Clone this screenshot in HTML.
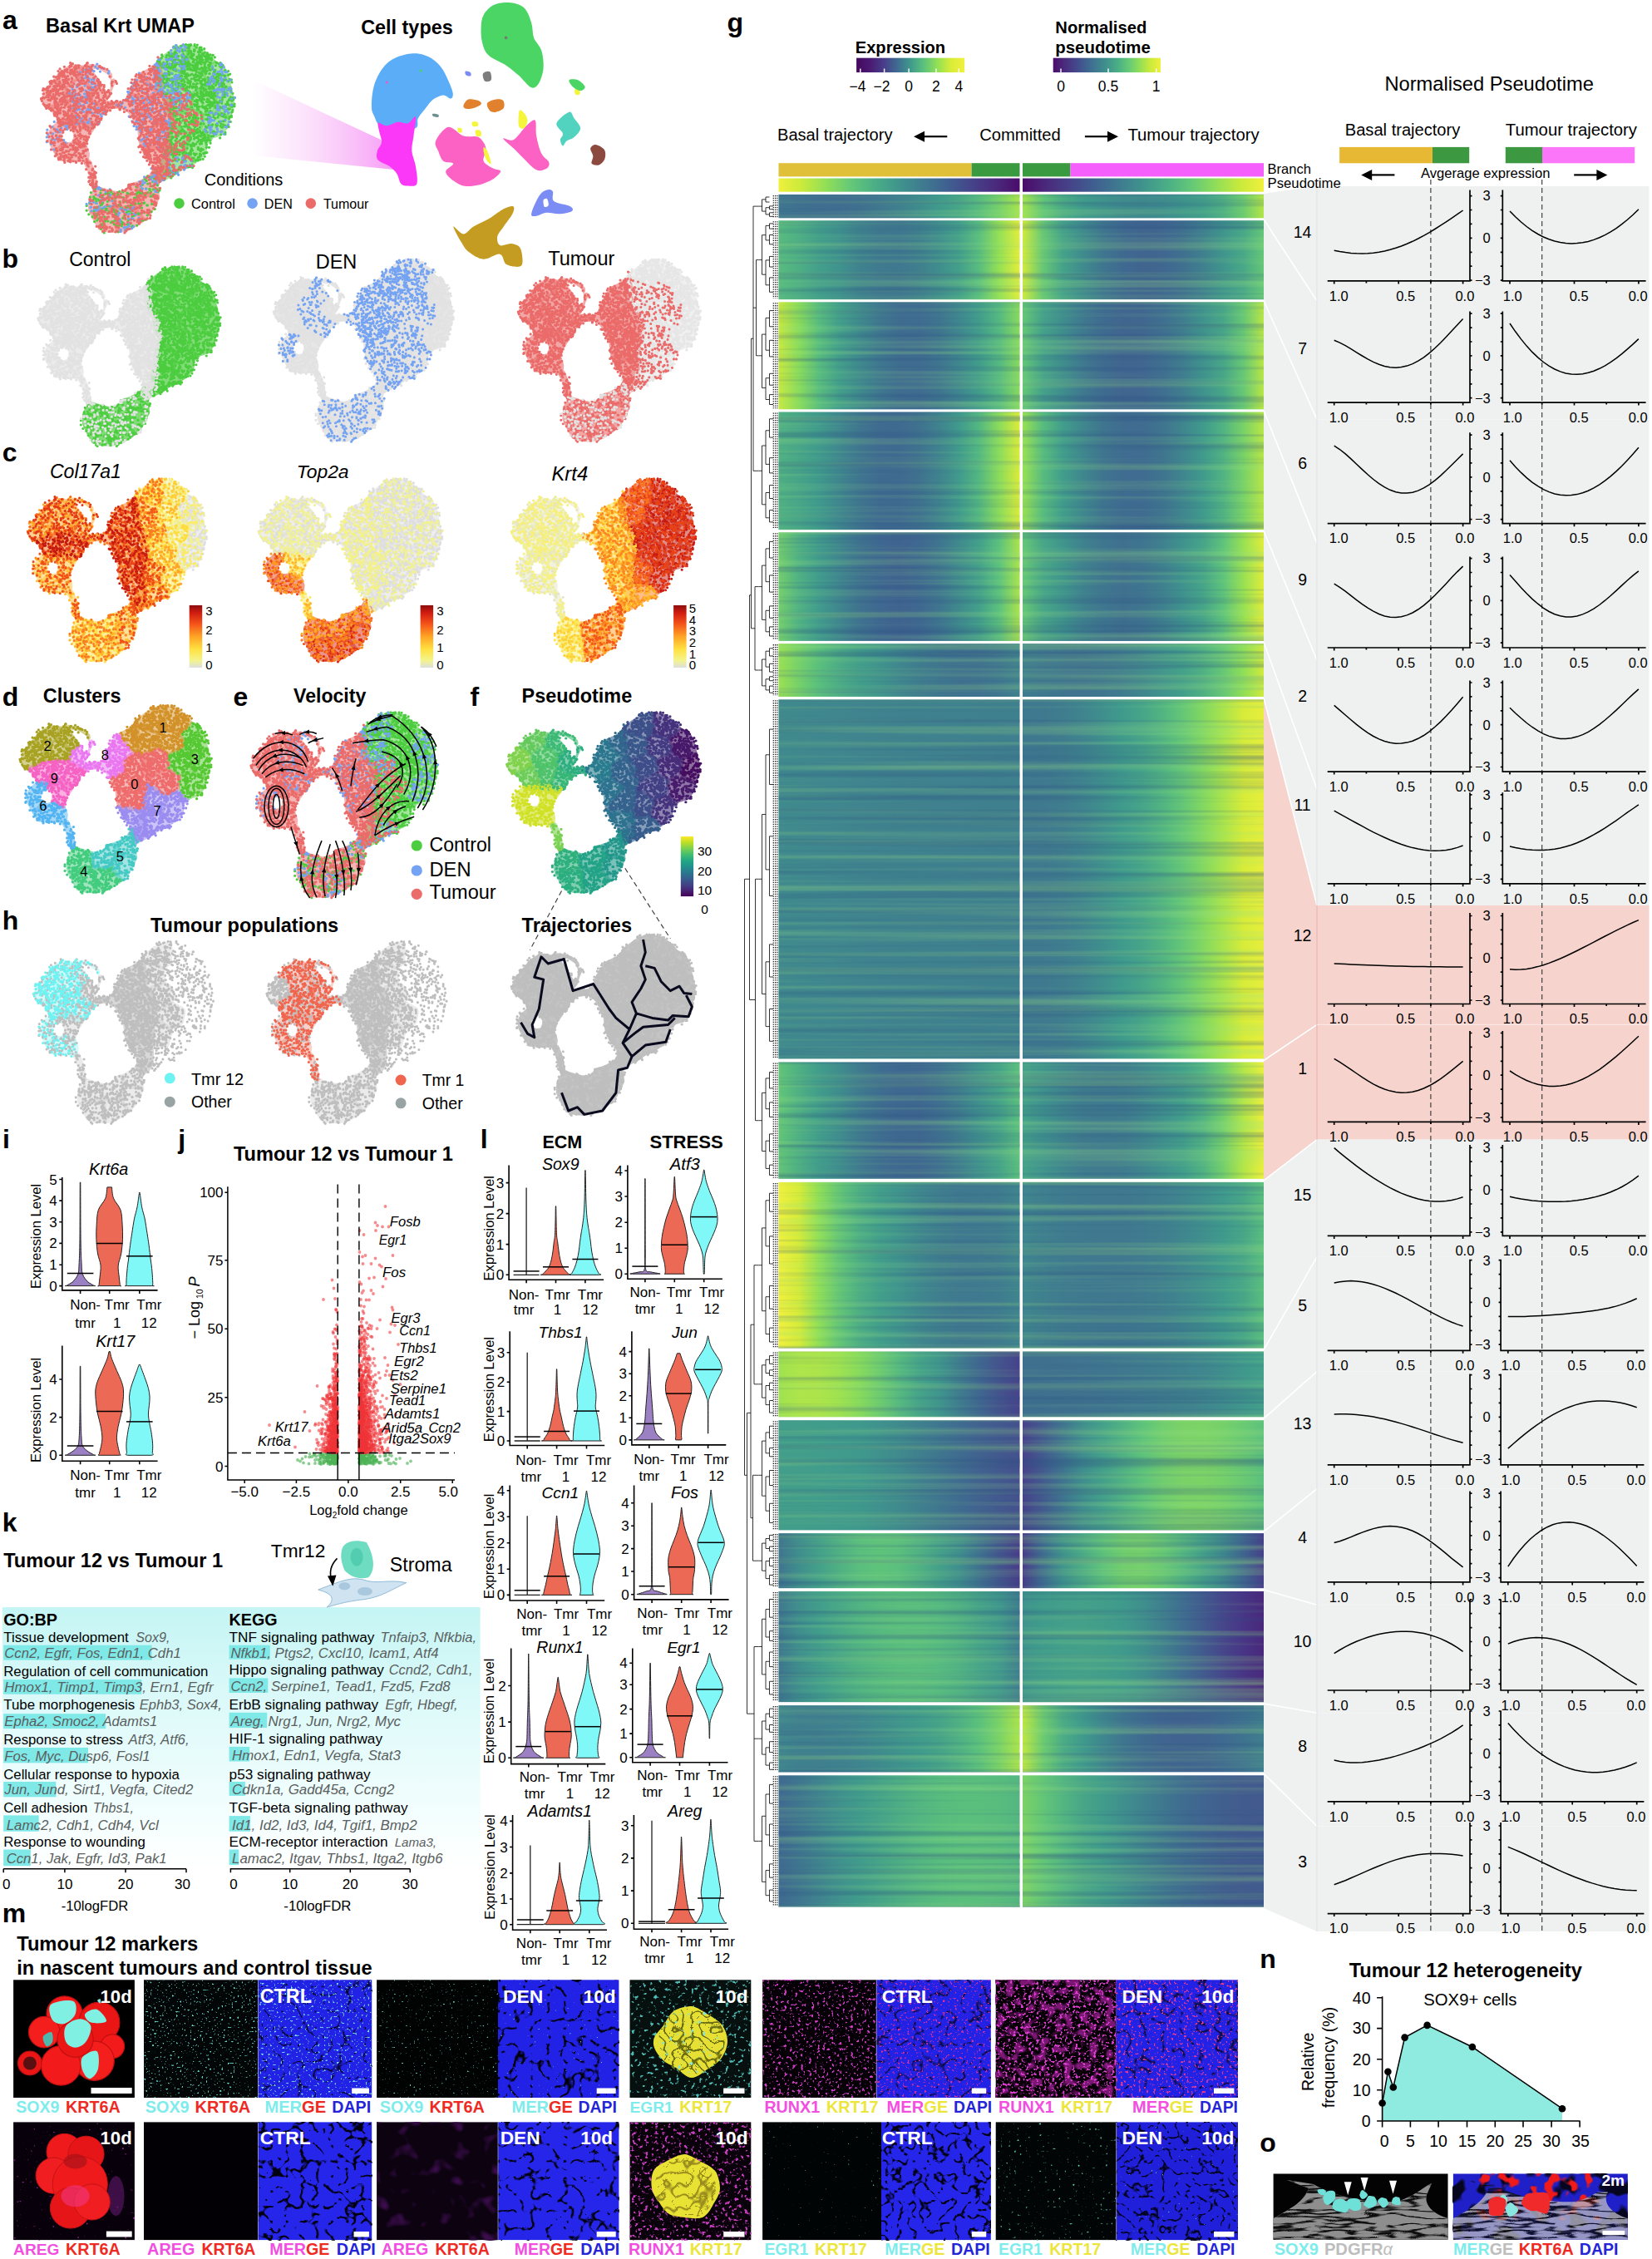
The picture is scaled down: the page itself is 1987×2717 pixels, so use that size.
<!DOCTYPE html>
<html><head><meta charset="utf-8"><title>Figure</title>
<style>
html,body{margin:0;padding:0;background:#fff}
svg{display:block;font-family:"Liberation Sans",sans-serif}

</style></head><body>
<svg width="1987" height="2717" viewBox="0 0 1987 2717">
<defs>
<linearGradient id="h00"><stop offset="0.000" stop-color="#3f768f"/><stop offset="0.083" stop-color="#3f718f"/><stop offset="0.167" stop-color="#3f6e90"/><stop offset="0.250" stop-color="#3f6d90"/><stop offset="0.333" stop-color="#3f708f"/><stop offset="0.417" stop-color="#3f778f"/><stop offset="0.500" stop-color="#3f808e"/><stop offset="0.583" stop-color="#3f8c8d"/><stop offset="0.667" stop-color="#3f9a8c"/><stop offset="0.750" stop-color="#48a687"/><stop offset="0.833" stop-color="#57bb7f"/><stop offset="0.917" stop-color="#77d168"/><stop offset="1.000" stop-color="#a8e44c"/></linearGradient><linearGradient id="h01"><stop offset="0.000" stop-color="#a3e34e"/><stop offset="0.083" stop-color="#62c677"/><stop offset="0.167" stop-color="#4bab85"/><stop offset="0.250" stop-color="#409c8b"/><stop offset="0.333" stop-color="#3f938d"/><stop offset="0.417" stop-color="#3f8c8d"/><stop offset="0.500" stop-color="#3f8a8d"/><stop offset="0.583" stop-color="#3f8e8d"/><stop offset="0.667" stop-color="#3f978c"/><stop offset="0.750" stop-color="#43a08a"/><stop offset="0.833" stop-color="#50b183"/><stop offset="0.917" stop-color="#6ecc6f"/><stop offset="1.000" stop-color="#b2e548"/></linearGradient><linearGradient id="h10"><stop offset="0.000" stop-color="#57bb7f"/><stop offset="0.083" stop-color="#4eaf84"/><stop offset="0.167" stop-color="#439f8a"/><stop offset="0.250" stop-color="#3f938d"/><stop offset="0.333" stop-color="#3f838e"/><stop offset="0.417" stop-color="#3f7a8f"/><stop offset="0.500" stop-color="#3f788f"/><stop offset="0.583" stop-color="#3f7f8e"/><stop offset="0.667" stop-color="#3f8e8d"/><stop offset="0.750" stop-color="#43a08a"/><stop offset="0.833" stop-color="#59be7e"/><stop offset="0.917" stop-color="#96e153"/><stop offset="1.000" stop-color="#e3ee3b"/></linearGradient><linearGradient id="h11"><stop offset="0.000" stop-color="#d0eb3c"/><stop offset="0.083" stop-color="#67c874"/><stop offset="0.167" stop-color="#45a289"/><stop offset="0.250" stop-color="#3f8b8d"/><stop offset="0.333" stop-color="#3f768f"/><stop offset="0.417" stop-color="#3f6990"/><stop offset="0.500" stop-color="#40658f"/><stop offset="0.583" stop-color="#406790"/><stop offset="0.667" stop-color="#3f708f"/><stop offset="0.750" stop-color="#3f808e"/><stop offset="0.833" stop-color="#3f958c"/><stop offset="0.917" stop-color="#49a887"/><stop offset="1.000" stop-color="#64c776"/></linearGradient><linearGradient id="h20"><stop offset="0.000" stop-color="#c8e93f"/><stop offset="0.083" stop-color="#8adc5b"/><stop offset="0.167" stop-color="#58bd7e"/><stop offset="0.250" stop-color="#43a08a"/><stop offset="0.333" stop-color="#3f8b8d"/><stop offset="0.417" stop-color="#3f788f"/><stop offset="0.500" stop-color="#3f6d90"/><stop offset="0.583" stop-color="#3f6c90"/><stop offset="0.667" stop-color="#3f758f"/><stop offset="0.750" stop-color="#3f878e"/><stop offset="0.833" stop-color="#419d8b"/><stop offset="0.917" stop-color="#55b980"/><stop offset="1.000" stop-color="#88da5d"/></linearGradient><linearGradient id="h21"><stop offset="0.000" stop-color="#64c676"/><stop offset="0.083" stop-color="#45a289"/><stop offset="0.167" stop-color="#3f8d8d"/><stop offset="0.250" stop-color="#3f798f"/><stop offset="0.333" stop-color="#3f6b90"/><stop offset="0.417" stop-color="#40668f"/><stop offset="0.500" stop-color="#406790"/><stop offset="0.583" stop-color="#3f6f90"/><stop offset="0.667" stop-color="#3f7e8e"/><stop offset="0.750" stop-color="#3f938d"/><stop offset="0.833" stop-color="#48a687"/><stop offset="0.917" stop-color="#67c874"/><stop offset="1.000" stop-color="#b8e646"/></linearGradient><linearGradient id="h30"><stop offset="0.000" stop-color="#4fb083"/><stop offset="0.083" stop-color="#48a687"/><stop offset="0.167" stop-color="#3f9a8c"/><stop offset="0.250" stop-color="#3f878e"/><stop offset="0.333" stop-color="#3f768f"/><stop offset="0.417" stop-color="#3f6b90"/><stop offset="0.500" stop-color="#3f6a90"/><stop offset="0.583" stop-color="#3f728f"/><stop offset="0.667" stop-color="#3f838e"/><stop offset="0.750" stop-color="#409b8c"/><stop offset="0.833" stop-color="#54b880"/><stop offset="0.917" stop-color="#8cdc5a"/><stop offset="1.000" stop-color="#dcec39"/></linearGradient><linearGradient id="h31"><stop offset="0.000" stop-color="#98e152"/><stop offset="0.083" stop-color="#58bc7e"/><stop offset="0.167" stop-color="#419d8b"/><stop offset="0.250" stop-color="#3f878e"/><stop offset="0.333" stop-color="#3f758f"/><stop offset="0.417" stop-color="#3f6c90"/><stop offset="0.500" stop-color="#3f6c90"/><stop offset="0.583" stop-color="#3f758f"/><stop offset="0.667" stop-color="#3f868e"/><stop offset="0.750" stop-color="#409b8c"/><stop offset="0.833" stop-color="#51b382"/><stop offset="0.917" stop-color="#79d267"/><stop offset="1.000" stop-color="#b8e646"/></linearGradient><linearGradient id="h40"><stop offset="0.000" stop-color="#72ce6c"/><stop offset="0.083" stop-color="#50b183"/><stop offset="0.167" stop-color="#409b8c"/><stop offset="0.250" stop-color="#3f868e"/><stop offset="0.333" stop-color="#3f738f"/><stop offset="0.417" stop-color="#3f6890"/><stop offset="0.500" stop-color="#40648f"/><stop offset="0.583" stop-color="#3f6890"/><stop offset="0.667" stop-color="#3f758f"/><stop offset="0.750" stop-color="#3f8a8d"/><stop offset="0.833" stop-color="#43a08a"/><stop offset="0.917" stop-color="#5cc27c"/><stop offset="1.000" stop-color="#aae44b"/></linearGradient><linearGradient id="h41"><stop offset="0.000" stop-color="#65c775"/><stop offset="0.083" stop-color="#49a787"/><stop offset="0.167" stop-color="#3f958c"/><stop offset="0.250" stop-color="#3f828e"/><stop offset="0.333" stop-color="#3f768f"/><stop offset="0.417" stop-color="#3f718f"/><stop offset="0.500" stop-color="#3f758f"/><stop offset="0.583" stop-color="#3f818e"/><stop offset="0.667" stop-color="#3f938d"/><stop offset="0.750" stop-color="#47a588"/><stop offset="0.833" stop-color="#5ec37b"/><stop offset="0.917" stop-color="#99e152"/><stop offset="1.000" stop-color="#e0ed3a"/></linearGradient><linearGradient id="h50"><stop offset="0.000" stop-color="#9be152"/><stop offset="0.083" stop-color="#76d169"/><stop offset="0.167" stop-color="#59bf7d"/><stop offset="0.250" stop-color="#4cac85"/><stop offset="0.333" stop-color="#429e8a"/><stop offset="0.417" stop-color="#3f948d"/><stop offset="0.500" stop-color="#3f878e"/><stop offset="0.583" stop-color="#3f7d8e"/><stop offset="0.667" stop-color="#3f768f"/><stop offset="0.750" stop-color="#3f728f"/><stop offset="0.833" stop-color="#3f728f"/><stop offset="0.917" stop-color="#3f778f"/><stop offset="1.000" stop-color="#3f818e"/></linearGradient><linearGradient id="h51"><stop offset="0.000" stop-color="#3f7e8e"/><stop offset="0.083" stop-color="#3f788f"/><stop offset="0.167" stop-color="#3f748f"/><stop offset="0.250" stop-color="#3f738f"/><stop offset="0.333" stop-color="#3f768f"/><stop offset="0.417" stop-color="#3f7c8f"/><stop offset="0.500" stop-color="#3f868e"/><stop offset="0.583" stop-color="#3f938d"/><stop offset="0.667" stop-color="#429f8a"/><stop offset="0.750" stop-color="#4fb083"/><stop offset="0.833" stop-color="#66c775"/><stop offset="0.917" stop-color="#90df56"/><stop offset="1.000" stop-color="#cfea3c"/></linearGradient><linearGradient id="h60"><stop offset="0.000" stop-color="#3f8a8d"/><stop offset="0.083" stop-color="#3f888d"/><stop offset="0.167" stop-color="#3f878e"/><stop offset="0.250" stop-color="#3f868e"/><stop offset="0.333" stop-color="#3f848e"/><stop offset="0.417" stop-color="#3f838e"/><stop offset="0.500" stop-color="#3f828e"/><stop offset="0.583" stop-color="#3f828e"/><stop offset="0.667" stop-color="#3f818e"/><stop offset="0.750" stop-color="#3f818e"/><stop offset="0.833" stop-color="#3f808e"/><stop offset="0.917" stop-color="#3f808e"/><stop offset="1.000" stop-color="#3f808e"/></linearGradient><linearGradient id="h61"><stop offset="0.000" stop-color="#3f798f"/><stop offset="0.083" stop-color="#3f798f"/><stop offset="0.167" stop-color="#3f7d8e"/><stop offset="0.250" stop-color="#3f848e"/><stop offset="0.333" stop-color="#3f8f8d"/><stop offset="0.417" stop-color="#3f9b8c"/><stop offset="0.500" stop-color="#47a588"/><stop offset="0.583" stop-color="#52b581"/><stop offset="0.667" stop-color="#65c776"/><stop offset="0.750" stop-color="#83d860"/><stop offset="0.833" stop-color="#aae44b"/><stop offset="0.917" stop-color="#d7ec39"/><stop offset="1.000" stop-color="#e7ee3c"/></linearGradient><linearGradient id="h70"><stop offset="0.000" stop-color="#62c577"/><stop offset="0.083" stop-color="#4fb083"/><stop offset="0.167" stop-color="#419d8b"/><stop offset="0.250" stop-color="#3f8d8d"/><stop offset="0.333" stop-color="#3f7b8f"/><stop offset="0.417" stop-color="#3f6e90"/><stop offset="0.500" stop-color="#3f6890"/><stop offset="0.583" stop-color="#3f6890"/><stop offset="0.667" stop-color="#3f7090"/><stop offset="0.750" stop-color="#3f7e8e"/><stop offset="0.833" stop-color="#3f918d"/><stop offset="0.917" stop-color="#45a388"/><stop offset="1.000" stop-color="#59be7e"/></linearGradient><linearGradient id="h71"><stop offset="0.000" stop-color="#44a189"/><stop offset="0.083" stop-color="#3f948d"/><stop offset="0.167" stop-color="#3f868e"/><stop offset="0.250" stop-color="#3f7d8e"/><stop offset="0.333" stop-color="#3f7a8f"/><stop offset="0.417" stop-color="#3f7c8e"/><stop offset="0.500" stop-color="#3f858e"/><stop offset="0.583" stop-color="#3f928d"/><stop offset="0.667" stop-color="#429f8a"/><stop offset="0.750" stop-color="#51b382"/><stop offset="0.833" stop-color="#73cf6b"/><stop offset="0.917" stop-color="#b4e647"/><stop offset="1.000" stop-color="#eaef3c"/></linearGradient><linearGradient id="h80"><stop offset="0.000" stop-color="#f0f03e"/><stop offset="0.083" stop-color="#d6ec39"/><stop offset="0.167" stop-color="#90df57"/><stop offset="0.250" stop-color="#64c676"/><stop offset="0.333" stop-color="#4eaf84"/><stop offset="0.417" stop-color="#429f8a"/><stop offset="0.500" stop-color="#3f948d"/><stop offset="0.583" stop-color="#3f878e"/><stop offset="0.667" stop-color="#3f7e8e"/><stop offset="0.750" stop-color="#3f798f"/><stop offset="0.833" stop-color="#3f798f"/><stop offset="0.917" stop-color="#3f7c8e"/><stop offset="1.000" stop-color="#3f858e"/></linearGradient><linearGradient id="h81"><stop offset="0.000" stop-color="#3f868e"/><stop offset="0.083" stop-color="#3f808e"/><stop offset="0.167" stop-color="#3f7b8f"/><stop offset="0.250" stop-color="#3f798f"/><stop offset="0.333" stop-color="#3f788f"/><stop offset="0.417" stop-color="#3f788f"/><stop offset="0.500" stop-color="#3f7b8f"/><stop offset="0.583" stop-color="#3f7f8e"/><stop offset="0.667" stop-color="#3f868e"/><stop offset="0.750" stop-color="#3f8f8d"/><stop offset="0.833" stop-color="#3f9a8c"/><stop offset="0.917" stop-color="#48a687"/><stop offset="1.000" stop-color="#59be7e"/></linearGradient><linearGradient id="h90"><stop offset="0.000" stop-color="#a0e24f"/><stop offset="0.083" stop-color="#ade54a"/><stop offset="0.167" stop-color="#ade44a"/><stop offset="0.250" stop-color="#9fe250"/><stop offset="0.333" stop-color="#88db5c"/><stop offset="0.417" stop-color="#6ecc6f"/><stop offset="0.500" stop-color="#56b980"/><stop offset="0.583" stop-color="#46a488"/><stop offset="0.667" stop-color="#3f958c"/><stop offset="0.750" stop-color="#3f7d8e"/><stop offset="0.833" stop-color="#406790"/><stop offset="0.917" stop-color="#44538d"/><stop offset="1.000" stop-color="#47438b"/></linearGradient><linearGradient id="h91"><stop offset="0.000" stop-color="#3f718f"/><stop offset="0.083" stop-color="#3f718f"/><stop offset="0.167" stop-color="#3f728f"/><stop offset="0.250" stop-color="#3f738f"/><stop offset="0.333" stop-color="#3f758f"/><stop offset="0.417" stop-color="#3f788f"/><stop offset="0.500" stop-color="#3f7b8f"/><stop offset="0.583" stop-color="#3f7e8e"/><stop offset="0.667" stop-color="#3f828e"/><stop offset="0.750" stop-color="#3f878e"/><stop offset="0.833" stop-color="#3f8e8d"/><stop offset="0.917" stop-color="#3f988c"/><stop offset="1.000" stop-color="#43a08a"/></linearGradient><linearGradient id="h100"><stop offset="0.000" stop-color="#429e8a"/><stop offset="0.083" stop-color="#429e8a"/><stop offset="0.167" stop-color="#419d8b"/><stop offset="0.250" stop-color="#409b8c"/><stop offset="0.333" stop-color="#3f998c"/><stop offset="0.417" stop-color="#3f928d"/><stop offset="0.500" stop-color="#3f8a8d"/><stop offset="0.583" stop-color="#3f808e"/><stop offset="0.667" stop-color="#3f768f"/><stop offset="0.750" stop-color="#3f6c90"/><stop offset="0.833" stop-color="#41628f"/><stop offset="0.917" stop-color="#42598e"/><stop offset="1.000" stop-color="#44518d"/></linearGradient><linearGradient id="h101"><stop offset="0.000" stop-color="#47428b"/><stop offset="0.083" stop-color="#425a8e"/><stop offset="0.167" stop-color="#3f748f"/><stop offset="0.250" stop-color="#3f8e8d"/><stop offset="0.333" stop-color="#43a08a"/><stop offset="0.417" stop-color="#50b183"/><stop offset="0.500" stop-color="#5dc37b"/><stop offset="0.583" stop-color="#70cd6e"/><stop offset="0.667" stop-color="#7ad267"/><stop offset="0.750" stop-color="#7bd366"/><stop offset="0.833" stop-color="#74d06a"/><stop offset="0.917" stop-color="#68c973"/><stop offset="1.000" stop-color="#5bc07d"/></linearGradient><linearGradient id="h110"><stop offset="0.000" stop-color="#3f758f"/><stop offset="0.083" stop-color="#3f8e8d"/><stop offset="0.167" stop-color="#43a08a"/><stop offset="0.250" stop-color="#4fb083"/><stop offset="0.333" stop-color="#59be7e"/><stop offset="0.417" stop-color="#5dc37b"/><stop offset="0.500" stop-color="#5abf7d"/><stop offset="0.583" stop-color="#50b183"/><stop offset="0.667" stop-color="#44a089"/><stop offset="0.750" stop-color="#3f8e8d"/><stop offset="0.833" stop-color="#3f728f"/><stop offset="0.917" stop-color="#43558d"/><stop offset="1.000" stop-color="#483c89"/></linearGradient><linearGradient id="h111"><stop offset="0.000" stop-color="#483c89"/><stop offset="0.083" stop-color="#3f6c90"/><stop offset="0.167" stop-color="#3f948c"/><stop offset="0.250" stop-color="#4cac85"/><stop offset="0.333" stop-color="#5dc37b"/><stop offset="0.417" stop-color="#70cd6d"/><stop offset="0.500" stop-color="#73cf6b"/><stop offset="0.583" stop-color="#66c875"/><stop offset="0.667" stop-color="#54b781"/><stop offset="0.750" stop-color="#44a189"/><stop offset="0.833" stop-color="#3f898d"/><stop offset="0.917" stop-color="#40668f"/><stop offset="1.000" stop-color="#483f8a"/></linearGradient><linearGradient id="h120"><stop offset="0.000" stop-color="#3f788f"/><stop offset="0.083" stop-color="#3f8f8d"/><stop offset="0.167" stop-color="#419d8b"/><stop offset="0.250" stop-color="#49a887"/><stop offset="0.333" stop-color="#50b282"/><stop offset="0.417" stop-color="#56b97f"/><stop offset="0.500" stop-color="#59bd7e"/><stop offset="0.583" stop-color="#59bd7e"/><stop offset="0.667" stop-color="#55b980"/><stop offset="0.750" stop-color="#4fb083"/><stop offset="0.833" stop-color="#46a388"/><stop offset="0.917" stop-color="#3f978c"/><stop offset="1.000" stop-color="#3f7d8e"/></linearGradient><linearGradient id="h121"><stop offset="0.000" stop-color="#3f948d"/><stop offset="0.083" stop-color="#409c8b"/><stop offset="0.167" stop-color="#439f8a"/><stop offset="0.250" stop-color="#44a089"/><stop offset="0.333" stop-color="#429e8a"/><stop offset="0.417" stop-color="#3f9a8c"/><stop offset="0.500" stop-color="#3f8f8d"/><stop offset="0.583" stop-color="#3f7f8e"/><stop offset="0.667" stop-color="#3f6d90"/><stop offset="0.750" stop-color="#425a8e"/><stop offset="0.833" stop-color="#46468b"/><stop offset="0.917" stop-color="#483585"/><stop offset="1.000" stop-color="#49287c"/></linearGradient><linearGradient id="h130"><stop offset="0.000" stop-color="#3f868e"/><stop offset="0.083" stop-color="#3f808e"/><stop offset="0.167" stop-color="#3f7f8e"/><stop offset="0.250" stop-color="#3f818e"/><stop offset="0.333" stop-color="#3f858e"/><stop offset="0.417" stop-color="#3f8c8d"/><stop offset="0.500" stop-color="#3f948c"/><stop offset="0.583" stop-color="#409b8b"/><stop offset="0.667" stop-color="#46a388"/><stop offset="0.750" stop-color="#4fb083"/><stop offset="0.833" stop-color="#5bc17c"/><stop offset="0.917" stop-color="#7bd366"/><stop offset="1.000" stop-color="#ace44a"/></linearGradient><linearGradient id="h131"><stop offset="0.000" stop-color="#bee743"/><stop offset="0.083" stop-color="#6dcc6f"/><stop offset="0.167" stop-color="#4cac85"/><stop offset="0.250" stop-color="#3f9a8c"/><stop offset="0.333" stop-color="#3f868e"/><stop offset="0.417" stop-color="#3f768f"/><stop offset="0.500" stop-color="#3f6b90"/><stop offset="0.583" stop-color="#40658f"/><stop offset="0.667" stop-color="#40638f"/><stop offset="0.750" stop-color="#40658f"/><stop offset="0.833" stop-color="#3f6a90"/><stop offset="0.917" stop-color="#3f738f"/><stop offset="1.000" stop-color="#3f7f8e"/></linearGradient><linearGradient id="h140"><stop offset="0.000" stop-color="#3f6a90"/><stop offset="0.083" stop-color="#3f758f"/><stop offset="0.167" stop-color="#3f838e"/><stop offset="0.250" stop-color="#3f918d"/><stop offset="0.333" stop-color="#409b8b"/><stop offset="0.417" stop-color="#46a488"/><stop offset="0.500" stop-color="#4dad84"/><stop offset="0.583" stop-color="#53b681"/><stop offset="0.667" stop-color="#57bc7e"/><stop offset="0.750" stop-color="#5abf7d"/><stop offset="0.833" stop-color="#5abf7d"/><stop offset="0.917" stop-color="#58bc7e"/><stop offset="1.000" stop-color="#54b780"/></linearGradient><linearGradient id="h141"><stop offset="0.000" stop-color="#7bd365"/><stop offset="0.083" stop-color="#63c677"/><stop offset="0.167" stop-color="#53b681"/><stop offset="0.250" stop-color="#48a687"/><stop offset="0.333" stop-color="#409c8b"/><stop offset="0.417" stop-color="#3f908d"/><stop offset="0.500" stop-color="#3f838e"/><stop offset="0.583" stop-color="#3f778f"/><stop offset="0.667" stop-color="#3f6c90"/><stop offset="0.750" stop-color="#40658f"/><stop offset="0.833" stop-color="#415f8e"/><stop offset="0.917" stop-color="#425b8e"/><stop offset="1.000" stop-color="#425a8e"/></linearGradient><filter id="stk" x="0" y="0" width="100%" height="100%" color-interpolation-filters="sRGB"><feTurbulence type="fractalNoise" baseFrequency="0.001 0.11" numOctaves="3" seed="5"/><feColorMatrix type="matrix" values="0 0 0 0 0.16 0 0 0 0 0.3 0 0 0 0 0.5 1.0 0 0 0 -0.48"/></filter><filter id="stl" x="0" y="0" width="100%" height="100%" color-interpolation-filters="sRGB"><feTurbulence type="fractalNoise" baseFrequency="0.001 0.11" numOctaves="3" seed="9"/><feColorMatrix type="matrix" values="0 0 0 0 0.6 0 0 0 0 0.88 0 0 0 0 0.5 0.95 0 0 0 -0.45"/></filter><linearGradient id="vr"><stop offset="0.00" stop-color="#eff03c"/><stop offset="0.10" stop-color="#c8ea3c"/><stop offset="0.20" stop-color="#8fde58"/><stop offset="0.30" stop-color="#64c878"/><stop offset="0.40" stop-color="#4aae86"/><stop offset="0.50" stop-color="#3f948c"/><stop offset="0.60" stop-color="#3f7a90"/><stop offset="0.70" stop-color="#3f6090"/><stop offset="0.80" stop-color="#45448a"/><stop offset="0.90" stop-color="#4a2a7c"/><stop offset="1.00" stop-color="#4a0c6b"/></linearGradient><linearGradient id="vf"><stop offset="0.00" stop-color="#4a0c6b"/><stop offset="0.10" stop-color="#4a2a7c"/><stop offset="0.20" stop-color="#45448a"/><stop offset="0.30" stop-color="#3f6090"/><stop offset="0.40" stop-color="#3f7a90"/><stop offset="0.50" stop-color="#3f948c"/><stop offset="0.60" stop-color="#4aae86"/><stop offset="0.70" stop-color="#64c878"/><stop offset="0.80" stop-color="#8fde58"/><stop offset="0.90" stop-color="#c8ea3c"/><stop offset="1.00" stop-color="#eff03c"/></linearGradient><linearGradient id="ve"><stop offset="0.000" stop-color="#46085f"/><stop offset="0.125" stop-color="#4a1a72"/><stop offset="0.250" stop-color="#483d8a"/><stop offset="0.375" stop-color="#3f6a90"/><stop offset="0.500" stop-color="#3f9a8c"/><stop offset="0.625" stop-color="#5cc27c"/><stop offset="0.750" stop-color="#92e055"/><stop offset="0.875" stop-color="#d9ec38"/><stop offset="1.000" stop-color="#f0f03e"/></linearGradient>
<path id="c0" d="M430.6 97.9L430.0 97.9L429.4 98.0L428.8 98.1L428.3 98.3L401.0 109.5L400.5 109.8L400.0 110.1L399.5 110.4L399.1 110.8L398.7 111.2L398.3 111.7L398.0 112.2L397.8 112.7L397.5 113.2L397.4 113.8L392.7 133.2L392.6 133.8L391.3 144.2L391.2 144.7L391.2 145.3L391.3 145.9L391.9 150.1L392.0 150.8L392.2 151.4L392.5 152.0L392.8 152.6L393.2 153.1L395.9 156.4L396.4 156.9L407.6 168.0L408.1 168.4L408.6 168.8L409.2 169.1L409.7 169.3L427.8 176.2L428.4 176.4L429.1 176.5L429.7 176.5L430.4 176.5L430.7 176.5L431.9 172.0L431.9 171.9L439.9 150.0L439.9 149.9L439.9 149.8L439.9 149.7L440.9 127.8L440.9 127.7L440.9 127.6L440.9 127.5L434.0 98.2L433.7 98.2L433.1 98.1L431.1 97.9Z"/><path id="p0_0" d="M433 104h0M412 138h0M398 149h0M397 145h0M434 167h0M434 170h0M416 119h0M425 135h0M417 112h0M435 159h0M406 136h0M437 154h0M421 145h0M441 145h0M424 115h0M436 132h0M434 169h0M413 130h0M437 115h0M406 149h0M435 141h0M433 109h0M419 117h0M436 158h0M402 136h0M426 151h0M421 115h0M430 128h0M419 123h0M408 132h0M419 157h0M427 141h0M406 147h0M430 151h0M412 133h0M438 125h0"/><path id="p0_1" d="M436 127h0M439 144h0M412 164h0M432 124h0M427 161h0M399 135h0M420 116h0M430 143h0M418 164h0M412 148h0M425 141h0M410 148h0M434 132h0M435 146h0M430 170h0M404 151h0M412 162h0M410 147h0M434 130h0M403 140h0M428 152h0M428 131h0M421 141h0M439 129h0M441 140h0M425 137h0M426 107h0M406 146h0M416 151h0M414 125h0M435 130h0"/><path id="p0_2" d="M420 145h0M428 160h0M402 147h0M426 107h0M404 147h0M402 142h0M408 125h0M414 113h0M416 150h0M433 105h0M425 120h0M421 147h0M420 158h0M401 152h0M403 123h0M433 112h0M403 115h0M433 142h0M442 125h0M422 154h0M410 134h0M428 160h0M407 153h0M424 156h0M431 104h0M434 128h0M435 142h0M415 145h0M404 154h0M423 114h0M414 119h0"/><path id="c1" d="M266.6 48.3L267.1 48.6L277.1 54.1L277.4 54.3L292.0 61.2L292.8 61.5L316.9 69.1L317.4 69.3L318.0 69.4L318.6 69.4L319.2 69.4L319.8 69.3L320.4 69.2L321.0 69.0L321.6 68.7L322.1 68.4L322.6 68.1L326.5 64.9L326.6 64.8L336.4 56.7L336.8 56.4L337.2 55.9L337.5 55.5L337.8 55.0L338.1 54.5L338.3 54.0L338.7 52.7L338.9 52.1L339.0 51.6L339.1 51.0L340.7 17.3L340.7 16.8L340.4 8.6L340.4 7.9L340.2 7.2L340.0 6.6L339.8 6.0L336.8 0.1L335.5 -0.2L335.4 -0.2L335.3 -0.3L335.2 -0.2L335.1 -0.2L316.0 2.9L315.9 2.9L315.8 2.9L315.7 3.0L293.4 14.0L293.3 14.0L293.2 14.1L267.7 32.9L267.7 32.9L267.7 32.9L267.6 32.9L267.6 32.9L267.6 33.0L267.6 33.0L267.6 33.0L267.5 33.0L267.5 33.1L267.5 33.1L267.5 33.1L267.5 33.1L267.5 33.1L267.5 33.1L267.4 33.2L267.4 33.2L267.4 33.2L267.4 33.2L267.4 33.3L267.4 33.3L262.8 45.3L262.8 45.3L262.7 45.4L262.7 45.5L262.6 45.5L262.6 45.6Z"/><path id="p1_0" d="M320 45h0M328 15h0M291 34h0M298 49h0M323 13h0M328 51h0M304 20h0M280 49h0M270 38h0M302 6h0M316 42h0M333 51h0M306 17h0M309 23h0M328 42h0M305 45h0M302 30h0M303 8h0M298 32h0M321 58h0M299 46h0M324 23h0M295 55h0M293 23h0M270 43h0M307 36h0M301 56h0M305 24h0M282 47h0M309 28h0M305 53h0M335 17h0M323 47h0M302 37h0M320 56h0M308 3h0M322 14h0M277 47h0M265 40h0M328 45h0M304 52h0M325 49h0M320 41h0M324 42h0M325 57h0M331 30h0M274 33h0M320 27h0M327 42h0M293 28h0M287 41h0M303 51h0M290 26h0M311 8h0M306 29h0M320 4h0M316 49h0M318 5h0M297 55h0M310 44h0M322 29h0M297 24h0M322 31h0M329 35h0M322 38h0M311 46h0M275 25h0"/><path id="p1_1" d="M327 36h0M276 29h0M323 60h0M307 49h0M334 9h0M327 30h0M307 20h0M322 16h0M316 38h0M296 37h0M313 28h0M288 47h0M299 38h0M279 43h0M324 46h0M322 51h0M323 42h0M328 49h0M312 36h0M295 56h0M306 10h0M333 33h0M332 52h0M323 41h0M301 42h0M330 1h0M334 9h0M298 29h0M287 26h0M297 37h0M323 17h0M325 26h0M286 27h0M299 23h0M319 63h0M285 31h0M291 53h0M297 49h0M300 23h0M291 20h0M286 48h0M305 26h0M268 36h0M294 48h0M328 33h0M332 45h0M279 47h0"/><path id="p1_2" d="M313 43h0M291 37h0M285 36h0M309 8h0M324 1h0M309 25h0M306 31h0M331 36h0M319 8h0M294 49h0M326 14h0M333 35h0M301 8h0M304 43h0M296 22h0M268 36h0M287 36h0M325 51h0M326 57h0M305 59h0M330 8h0M327 51h0M305 41h0M296 23h0M316 51h0M297 34h0M283 46h0M306 29h0M315 18h0M324 42h0M325 29h0M311 15h0M323 58h0M316 10h0M280 46h0M316 16h0M322 36h0M319 52h0M294 34h0M296 15h0M270 36h0M293 46h0M311 33h0M298 36h0M321 25h0M310 15h0M327 6h0M314 62h0M307 3h0"/><path id="c2" d="M366.8 97.1L366.3 97.2L365.7 97.3L365.1 97.4L364.6 97.6L364.0 97.9L363.5 98.2L341.9 113.1L341.4 113.5L340.9 114.0L340.5 114.5L340.1 115.0L339.8 115.6L337.6 120.3L337.4 120.8L337.2 121.3L337.1 121.9L337.1 122.4L337.0 123.0L337.5 146.9L337.5 147.5L337.6 148.1L337.8 148.7L338.0 149.3L338.3 149.8L338.6 150.3L339.0 150.8L339.4 151.2L339.9 151.6L340.4 152.0L361.3 165.0L361.8 165.3L362.4 165.6L362.9 165.8L363.5 165.9L364.1 166.0L364.7 166.0L384.2 165.4L384.8 165.3L385.4 165.2L386.0 165.1L386.5 164.9L387.0 164.6L387.5 164.3L388.0 163.9L388.5 163.5L390.5 161.4L390.8 161.0L391.1 160.6L391.4 160.1L391.6 159.7L400.5 140.0L400.7 139.5L400.8 139.0L400.9 138.5L403.7 121.6L403.8 121.0L403.8 120.4L403.8 119.8L403.6 119.2L402.2 112.9L402.0 112.3L401.8 111.7L401.5 111.2L399.2 107.3L398.8 106.8L398.4 106.3L398.0 105.8L397.5 105.4L397.0 105.1L386.3 99.0L385.8 98.7L385.3 98.5L384.7 98.3L384.2 98.2L383.6 98.1L367.4 97.1Z"/><path id="p2_0" d="M356 113h0M386 157h0M369 115h0M385 134h0M372 104h0M367 103h0M364 111h0M369 116h0M393 117h0M376 113h0M357 131h0M377 116h0M366 134h0M352 142h0M387 124h0M350 141h0M343 123h0M355 143h0M364 110h0M391 136h0M367 124h0M364 131h0M392 125h0M374 118h0M392 118h0M370 148h0M395 137h0M370 148h0M354 117h0M390 142h0M377 120h0M365 112h0M367 129h0M356 146h0M345 128h0M350 133h0M349 141h0M364 132h0M380 135h0M394 110h0M389 117h0M350 117h0M369 120h0M361 123h0M383 143h0M378 155h0M380 128h0"/><path id="p2_1" d="M368 145h0M356 149h0M351 144h0M368 124h0M383 121h0M391 143h0M375 157h0M367 114h0M387 125h0M377 150h0M376 107h0M377 134h0M364 128h0M371 109h0M376 145h0M372 121h0M365 160h0M359 123h0M387 111h0M376 145h0M371 148h0M355 135h0M378 111h0M376 106h0M379 128h0M354 130h0M363 115h0M398 121h0M356 145h0M383 104h0M370 146h0M392 125h0M372 147h0M385 121h0M368 128h0M356 140h0M391 141h0M376 117h0M388 142h0M368 145h0M396 114h0M356 115h0M361 146h0M369 138h0M378 153h0M395 131h0M369 137h0M384 139h0M384 159h0M355 119h0M382 130h0M356 136h0"/><path id="p2_2" d="M367 146h0M388 145h0M359 153h0M387 136h0M357 120h0M365 119h0M368 136h0M382 143h0M376 152h0M380 142h0M372 129h0M382 115h0M385 149h0M357 153h0M390 115h0M392 121h0M373 150h0M363 158h0M344 147h0M366 131h0M364 115h0M383 112h0M382 118h0M367 133h0M387 121h0M362 130h0M393 127h0M357 153h0M355 134h0M355 120h0M379 151h0M383 115h0M376 151h0M367 113h0M390 140h0M393 137h0M388 125h0M362 128h0M367 145h0M387 115h0M384 115h0M348 123h0M351 118h0M380 118h0M345 118h0M394 117h0M353 133h0"/><path id="c3" d="M385.0 153.5L384.4 153.6L383.9 153.7L383.3 153.8L382.8 154.0L382.2 154.2L372.6 159.3L372.1 159.6L371.7 159.9L371.2 160.3L370.9 160.7L370.5 161.2L370.2 161.6L369.9 162.1L363.3 176.3L363.1 176.8L363.0 177.3L362.8 177.9L362.8 178.5L362.8 179.0L362.8 179.6L362.9 180.1L367.2 200.5L367.4 201.1L367.6 201.7L367.9 202.3L370.7 207.4L370.9 207.7L376.4 216.2L376.8 216.7L377.1 217.1L377.5 217.5L378.0 217.9L378.4 218.2L378.9 218.4L379.5 218.6L386.2 221.1L387.0 221.4L390.6 222.1L393.1 219.7L393.1 219.6L393.2 219.6L393.3 219.5L393.3 219.5L393.4 219.5L412.2 213.3L412.3 213.3L412.3 213.2L412.4 213.2L412.5 213.1L412.5 213.1L412.6 213.0L425.3 197.4L425.4 197.3L425.5 197.2L425.5 197.1L425.5 197.0L431.9 172.0L431.9 171.9L433.0 168.8L432.6 168.5L432.1 168.1L415.9 159.4L415.4 159.2L414.8 158.9L401.4 155.0L400.8 154.8L400.2 154.7L385.6 153.6Z"/><path id="p3_0" d="M389 192h0M403 171h0M391 206h0M415 180h0M410 204h0M394 209h0M410 211h0M392 204h0M406 181h0M410 186h0M416 169h0M385 169h0M377 195h0M420 210h0M399 210h0M397 161h0M381 175h0M380 177h0M386 178h0M398 207h0M394 204h0M428 193h0M399 188h0M381 165h0M382 189h0M412 194h0M432 181h0M408 219h0M400 193h0M420 206h0M420 190h0M413 168h0"/><path id="p3_1" d="M393 214h0M376 165h0M376 202h0M404 164h0M388 215h0M393 165h0M414 194h0M371 186h0M412 167h0M402 189h0M416 189h0M415 188h0M426 190h0M377 205h0M376 175h0M419 179h0M399 206h0M409 191h0M421 171h0M418 179h0M375 192h0M380 173h0M381 166h0M397 173h0M379 205h0M393 170h0M429 174h0M387 179h0M401 190h0M405 166h0M379 194h0M382 213h0M388 190h0M391 188h0"/><path id="p3_2" d="M402 185h0M394 208h0M399 162h0M402 199h0M410 205h0M413 204h0M390 160h0M399 209h0M386 207h0M373 199h0M387 194h0M413 165h0M427 188h0M382 183h0M385 197h0M420 177h0M397 164h0M369 179h0M382 194h0M386 193h0M420 193h0M387 180h0M400 161h0M388 193h0M388 199h0M401 196h0M423 194h0M429 181h0M384 184h0M395 210h0M403 204h0M394 178h0M417 210h0M386 202h0M385 197h0M382 171h0M385 160h0M386 176h0M387 172h0M382 180h0M376 204h0M410 180h0M389 177h0"/><path id="c4" d="M330.3 0.8L330.2 1.4L330.1 2.0L329.1 24.2L329.1 24.4L328.8 40.5L328.8 40.6L328.8 50.8L328.8 51.4L328.9 52.0L329.0 52.6L329.2 53.2L329.5 53.8L329.8 54.3L330.2 54.8L330.6 55.2L331.1 55.6L331.6 56.0L332.1 56.3L332.7 56.6L349.5 63.0L349.8 63.2L367.2 68.7L367.8 68.9L368.5 69.0L369.1 69.0L373.4 69.0L374.0 68.9L374.6 68.8L375.1 68.7L375.7 68.5L376.3 68.2L376.8 67.9L377.3 67.5L386.4 59.8L386.9 59.3L387.4 58.8L387.7 58.2L398.7 39.4L398.3 39.2L398.2 39.2L398.1 39.1L398.1 39.1L398.0 39.0L397.9 39.0L383.9 22.0L383.8 22.0L383.7 21.9L383.7 21.9L361.3 6.2L361.2 6.1L361.2 6.1L361.1 6.1L361.0 6.0L335.5 -0.2L335.4 -0.2L335.3 -0.3L335.2 -0.2L335.1 -0.2L330.4 0.5Z"/><path id="p4_0" d="M354 8h0M374 44h0M362 58h0M350 4h0M389 32h0M361 16h0M345 49h0M367 37h0M378 31h0M376 28h0M361 37h0M369 58h0M349 51h0M358 18h0M380 35h0M368 24h0M391 26h0M376 55h0M372 11h0M343 33h0M352 47h0M343 24h0M361 32h0M337 10h0M340 30h0M364 14h0M363 27h0M350 1h0M347 42h0M336 2h0M392 26h0M363 19h0M369 61h0M369 59h0M366 30h0M347 26h0M356 53h0M353 56h0M370 43h0M377 32h0M373 48h0M347 35h0M335 51h0M339 50h0M349 37h0M354 36h0M381 31h0M376 35h0M357 46h0M337 7h0"/><path id="p4_1" d="M340 18h0M342 19h0M353 54h0M379 21h0M383 35h0M341 3h0M357 49h0M365 8h0M387 36h0M350 15h0M345 24h0M356 45h0M356 2h0M362 43h0M336 47h0M357 57h0M335 41h0M341 16h0M364 33h0M372 28h0M373 20h0M371 22h0M386 25h0M387 44h0M386 33h0M386 45h0M376 41h0M344 29h0M375 30h0M389 37h0M364 43h0M381 49h0M372 55h0M354 51h0M382 26h0M379 40h0M349 17h0M348 54h0M374 59h0"/><path id="p4_2" d="M358 44h0M348 54h0M341 1h0M346 35h0M362 8h0M352 57h0M378 25h0M349 13h0M369 63h0M338 2h0M346 42h0M361 12h0M368 62h0M396 31h0M383 31h0M366 33h0M368 22h0M365 47h0M336 43h0M366 14h0M363 12h0M364 46h0M360 25h0M383 50h0M335 24h0M338 16h0M359 19h0M369 37h0M355 30h0M358 30h0M382 55h0M357 32h0M349 53h0M366 55h0M338 21h0M385 49h0M365 41h0M355 45h0M384 43h0M348 24h0M340 47h0M348 42h0M373 52h0M362 40h0M376 37h0M354 45h0M356 41h0M352 57h0M373 63h0M384 52h0"/><path id="c5" d="M338.6 50.7L338.0 50.7L337.5 50.8L336.9 51.0L325.3 54.7L324.8 54.9L324.3 55.2L323.8 55.5L323.3 55.8L322.9 56.2L316.5 62.5L316.1 63.0L315.7 63.5L315.4 64.0L315.1 64.6L314.9 65.1L314.8 65.8L314.7 66.4L312.4 93.8L312.4 94.4L312.4 94.9L312.5 95.5L312.7 96.1L312.9 96.6L313.1 97.1L313.4 97.6L319.2 106.7L319.6 107.2L320.0 107.7L320.5 108.1L321.0 108.5L331.4 115.4L332.0 115.7L332.6 116.0L336.4 117.5L337.0 117.7L337.6 117.8L338.2 117.9L338.8 117.9L339.5 117.8L340.1 117.7L340.7 117.6L365.0 109.0L365.2 108.9L368.6 107.6L369.2 107.3L369.7 107.0L370.2 106.7L371.5 105.6L371.8 105.3L378.8 99.1L379.2 98.7L379.5 98.3L379.9 97.8L380.2 97.3L380.4 96.8L380.6 96.2L380.7 95.7L380.8 95.1L380.8 94.5L380.8 91.9L380.8 91.7L380.4 81.8L380.3 81.2L380.2 80.5L380.0 79.9L379.8 79.4L379.5 78.8L370.5 64.2L370.1 63.6L369.7 63.1L369.2 62.7L368.7 62.3L354.5 52.6L353.9 52.2L353.3 51.9L352.7 51.7L352.1 51.6L351.4 51.5L339.2 50.7Z"/><path id="p5_0" d="M369 82h0M323 83h0M363 103h0M364 78h0M358 74h0M339 86h0M324 94h0M348 73h0M353 63h0M329 105h0M374 82h0M331 78h0M336 89h0M334 83h0M335 74h0M366 97h0M360 67h0M339 57h0M365 92h0M352 86h0M355 84h0M335 91h0M341 58h0M363 91h0M321 67h0M328 76h0M340 72h0M368 101h0M373 86h0M354 65h0M365 69h0M349 79h0M326 69h0M339 112h0M340 94h0M372 95h0M355 102h0M366 102h0M330 71h0M366 69h0M341 88h0M352 71h0"/><path id="p5_1" d="M327 68h0M324 100h0M354 72h0M321 74h0M324 103h0M340 60h0M344 99h0M325 83h0M347 93h0M330 79h0M338 101h0M331 102h0M360 85h0M353 94h0M327 64h0M340 58h0M345 102h0M330 75h0M322 66h0M375 92h0M366 86h0M328 95h0M357 75h0M351 58h0M345 61h0M375 95h0M330 78h0M353 107h0M351 84h0M322 83h0M364 89h0M347 61h0M354 99h0M326 65h0M348 99h0M360 83h0"/><path id="p5_2" d="M339 99h0M335 110h0M361 76h0M353 62h0M332 103h0M343 81h0M327 61h0M357 83h0M364 70h0M319 94h0M366 86h0M351 101h0M361 78h0M363 70h0M327 88h0M353 72h0M325 66h0M356 74h0M320 86h0M356 92h0M367 73h0M365 67h0M334 89h0M344 70h0M349 81h0M347 61h0M350 60h0M326 97h0M335 72h0M333 69h0M333 99h0M368 94h0M353 77h0M334 59h0"/><path id="c6" d="M261.1 93.1L261.2 93.5L261.3 94.0L265.0 108.4L265.2 108.9L265.4 109.5L265.7 110.0L266.0 110.5L266.3 110.9L273.9 119.6L274.4 120.1L274.8 120.5L275.3 120.8L275.9 121.1L276.4 121.4L277.0 121.6L277.6 121.7L278.3 121.7L278.9 121.7L279.5 121.7L280.1 121.6L280.7 121.4L306.5 111.9L306.9 111.7L307.4 111.5L313.8 107.8L314.3 107.5L314.8 107.1L321.8 100.8L322.2 100.3L322.6 99.8L323.0 99.3L323.2 98.7L323.5 98.1L323.6 97.5L323.7 96.9L323.8 96.3L324.0 79.8L323.9 79.0L323.5 74.8L323.4 74.1L323.2 73.5L323.0 72.9L322.7 72.3L322.3 71.8L312.4 58.5L312.0 58.0L311.6 57.6L311.2 57.3L310.7 56.9L310.2 56.7L309.7 56.4L292.1 49.4L291.9 49.4L265.0 39.6L262.8 45.3L262.8 45.3L262.7 45.4L262.7 45.5L262.6 45.5L262.6 45.6L262.5 45.7L262.5 45.7L256.9 49.2Z"/><path id="p6_0" d="M282 97h0M292 72h0M302 60h0M306 92h0M318 96h0M287 79h0M277 74h0M300 85h0M298 80h0M294 99h0M312 76h0M298 80h0M313 81h0M279 78h0M284 92h0M278 52h0M311 102h0M282 68h0M311 82h0M307 62h0M286 85h0M294 85h0M299 69h0M299 90h0M299 81h0M281 76h0M283 69h0M316 80h0M273 50h0M281 81h0M280 70h0M299 108h0M296 100h0M270 83h0M290 55h0M288 96h0M281 102h0M285 97h0"/><path id="p6_1" d="M279 116h0M271 84h0M290 64h0M286 59h0M267 92h0M287 89h0M294 67h0M284 70h0M279 113h0M298 82h0M279 55h0M285 55h0M304 106h0M313 96h0M317 75h0M312 74h0M276 54h0M272 98h0M267 49h0M297 98h0M281 91h0M271 88h0M299 95h0M266 56h0M271 107h0M299 103h0M293 83h0M288 83h0M276 85h0M291 99h0M280 81h0M311 78h0M296 68h0M285 75h0M313 91h0M289 70h0M308 87h0M304 80h0M307 72h0M301 87h0M299 98h0M277 87h0M269 77h0M306 95h0M306 75h0M292 81h0"/><path id="p6_2" d="M284 77h0M312 81h0M269 62h0M312 75h0M277 108h0M306 76h0M317 95h0M298 101h0M307 89h0M295 95h0M306 103h0M309 73h0M308 95h0M267 62h0M279 102h0M286 69h0M288 107h0M294 96h0M289 91h0M296 96h0M304 75h0M270 74h0M268 51h0M272 95h0M306 82h0M278 51h0M281 112h0M318 80h0M314 72h0M297 68h0M294 98h0M296 83h0M271 63h0M286 59h0M300 83h0M304 81h0M284 59h0M306 80h0M297 95h0M282 57h0M289 92h0M275 79h0M281 69h0M284 95h0M263 45h0M268 59h0M299 107h0"/><path id="c7" d="M322.1 98.0L321.5 97.9L320.9 97.8L320.3 97.8L319.7 97.9L310.1 99.2L309.6 99.2L309.1 99.4L308.6 99.5L289.9 107.1L289.5 107.3L289.1 107.6L279.3 113.4L278.8 113.8L278.3 114.2L277.9 114.7L277.5 115.2L277.1 115.7L275.7 118.2L275.5 118.7L275.3 119.3L275.1 119.8L275.0 120.4L275.0 121.0L275.0 121.5L275.0 122.1L277.5 138.6L277.6 139.1L277.7 139.6L288.3 173.1L288.5 173.6L288.8 174.2L289.1 174.7L289.5 175.2L289.9 175.7L290.3 176.1L290.8 176.4L291.4 176.7L291.9 177.0L292.5 177.2L293.1 177.3L293.7 177.4L294.4 177.4L295.0 177.3L295.6 177.2L296.2 177.0L296.7 176.8L311.6 169.9L312.1 169.7L333.6 157.7L334.1 157.3L334.7 156.9L335.2 156.4L346.1 144.0L346.5 143.5L346.8 143.0L347.1 142.5L347.3 141.9L347.5 141.3L347.6 140.8L347.7 140.2L347.7 139.6L347.4 134.3L347.4 134.1L346.5 124.1L346.4 123.4L346.2 122.7L344.4 117.3L344.3 116.9L342.7 113.1L342.5 112.6L342.2 112.1L341.8 111.6L339.4 108.6L338.9 108.0L338.3 107.5L332.3 102.9L331.9 102.6L331.4 102.4L325.7 99.4L325.0 99.0L322.7 98.2Z"/><path id="p7_0" d="M311 133h0M307 110h0M333 128h0M325 147h0M319 115h0M301 129h0M317 134h0M293 152h0M294 159h0M303 148h0M306 135h0M311 128h0M317 137h0M333 144h0M299 153h0M297 116h0M301 165h0M332 141h0M302 145h0M307 139h0M283 119h0M300 127h0M307 149h0M321 156h0M329 108h0M296 129h0M304 158h0M297 146h0M316 131h0M331 116h0M303 160h0M313 149h0M295 134h0M325 120h0M287 116h0M318 120h0M303 149h0M314 128h0M329 132h0"/><path id="p7_1" d="M303 156h0M308 134h0M289 143h0M309 164h0M295 119h0M336 132h0M326 133h0M316 154h0M340 135h0M310 163h0M306 135h0M323 140h0M315 142h0M320 148h0M306 157h0M296 143h0M327 150h0M310 161h0M285 137h0M315 130h0M325 123h0M322 144h0M325 119h0M296 147h0M311 115h0M323 105h0M302 125h0M298 137h0M306 116h0M313 121h0M308 146h0M292 155h0M319 153h0M329 143h0M328 119h0M308 118h0M332 115h0M322 126h0M292 122h0M298 163h0M322 119h0M294 171h0M299 145h0M341 135h0M327 128h0M327 144h0M342 140h0M293 126h0M331 139h0M339 119h0"/><path id="p7_2" d="M333 127h0M314 147h0M331 152h0M314 118h0M306 128h0M322 134h0M301 133h0M287 125h0M312 112h0M296 116h0M303 133h0M284 138h0M309 163h0M334 126h0M298 124h0M309 135h0M332 134h0M305 124h0M317 124h0M320 150h0M303 111h0M319 134h0M329 149h0M319 140h0M333 123h0M309 113h0M292 113h0M314 127h0M316 111h0M303 141h0M304 116h0M303 138h0M319 133h0M298 115h0M335 112h0M321 123h0M311 105h0M340 125h0M301 127h0M281 121h0M310 156h0M332 121h0M337 115h0M321 104h0M300 140h0M309 126h0"/><path id="c8" d="M363.4 196.8L362.9 196.6L362.3 196.6L361.7 196.5L361.1 196.6L360.5 196.7L359.9 196.8L350.5 199.8L350.0 200.0L349.5 200.2L349.1 200.5L334.2 209.7L333.7 210.1L333.3 210.4L332.9 210.9L332.5 211.3L332.2 211.8L331.9 212.3L331.7 212.8L331.5 213.4L331.4 213.9L326.7 241.5L326.7 241.8L325.2 254.6L325.2 255.3L325.2 255.9L325.3 256.5L325.4 257.1L325.6 257.7L325.9 258.2L326.2 258.7L326.5 259.2L327.0 259.7L327.4 260.1L341.0 271.2L341.3 271.4L348.0 276.3L348.4 276.6L349.0 276.9L349.5 277.1L350.1 277.3L350.6 277.4L351.2 277.5L352.9 277.6L353.2 277.6L364.5 269.7L364.6 269.6L364.6 269.6L364.7 269.5L364.7 269.4L377.5 250.6L377.6 250.5L377.6 250.5L377.6 250.4L377.6 250.3L380.7 232.0L380.8 231.9L380.8 231.8L380.8 231.7L380.9 231.7L380.9 231.6L381.0 231.5L391.5 221.2L391.4 220.9L391.0 220.4L373.1 201.1L372.7 200.7L372.2 200.3L371.8 200.0L371.3 199.7L370.7 199.5L364.0 196.9Z"/><path id="p8_0" d="M348 215h0M349 211h0M352 271h0M384 224h0M371 211h0M358 206h0M354 207h0M341 256h0M341 251h0M351 259h0M383 241h0M338 254h0M358 241h0M363 269h0M345 248h0M341 219h0M364 207h0M335 234h0M357 228h0M357 268h0M373 262h0M361 247h0M360 223h0M362 256h0M357 219h0M356 217h0M368 206h0M377 241h0M345 237h0M376 226h0M358 271h0M363 214h0M369 219h0M373 218h0M386 231h0M337 215h0M354 256h0M341 248h0M380 223h0"/><path id="p8_1" d="M348 235h0M366 227h0M358 244h0M386 225h0M349 221h0M343 244h0M375 218h0M341 235h0M377 226h0M373 254h0M373 221h0M376 226h0M376 230h0M331 255h0M369 246h0M333 243h0M364 250h0M352 206h0M362 224h0M348 234h0M358 264h0M338 257h0M364 260h0M350 257h0M366 223h0M377 235h0M341 238h0M380 224h0M341 222h0M364 231h0M364 258h0M362 247h0M347 233h0M369 268h0M349 237h0M381 219h0M374 253h0M365 244h0M341 218h0M379 224h0M353 233h0"/><path id="p8_2" d="M368 207h0M353 271h0M359 213h0M345 266h0M362 233h0M348 266h0M364 246h0M362 203h0M358 245h0M341 251h0M338 226h0M364 215h0M369 205h0M373 213h0M370 221h0M362 259h0M366 210h0M336 256h0M350 257h0M366 232h0M362 261h0M348 212h0M352 218h0M370 255h0M374 224h0M343 244h0M378 253h0M364 227h0M369 212h0M371 225h0M372 211h0M357 219h0M373 255h0M341 257h0M348 255h0M378 225h0M361 263h0M346 231h0"/><path id="c9" d="M289.1 247.7L288.6 247.8L288.1 247.9L287.6 248.0L278.4 251.2L277.8 251.5L277.3 251.7L276.8 252.1L276.3 252.4L275.9 252.9L275.5 253.3L275.1 253.8L274.8 254.3L274.6 254.9L274.4 255.5L274.3 256.0L266.3 303.9L266.2 304.6L266.2 305.2L266.3 305.8L266.4 306.4L266.6 307.0L266.8 307.6L269.9 313.9L270.1 314.4L273.7 320.3L273.8 320.4L284.4 316.9L284.6 316.8L303.7 307.4L303.8 307.4L303.9 307.3L319.7 294.9L319.7 294.9L319.8 294.8L319.9 294.8L342.0 285.5L342.1 285.4L342.2 285.4L353.0 277.7L351.5 271.5L351.3 270.9L351.1 270.3L350.8 269.8L350.4 269.3L350.1 268.8L337.4 255.0L337.0 254.6L336.6 254.2L336.1 253.8L335.6 253.6L325.4 248.7L324.7 248.4L324.1 248.2L323.4 248.1L322.8 248.1L289.7 247.7Z"/><path id="p9_0" d="M315 258h0M332 284h0M301 264h0M284 296h0M287 299h0M323 271h0M299 308h0M282 302h0M301 295h0M297 258h0M335 287h0M290 256h0M345 288h0M290 254h0M291 290h0M314 269h0M295 300h0M323 268h0M313 292h0M322 274h0M317 285h0M280 257h0M322 265h0M328 270h0M281 301h0M324 260h0M294 281h0M309 296h0M326 261h0M305 271h0M345 273h0M328 260h0M297 299h0M291 307h0M281 316h0M302 282h0M331 264h0M304 303h0M340 286h0M285 256h0M306 259h0M300 271h0M302 259h0M324 274h0M323 254h0M300 287h0M294 296h0M344 281h0M306 297h0M306 301h0M275 311h0M341 270h0M296 312h0M307 270h0"/><path id="p9_1" d="M326 288h0M340 284h0M286 287h0M303 292h0M336 264h0M338 267h0M289 255h0M285 279h0M289 292h0M285 305h0M306 294h0M300 286h0M320 286h0M280 303h0M279 314h0M286 270h0M328 267h0M301 304h0M348 284h0M294 270h0M318 293h0M299 284h0M315 288h0M291 255h0M323 288h0M333 284h0M293 300h0M299 273h0M321 274h0M341 268h0M333 262h0M305 295h0M303 288h0M291 281h0M287 261h0M290 269h0M282 313h0M281 304h0M309 257h0M287 278h0M320 276h0M286 306h0M288 281h0M310 294h0M290 303h0M301 295h0M305 268h0M303 255h0M342 270h0M301 282h0M272 305h0M295 309h0M309 256h0M328 260h0"/><path id="p9_2" d="M288 295h0M313 305h0M294 305h0M326 267h0M288 288h0M329 282h0M311 265h0M326 284h0M333 259h0M330 288h0M289 274h0M291 280h0M287 259h0M310 273h0M342 272h0M293 273h0M293 290h0M280 260h0M287 285h0M289 275h0M339 282h0M293 306h0M318 286h0M287 299h0M302 301h0M293 256h0M304 284h0M325 275h0M295 270h0M298 296h0M343 272h0M279 317h0M280 307h0M309 301h0M277 314h0M330 273h0M322 267h0M318 284h0M310 273h0M327 291h0M311 301h0M285 265h0M290 288h0M326 293h0M321 277h0M311 300h0M325 264h0M328 287h0M343 284h0M307 265h0"/><path id="c10" d="M296.3 180.7L295.7 180.5L295.2 180.3L294.6 180.2L294.0 180.2L293.3 180.2L292.7 180.2L292.1 180.3L291.5 180.5L291.0 180.8L290.5 181.1L289.9 181.4L289.5 181.8L289.1 182.2L288.7 182.7L288.3 183.2L288.1 183.8L287.8 184.4L287.7 184.9L278.0 227.6L277.9 228.3L277.9 228.9L277.9 229.6L280.1 249.7L280.2 250.3L280.3 250.8L280.5 251.4L280.8 251.9L281.1 252.4L281.4 252.9L281.8 253.3L282.2 253.7L282.7 254.1L283.2 254.4L283.7 254.7L284.3 254.9L298.2 259.5L298.8 259.6L299.4 259.7L300.0 259.8L300.6 259.8L308.7 259.1L308.8 259.1L326.5 257.6L327.1 257.5L327.7 257.3L328.3 257.1L328.9 256.9L329.4 256.6L329.9 256.2L330.3 255.8L330.7 255.3L331.1 254.8L331.4 254.3L331.7 253.8L331.9 253.2L341.6 220.4L341.7 219.9L341.8 219.3L342.4 214.0L342.4 213.4L342.4 212.8L342.3 212.2L342.2 211.6L342.0 211.0L341.8 210.5L341.5 209.9L341.1 209.4L340.7 209.0L340.3 208.6L339.8 208.2L323.2 196.8L322.9 196.6L296.9 181.0Z"/><path id="p10_0" d="M331 216h0M311 251h0M319 234h0M308 212h0M293 241h0M307 207h0M297 196h0M299 201h0M324 228h0M303 252h0M296 224h0M299 216h0M317 237h0M298 198h0M309 220h0M297 230h0M315 251h0M325 219h0M317 224h0M325 234h0M317 206h0M296 227h0M294 206h0M309 228h0M317 251h0M288 239h0M301 198h0M302 243h0M297 202h0M288 246h0M317 209h0M320 202h0M301 241h0M296 249h0M331 232h0M314 207h0M317 204h0M321 237h0M297 189h0M296 243h0M301 217h0M308 244h0M292 209h0M306 225h0M317 236h0M316 232h0"/><path id="p10_1" d="M298 202h0M309 237h0M306 206h0M301 194h0M307 216h0M296 244h0M306 235h0M303 248h0M325 245h0M305 238h0M327 209h0M309 209h0M320 232h0M284 229h0M305 196h0M323 248h0M287 217h0M316 248h0M317 236h0M335 220h0M308 231h0M307 197h0M303 204h0M293 233h0M328 231h0M306 241h0M305 238h0M312 247h0M290 239h0M326 227h0M296 239h0M334 218h0M325 239h0M312 204h0M304 246h0M322 248h0M334 223h0M326 245h0M295 251h0M313 227h0M319 209h0M304 241h0"/><path id="p10_2" d="M301 203h0M298 220h0M298 240h0M301 247h0M320 220h0M290 225h0M304 241h0M302 234h0M336 219h0M301 241h0M297 243h0M308 253h0M336 213h0M291 216h0M312 214h0M326 251h0M297 195h0M286 249h0M321 240h0M293 239h0M297 246h0M309 244h0M324 243h0M305 193h0M327 214h0M313 204h0M308 250h0M301 203h0M296 228h0M300 218h0M308 232h0M310 250h0M302 193h0M323 216h0M292 225h0M309 230h0M288 224h0M296 188h0M318 234h0M307 212h0M287 247h0M327 214h0M290 214h0M324 237h0M296 234h0M294 186h0M300 254h0M298 208h0M311 208h0"/><path id="c11" d="M337.6 145.9L336.9 145.8L336.3 145.8L335.7 145.9L331.5 146.6L330.9 146.8L330.2 147.0L329.6 147.3L303.2 162.0L302.7 162.4L302.2 162.8L301.7 163.2L301.3 163.7L301.0 164.2L295.9 172.6L295.7 173.1L295.4 173.6L295.3 174.1L295.1 174.6L292.8 186.4L292.7 187.0L292.7 187.7L292.7 188.3L292.8 188.9L293.0 189.5L293.2 190.1L293.5 190.6L293.8 191.2L294.2 191.6L294.6 192.1L295.1 192.5L295.6 192.9L327.0 212.5L327.5 212.8L328.1 213.0L328.8 213.2L329.4 213.3L330.0 213.4L339.4 213.7L340.1 213.7L340.8 213.6L346.2 212.6L346.7 212.5L354.3 210.4L354.8 210.2L355.3 210.0L355.8 209.7L356.3 209.4L356.7 209.1L357.1 208.7L366.7 198.5L367.0 198.0L367.4 197.6L367.7 197.1L367.9 196.6L368.1 196.1L368.2 195.5L372.4 175.5L372.5 174.9L372.5 174.2L372.5 169.0L372.5 168.4L372.4 167.9L372.2 167.4L371.3 164.1L371.1 163.5L370.9 163.0L370.6 162.5L370.2 162.0L369.8 161.5L369.4 161.1L368.9 160.7L368.4 160.4L346.1 148.1L345.6 147.9L345.1 147.7L344.6 147.5L338.2 146.0Z"/><path id="p11_0" d="M366 169h0M328 183h0M355 200h0M353 171h0M342 198h0M354 165h0M323 178h0M303 189h0M316 180h0M348 190h0M309 178h0M353 204h0M340 185h0M339 206h0M352 174h0M340 208h0M350 183h0M329 192h0M352 165h0M340 162h0M306 167h0M331 189h0M364 185h0M342 183h0M338 173h0M351 165h0M322 167h0M347 180h0M336 161h0M342 179h0M335 197h0M338 170h0M344 206h0M338 165h0M339 184h0M328 179h0M303 189h0M340 163h0M362 194h0M348 173h0M341 162h0M302 185h0M345 185h0M316 189h0"/><path id="p11_1" d="M346 155h0M304 189h0M354 181h0M333 163h0M299 188h0M340 159h0M334 167h0M344 201h0M366 174h0M335 162h0M303 187h0M348 203h0M342 166h0M351 161h0M332 179h0M356 166h0M323 171h0M355 162h0M352 178h0M328 178h0M315 188h0M315 184h0M358 182h0M333 153h0M308 183h0M344 187h0M330 169h0M337 152h0M337 188h0M350 188h0M340 207h0M301 176h0M349 160h0M333 161h0M355 190h0M357 188h0M322 168h0M336 200h0M349 159h0M317 165h0M353 162h0M354 161h0M304 181h0M365 166h0"/><path id="p11_2" d="M329 176h0M325 177h0M356 179h0M308 180h0M340 166h0M308 184h0M318 183h0M329 162h0M342 164h0M363 187h0M301 188h0M348 169h0M328 185h0M300 184h0M358 173h0M310 175h0M346 172h0M345 177h0M326 192h0M341 200h0M339 165h0M308 176h0M355 190h0M351 193h0M353 179h0M357 198h0M343 154h0M318 172h0M336 182h0M330 207h0M352 173h0M314 175h0M348 165h0M338 172h0M338 194h0M345 207h0M326 204h0M331 176h0M353 185h0M354 190h0M333 192h0M322 199h0M349 199h0M330 187h0M365 173h0M305 180h0M320 193h0"/><path id="c12" d="M396.3 37.6L395.8 37.9L395.3 38.2L394.8 38.5L394.4 38.9L374.1 59.0L373.8 59.2L370.2 63.2L369.8 63.6L369.5 64.1L369.2 64.7L369.0 65.2L368.8 65.8L368.7 66.4L368.6 67.1L368.6 67.7L368.7 68.3L372.9 95.0L373.0 95.6L373.2 96.3L373.5 96.9L373.8 97.4L374.2 97.9L380.6 105.8L381.0 106.2L381.4 106.5L381.8 106.9L391.4 113.8L391.9 114.1L392.4 114.4L392.9 114.6L393.5 114.8L394.0 114.9L394.6 115.0L395.2 115.0L411.0 114.6L411.6 114.6L412.1 114.5L417.7 113.4L418.6 113.1L432.5 108.3L433.1 108.0L433.6 107.7L434.1 107.4L434.6 107.0L435.1 106.5L435.5 106.0L435.7 105.6L433.5 96.2L433.5 96.1L427.1 67.9L427.1 67.8L427.1 67.8L427.0 67.7L415.9 47.3L415.8 47.2L415.8 47.1L415.7 47.1L415.7 47.0L415.6 47.0L415.5 46.9L415.4 46.9L398.3 39.2L398.2 39.2L398.1 39.1L398.1 39.1L398.0 39.0L397.9 39.0L396.7 37.5Z"/><path id="p12_0" d="M411 55h0M412 89h0M389 82h0M404 104h0M414 49h0M401 91h0M398 96h0M379 90h0M393 100h0M397 61h0M375 67h0M383 99h0M411 53h0M418 84h0M381 78h0M406 47h0M421 83h0M420 101h0M398 50h0M420 74h0M409 48h0M414 88h0M381 78h0M416 93h0M380 94h0M427 87h0M376 69h0M412 89h0M382 81h0M406 79h0M415 108h0M388 87h0M397 108h0M378 63h0M430 82h0M401 44h0M413 99h0M399 78h0M407 72h0M394 68h0M383 82h0M407 98h0M384 69h0M400 76h0M408 70h0M397 61h0M402 76h0M400 82h0M394 66h0M381 87h0M399 43h0M409 71h0M420 62h0M404 92h0M384 90h0M394 87h0"/><path id="p12_1" d="M422 99h0M414 49h0M397 70h0M406 105h0M408 52h0M404 85h0M385 92h0M405 72h0M390 97h0M431 70h0M386 61h0M412 72h0M416 92h0M395 63h0M412 52h0M414 82h0M435 89h0M394 92h0M411 52h0M384 60h0M411 96h0M418 102h0M389 77h0M404 90h0M413 101h0M394 104h0M389 103h0M385 102h0M419 62h0M415 72h0M434 83h0M392 75h0M391 57h0M402 69h0M427 72h0M394 85h0M427 63h0M411 107h0M409 44h0M387 101h0M395 80h0M384 69h0M410 92h0M396 64h0M419 76h0M400 88h0M393 69h0M417 95h0"/><path id="p12_2" d="M389 76h0M413 65h0M412 81h0M432 84h0M411 59h0M403 65h0M407 105h0M413 105h0M385 94h0M393 60h0M404 107h0M430 102h0M393 69h0M393 89h0M420 79h0M385 80h0M379 94h0M424 65h0M395 86h0M407 92h0M385 93h0M429 103h0M411 108h0M410 78h0M413 86h0M407 64h0M409 49h0M391 79h0M414 70h0M384 87h0M388 80h0M395 108h0M398 108h0M412 83h0M412 48h0M391 53h0M395 109h0M408 48h0M392 87h0M401 105h0M410 84h0M420 65h0M417 107h0M388 81h0M395 84h0M417 54h0M396 71h0M406 96h0M425 86h0M417 104h0M411 46h0"/><path id="c13" d="M227.3 65.4L227.4 66.0L228.4 77.2L228.5 77.8L228.6 78.3L228.8 78.8L229.0 79.3L229.3 79.8L229.6 80.3L242.8 98.2L243.3 98.7L249.4 105.1L249.8 105.5L250.2 105.8L250.6 106.1L265.0 115.1L265.5 115.4L266.1 115.6L266.7 115.8L267.2 115.9L267.8 116.0L268.4 116.0L269.0 115.9L269.6 115.8L270.2 115.7L270.8 115.5L271.3 115.2L271.8 114.9L272.3 114.5L272.7 114.1L274.1 112.6L274.5 112.2L274.8 111.7L276.0 109.9L276.3 109.4L276.5 108.9L277.3 107.1L277.5 106.5L277.7 105.8L277.8 105.2L279.4 86.5L279.4 85.8L279.3 85.1L271.7 30.0L267.7 32.9L267.7 32.9L267.7 32.9L267.6 32.9L267.6 32.9L267.6 33.0L267.6 33.0L267.6 33.0L267.5 33.0L267.5 33.1L267.5 33.1L267.5 33.1L267.5 33.1L267.5 33.1L267.5 33.1L267.4 33.2L267.4 33.2L267.4 33.2L267.4 33.2L267.4 33.3L267.4 33.3L262.8 45.3L262.8 45.3L262.7 45.4L262.7 45.5L262.6 45.5L262.6 45.6L262.5 45.7L262.5 45.7L245.5 56.3L245.4 56.4L227.3 65.2Z"/><path id="p13_0" d="M251 63h0M265 66h0M242 80h0M251 58h0M254 58h0M246 79h0M239 82h0M248 63h0M266 31h0M248 82h0M265 80h0M267 96h0M249 94h0M264 62h0M251 62h0M256 99h0M233 65h0M236 70h0M261 73h0M268 68h0M259 87h0M264 82h0M255 52h0M263 62h0M265 78h0M263 68h0M246 59h0M250 72h0"/><path id="p13_1" d="M249 65h0M244 69h0M269 87h0M248 80h0M252 61h0M259 62h0M235 77h0M247 51h0M259 54h0M263 76h0M260 78h0M242 79h0M246 68h0M272 82h0M263 82h0M257 68h0M257 83h0M264 76h0M258 63h0M257 88h0M254 83h0M254 101h0M261 67h0M262 81h0M263 106h0"/><path id="p13_2" d="M256 80h0M261 53h0M257 58h0M261 90h0M270 91h0M269 90h0M269 65h0M263 61h0M251 62h0M261 98h0M259 52h0M259 48h0M241 83h0M264 67h0M259 75h0M257 55h0M265 80h0M270 108h0M263 82h0M258 72h0M264 72h0M260 104h0M252 96h0M240 78h0M262 94h0M271 107h0M273 86h0M251 64h0M272 105h0M248 94h0M268 110h0M258 61h0M265 48h0"/><path id="c14" d="M195.3 117.7L195.9 118.1L196.5 118.5L201.4 120.6L201.7 120.7L212.6 125.0L213.3 125.2L225.8 128.3L226.7 128.4L240.9 129.8L241.6 129.9L242.2 129.8L242.8 129.7L243.4 129.6L243.9 129.4L244.5 129.1L245.0 128.8L258.9 119.4L259.3 119.0L259.8 118.6L260.2 118.2L260.5 117.7L260.8 117.2L261.1 116.7L261.3 116.1L261.4 115.6L261.5 115.0L261.6 114.4L261.6 113.8L261.5 113.3L261.4 112.7L261.2 112.1L255.9 97.8L255.6 97.2L255.3 96.7L254.9 96.1L235.7 71.8L235.7 71.8L232.5 67.9L232.2 67.5L231.8 67.1L231.4 66.7L228.6 64.6L223.1 67.3L223.0 67.4L223.0 67.4L222.9 67.5L222.8 67.5L222.8 67.6L207.5 89.5L207.4 89.6L207.4 89.7L197.8 111.7L197.8 111.7L195.3 117.7Z"/><path id="p14_0" d="M222 96h0M216 100h0M222 116h0M211 97h0M213 90h0M222 109h0M208 109h0M226 75h0M215 119h0M249 99h0M224 108h0M205 101h0M217 88h0M235 105h0M218 104h0M248 103h0M244 110h0M235 93h0M214 94h0M205 90h0M227 122h0M237 116h0M210 107h0M242 116h0M207 113h0M230 121h0M214 106h0M233 114h0M244 109h0M213 83h0M223 72h0"/><path id="p14_1" d="M215 75h0M205 105h0M226 87h0M227 79h0M216 97h0M204 115h0M228 100h0M219 110h0M214 106h0M217 71h0M242 110h0M230 83h0M230 97h0M231 105h0M238 105h0M241 112h0M240 103h0M228 72h0M251 106h0M230 98h0M207 83h0M226 102h0M223 78h0M217 90h0M236 93h0M198 104h0M242 122h0M241 96h0M230 113h0M220 94h0M232 88h0M231 76h0M242 104h0M224 103h0M234 84h0M229 97h0"/><path id="p14_2" d="M208 103h0M240 114h0M246 104h0M214 87h0M206 100h0M203 104h0M218 84h0M215 95h0M242 120h0M223 68h0M243 120h0M249 99h0M255 114h0M242 95h0M239 93h0M197 111h0M206 106h0M229 110h0M221 97h0M235 113h0M227 74h0M200 112h0M242 124h0M209 92h0M250 100h0M230 88h0M199 113h0"/><path id="c15" d="M274.7 176.1L274.1 176.1L273.5 176.2L272.9 176.3L272.3 176.5L263.3 180.0L262.9 180.2L262.4 180.4L262.0 180.7L259.5 182.4L259.0 182.8L258.6 183.2L258.2 183.7L222.4 229.6L222.6 231.4L222.7 231.5L222.7 231.5L222.7 231.6L227.2 243.3L275.4 249.7L275.9 249.8L276.5 249.8L289.1 249.2L289.7 249.1L290.3 249.0L290.9 248.9L291.4 248.6L292.0 248.4L292.5 248.0L292.9 247.7L293.3 247.2L293.7 246.8L294.1 246.3L294.4 245.8L294.6 245.2L294.8 244.7L294.9 244.1L295.0 243.5L298.7 191.0L298.7 190.4L298.7 189.9L298.6 189.3L297.4 183.3L297.2 182.8L297.0 182.2L296.8 181.7L296.5 181.2L296.1 180.7L295.7 180.3L295.3 179.9L294.8 179.5L294.4 179.2L293.8 178.9L293.3 178.7L292.7 178.6L292.1 178.5L275.3 176.2Z"/><path id="p15_0" d="M276 215h0M280 197h0M242 238h0M266 186h0M285 197h0M265 229h0M270 215h0M272 235h0M286 230h0M271 221h0M258 224h0M273 199h0M257 231h0M255 224h0M273 194h0M225 237h0M254 229h0M255 213h0M291 196h0M286 230h0M262 203h0M265 213h0M235 226h0M279 222h0M263 187h0M280 229h0M273 190h0M241 221h0M270 228h0M248 227h0M260 228h0M264 213h0M239 233h0M267 202h0M270 200h0M284 228h0M289 212h0M261 229h0M289 243h0M249 232h0M272 191h0M272 241h0M247 213h0M289 207h0M265 227h0M243 221h0M248 236h0"/><path id="p15_1" d="M266 199h0M289 226h0M277 241h0M276 187h0M245 223h0M251 223h0M276 242h0M273 199h0M290 209h0M238 226h0M269 209h0M261 219h0M279 235h0M276 231h0M263 241h0M283 229h0M279 201h0M271 237h0M282 213h0M257 218h0M288 199h0M283 234h0M252 211h0M278 191h0M257 199h0M265 206h0M283 208h0M286 187h0M264 212h0M237 228h0M285 236h0M284 222h0M288 216h0M272 187h0M288 242h0M276 231h0M285 238h0M267 232h0M257 235h0M249 206h0M264 192h0M255 205h0M271 206h0M267 235h0M277 195h0M284 193h0M256 202h0M286 194h0M260 233h0M272 233h0M274 237h0M244 232h0M261 205h0M279 187h0M248 214h0M257 221h0M258 219h0M281 187h0M281 223h0M284 184h0"/><path id="p15_2" d="M276 203h0M263 232h0M276 192h0M274 218h0M276 244h0M241 231h0M281 203h0M266 223h0M269 228h0M234 232h0M241 217h0M270 237h0M237 237h0M269 212h0M274 189h0M267 218h0M274 182h0M293 191h0M258 223h0M255 227h0M267 223h0M288 212h0M281 230h0M278 223h0M291 197h0M268 202h0M279 233h0M249 234h0M266 208h0M272 214h0M264 215h0M268 242h0M291 185h0M239 224h0M277 206h0M269 223h0M280 215h0M247 212h0M285 217h0"/><path id="c16" d="M238.9 155.3L238.3 155.1L237.7 155.0L237.1 155.0L236.4 155.0L235.8 155.1L228.2 156.6L227.8 156.7L222.4 158.1L221.8 158.3L221.2 158.5L211.0 163.7L210.6 163.9L210.5 164.0L210.1 164.3L209.6 164.6L209.2 165.0L208.9 165.4L208.6 165.9L205.9 170.1L205.7 170.3L205.2 171.3L209.9 178.3L209.9 178.4L210.0 178.5L219.4 203.2L219.4 203.2L219.5 203.3L219.5 203.4L222.3 228.7L226.0 229.9L226.6 230.1L227.3 230.2L227.9 230.2L228.5 230.2L229.1 230.1L229.7 230.0L230.3 229.8L230.9 229.5L231.4 229.2L235.9 226.2L236.5 225.7L237.0 225.2L250.7 210.3L250.8 210.2L267.3 191.4L267.6 190.9L268.0 190.4L268.2 189.9L268.5 189.3L268.6 188.8L268.7 188.2L269.4 183.3L269.4 182.6L269.5 180.3L269.5 179.7L269.4 179.1L269.3 178.5L269.1 177.9L268.8 177.4L268.5 176.8L268.2 176.3L267.8 175.9L267.6 175.7L267.0 175.2L247.2 159.1L246.7 158.7L246.3 158.5L245.7 158.2L239.4 155.5Z"/><path id="p16_0" d="M231 168h0M243 206h0M230 205h0M237 175h0M239 181h0M233 185h0M245 193h0M234 166h0M233 212h0M235 168h0M239 210h0M233 168h0M214 169h0M258 177h0M247 180h0M208 181h0M232 194h0M228 209h0M251 193h0M213 185h0M224 164h0M208 182h0M241 209h0M241 196h0M237 177h0M237 163h0M220 174h0M222 177h0M229 181h0M255 192h0M225 194h0M233 186h0M228 207h0M220 174h0M263 187h0M252 184h0M241 171h0"/><path id="p16_1" d="M231 166h0M258 179h0M221 175h0M235 217h0M240 202h0M237 161h0M223 196h0M261 187h0M229 195h0M226 214h0M240 170h0M225 189h0M242 193h0M224 171h0M246 206h0M238 195h0M228 189h0M238 186h0M230 200h0M221 220h0M229 200h0M234 182h0M213 187h0M227 179h0M215 170h0M224 177h0M263 180h0M243 203h0M255 187h0M225 176h0M259 180h0M243 197h0M220 185h0M223 223h0M222 198h0M263 182h0M238 181h0M211 173h0M244 202h0M224 187h0M223 218h0M218 176h0M256 181h0M226 168h0M237 201h0"/><path id="p16_2" d="M249 201h0M224 191h0M226 200h0M230 188h0M246 170h0M211 191h0M232 221h0M245 206h0M250 175h0M217 199h0M243 199h0M226 204h0M240 202h0M239 170h0M222 193h0M253 185h0M263 180h0M252 193h0M260 184h0M216 181h0M207 180h0M234 186h0M250 175h0M239 202h0M228 224h0M229 163h0M221 186h0M223 184h0M232 176h0M235 196h0M235 173h0M251 196h0M243 164h0M236 178h0M231 188h0M218 178h0M217 193h0M214 169h0M230 167h0"/><path id="c17" d="M202.4 112.4L201.8 112.4L201.1 112.4L200.5 112.5L199.9 112.6L199.3 112.8L198.8 113.0L196.8 114.0L189.5 131.3L189.5 131.3L189.4 131.4L189.4 131.5L189.3 131.5L189.3 131.6L189.2 131.6L189.1 131.7L189.1 131.7L189.0 131.8L188.9 131.8L175.7 134.7L175.6 134.7L175.5 134.7L175.4 134.7L165.0 133.5L165.0 134.1L165.9 143.1L166.0 143.7L166.1 144.3L166.3 144.9L166.6 145.4L166.9 146.0L170.0 150.4L175.6 150.0L175.7 150.0L184.6 150.5L184.7 150.6L184.8 150.6L184.9 150.6L184.9 150.6L185.0 150.7L185.1 150.7L197.2 159.6L197.3 159.7L197.3 159.8L197.4 159.9L207.6 174.9L222.1 170.6L222.8 170.4L223.5 170.1L239.5 160.7L240.1 160.4L240.6 160.0L241.0 159.5L241.4 159.0L241.8 158.5L242.1 157.9L242.3 157.3L242.5 156.7L242.6 156.1L243.5 147.4L243.6 146.5L243.1 127.7L243.1 127.1L243.0 126.5L242.8 126.0L242.6 125.4L242.3 124.9L242.0 124.4L241.7 123.9L241.3 123.5L240.9 123.1L240.4 122.8L239.9 122.4L239.4 122.2L238.8 122.0L232.5 119.9L232.1 119.8L203.0 112.6Z"/><path id="p17_0" d="M219 145h0M224 162h0M234 144h0M187 131h0M214 122h0M216 132h0M201 125h0M236 155h0M230 132h0M208 133h0M216 160h0M183 137h0M221 139h0M232 146h0M223 153h0M179 152h0M234 131h0M226 133h0M216 146h0M230 153h0M189 158h0M219 153h0M199 134h0M195 155h0M197 123h0M194 132h0M220 165h0M202 144h0M192 130h0M205 134h0M237 144h0"/><path id="p17_1" d="M237 128h0M202 119h0M235 142h0M200 140h0M192 131h0M208 161h0M188 151h0M228 139h0M235 146h0M205 138h0M216 151h0M219 125h0M220 147h0M208 167h0M173 133h0M226 136h0M180 135h0M219 144h0M227 148h0M221 162h0M203 170h0M197 130h0M209 154h0M205 158h0M216 153h0M236 154h0M229 135h0M218 157h0M220 130h0M229 148h0M183 146h0M210 163h0M216 138h0M225 142h0M225 152h0M202 156h0M207 142h0M180 135h0M210 162h0M217 158h0M203 120h0"/><path id="p17_2" d="M237 146h0M172 142h0M199 125h0M226 133h0M204 122h0M200 169h0M212 130h0M209 167h0M215 146h0M208 131h0M216 124h0M171 133h0M184 139h0M205 142h0M214 152h0M231 135h0M180 144h0M231 126h0M208 153h0M223 155h0M194 129h0M211 157h0M233 151h0M202 170h0M213 134h0M200 121h0M220 126h0M209 139h0M237 147h0M201 119h0M191 148h0M185 137h0M182 139h0M208 126h0M223 131h0M233 137h0M219 125h0"/><path id="c18" d="M277.3 106.0L276.8 105.7L276.3 105.4L275.7 105.2L275.1 105.0L274.5 104.9L273.8 104.8L273.2 104.8L272.6 104.9L272.0 105.0L264.4 107.2L263.9 107.4L263.4 107.6L254.4 112.0L253.7 112.3L241.3 120.4L240.8 120.8L240.4 121.2L239.9 121.6L239.6 122.1L236.8 126.0L236.5 126.5L236.3 127.0L236.0 127.6L235.9 128.1L235.8 128.7L233.9 142.3L233.9 143.0L233.5 156.2L233.5 156.8L233.6 157.4L233.8 158.0L234.0 158.6L234.2 159.2L234.5 159.7L234.9 160.2L235.3 160.7L244.3 169.6L244.6 169.9L246.7 171.7L247.0 172.0L252.9 176.4L253.6 176.8L272.7 187.3L273.2 187.6L273.8 187.8L274.4 188.0L275.0 188.0L275.7 188.1L289.4 188.0L289.6 188.0L292.3 187.9L292.9 187.8L293.5 187.7L294.1 187.5L294.6 187.3L295.2 187.0L295.7 186.7L296.2 186.3L296.6 185.8L297.0 185.4L297.3 184.9L302.2 176.7L302.5 176.1L302.7 175.5L302.9 174.9L303.0 174.3L303.0 173.7L303.4 162.4L303.4 161.9L303.4 161.4L300.5 137.4L300.4 136.8L300.2 136.2L300.0 135.6L299.7 135.0L289.7 117.7L289.4 117.2L289.0 116.7L288.6 116.2L277.8 106.4Z"/><path id="p18_0" d="M248 141h0M254 127h0M240 143h0M257 171h0M297 162h0M260 120h0M295 171h0M256 137h0M244 155h0M263 142h0M272 174h0M248 161h0M274 168h0M267 165h0M260 169h0M259 134h0M259 123h0M282 139h0M246 161h0M281 174h0M284 150h0M261 139h0M253 154h0M256 121h0M292 164h0M273 169h0M281 167h0M274 177h0M280 130h0M275 119h0M266 115h0M284 141h0M262 150h0M269 162h0M274 111h0M272 169h0M267 124h0M282 161h0M286 148h0M242 144h0M279 175h0M272 154h0M276 175h0M291 143h0M257 161h0M270 136h0M254 150h0M257 134h0M263 168h0M277 151h0M264 157h0M257 119h0M240 156h0M284 164h0M251 123h0M280 149h0M271 179h0M264 117h0M287 138h0M264 143h0M283 168h0M280 153h0M286 150h0"/><path id="p18_1" d="M273 123h0M252 125h0M279 179h0M275 167h0M288 151h0M265 117h0M268 133h0M268 131h0M283 133h0M289 153h0M295 173h0M276 182h0M266 157h0M245 126h0M291 168h0M264 139h0M276 145h0M241 154h0M270 175h0M294 138h0M297 174h0M266 165h0M263 174h0M273 137h0M276 115h0M260 130h0M259 160h0M245 125h0M266 176h0M254 140h0M270 175h0M264 149h0M276 182h0M249 165h0M244 152h0M259 131h0M262 149h0M241 141h0M279 129h0M267 130h0M250 165h0M270 118h0M257 117h0M255 151h0M284 121h0M268 175h0M273 172h0M269 156h0M257 132h0M251 141h0M244 150h0M272 144h0M257 126h0M267 174h0M275 171h0M247 130h0M251 167h0M252 134h0M252 155h0"/><path id="p18_2" d="M274 120h0M288 150h0M272 168h0M273 118h0M250 138h0M250 154h0M257 130h0M292 182h0M273 149h0M243 150h0M267 174h0M251 137h0M273 169h0M248 150h0M242 130h0M292 175h0M266 175h0M256 159h0M261 151h0M254 158h0M249 132h0M279 171h0M285 179h0M278 122h0M254 144h0M289 182h0M263 126h0M271 157h0M271 163h0M278 124h0M275 142h0M275 142h0M262 138h0M285 141h0M265 137h0M266 113h0M246 137h0M281 158h0M261 158h0M282 179h0M274 166h0M269 138h0"/><path id="c19" d="M227.1 232.7L226.5 232.7L225.9 232.7L225.3 232.9L223.4 233.4L232.3 256.7L232.3 256.8L232.4 256.9L232.4 257.0L248.2 275.6L248.3 275.7L248.3 275.7L248.3 275.8L254.3 290.4L254.3 290.5L254.3 290.6L254.4 290.7L254.4 290.8L254.4 290.8L254.3 290.9L254.3 291.0L254.3 291.1L254.3 291.2L254.2 291.2L247.5 302.2L256.7 318.4L257.1 318.9L257.4 319.3L257.9 319.8L258.3 320.2L266.2 326.3L266.7 326.6L267.2 326.9L267.8 327.2L268.3 327.4L268.9 327.5L269.2 327.5L270.4 321.9L270.5 321.8L270.5 321.8L270.5 321.7L270.6 321.6L270.6 321.5L270.7 321.5L270.7 321.4L270.8 321.4L270.9 321.3L271.0 321.3L271.0 321.3L280.3 318.2L289.9 305.8L290.3 305.3L290.6 304.8L292.7 300.5L293.0 299.9L293.1 299.2L293.3 298.6L293.7 295.7L293.7 295.1L295.0 267.9L295.0 267.3L295.0 266.8L293.9 258.9L293.8 258.2L290.9 246.3L290.7 245.8L290.5 245.2L290.3 244.7L289.9 244.2L289.6 243.7L289.2 243.3L288.7 242.9L288.2 242.6L287.7 242.3L287.2 242.0L286.6 241.9L280.1 240.0L279.3 239.8L266.7 238.0L266.6 238.0L244.9 235.0L244.8 235.0L227.7 232.7Z"/><path id="p19_0" d="M276 312h0M275 307h0M230 246h0M254 285h0M278 265h0M250 274h0M279 285h0M287 298h0M237 265h0M267 264h0M244 254h0M282 256h0M284 267h0M265 270h0M246 250h0M248 275h0M235 251h0M266 284h0M278 287h0M285 302h0M278 290h0M289 268h0M271 292h0M260 253h0M266 245h0M227 239h0M239 253h0M280 248h0M280 265h0M240 259h0M271 272h0M263 259h0M273 280h0M252 247h0M238 246h0M261 292h0M266 275h0M270 247h0M269 276h0M248 276h0M270 249h0M254 300h0M258 267h0M246 250h0M255 291h0M271 288h0M273 295h0M246 245h0M240 249h0M245 249h0"/><path id="p19_1" d="M269 267h0M256 276h0M283 302h0M278 246h0M287 284h0M275 297h0M265 292h0M245 245h0M263 265h0M240 250h0M280 263h0M241 257h0M285 248h0M251 275h0M240 262h0M255 284h0M258 269h0M252 249h0M275 286h0M266 311h0M264 305h0M258 291h0M276 260h0M272 290h0M271 270h0M239 256h0M240 257h0M247 252h0M236 257h0M257 299h0M258 259h0M236 255h0M261 311h0M262 301h0M236 254h0M269 316h0M283 255h0M258 276h0M271 251h0M245 258h0M266 272h0M241 252h0M261 288h0M267 289h0M264 298h0M267 300h0M262 278h0"/><path id="p19_2" d="M263 294h0M245 245h0M288 274h0M274 258h0M286 293h0M270 303h0M276 293h0M232 241h0M275 251h0M226 252h0M265 266h0M277 263h0M243 263h0M242 258h0M246 268h0M270 321h0M246 281h0M256 248h0M235 250h0M249 262h0M266 244h0M271 298h0M254 289h0M288 260h0M288 295h0M241 272h0M244 241h0M283 263h0M233 245h0M244 266h0M271 261h0M239 265h0M222 240h0M276 292h0M274 289h0M262 315h0M248 259h0M268 298h0M284 251h0M282 254h0M270 261h0M263 268h0M250 268h0M233 263h0M264 274h0M280 265h0M261 277h0M268 248h0"/><path id="c20" d="M119.2 327.0L118.6 327.0L118.0 327.2L117.4 327.3L116.8 327.6L116.3 327.9L115.8 328.3L115.3 328.7L114.9 329.1L114.5 329.6L114.2 330.1L114.0 330.5L117.1 340.6L117.1 340.7L117.1 340.8L117.1 340.9L117.1 341.0L117.1 341.1L117.1 341.1L117.1 341.2L117.0 341.3L117.0 341.4L107.8 356.4L107.8 356.5L107.7 356.5L107.7 356.6L107.7 356.7L107.7 356.8L106.1 385.0L106.1 385.1L106.1 385.2L106.1 385.3L106.1 385.4L106.2 385.5L110.2 394.4L113.5 394.8L113.6 394.8L119.5 395.3L120.0 395.3L120.5 395.3L121.1 395.2L149.4 390.1L150.0 390.0L150.6 389.8L164.9 384.3L165.5 384.0L166.1 383.7L166.6 383.3L171.3 379.3L171.8 378.9L172.2 378.5L172.5 378.0L172.8 377.5L173.1 377.0L173.3 376.4L173.4 375.9L173.5 375.3L173.6 374.7L173.5 374.1L173.5 373.5L168.7 347.4L168.6 346.9L168.4 346.3L168.2 345.8L167.9 345.3L165.7 341.7L147.2 337.2L147.1 337.1L129.0 331.2L128.9 331.2L128.9 331.2L128.8 331.1L128.7 331.1L128.7 331.0L128.6 330.9L128.6 330.9L128.5 330.8L128.5 330.7L128.5 330.6L128.4 330.5L128.0 327.3L119.9 327.0Z"/><path id="p20_0" d="M163 379h0M140 359h0M127 380h0M112 365h0M152 351h0M155 364h0M146 362h0M157 341h0M151 343h0M144 340h0M150 375h0M117 365h0M152 357h0M134 356h0M124 351h0M145 362h0M160 359h0M120 342h0M135 352h0M142 364h0M154 362h0M111 362h0M141 352h0M110 362h0M136 366h0M114 373h0M136 365h0M123 343h0M158 341h0M120 381h0M164 372h0M149 359h0M151 359h0M141 340h0M134 370h0M162 360h0"/><path id="p20_1" d="M166 375h0M129 362h0M110 371h0M163 349h0M148 384h0M139 383h0M151 348h0M156 378h0M127 385h0M141 362h0M139 360h0M120 361h0M138 384h0M159 344h0M122 360h0M151 367h0M138 374h0M155 357h0M113 346h0M103 388h0M162 365h0M111 357h0M138 356h0M136 340h0M120 389h0M132 365h0M146 349h0M123 338h0M125 371h0M125 367h0M123 381h0M154 349h0M155 349h0M143 381h0M135 347h0M150 377h0M134 353h0M119 356h0M118 363h0M153 352h0M140 370h0M140 353h0M143 340h0M119 335h0M124 361h0M135 376h0M152 344h0M103 377h0"/><path id="p20_2" d="M144 363h0M140 382h0M112 381h0M103 373h0M133 352h0M111 366h0M125 388h0M136 363h0M132 381h0M167 375h0M159 378h0M121 385h0M117 366h0M130 353h0M119 369h0M135 368h0M114 389h0M126 371h0M151 376h0M147 345h0M131 334h0M161 366h0M157 352h0M130 387h0M143 360h0M130 338h0M137 366h0M131 379h0M145 379h0M129 387h0M137 364h0M123 343h0M135 337h0M110 369h0M113 380h0M120 333h0M125 335h0M156 339h0"/><path id="c21" d="M236.9 347.4L226.6 347.6L226.0 347.6L225.4 347.7L224.8 347.9L224.3 348.1L223.7 348.4L223.2 348.7L222.8 349.0L222.3 349.4L221.9 349.9L217.4 355.4L217.1 355.8L216.8 356.3L216.6 356.8L216.4 357.3L208.1 381.7L207.9 382.2L207.8 382.8L207.8 383.4L207.8 384.0L207.8 384.6L208.0 385.1L208.1 385.7L208.4 386.3L208.6 386.8L209.0 387.3L218.1 399.9L218.6 400.4L219.0 400.9L233.1 413.2L233.5 413.6L233.8 413.8L249.7 398.3L249.7 398.2L249.8 398.1L249.8 398.1L262.6 376.1L262.6 376.0L270.6 357.2L270.6 357.1L270.7 357.0L270.7 356.9L270.7 356.9L270.7 356.8L270.7 356.7L270.6 356.1L270.5 356.1L270.1 355.6L263.2 349.4L262.8 349.0L262.2 348.7L261.7 348.4L261.1 348.2L260.5 348.0L259.9 347.9L259.3 347.9L237.1 347.4Z"/><path id="p21_0" d="M259 355h0M257 368h0M219 381h0M228 394h0M242 387h0M222 359h0M221 366h0M229 370h0M246 387h0M226 364h0M227 354h0M258 367h0M260 373h0M225 378h0M244 394h0M237 409h0M224 382h0M256 355h0M251 364h0M262 372h0M261 376h0M266 360h0M247 391h0M224 377h0M214 384h0M257 374h0"/><path id="p21_1" d="M223 396h0M241 376h0M237 354h0M259 385h0M223 372h0M235 370h0M229 382h0M239 409h0M235 393h0M251 391h0M242 376h0M223 396h0M250 355h0M233 371h0M258 372h0M225 373h0M222 372h0M252 373h0M242 399h0"/><path id="p21_2" d="M262 370h0M259 354h0M245 395h0M233 390h0M227 363h0M252 367h0M242 393h0M229 394h0M249 400h0M248 406h0M228 376h0M233 356h0M229 388h0M242 407h0M238 357h0M256 383h0M237 357h0M264 360h0M260 360h0M218 382h0M233 363h0M236 392h0M261 376h0M232 358h0"/><path id="c22" d="M215.7 377.1L215.2 376.6L214.8 376.2L214.3 375.9L213.8 375.6L213.2 375.3L212.6 375.2L212.0 375.0L211.4 375.0L210.8 374.9L203.0 375.2L202.5 375.2L183.2 377.3L182.6 377.4L182.1 377.5L178.2 378.7L177.6 379.0L177.1 379.2L168.3 384.0L167.8 384.4L167.3 384.8L166.8 385.2L166.4 385.7L166.0 386.2L165.7 386.7L165.5 387.3L165.3 387.9L165.2 388.5L165.1 389.1L165.1 389.8L166.9 424.9L167.0 425.6L169.3 438.6L169.4 439.2L169.6 439.8L169.6 439.9L178.8 439.9L178.9 439.9L179.0 439.9L179.1 439.9L204.6 433.0L204.7 433.0L204.7 432.9L204.8 432.9L230.3 417.2L230.4 417.2L230.5 417.1L237.7 410.0L237.6 409.4L237.4 408.8L237.2 408.3L235.9 405.6L235.7 405.1L235.4 404.7L216.0 377.5Z"/><path id="p22_0" d="M207 388h0M197 432h0M223 418h0M175 418h0M204 417h0M192 408h0M176 418h0M201 431h0M173 410h0M197 415h0M220 410h0M224 408h0M187 390h0M189 404h0M230 408h0M177 408h0M184 387h0M212 411h0M190 440h0M193 436h0M189 419h0M219 414h0M171 389h0M223 419h0M226 414h0M174 414h0M192 398h0M190 396h0M204 409h0M203 383h0M215 393h0M179 421h0M176 428h0M190 421h0M173 403h0M207 398h0M213 384h0M198 402h0M203 381h0M208 389h0"/><path id="p22_1" d="M173 425h0M199 409h0M207 408h0M197 390h0M207 402h0M183 424h0M182 413h0M195 392h0M202 390h0M203 381h0M232 411h0M186 406h0M194 429h0M206 426h0M186 390h0M208 388h0M175 424h0M190 399h0M180 419h0M198 412h0M175 417h0M212 400h0M202 419h0M188 403h0M184 420h0M175 438h0M185 416h0M208 424h0M221 395h0M197 421h0M218 423h0M196 420h0M174 390h0M227 412h0M192 395h0M181 421h0M193 435h0M184 383h0M206 395h0M223 417h0M228 411h0M192 386h0M191 405h0"/><path id="p22_2" d="M222 406h0M210 426h0M225 412h0M183 384h0M180 385h0M176 412h0M181 433h0M187 391h0M216 398h0M180 409h0M206 407h0M188 428h0M193 397h0M200 396h0M200 424h0M176 394h0M209 407h0M212 384h0M205 387h0M175 400h0M178 394h0M199 417h0M191 427h0M204 386h0M212 395h0M191 434h0M211 381h0M181 437h0M199 397h0M188 387h0M201 384h0M199 407h0M206 430h0M196 427h0M179 416h0M208 383h0M210 425h0M194 387h0"/><path id="c23" d="M214.2 321.4L214.0 321.3L204.1 324.6L204.0 324.6L203.9 324.7L203.9 324.7L203.8 324.8L203.7 324.8L203.7 324.9L191.3 340.1L191.3 340.1L191.2 340.2L191.1 340.2L191.0 340.3L191.0 340.3L190.9 340.4L190.8 340.4L172.6 343.4L172.5 343.4L172.5 343.4L172.4 343.4L172.3 343.3L167.2 342.1L164.6 343.9L164.1 344.2L163.7 344.6L163.2 345.1L162.9 345.6L161.0 348.3L160.7 348.9L160.5 349.4L160.3 350.0L160.1 350.6L160.0 351.2L160.0 351.8L160.0 352.4L162.0 372.4L162.1 372.9L162.2 373.3L163.6 378.7L163.8 379.3L164.0 379.9L164.3 380.4L164.7 381.0L165.1 381.4L165.6 381.9L166.1 382.3L166.6 382.6L170.2 384.5L170.7 384.8L171.3 385.0L171.9 385.1L172.5 385.2L191.1 386.9L191.6 387.0L192.2 386.9L203.9 385.8L204.5 385.7L205.0 385.6L205.6 385.4L206.1 385.1L206.7 384.8L217.9 377.4L218.4 377.0L218.9 376.5L219.3 376.1L219.7 375.5L220.0 375.0L231.7 351.4L231.9 350.8L232.1 350.2L232.2 349.6L232.3 348.9L232.3 348.3L232.2 347.7L232.1 347.1L231.9 346.5L231.7 345.9L229.8 342.1L229.6 341.7L222.7 330.0L222.4 329.5L222.0 329.1L221.7 328.7L214.7 321.9Z"/><path id="p23_0" d="M201 333h0M207 372h0M197 355h0M205 339h0M201 336h0M180 372h0M192 381h0M219 355h0M176 354h0M173 379h0M168 366h0M201 369h0M191 342h0M205 348h0M193 365h0M168 349h0M200 328h0M214 363h0M212 373h0M210 326h0M194 338h0M212 367h0M194 358h0M213 350h0M168 357h0M202 351h0M203 335h0M181 376h0M168 372h0M192 340h0M202 337h0M187 369h0M196 369h0M204 363h0M194 353h0M209 368h0M215 341h0"/><path id="p23_1" d="M214 372h0M175 355h0M196 380h0M200 331h0M178 344h0M219 347h0M197 349h0M192 367h0M173 354h0M203 349h0M193 379h0M217 333h0M221 356h0M217 357h0M204 376h0M169 358h0M177 375h0M218 353h0M169 359h0M180 378h0M209 373h0M180 368h0M175 350h0M174 346h0M217 333h0M222 344h0M186 345h0M221 356h0M204 350h0M212 372h0M207 374h0M226 349h0M196 347h0M212 359h0M224 345h0M179 356h0M217 349h0M187 358h0M189 366h0"/><path id="p23_2" d="M208 346h0M208 350h0M199 329h0M202 334h0M177 357h0M166 352h0M174 377h0M217 362h0M198 334h0M181 349h0M205 328h0M205 348h0M174 346h0M170 377h0M203 329h0M217 341h0M206 327h0M205 370h0M187 365h0M201 364h0M171 357h0M198 377h0M178 368h0M194 364h0M188 361h0M202 328h0M198 366h0M182 357h0M185 341h0M211 362h0M224 352h0M211 327h0M203 380h0"/><path id="c24" d="M252.3 283.5L251.7 283.4L251.4 283.4L254.3 290.4L254.3 290.5L254.3 290.6L254.4 290.7L254.4 290.8L254.4 290.8L254.3 290.9L254.3 291.0L254.3 291.1L254.3 291.2L254.2 291.2L245.4 305.8L245.3 305.8L245.2 305.9L245.2 306.0L245.1 306.0L245.0 306.1L223.2 318.3L223.2 318.4L223.1 318.4L216.0 320.7L214.4 322.5L214.1 323.0L213.8 323.5L213.5 324.0L213.3 324.5L213.1 325.1L213.0 325.7L212.9 326.3L212.9 326.9L213.2 331.4L213.3 332.0L213.4 332.6L213.6 333.2L213.8 333.8L214.1 334.3L220.6 344.7L220.9 345.2L221.3 345.6L221.7 346.0L227.1 351.1L227.5 351.4L227.9 351.7L228.4 352.0L234.5 355.3L235.0 355.5L235.5 355.7L236.0 355.8L236.5 355.9L263.4 359.9L264.0 360.0L264.6 360.0L265.3 359.9L265.9 359.8L266.5 359.6L267.0 359.3L267.6 359.0L268.1 358.7L268.6 358.3L269.0 357.8L269.4 357.3L269.7 356.8L270.0 356.2L270.4 355.1L267.5 335.1L267.5 335.0L267.5 334.9L267.5 334.8L267.5 334.7L270.4 321.9L270.5 321.8L270.5 321.8L270.5 321.7L270.6 321.6L270.6 321.5L270.7 321.5L270.7 321.4L270.8 321.4L270.9 321.3L271.0 321.3L271.0 321.3L278.0 319.0L278.0 318.8L277.9 318.2L277.7 317.6L277.5 317.0L264.3 289.1L264.0 288.6L263.7 288.1L263.3 287.7L262.9 287.2L262.5 286.9L262.0 286.5L261.5 286.3L261.0 286.0L260.4 285.8L252.8 283.6Z"/><path id="p24_0" d="M225 327h0M260 326h0M219 331h0M226 341h0M271 336h0M234 348h0M258 329h0M249 347h0M249 331h0M245 308h0M246 316h0M226 322h0M239 348h0M248 325h0M265 342h0M264 354h0M256 331h0M240 312h0M260 336h0M219 327h0M239 347h0M229 343h0"/><path id="p24_1" d="M236 315h0M253 310h0M253 331h0M266 345h0M262 318h0M247 338h0M257 301h0M231 347h0M237 350h0M247 338h0M265 329h0M259 299h0M261 323h0M243 326h0M229 337h0M242 308h0M256 351h0M231 328h0M270 336h0M264 339h0M240 319h0M250 345h0M259 292h0M270 341h0M243 346h0M246 310h0M247 340h0M249 312h0M258 313h0M239 337h0M254 321h0M255 339h0"/><path id="p24_2" d="M264 344h0M260 322h0M261 308h0M236 323h0M260 341h0M261 320h0M254 301h0M229 339h0M260 344h0M272 320h0M258 327h0M250 315h0M231 337h0M251 290h0M257 309h0M231 325h0M219 327h0M239 338h0M227 331h0M251 310h0M263 325h0M224 321h0M261 310h0M231 319h0M264 315h0M235 310h0M255 319h0M260 304h0M256 301h0"/><path id="c25" d="M163.7 378.9L163.0 378.8L162.4 378.7L161.7 378.7L159.8 378.9L159.4 378.9L134.6 382.7L134.1 382.7L133.6 382.9L108.6 390.9L117.3 410.5L117.4 410.6L130.1 432.6L130.2 432.7L130.2 432.7L130.3 432.8L130.4 432.8L130.4 432.9L130.5 432.9L130.6 433.0L130.7 433.0L153.0 439.9L153.1 439.9L153.2 439.9L153.3 439.9L178.1 439.9L178.4 439.5L178.8 439.0L179.0 438.5L179.3 437.9L179.4 437.4L179.5 436.8L179.6 436.2L179.6 435.6L176.8 391.5L176.7 390.9L176.6 390.3L176.4 389.7L176.1 389.1L175.8 388.6L175.5 388.1L171.0 382.5L170.6 382.0L170.2 381.6L169.8 381.3L169.3 380.9L168.8 380.7L168.2 380.5L164.3 379.1Z"/><path id="p25_0" d="M166 399h0M135 421h0M140 437h0M170 426h0M151 395h0M155 437h0M160 389h0M122 406h0M148 427h0M171 426h0M153 403h0M138 395h0M161 391h0M120 395h0M132 398h0M148 431h0M141 414h0M125 403h0M133 428h0M143 419h0M136 427h0M148 428h0M162 433h0M173 436h0M141 426h0M161 436h0M141 415h0M131 392h0M156 427h0M169 406h0M138 410h0M171 419h0M161 389h0M156 392h0M148 426h0M135 389h0M131 425h0M134 404h0M169 402h0"/><path id="p25_1" d="M143 391h0M126 396h0M130 407h0M120 398h0M139 425h0M137 427h0M164 390h0M144 403h0M170 398h0M143 413h0M121 414h0M134 424h0M168 391h0M166 386h0M148 387h0M166 402h0M127 400h0M152 413h0M166 420h0M159 416h0M154 391h0M136 431h0M146 428h0M161 414h0M127 411h0M143 440h0M146 413h0M152 394h0M170 394h0M116 403h0M127 411h0M167 412h0M162 434h0M138 420h0M168 421h0M108 397h0"/><path id="p25_2" d="M149 408h0M170 408h0M147 428h0M160 385h0M142 429h0M134 413h0M150 404h0M134 426h0M141 398h0M161 430h0M171 392h0M126 425h0M133 407h0M140 391h0M162 397h0M122 399h0M141 427h0M146 408h0M162 385h0M144 408h0M123 401h0M143 391h0M133 427h0M150 428h0M145 392h0M163 416h0M144 422h0M137 394h0M137 390h0M144 435h0M156 394h0M169 438h0M122 404h0M163 402h0M129 396h0M138 404h0"/><path id="c26" d="M90.4 51.8L90.0 52.4L83.1 63.1L82.8 63.6L82.6 64.2L81.6 66.6L81.4 67.3L81.2 67.9L81.2 68.5L81.2 69.2L81.2 69.8L81.3 70.5L85.3 86.1L85.5 86.7L85.7 87.2L86.0 87.8L86.4 88.3L86.8 88.7L87.2 89.2L87.7 89.6L109.9 105.7L110.4 106.0L110.9 106.3L111.4 106.5L112.0 106.7L112.6 106.8L113.2 106.8L118.6 107.2L119.3 107.2L120.0 107.1L120.7 107.0L124.9 105.8L125.6 105.6L126.2 105.3L136.6 99.7L137.1 99.3L137.6 99.0L139.0 97.8L138.1 95.9L138.1 95.9L128.5 77.1L128.5 77.0L128.4 76.9L118.9 65.2L118.9 65.1L118.8 65.0L115.6 58.7L115.6 58.6L115.6 58.6L115.6 58.5L115.5 58.4L115.5 58.3L115.5 58.2L115.6 58.1L115.6 58.0L115.6 58.0L115.7 57.9L115.7 57.8L115.7 57.7L115.8 57.7L115.9 57.6L115.9 57.6L116.0 57.5L116.1 57.5L116.2 57.5L116.3 57.5L116.4 57.4L116.4 57.4L116.5 57.4L133.6 59.5L133.7 59.5L133.8 59.5L133.8 59.6L133.9 59.6L134.0 59.6L151.7 71.1L151.8 71.1L151.8 71.2L151.9 71.2L152.0 71.3L152.0 71.4L152.0 71.5L157.1 82.8L160.0 80.4L160.4 80.0L160.8 79.5L161.2 79.0L161.5 78.5L161.8 78.0L162.0 77.4L162.1 76.9L162.2 76.3L162.2 75.7L162.2 75.1L162.1 74.5L161.1 69.0L152.3 59.7L152.2 59.6L152.2 59.5L152.1 59.5L134.5 50.1L134.4 50.0L134.4 50.0L134.2 50.0L111.9 45.9L111.8 45.9L111.7 45.9L111.6 45.9L111.5 45.9L95.9 49.9L95.8 49.9L95.7 49.9L95.6 49.9L95.6 49.9L92.2 49.6Z"/><path id="p26_0" d="M117 49h0M110 54h0M101 52h0M112 70h0M133 51h0M103 58h0M123 100h0M101 49h0M132 52h0M102 89h0M104 45h0M106 84h0M106 61h0M133 89h0M105 78h0M96 85h0M101 66h0M156 76h0M128 82h0M88 70h0M138 55h0M95 72h0M94 80h0M114 59h0M95 56h0M119 79h0M104 60h0M114 53h0M134 54h0M95 56h0M110 62h0M105 65h0M101 65h0M101 70h0M94 72h0"/><path id="p26_1" d="M94 61h0M112 64h0M105 85h0M131 95h0M122 92h0M143 57h0M115 89h0M105 44h0M127 86h0M95 65h0M94 84h0M105 75h0M130 83h0M117 71h0M107 85h0M87 69h0M130 85h0M92 78h0M123 76h0M106 52h0M134 94h0M130 90h0M111 69h0M99 51h0M150 59h0M91 85h0M117 89h0M134 89h0"/><path id="p26_2" d="M115 93h0M128 57h0M94 65h0M140 56h0M88 66h0M105 79h0M108 80h0M134 64h0M116 61h0M109 88h0M114 83h0M100 60h0M116 50h0M100 79h0M119 101h0M119 88h0M127 47h0M102 74h0M120 63h0M110 57h0M123 53h0M124 97h0M154 63h0M106 81h0M120 92h0M138 56h0M114 101h0M106 79h0M91 78h0M153 68h0M133 92h0M108 68h0M120 82h0"/><path id="c27" d="M19.6 155.4L20.2 155.2L39.3 146.0L39.5 146.0L57.8 136.5L58.3 136.2L58.8 135.8L59.3 135.4L59.7 134.9L60.0 134.5L60.4 133.9L60.6 133.4L60.8 132.8L61.0 132.2L61.1 131.6L61.1 131.0L61.1 130.4L60.2 121.6L60.2 121.4L56.9 99.4L56.8 98.7L56.6 98.1L56.4 97.5L56.1 97.0L55.7 96.5L55.3 96.0L54.9 95.6L54.4 95.2L53.8 94.8L30.0 81.8L29.6 81.6L29.1 81.4L28.6 81.3L27.7 81.0L23.3 86.4L23.3 86.4L5.7 108.3L5.7 108.4L5.6 108.5L5.6 108.5L5.5 108.6L-0.8 127.4L-0.9 127.5L-0.9 127.6L-0.9 127.7L-0.9 127.8L-0.9 127.9L-0.8 128.0L-0.8 128.1L-0.8 128.2L8.8 146.9L8.8 147.0L8.9 147.1L8.9 147.2L9.0 147.2L19.0 155.6Z"/><path id="p27_0" d="M10 124h0M33 113h0M18 150h0M30 123h0M37 110h0M51 100h0M46 116h0M49 113h0M30 128h0M42 130h0M24 125h0M16 118h0M40 120h0M10 106h0M28 98h0M23 92h0M6 105h0M46 126h0M11 144h0M36 98h0M32 136h0M21 112h0M49 125h0M36 114h0M17 149h0M30 126h0M23 122h0M37 140h0M30 133h0M31 101h0M31 100h0M12 103h0M35 127h0M16 124h0M38 95h0M38 116h0M19 116h0M45 133h0M51 119h0M13 108h0M35 114h0M19 112h0M26 110h0M34 110h0M12 113h0M18 119h0M47 98h0M28 105h0M42 134h0M41 97h0M16 110h0M6 142h0M3 108h0"/><path id="p27_1" d="M5 116h0M55 131h0M53 126h0M37 115h0M45 128h0M4 104h0M15 142h0M4 116h0M27 117h0M26 105h0M36 111h0M1 133h0M15 130h0M9 146h0M11 150h0M22 128h0M48 105h0M43 115h0M16 130h0M28 122h0M15 103h0M48 102h0M40 106h0M34 135h0M22 86h0M18 117h0M44 104h0M34 105h0M3 125h0M19 88h0M-1 127h0M35 97h0M30 125h0M27 87h0M32 98h0"/><path id="p27_2" d="M13 119h0M30 108h0M9 143h0M16 145h0M6 126h0M21 128h0M19 99h0M4 139h0M31 142h0M20 91h0M16 148h0M33 118h0M43 100h0M51 131h0M21 109h0M19 114h0M26 127h0M19 131h0M18 141h0M54 122h0M21 93h0M26 106h0M38 94h0M36 95h0M0 130h0M49 131h0M32 91h0M32 130h0M30 137h0M14 100h0M20 131h0M49 132h0M13 146h0"/><path id="c28" d="M116.6 130.5L116.0 130.4L115.4 130.4L114.7 130.4L114.1 130.5L113.5 130.6L113.0 130.8L112.4 131.0L111.9 131.3L111.4 131.7L110.9 132.1L110.5 132.6L110.2 133.0L109.8 133.6L109.6 134.1L100.5 155.4L100.5 155.4L94.0 171.1L93.9 171.3L90.2 180.9L90.0 181.5L89.9 182.0L89.8 182.6L89.8 183.1L89.8 183.7L90.2 187.7L90.2 187.9L90.4 189.5L90.6 190.0L90.7 190.6L90.9 191.2L91.2 191.7L91.5 192.2L91.9 192.7L92.3 193.1L92.8 193.5L93.3 193.9L93.8 194.2L94.3 194.4L94.9 194.6L95.5 194.7L96.1 194.8L120.5 196.8L121.1 196.8L121.6 196.7L122.2 196.6L122.2 196.6L122.2 191.4L122.2 191.3L122.2 191.2L122.2 191.1L122.3 191.1L122.3 191.0L122.4 190.9L122.4 190.9L122.5 190.8L122.5 190.7L122.6 190.7L134.6 181.8L134.7 181.7L134.7 181.7L134.8 181.6L134.8 181.6L134.9 181.5L134.9 181.4L141.1 166.2L141.2 166.1L141.2 166.0L141.3 165.9L141.3 165.9L141.4 165.8L156.0 154.3L155.9 154.2L155.7 153.7L155.4 153.1L155.1 152.6L154.8 152.2L154.4 151.8L153.9 151.4L153.4 151.0L127.2 134.2L126.8 133.9L126.3 133.7L125.8 133.5L117.1 130.7Z"/><path id="p28_0" d="M103 176h0M124 139h0M134 153h0M138 149h0M150 156h0M138 152h0M129 158h0M120 166h0M134 176h0M122 145h0M112 147h0M136 149h0M120 152h0M124 157h0M128 181h0M113 149h0M129 169h0M100 173h0M147 164h0M132 182h0M130 160h0M124 178h0M122 150h0M137 173h0M122 167h0M115 182h0M116 148h0M136 176h0M125 187h0"/><path id="p28_1" d="M132 174h0M139 154h0M115 139h0M121 191h0M111 147h0M110 158h0M140 161h0M146 161h0M125 153h0M145 154h0M143 152h0M128 188h0M112 160h0M115 137h0M96 187h0M116 187h0M122 159h0M124 168h0M106 158h0M113 174h0M125 175h0M127 173h0M123 159h0M102 169h0M116 167h0M134 157h0M126 141h0M131 154h0M97 189h0M126 170h0M121 188h0M113 159h0M148 159h0"/><path id="p28_2" d="M131 183h0M106 184h0M119 139h0M143 163h0M131 181h0M96 183h0M117 189h0M126 152h0M110 174h0M105 183h0M128 161h0M117 161h0M111 175h0M145 156h0M137 169h0M115 186h0M135 164h0M131 186h0M112 153h0M143 158h0M121 147h0M108 181h0M132 154h0M132 157h0M129 149h0"/><path id="c29" d="M24.4 86.8L24.6 87.4L24.8 88.0L25.1 88.6L25.4 89.1L25.8 89.6L26.2 90.0L26.7 90.4L27.2 90.8L48.6 104.1L49.1 104.4L49.7 104.6L50.3 104.8L50.9 104.9L51.5 105.0L52.1 105.0L52.7 104.9L53.4 104.8L53.9 104.6L54.5 104.4L55.1 104.1L64.0 98.5L64.1 98.4L71.4 93.6L72.0 93.1L84.3 82.6L84.8 82.1L85.3 81.5L91.0 73.6L91.3 73.0L91.6 72.5L91.9 71.9L92.0 71.2L92.1 70.6L92.2 70.0L92.2 49.8L92.2 49.6L67.2 46.8L67.1 46.8L67.0 46.8L66.9 46.8L66.8 46.9L66.7 46.9L66.7 46.9L66.6 47.0L44.3 61.1L44.2 61.1L44.1 61.2L44.0 61.3L24.1 85.3Z"/><path id="p29_0" d="M55 61h0M74 72h0M46 63h0M51 88h0M38 76h0M38 63h0M30 86h0M53 91h0M79 55h0M56 89h0M48 76h0M40 80h0M51 74h0M54 77h0M85 55h0M77 71h0M81 65h0M78 50h0M56 85h0M59 65h0M83 72h0M49 84h0M28 76h0M52 99h0M75 64h0M70 63h0M47 72h0M59 89h0M69 79h0"/><path id="p29_1" d="M57 60h0M75 67h0M76 73h0M86 50h0M52 63h0M57 90h0M51 88h0M65 67h0M78 74h0M71 46h0M60 91h0M86 70h0M56 79h0M70 82h0M56 61h0M69 64h0M66 61h0M79 72h0M60 92h0M76 54h0M47 65h0M54 83h0M36 82h0M47 66h0M42 67h0M64 54h0M66 70h0M41 87h0M40 70h0M45 70h0M67 50h0M76 61h0M52 93h0M80 78h0M61 83h0M60 75h0"/><path id="p29_2" d="M65 67h0M52 53h0M73 69h0M68 51h0M56 80h0M65 51h0M33 77h0M50 96h0M75 55h0M56 78h0M83 50h0M50 84h0M40 73h0M50 65h0M43 73h0M48 95h0M41 76h0M47 73h0M66 44h0M61 93h0M67 48h0M51 69h0M69 68h0M73 69h0M42 58h0M42 90h0M59 59h0M54 61h0M80 58h0M77 72h0M70 60h0M53 64h0M62 82h0M56 79h0M41 74h0M53 74h0M68 88h0"/><path id="c30" d="M85.2 78.7L84.6 78.5L84.0 78.4L83.4 78.3L82.8 78.3L82.2 78.4L81.6 78.5L81.0 78.7L80.4 78.9L79.9 79.2L79.4 79.5L61.1 93.1L60.7 93.4L60.2 93.9L59.9 94.3L53.8 102.3L53.5 102.8L53.2 103.3L53.0 103.8L52.8 104.4L52.7 104.9L52.6 105.5L51.8 114.3L51.8 114.8L51.8 115.4L51.9 115.9L53.2 123.2L53.3 123.8L53.5 124.4L53.8 125.0L54.1 125.5L54.5 126.0L54.9 126.5L55.4 126.9L66.4 135.9L66.9 136.3L67.4 136.6L67.9 136.8L68.5 137.1L69.1 137.2L69.6 137.3L70.2 137.3L70.8 137.3L105.3 134.4L105.9 134.3L113.1 133.0L113.6 132.9L114.2 132.7L114.8 132.4L115.3 132.1L115.8 131.8L116.2 131.4L116.7 130.9L117.0 130.4L117.3 129.9L117.6 129.4L117.8 128.8L118.0 128.2L120.6 115.8L120.7 115.2L120.7 114.6L120.8 107.4L120.7 106.8L120.7 106.2L120.5 105.7L120.3 105.1L120.1 104.6L119.8 104.1L119.5 103.6L115.6 98.6L115.2 98.2L114.8 97.8L103.5 87.8L103.1 87.5L102.6 87.2L102.2 86.9L85.7 78.9Z"/><path id="p30_0" d="M82 126h0M73 110h0M91 110h0M115 107h0M106 101h0M60 111h0M93 92h0M87 104h0M74 93h0M71 100h0M76 108h0M70 98h0M107 113h0M85 118h0M109 114h0M82 97h0M93 104h0M68 125h0M112 127h0M104 116h0M99 92h0M72 127h0M88 129h0M107 103h0M64 120h0M59 122h0M84 94h0M89 110h0M103 111h0M94 124h0"/><path id="p30_1" d="M69 121h0M93 124h0M81 127h0M92 102h0M75 120h0M70 122h0M115 115h0M91 103h0M58 115h0M78 116h0M109 119h0M70 114h0M66 122h0M70 114h0M59 106h0M106 121h0M90 125h0M88 87h0M66 128h0M61 121h0M105 128h0M102 128h0M64 109h0M83 84h0M84 96h0M88 92h0M65 98h0M94 106h0M111 102h0M85 115h0M109 123h0M66 98h0"/><path id="p30_2" d="M98 116h0M88 119h0M95 107h0M69 100h0M92 127h0M70 119h0M108 127h0M64 115h0M103 120h0M81 118h0M76 110h0M81 96h0M71 98h0M70 131h0M71 120h0M81 100h0M101 109h0M86 87h0M110 107h0M87 95h0M89 104h0M78 119h0M112 105h0M64 109h0M99 97h0M71 106h0M76 125h0M103 123h0M72 113h0M99 124h0M63 119h0"/><path id="c31" d="M159.4 81.7L158.9 81.8L157.0 82.5L159.6 88.4L159.6 88.4L159.6 88.5L159.6 88.6L159.7 88.7L159.7 88.8L159.6 88.9L156.4 105.6L156.3 105.7L156.3 105.8L156.3 105.8L156.2 105.9L156.2 106.0L156.1 106.0L156.0 106.1L148.0 112.5L147.9 112.6L147.9 112.6L147.8 112.7L147.7 112.7L147.6 112.7L147.5 112.7L147.4 112.7L147.4 112.7L147.3 112.7L147.2 112.7L147.1 112.7L147.0 112.6L147.0 112.6L146.9 112.5L146.8 112.5L146.8 112.4L146.7 112.3L146.7 112.3L138.1 95.9L138.1 95.9L134.9 89.6L133.4 90.1L133.0 90.2L129.1 91.8L128.6 92.0L128.1 92.3L127.7 92.6L115.2 102.4L114.8 102.8L114.4 103.2L114.0 103.7L113.7 104.2L113.4 104.7L113.2 105.3L113.0 105.9L109.8 120.1L109.7 120.7L109.6 121.3L109.7 121.9L109.7 122.6L109.9 123.2L110.1 123.8L110.4 124.3L118.3 139.4L118.6 139.9L119.0 140.4L119.3 140.8L119.8 141.2L120.2 141.6L120.7 141.9L135.5 150.4L135.6 150.5L150.5 158.6L159.8 151.3L159.8 151.3L159.9 151.3L160.0 151.2L160.1 151.2L160.2 151.2L160.3 151.2L175.6 150.0L175.7 150.0L184.6 150.5L184.7 150.6L184.8 150.6L184.9 150.6L184.9 150.6L185.0 150.7L183.1 133.0L175.7 134.7L175.6 134.7L175.5 134.7L175.4 134.7L151.6 131.9L151.5 131.9L151.4 131.9L151.3 131.8L151.2 131.8L151.2 131.8L151.1 131.7L151.0 131.6L151.0 131.6L150.9 131.5L150.9 131.4L150.8 131.4L150.8 131.3L150.8 131.2L150.8 131.1L150.8 131.0L150.8 130.9L150.8 130.8L150.8 130.8L150.9 130.7L150.9 130.6L151.0 130.5L157.2 122.0L157.2 121.9L157.3 121.8L157.3 121.7L162.1 106.1L162.1 106.0L169.4 88.9L169.4 88.8L169.5 88.7L169.5 88.6L169.5 88.5L169.5 88.4L169.5 88.3L169.4 88.2L166.7 80.0Z"/><path id="p31_0" d="M159 115h0M145 137h0M133 129h0M134 97h0M144 132h0M150 111h0M157 115h0M157 147h0M149 142h0M143 122h0M131 97h0M125 108h0M161 149h0M170 134h0M119 107h0M161 88h0M156 140h0M153 148h0M132 103h0M179 153h0M139 113h0M129 119h0M146 115h0M142 106h0M156 140h0M160 92h0M162 136h0M138 95h0M124 137h0M145 115h0M146 120h0"/><path id="p31_1" d="M129 114h0M153 140h0M120 114h0M157 117h0M116 121h0M137 131h0M157 155h0M154 122h0M161 137h0M150 145h0M119 119h0M153 112h0M150 145h0M131 134h0M124 110h0M130 125h0M162 139h0M142 107h0M146 121h0M143 96h0M145 147h0M143 123h0M166 148h0M170 88h0M150 126h0M143 120h0M176 141h0M143 108h0M179 151h0M140 137h0M161 97h0"/><path id="p31_2" d="M130 120h0M125 125h0M156 141h0M122 132h0M160 133h0M141 126h0M162 88h0M165 138h0M136 140h0M169 86h0M147 144h0M135 96h0M143 100h0M143 134h0M153 108h0M158 140h0M148 144h0M127 106h0M152 137h0M139 140h0M128 122h0M172 92h0M175 145h0M135 108h0M163 145h0M150 126h0M142 132h0M139 145h0M145 112h0M142 107h0M125 115h0"/><path id="c32" d="M117.4 129.3L117.4 128.6L117.3 128.0L117.1 127.4L116.9 126.8L116.6 126.3L116.3 125.7L115.9 125.2L115.5 124.8L115.0 124.4L114.5 124.0L114.0 123.7L113.4 123.5L112.8 123.3L112.2 123.1L111.6 123.1L111.0 123.1L82.8 124.3L81.9 124.4L65.0 127.4L64.4 127.5L63.8 127.7L63.2 128.0L62.7 128.3L62.2 128.6L61.7 129.0L61.3 129.5L61.0 129.9L60.6 130.5L60.4 131.0L60.2 131.6L60.0 132.2L59.9 132.8L59.9 133.4L59.8 144.0L59.8 144.5L59.9 145.1L60.0 145.6L60.1 146.1L74.9 188.2L75.2 188.8L75.4 189.3L75.8 189.8L76.1 190.3L76.6 190.7L77.0 191.1L77.5 191.4L78.0 191.7L78.6 191.9L79.2 192.1L79.7 192.3L80.3 192.3L80.9 192.3L81.5 192.3L82.1 192.2L82.7 192.0L83.3 191.8L83.8 191.5L84.3 191.2L92.6 185.3L93.2 184.9L93.6 184.4L105.9 170.8L106.4 170.3L106.7 169.7L107.0 169.1L109.3 164.0L109.5 163.4L115.7 144.4L115.9 143.8L116.0 143.1L117.4 129.9Z"/><path id="p32_0" d="M88 159h0M75 157h0M66 133h0M74 141h0M96 134h0M79 151h0M84 145h0M99 149h0M77 148h0M110 133h0M91 132h0M83 166h0M90 130h0M110 142h0M97 147h0M75 152h0M79 149h0M90 144h0M104 161h0M91 159h0M72 144h0M85 148h0M100 137h0"/><path id="p32_1" d="M101 166h0M95 168h0M79 143h0M102 131h0M73 132h0M103 158h0M77 143h0M72 156h0M77 170h0M91 161h0M66 144h0M79 161h0M78 176h0M81 138h0M86 168h0M80 181h0M84 135h0M87 172h0M78 133h0M101 167h0M76 139h0M93 152h0M107 145h0M83 164h0M98 170h0M82 177h0M96 148h0M111 129h0M97 145h0M81 132h0"/><path id="p32_2" d="M81 186h0M71 134h0M81 142h0M93 154h0M104 137h0M73 149h0M97 148h0M91 133h0M86 151h0M83 130h0M82 153h0M96 150h0M89 180h0M106 152h0M91 144h0M96 142h0M75 137h0M103 156h0M78 159h0M91 173h0M82 170h0M101 135h0M76 155h0M77 150h0M78 168h0M79 173h0M74 142h0M86 152h0M87 139h0M96 158h0"/><path id="c33" d="M50.7 128.5L50.1 128.5L49.6 128.5L49.0 128.6L48.4 128.8L47.9 129.0L47.4 129.2L19.0 144.1L18.5 144.4L18.1 144.7L17.6 145.1L17.2 145.5L16.9 146.0L16.6 146.5L16.3 147.0L16.1 147.5L15.9 148.1L15.8 148.6L15.7 149.2L15.5 152.7L31.0 165.7L31.0 165.8L31.1 165.9L31.1 165.9L31.2 166.0L31.2 166.1L31.2 166.1L35.5 180.3L35.6 180.3L35.6 180.4L35.6 180.5L35.6 180.6L35.6 180.7L35.6 180.8L35.5 180.8L35.5 180.9L35.4 181.0L35.4 181.0L35.3 181.1L35.3 181.2L33.7 182.6L38.2 188.9L38.6 189.3L39.0 189.8L39.5 190.2L40.0 190.5L40.6 190.8L41.1 191.0L41.7 191.2L42.3 191.3L42.9 191.4L63.1 192.4L63.6 192.4L64.1 192.3L64.7 192.2L76.9 189.6L77.5 189.4L78.0 189.2L78.6 188.9L79.1 188.6L79.6 188.2L80.0 187.8L80.4 187.4L80.8 186.9L81.1 186.4L81.3 185.8L81.5 185.2L81.7 184.6L81.7 184.0L81.7 183.4L81.7 182.8L81.6 182.2L78.2 166.9L78.1 166.3L71.3 145.6L71.1 145.0L70.8 144.4L64.0 133.0L63.7 132.5L63.3 132.0L62.9 131.6L62.5 131.2L62.0 130.9L61.5 130.6L60.9 130.3L60.4 130.1L59.8 130.0L51.3 128.6Z"/><path id="p33_0" d="M35 151h0M58 138h0M39 144h0M43 150h0M50 173h0M37 176h0M39 173h0M48 174h0M59 136h0M37 154h0M54 159h0M52 158h0M53 167h0M56 165h0M35 163h0M31 148h0M38 156h0M29 164h0M69 180h0M54 135h0M43 185h0"/><path id="p33_1" d="M35 159h0M38 157h0M50 174h0M30 167h0M66 168h0M36 164h0M52 148h0M45 141h0M40 180h0M51 164h0M59 175h0M54 142h0M43 177h0M64 155h0M30 158h0M76 184h0M44 181h0M29 162h0M65 148h0M60 172h0M39 161h0M60 162h0M62 154h0M46 148h0M55 184h0M37 175h0M36 160h0M55 143h0M59 166h0M68 169h0M63 169h0M57 163h0M55 184h0M56 141h0M36 163h0"/><path id="p33_2" d="M56 176h0M22 155h0M23 152h0M63 186h0M43 155h0M72 168h0M50 157h0M64 167h0M54 165h0M50 135h0M35 169h0M61 147h0M38 150h0M35 145h0M37 157h0M64 174h0M64 148h0M67 176h0M22 150h0M66 151h0M71 172h0M69 163h0M26 154h0M41 180h0M40 161h0M43 161h0M61 157h0M54 167h0M47 140h0M35 145h0M70 180h0M60 168h0M65 185h0"/><path id="c34" d="M63.8 172.6L63.2 172.7L62.6 172.8L62.1 173.0L61.5 173.2L61.0 173.5L60.5 173.8L60.0 174.2L59.6 174.6L59.2 175.0L58.9 175.5L58.6 176.0L58.4 176.6L56.5 181.4L56.3 182.0L56.2 182.6L56.1 183.2L56.1 183.8L56.5 194.6L56.5 195.3L56.7 196.0L56.9 196.6L58.4 200.5L65.9 198.1L66.0 198.1L66.1 198.0L66.2 198.0L66.2 198.0L66.3 198.1L66.4 198.1L66.5 198.1L66.6 198.1L66.7 198.2L66.7 198.2L66.8 198.3L66.9 198.4L66.9 198.4L67.0 198.5L73.9 212.2L74.0 212.3L74.0 212.4L74.0 212.5L74.0 212.6L74.0 212.6L74.0 212.7L74.0 212.8L74.0 212.9L69.7 226.9L69.7 227.0L69.6 227.1L69.6 227.1L69.6 227.2L69.5 227.3L69.4 227.3L69.4 227.4L69.3 227.4L69.2 227.5L69.1 227.5L69.0 227.5L68.6 227.6L68.7 227.7L69.0 228.2L69.3 228.7L69.7 229.2L70.1 229.6L70.6 230.0L71.1 230.3L81.7 236.6L82.1 236.8L94.3 243.1L94.8 243.3L95.4 243.5L96.0 243.7L96.7 243.8L97.3 243.8L97.9 243.7L98.5 243.6L99.1 243.4L99.7 243.2L100.5 242.8L101.1 242.5L101.6 242.2L102.1 241.8L104.8 239.3L103.2 234.7L103.2 234.6L103.2 234.6L103.2 234.5L103.2 234.4L103.2 234.3L103.2 234.2L103.2 234.2L109.3 216.1L109.3 216.0L109.4 216.0L109.4 215.9L122.1 197.3L122.1 197.2L122.1 197.1L122.2 197.0L122.2 196.9L122.2 196.9L122.2 196.8L122.2 191.4L122.2 191.3L122.2 191.2L122.2 191.1L122.3 191.1L122.3 191.0L122.4 190.9L122.4 190.9L122.5 190.8L122.5 190.7L122.6 190.7L129.9 185.3L129.9 185.2L129.7 184.7L129.5 184.1L129.3 183.6L128.9 183.1L128.6 182.6L128.2 182.2L127.7 181.8L127.3 181.4L126.8 181.1L126.2 180.9L125.7 180.7L125.1 180.5L94.3 174.1L93.8 174.0L93.3 174.0L64.4 172.6Z"/><path id="p34_0" d="M103 218h0M65 190h0M97 222h0M101 224h0M101 199h0M80 182h0M62 184h0M95 234h0M109 208h0M63 194h0M80 201h0M93 180h0M78 194h0M98 194h0M77 215h0M76 197h0M97 216h0M107 197h0M119 190h0M99 188h0M89 194h0M124 187h0M111 203h0M74 197h0M114 197h0M70 188h0"/><path id="p34_1" d="M71 195h0M78 222h0M108 217h0M87 192h0M74 192h0M88 197h0M83 205h0M91 216h0M97 238h0M105 223h0M101 215h0M89 199h0M97 231h0M106 202h0M89 213h0M85 231h0M95 196h0M70 182h0M84 225h0M73 203h0M86 186h0M84 213h0M74 193h0M117 196h0M74 225h0M89 220h0M99 232h0M97 230h0"/><path id="p34_2" d="M64 179h0M75 194h0M88 228h0M91 234h0M105 218h0M93 214h0M81 202h0M88 194h0M103 227h0M88 202h0M103 192h0M72 197h0M97 193h0M76 213h0M97 186h0M106 194h0M111 209h0M96 232h0M104 232h0M67 201h0M81 220h0M88 209h0M70 186h0M93 215h0M121 193h0M86 214h0M73 192h0M98 237h0"/><path id="c35" d="M104.6 267.9L104.0 267.8L103.4 267.8L102.8 267.8L102.2 267.9L101.7 268.1L101.1 268.3L100.6 268.6L100.1 268.9L99.6 269.3L99.1 269.7L98.7 270.1L98.4 270.6L98.1 271.1L97.8 271.7L97.6 272.3L97.5 272.8L97.4 273.4L96.9 279.4L102.9 291.2L103.0 291.3L103.0 291.3L107.7 306.8L107.7 306.9L112.5 325.7L112.5 325.7L117.1 340.6L117.1 340.7L117.1 340.8L117.1 340.9L117.1 341.0L117.1 341.1L117.1 341.1L117.1 341.2L117.6 341.2L118.2 341.3L118.8 341.3L119.4 341.2L120.0 341.1L124.4 339.9L125.0 339.7L125.6 339.4L126.2 339.1L126.7 338.7L127.2 338.3L129.6 335.8L130.0 335.4L130.4 334.8L130.7 334.3L131.0 333.7L131.2 333.1L131.3 332.5L131.3 332.0L129.0 331.2L128.9 331.2L128.9 331.2L128.8 331.1L128.7 331.1L128.7 331.0L128.6 330.9L128.6 330.9L128.5 330.8L128.5 330.7L128.5 330.6L128.4 330.5L125.4 309.7L125.4 309.5L120.6 290.7L120.6 290.6L120.5 290.6L112.6 271.9L112.6 271.8L112.6 271.7L112.4 270.4L108.6 269.0L108.1 268.8L105.2 268.0Z"/><path id="p35_0" d="M113 329h0M122 308h0M105 282h0M123 285h0M109 277h0M126 321h0M111 327h0M113 306h0M121 298h0M107 285h0M102 292h0M108 311h0M103 276h0M108 321h0M104 278h0M124 300h0M112 277h0"/><path id="p35_1" d="M120 311h0M106 275h0M123 334h0M114 311h0M117 319h0M119 304h0M121 308h0M117 332h0M112 311h0M117 323h0M109 300h0M117 331h0M124 326h0"/><path id="p35_2" d="M118 327h0M112 302h0M120 303h0M123 311h0M125 325h0M110 318h0M124 300h0M118 335h0M122 311h0M114 302h0M104 274h0M117 316h0M116 294h0M116 306h0M125 331h0M115 324h0M117 291h0"/><path id="c36" d="M74.3 223.5L73.8 223.5L73.2 223.5L70.6 223.9L69.7 226.9L69.7 227.0L69.6 227.1L69.6 227.1L69.6 227.2L69.5 227.3L69.4 227.3L69.4 227.4L69.3 227.4L69.2 227.5L69.1 227.5L69.0 227.5L55.3 230.2L55.2 230.2L55.1 230.2L55.0 230.2L54.9 230.2L54.9 230.2L54.8 230.1L54.7 230.1L54.6 230.1L54.6 230.0L54.5 229.9L54.4 229.9L54.4 229.8L52.3 226.5L51.8 226.6L51.1 226.7L50.5 226.9L49.9 227.2L49.4 227.5L48.9 227.8L48.4 228.2L31.3 244.6L30.9 245.0L30.6 245.4L30.3 245.8L30.0 246.3L29.8 246.8L27.5 252.8L27.9 253.6L28.0 253.8L40.8 272.6L40.8 272.7L40.9 272.7L41.0 272.8L41.0 272.8L41.1 272.9L41.2 272.9L41.3 272.9L41.4 273.0L41.5 273.0L73.4 274.5L73.4 274.5L94.7 276.0L94.8 276.1L94.9 276.1L95.0 276.1L95.1 276.1L95.2 276.2L95.2 276.2L95.3 276.3L95.4 276.4L95.4 276.4L95.5 276.5L97.8 281.1L106.7 273.0L107.1 272.6L107.5 272.1L107.9 271.6L108.2 271.0L108.4 270.4L108.6 269.8L108.7 269.2L110.1 257.1L109.4 253.1L109.4 253.1L109.4 253.0L104.1 237.3L97.6 232.8L97.2 232.6L96.8 232.3L81.2 224.7L80.6 224.5L80.0 224.3L79.4 224.2L74.9 223.5Z"/><path id="p36_0" d="M73 258h0M88 264h0M57 250h0M86 271h0M65 269h0M101 249h0M72 273h0M61 272h0M78 230h0M94 255h0M57 264h0M55 259h0M92 278h0M73 236h0M66 246h0M79 251h0M52 272h0M44 268h0M66 258h0M48 244h0M85 265h0M42 256h0M57 238h0M53 276h0M51 240h0M69 259h0M34 255h0M72 246h0M60 240h0M78 274h0M52 253h0M76 254h0M98 261h0"/><path id="p36_1" d="M43 247h0M52 234h0M103 268h0M51 234h0M66 270h0M89 261h0M36 249h0M44 263h0M78 260h0M83 246h0M79 260h0M74 230h0M50 263h0M95 272h0M85 255h0M62 257h0M99 249h0M87 237h0M87 263h0M56 250h0M46 247h0M100 261h0M41 266h0M78 241h0M76 245h0M95 249h0M31 261h0M101 247h0M42 267h0M65 236h0M48 253h0M40 266h0M93 265h0M62 265h0M72 242h0M88 271h0M80 250h0M72 238h0"/><path id="p36_2" d="M48 246h0M39 266h0M56 239h0M96 254h0M45 259h0M80 245h0M71 259h0M52 267h0M62 250h0M67 234h0M51 271h0M77 248h0M35 258h0M64 266h0M80 243h0M44 246h0M53 233h0M89 260h0M61 273h0M94 238h0M70 237h0M86 255h0M79 276h0M85 234h0M82 233h0M88 256h0M66 275h0M78 231h0M90 241h0M54 236h0M65 274h0M57 261h0M39 269h0M51 261h0M47 241h0M105 246h0M85 240h0M85 271h0M69 264h0M79 247h0"/><path id="c37" d="M28.0 252.4L28.6 252.4L33.9 251.8L34.5 251.7L35.1 251.5L35.7 251.3L36.2 251.0L36.7 250.7L58.7 235.0L59.2 234.6L59.7 234.1L60.1 233.6L60.4 233.1L60.7 232.5L61.0 231.9L61.2 231.3L61.3 230.7L61.5 229.0L55.3 230.2L55.2 230.2L55.1 230.2L55.0 230.2L54.9 230.2L54.9 230.2L54.8 230.1L54.7 230.1L54.6 230.1L54.6 230.0L54.5 229.9L54.4 229.9L54.4 229.8L47.4 218.8L47.3 218.7L47.3 218.6L47.3 218.6L47.2 218.5L47.2 218.4L47.2 218.3L47.2 218.2L48.7 204.3L48.7 204.2L48.7 204.1L48.7 204.0L48.8 204.0L48.8 203.9L48.8 203.8L48.9 203.8L49.0 203.7L49.0 203.6L49.1 203.6L49.2 203.6L49.3 203.5L65.2 198.3L66.9 184.3L66.9 183.7L66.9 183.1L66.8 182.5L66.7 181.9L66.5 181.4L66.3 180.8L66.0 180.3L65.7 179.8L65.3 179.4L64.9 179.0L64.4 178.6L63.9 178.3L63.4 178.0L62.9 177.7L62.3 177.6L61.7 177.4L49.7 175.5L48.8 175.4L34.0 175.1L35.5 180.3L35.6 180.3L35.6 180.4L35.6 180.5L35.6 180.6L35.6 180.7L35.6 180.8L35.5 180.8L35.5 180.9L35.4 181.0L35.4 181.0L35.3 181.1L35.3 181.2L21.8 193.0L21.7 193.0L21.7 193.1L21.6 193.2L21.6 193.3L13.6 208.9L13.6 209.0L13.5 209.1L13.5 209.2L13.5 209.2L13.5 209.3L13.5 209.4L15.1 228.2L15.1 228.3L15.1 228.4L15.1 228.5L15.2 228.6L27.3 252.5Z"/><path id="p37_0" d="M43 199h0M52 185h0M50 231h0M43 225h0M29 229h0M12 207h0M24 215h0M49 182h0M47 188h0M35 221h0M33 246h0M47 233h0M45 223h0M33 214h0M26 231h0M21 194h0M22 246h0M13 226h0M54 198h0M42 189h0M46 215h0M29 198h0M44 187h0M40 183h0M30 230h0M21 207h0M22 226h0M32 202h0M33 243h0M43 191h0"/><path id="p37_1" d="M49 202h0M38 227h0M19 191h0M39 192h0M47 224h0M29 236h0M60 185h0M17 216h0M43 200h0M26 220h0M49 206h0M46 233h0M22 230h0M38 182h0M47 188h0M41 215h0M40 221h0M37 205h0M34 213h0"/><path id="p37_2" d="M13 200h0M24 222h0M43 215h0M61 184h0M29 181h0M36 219h0M45 196h0M37 201h0M22 233h0M26 209h0M51 224h0M28 246h0M30 223h0M55 192h0M37 221h0M35 199h0M49 188h0M12 217h0M55 230h0M33 204h0M12 228h0M57 195h0M58 199h0M42 205h0M48 186h0M14 210h0M38 205h0M25 193h0M58 191h0"/>
<linearGradient id="fan"><stop offset="0" stop-color="#f9b0f8" stop-opacity="0"/><stop offset="0.25" stop-color="#f7b4f6" stop-opacity="0.25"/><stop offset="1" stop-color="#f58af4" stop-opacity="0.85"/></linearGradient><linearGradient id="fl" x1="0" y1="1" x2="0" y2="0"><stop offset="0" stop-color="#dedede"/><stop offset="0.12" stop-color="#f4f48a"/><stop offset="0.3" stop-color="#ffe040"/><stop offset="0.5" stop-color="#ffa425"/><stop offset="0.7" stop-color="#f4541a"/><stop offset="0.88" stop-color="#d01c10"/><stop offset="1" stop-color="#8c0e0e"/></linearGradient><linearGradient id="pl" x1="0" y1="1" x2="0" y2="0"><stop offset="0.0" stop-color="#440154"/><stop offset="0.1" stop-color="#482475"/><stop offset="0.2" stop-color="#414487"/><stop offset="0.3" stop-color="#355f8d"/><stop offset="0.4" stop-color="#2a788e"/><stop offset="0.5" stop-color="#21918c"/><stop offset="0.6" stop-color="#22a884"/><stop offset="0.7" stop-color="#44bf70"/><stop offset="0.8" stop-color="#7ad151"/><stop offset="0.9" stop-color="#bddf26"/><stop offset="1.0" stop-color="#fde725"/></linearGradient>


<linearGradient id="kbg" x1="0" y1="0" x2="0" y2="1"><stop offset="0" stop-color="#c4f5f4"/><stop offset="0.35" stop-color="#dcf9f9"/><stop offset="0.8" stop-color="#f4fefe"/><stop offset="1" stop-color="#ffffff"/></linearGradient>
<filter id="z0" x="0" y="0" width="100%" height="100%" color-interpolation-filters="sRGB"><feTurbulence type="fractalNoise" baseFrequency="0.42" numOctaves="1" seed="1"/><feColorMatrix type="matrix" values="0 0 0 0 0.39 0 0 0 0 0.84 0 0 0 0 0.80 9 0 0 0 -5.7"/></filter><filter id="z1" x="0" y="0" width="100%" height="100%" color-interpolation-filters="sRGB"><feTurbulence type="turbulence" baseFrequency="0.05" numOctaves="2" seed="11"/><feColorMatrix type="matrix" values="0 0 0 0 0.00 0 0 0 0 0.00 0 0 0 0 0.09 -9 0 0 0 1.0"/></filter><filter id="z2" x="0" y="0" width="100%" height="100%" color-interpolation-filters="sRGB"><feTurbulence type="fractalNoise" baseFrequency="0.4" numOctaves="1" seed="5"/><feColorMatrix type="matrix" values="0 0 0 0 0.48 0 0 0 0 0.87 0 0 0 0 0.90 9 0 0 0 -5.6"/></filter><filter id="z3" x="0" y="0" width="100%" height="100%" color-interpolation-filters="sRGB"><feTurbulence type="fractalNoise" baseFrequency="0.42" numOctaves="1" seed="8"/><feColorMatrix type="matrix" values="0 0 0 0 0.37 0 0 0 0 0.82 0 0 0 0 0.77 9 0 0 0 -6.1"/></filter><filter id="z4" x="0" y="0" width="100%" height="100%" color-interpolation-filters="sRGB"><feTurbulence type="turbulence" baseFrequency="0.05" numOctaves="2" seed="3"/><feColorMatrix type="matrix" values="0 0 0 0 0.00 0 0 0 0 0.00 0 0 0 0 0.05 -11 0 0 0 1.5"/></filter><filter id="z5" x="0" y="0" width="100%" height="100%" color-interpolation-filters="sRGB"><feTurbulence type="fractalNoise" baseFrequency="0.4" numOctaves="1" seed="6"/><feColorMatrix type="matrix" values="0 0 0 0 0.48 0 0 0 0 0.87 0 0 0 0 0.90 9 0 0 0 -6.5"/></filter><filter id="z6" x="0" y="0" width="100%" height="100%" color-interpolation-filters="sRGB"><feTurbulence type="fractalNoise" baseFrequency="0.22" numOctaves="2" seed="2"/><feColorMatrix type="matrix" values="0 0 0 0 0.31 0 0 0 0 0.74 0 0 0 0 0.71 8 0 0 0 -4.9"/></filter><filter id="z7" x="0" y="0" width="100%" height="100%" color-interpolation-filters="sRGB"><feTurbulence type="turbulence" baseFrequency="0.09" numOctaves="1" seed="5"/><feColorMatrix type="matrix" values="0 0 0 0 0.42 0 0 0 0 0.42 0 0 0 0 0.06 -14 0 0 0 1.6"/></filter><filter id="z8" x="0" y="0" width="100%" height="100%" color-interpolation-filters="sRGB"><feTurbulence type="fractalNoise" baseFrequency="0.2" numOctaves="1" seed="3"/><feColorMatrix type="matrix" values="0 0 0 0 0.50 0 0 0 0 0.90 0 0 0 0 0.85 10 0 0 0 -6.6"/></filter><filter id="z9" x="0" y="0" width="100%" height="100%" color-interpolation-filters="sRGB"><feTurbulence type="fractalNoise" baseFrequency="0.3" numOctaves="2" seed="4"/><feColorMatrix type="matrix" values="0 0 0 0 0.82 0 0 0 0 0.24 0 0 0 0 0.78 8 0 0 0 -4.75"/></filter><filter id="z10" x="0" y="0" width="100%" height="100%" color-interpolation-filters="sRGB"><feTurbulence type="turbulence" baseFrequency="0.05" numOctaves="2" seed="9"/><feColorMatrix type="matrix" values="0 0 0 0 0.04 0 0 0 0 0.04 0 0 0 0 0.25 -9 0 0 0 1.2"/></filter><filter id="z11" x="0" y="0" width="100%" height="100%" color-interpolation-filters="sRGB"><feTurbulence type="fractalNoise" baseFrequency="0.35" numOctaves="2" seed="7"/><feColorMatrix type="matrix" values="0 0 0 0 0.88 0 0 0 0 0.19 0 0 0 0 0.60 8 0 0 0 -4.9"/></filter><filter id="z12" x="0" y="0" width="100%" height="100%" color-interpolation-filters="sRGB"><feTurbulence type="fractalNoise" baseFrequency="0.1" numOctaves="1" seed="4"/><feColorMatrix type="matrix" values="0 0 0 0 0.48 0 0 0 0 0.09 0 0 0 0 0.45 7 0 0 0 -3.5"/></filter><filter id="z13" x="0" y="0" width="100%" height="100%" color-interpolation-filters="sRGB"><feTurbulence type="fractalNoise" baseFrequency="0.32" numOctaves="2" seed="12"/><feColorMatrix type="matrix" values="0 0 0 0 0.88 0 0 0 0 0.25 0 0 0 0 0.83 8 0 0 0 -4.5"/></filter><filter id="z14" x="0" y="0" width="100%" height="100%" color-interpolation-filters="sRGB"><feTurbulence type="turbulence" baseFrequency="0.045" numOctaves="2" seed="13"/><feColorMatrix type="matrix" values="0 0 0 0 0.04 0 0 0 0 0.04 0 0 0 0 0.25 -9 0 0 0 1.2"/></filter><filter id="z15" x="0" y="0" width="100%" height="100%" color-interpolation-filters="sRGB"><feTurbulence type="fractalNoise" baseFrequency="0.33" numOctaves="2" seed="17"/><feColorMatrix type="matrix" values="0 0 0 0 0.93 0 0 0 0 0.23 0 0 0 0 0.55 8 0 0 0 -4.8"/></filter><filter id="z16" x="0" y="0" width="100%" height="100%" color-interpolation-filters="sRGB"><feTurbulence type="fractalNoise" baseFrequency="0.3" numOctaves="1" seed="21"/><feColorMatrix type="matrix" values="0 0 0 0 0.63 0 0 0 0 0.19 0 0 0 0 0.63 9 0 0 0 -6.3"/></filter><filter id="z17" x="0" y="0" width="100%" height="100%" color-interpolation-filters="sRGB"><feTurbulence type="turbulence" baseFrequency="0.055" numOctaves="2" seed="7"/><feColorMatrix type="matrix" values="0 0 0 0 0.00 0 0 0 0 0.00 0 0 0 0 0.06 -12 0 0 0 1.7"/></filter><filter id="z18" x="0" y="0" width="100%" height="100%" color-interpolation-filters="sRGB"><feTurbulence type="fractalNoise" baseFrequency="0.05" numOctaves="2" seed="5"/><feColorMatrix type="matrix" values="0 0 0 0 0.23 0 0 0 0 0.05 0 0 0 0 0.30 5 0 0 0 -2.9"/></filter><filter id="z19" x="0" y="0" width="100%" height="100%" color-interpolation-filters="sRGB"><feTurbulence type="turbulence" baseFrequency="0.05" numOctaves="2" seed="15"/><feColorMatrix type="matrix" values="0 0 0 0 0.00 0 0 0 0 0.00 0 0 0 0 0.06 -11 0 0 0 1.5"/></filter><filter id="z20" x="0" y="0" width="100%" height="100%" color-interpolation-filters="sRGB"><feTurbulence type="fractalNoise" baseFrequency="0.25" numOctaves="2" seed="8"/><feColorMatrix type="matrix" values="0 0 0 0 0.78 0 0 0 0 0.24 0 0 0 0 0.75 8 0 0 0 -4.7"/></filter><filter id="z21" x="0" y="0" width="100%" height="100%" color-interpolation-filters="sRGB"><feTurbulence type="turbulence" baseFrequency="0.07" numOctaves="1" seed="9"/><feColorMatrix type="matrix" values="0 0 0 0 0.60 0 0 0 0 0.55 0 0 0 0 0.11 -12 0 0 0 1.3"/></filter><filter id="z22" x="0" y="0" width="100%" height="100%" color-interpolation-filters="sRGB"><feTurbulence type="fractalNoise" baseFrequency="0.4" numOctaves="1" seed="31"/><feColorMatrix type="matrix" values="0 0 0 0 0.35 0 0 0 0 0.78 0 0 0 0 0.74 9 0 0 0 -6.5"/></filter><filter id="z23" x="0" y="0" width="100%" height="100%" color-interpolation-filters="sRGB"><feTurbulence type="turbulence" baseFrequency="0.06" numOctaves="2" seed="19"/><feColorMatrix type="matrix" values="0 0 0 0 0.00 0 0 0 0 0.00 0 0 0 0 0.08 -12 0 0 0 1.7"/></filter><filter id="z24" x="0" y="0" width="100%" height="100%" color-interpolation-filters="sRGB"><feTurbulence type="fractalNoise" baseFrequency="0.3" numOctaves="1" seed="23"/><feColorMatrix type="matrix" values="0 0 0 0 0.36 0 0 0 0 0.82 0 0 0 0 0.77 9 0 0 0 -6.2"/></filter><filter id="z25" x="0" y="0" width="100%" height="100%" color-interpolation-filters="sRGB"><feTurbulence type="turbulence" baseFrequency="0.07" numOctaves="2" seed="25"/><feColorMatrix type="matrix" values="0 0 0 0 0.01 0 0 0 0 0.01 0 0 0 0 0.12 -11 0 0 0 1.6"/></filter><filter id="z26" x="0" y="0" width="100%" height="100%" color-interpolation-filters="sRGB"><feTurbulence type="fractalNoise" baseFrequency="0.4" numOctaves="1" seed="27"/><feColorMatrix type="matrix" values="0 0 0 0 0.48 0 0 0 0 0.87 0 0 0 0 0.90 9 0 0 0 -6.6"/></filter><clipPath id="cy1"><circle cx="832" cy="2455" r="40"/></clipPath><clipPath id="cy2"><circle cx="824" cy="2632" r="37"/></clipPath>
<filter id="fo1" x="0" y="0" width="100%" height="100%" color-interpolation-filters="sRGB"><feTurbulence type="turbulence" baseFrequency="0.02 0.12" numOctaves="2" seed="3"/><feColorMatrix type="matrix" values="0 0 0 0 0.05 0 0 0 0 0.05 0 0 0 0 0.05 -7 0 0 0 1.5"/></filter><filter id="fo2" x="0" y="0" width="100%" height="100%" color-interpolation-filters="sRGB"><feTurbulence type="fractalNoise" baseFrequency="0.07" numOctaves="2" seed="8"/><feColorMatrix type="matrix" values="0 0 0 0 0.94 0 0 0 0 0.1 0 0 0 0 0.1 9 0 0 0 -4.6"/></filter><filter id="fo3" x="0" y="0" width="100%" height="100%" color-interpolation-filters="sRGB"><feTurbulence type="fractalNoise" baseFrequency="0.05" numOctaves="2" seed="5"/><feColorMatrix type="matrix" values="0 0 0 0 0.02 0 0 0 0 0.02 0 0 0 0 0.12 8 0 0 0 -4.1"/></filter><clipPath id="co1"><path d="M1531.6 2693.7V2668C1555 2655 1568 2648 1574 2632L1548 2622L1580 2627C1600 2640 1640 2650 1680 2648C1705 2640 1712 2630 1722 2626L1716 2640C1712 2655 1730 2665 1741.5 2668V2693.7Z"/></clipPath>
</defs>
<rect width="1987" height="2717" fill="#fff"/>
<g id="g-heat">
<polygon points="1520.0,232.9 1584,224 1584,361.9 1520.0,263.8" fill="#eff1f1"/>
<rect x="1584" y="224" width="399.5" height="137.9" fill="#eff1f1"/>
<polygon points="1520.0,263.7 1584,361.9 1584,504.4 1520.0,361.6" fill="#eff1f1"/>
<rect x="1584" y="361.9" width="399.5" height="142.5" fill="#eff1f1"/>
<polygon points="1520.0,361.8 1584,504.4 1584,653.1 1520.0,493.8" fill="#eff1f1"/>
<rect x="1584" y="504.4" width="399.5" height="148.7" fill="#eff1f1"/>
<polygon points="1520.0,494.0 1584,653.1 1584,794 1520.0,638.6" fill="#eff1f1"/>
<rect x="1584" y="653.1" width="399.5" height="140.9" fill="#eff1f1"/>
<polygon points="1520.0,638.8 1584,794 1584,948.9 1520.0,772.4" fill="#eff1f1"/>
<rect x="1584" y="794" width="399.5" height="154.9" fill="#eff1f1"/>
<polygon points="1520.0,772.6 1584,948.9 1584,1089 1520.0,839.5" fill="#eff1f1"/>
<rect x="1584" y="948.9" width="399.5" height="140.1" fill="#eff1f1"/>
<polygon points="1520.0,839.8 1584,1089 1584,1232.4 1520.0,1274.9" fill="#f6d3cd"/>
<rect x="1584" y="1089" width="399.5" height="143.4" fill="#f6d3cd"/>
<polygon points="1520.0,1276.0 1584,1232.4 1584,1370.6 1520.0,1419.3" fill="#f6d3cd"/>
<rect x="1584" y="1232.4" width="399.5" height="138.2" fill="#f6d3cd"/>
<polygon points="1520.0,1420.4 1584,1370.6 1584,1511.8 1520.0,1622.9" fill="#eff1f1"/>
<rect x="1584" y="1370.6" width="399.5" height="141.2" fill="#eff1f1"/>
<polygon points="1520.0,1624.0 1584,1511.8 1584,1649.7 1520.0,1705.7" fill="#eff1f1"/>
<rect x="1584" y="1511.8" width="399.5" height="137.9" fill="#eff1f1"/>
<polygon points="1520.0,1706.7 1584,1649.7 1584,1790.7 1520.0,1841.9" fill="#eff1f1"/>
<rect x="1584" y="1649.7" width="399.5" height="141.0" fill="#eff1f1"/>
<polygon points="1520.0,1842.6 1584,1790.7 1584,1930.2 1520.0,1911.7" fill="#eff1f1"/>
<rect x="1584" y="1790.7" width="399.5" height="139.5" fill="#eff1f1"/>
<polygon points="1520.0,1912.4 1584,1930.2 1584,2060.2 1520.0,2048.6" fill="#eff1f1"/>
<rect x="1584" y="1930.2" width="399.5" height="130.0" fill="#eff1f1"/>
<polygon points="1520.0,2049.6 1584,2060.2 1584,2196.4 1520.0,2132.8" fill="#eff1f1"/>
<rect x="1584" y="2060.2" width="399.5" height="136.2" fill="#eff1f1"/>
<polygon points="1520.0,2133.8 1584,2196.4 1584,2323 1520.0,2295.0" fill="#eff1f1"/>
<rect x="1584" y="2196.4" width="399.5" height="126.6" fill="#eff1f1"/>
<line x1="1520.0" y1="263.8" x2="1584" y2="361.9" stroke="#fff" stroke-width="1.6"/>
<line x1="1520.0" y1="361.7" x2="1584" y2="504.4" stroke="#fff" stroke-width="1.6"/>
<line x1="1520.0" y1="493.9" x2="1584" y2="653.1" stroke="#fff" stroke-width="1.6"/>
<line x1="1520.0" y1="638.7" x2="1584" y2="794" stroke="#fff" stroke-width="1.6"/>
<line x1="1520.0" y1="772.5" x2="1584" y2="948.9" stroke="#fff" stroke-width="1.6"/>
<line x1="1520.0" y1="839.6" x2="1584" y2="1089" stroke="#fff" stroke-width="1.6"/>
<line x1="1520.0" y1="1275.5" x2="1584" y2="1232.4" stroke="#fff" stroke-width="1.6"/>
<line x1="1520.0" y1="1419.8" x2="1584" y2="1370.6" stroke="#fff" stroke-width="1.6"/>
<line x1="1520.0" y1="1623.5" x2="1584" y2="1511.8" stroke="#fff" stroke-width="1.6"/>
<line x1="1520.0" y1="1706.2" x2="1584" y2="1649.7" stroke="#fff" stroke-width="1.6"/>
<line x1="1520.0" y1="1842.2" x2="1584" y2="1790.7" stroke="#fff" stroke-width="1.6"/>
<line x1="1520.0" y1="1912.1" x2="1584" y2="1930.2" stroke="#fff" stroke-width="1.6"/>
<line x1="1520.0" y1="2049.1" x2="1584" y2="2060.2" stroke="#fff" stroke-width="1.6"/>
<line x1="1520.0" y1="2133.3" x2="1584" y2="2196.4" stroke="#fff" stroke-width="1.6"/>
<line x1="1584" y1="224" x2="1584" y2="2323" stroke="#e2e4e4" stroke-width="1.2"/>
<line x1="1584" y1="1089" x2="1584" y2="1370.6" stroke="#f3b9b2" stroke-width="1.5"/>
<line x1="1584" y1="1232.4" x2="1983.5" y2="1232.4" stroke="#fbe9e6" stroke-width="1"/>
<rect x="936.5" y="233.9" width="290.0" height="28.4" fill="url(#h00)"/>
<rect x="1230.0" y="233.9" width="290.0" height="28.4" fill="url(#h01)"/>
<rect x="936.5" y="265.2" width="290.0" height="94.9" fill="url(#h10)"/>
<rect x="1230.0" y="265.2" width="290.0" height="94.9" fill="url(#h11)"/>
<rect x="936.5" y="363.3" width="290.0" height="129.0" fill="url(#h20)"/>
<rect x="1230.0" y="363.3" width="290.0" height="129.0" fill="url(#h21)"/>
<rect x="936.5" y="495.5" width="290.0" height="141.6" fill="url(#h30)"/>
<rect x="1230.0" y="495.5" width="290.0" height="141.6" fill="url(#h31)"/>
<rect x="936.5" y="640.3" width="290.0" height="130.6" fill="url(#h40)"/>
<rect x="1230.0" y="640.3" width="290.0" height="130.6" fill="url(#h41)"/>
<rect x="936.5" y="774.1" width="290.0" height="63.9" fill="url(#h50)"/>
<rect x="1230.0" y="774.1" width="290.0" height="63.9" fill="url(#h51)"/>
<rect x="936.5" y="841.3" width="290.0" height="432.1" fill="url(#h60)"/>
<rect x="1230.0" y="841.3" width="290.0" height="432.1" fill="url(#h61)"/>
<rect x="936.5" y="1277.5" width="290.0" height="140.3" fill="url(#h70)"/>
<rect x="1230.0" y="1277.5" width="290.0" height="140.3" fill="url(#h71)"/>
<rect x="936.5" y="1421.9" width="290.0" height="199.5" fill="url(#h80)"/>
<rect x="1230.0" y="1421.9" width="290.0" height="199.5" fill="url(#h81)"/>
<rect x="936.5" y="1625.5" width="290.0" height="78.7" fill="url(#h90)"/>
<rect x="1230.0" y="1625.5" width="290.0" height="78.7" fill="url(#h91)"/>
<rect x="936.5" y="1708.2" width="290.0" height="132.2" fill="url(#h100)"/>
<rect x="1230.0" y="1708.2" width="290.0" height="132.2" fill="url(#h101)"/>
<rect x="936.5" y="1844.1" width="290.0" height="66.1" fill="url(#h110)"/>
<rect x="1230.0" y="1844.1" width="290.0" height="66.1" fill="url(#h111)"/>
<rect x="936.5" y="1913.9" width="290.0" height="133.2" fill="url(#h120)"/>
<rect x="1230.0" y="1913.9" width="290.0" height="133.2" fill="url(#h121)"/>
<rect x="936.5" y="2051.1" width="290.0" height="80.2" fill="url(#h130)"/>
<rect x="1230.0" y="2051.1" width="290.0" height="80.2" fill="url(#h131)"/>
<rect x="936.5" y="2135.3" width="290.0" height="158.2" fill="url(#h140)"/>
<rect x="1230.0" y="2135.3" width="290.0" height="158.2" fill="url(#h141)"/>
<rect x="936.5" y="233.9" width="290.0" height="28.4" filter="url(#stk)"/><rect x="936.5" y="233.9" width="290.0" height="28.4" filter="url(#stl)"/>
<rect x="1230.0" y="233.9" width="290.0" height="28.4" filter="url(#stk)"/><rect x="1230.0" y="233.9" width="290.0" height="28.4" filter="url(#stl)"/>
<rect x="936.5" y="265.2" width="290.0" height="94.9" filter="url(#stk)"/><rect x="936.5" y="265.2" width="290.0" height="94.9" filter="url(#stl)"/>
<rect x="1230.0" y="265.2" width="290.0" height="94.9" filter="url(#stk)"/><rect x="1230.0" y="265.2" width="290.0" height="94.9" filter="url(#stl)"/>
<rect x="936.5" y="363.3" width="290.0" height="129.0" filter="url(#stk)"/><rect x="936.5" y="363.3" width="290.0" height="129.0" filter="url(#stl)"/>
<rect x="1230.0" y="363.3" width="290.0" height="129.0" filter="url(#stk)"/><rect x="1230.0" y="363.3" width="290.0" height="129.0" filter="url(#stl)"/>
<rect x="936.5" y="495.5" width="290.0" height="141.6" filter="url(#stk)"/><rect x="936.5" y="495.5" width="290.0" height="141.6" filter="url(#stl)"/>
<rect x="1230.0" y="495.5" width="290.0" height="141.6" filter="url(#stk)"/><rect x="1230.0" y="495.5" width="290.0" height="141.6" filter="url(#stl)"/>
<rect x="936.5" y="640.3" width="290.0" height="130.6" filter="url(#stk)"/><rect x="936.5" y="640.3" width="290.0" height="130.6" filter="url(#stl)"/>
<rect x="1230.0" y="640.3" width="290.0" height="130.6" filter="url(#stk)"/><rect x="1230.0" y="640.3" width="290.0" height="130.6" filter="url(#stl)"/>
<rect x="936.5" y="774.1" width="290.0" height="63.9" filter="url(#stk)"/><rect x="936.5" y="774.1" width="290.0" height="63.9" filter="url(#stl)"/>
<rect x="1230.0" y="774.1" width="290.0" height="63.9" filter="url(#stk)"/><rect x="1230.0" y="774.1" width="290.0" height="63.9" filter="url(#stl)"/>
<rect x="936.5" y="841.3" width="290.0" height="432.1" filter="url(#stk)"/><rect x="936.5" y="841.3" width="290.0" height="432.1" filter="url(#stl)"/>
<rect x="1230.0" y="841.3" width="290.0" height="432.1" filter="url(#stk)"/><rect x="1230.0" y="841.3" width="290.0" height="432.1" filter="url(#stl)"/>
<rect x="936.5" y="1277.5" width="290.0" height="140.3" filter="url(#stk)"/><rect x="936.5" y="1277.5" width="290.0" height="140.3" filter="url(#stl)"/>
<rect x="1230.0" y="1277.5" width="290.0" height="140.3" filter="url(#stk)"/><rect x="1230.0" y="1277.5" width="290.0" height="140.3" filter="url(#stl)"/>
<rect x="936.5" y="1421.9" width="290.0" height="199.5" filter="url(#stk)"/><rect x="936.5" y="1421.9" width="290.0" height="199.5" filter="url(#stl)"/>
<rect x="1230.0" y="1421.9" width="290.0" height="199.5" filter="url(#stk)"/><rect x="1230.0" y="1421.9" width="290.0" height="199.5" filter="url(#stl)"/>
<rect x="936.5" y="1625.5" width="290.0" height="78.7" filter="url(#stk)"/><rect x="936.5" y="1625.5" width="290.0" height="78.7" filter="url(#stl)"/>
<rect x="1230.0" y="1625.5" width="290.0" height="78.7" filter="url(#stk)"/><rect x="1230.0" y="1625.5" width="290.0" height="78.7" filter="url(#stl)"/>
<rect x="936.5" y="1708.2" width="290.0" height="132.2" filter="url(#stk)"/><rect x="936.5" y="1708.2" width="290.0" height="132.2" filter="url(#stl)"/>
<rect x="1230.0" y="1708.2" width="290.0" height="132.2" filter="url(#stk)"/><rect x="1230.0" y="1708.2" width="290.0" height="132.2" filter="url(#stl)"/>
<rect x="936.5" y="1844.1" width="290.0" height="66.1" filter="url(#stk)"/><rect x="936.5" y="1844.1" width="290.0" height="66.1" filter="url(#stl)"/>
<rect x="1230.0" y="1844.1" width="290.0" height="66.1" filter="url(#stk)"/><rect x="1230.0" y="1844.1" width="290.0" height="66.1" filter="url(#stl)"/>
<rect x="936.5" y="1913.9" width="290.0" height="133.2" filter="url(#stk)"/><rect x="936.5" y="1913.9" width="290.0" height="133.2" filter="url(#stl)"/>
<rect x="1230.0" y="1913.9" width="290.0" height="133.2" filter="url(#stk)"/><rect x="1230.0" y="1913.9" width="290.0" height="133.2" filter="url(#stl)"/>
<rect x="936.5" y="2051.1" width="290.0" height="80.2" filter="url(#stk)"/><rect x="936.5" y="2051.1" width="290.0" height="80.2" filter="url(#stl)"/>
<rect x="1230.0" y="2051.1" width="290.0" height="80.2" filter="url(#stk)"/><rect x="1230.0" y="2051.1" width="290.0" height="80.2" filter="url(#stl)"/>
<rect x="936.5" y="2135.3" width="290.0" height="158.2" filter="url(#stk)"/><rect x="936.5" y="2135.3" width="290.0" height="158.2" filter="url(#stl)"/>
<rect x="1230.0" y="2135.3" width="290.0" height="158.2" filter="url(#stk)"/><rect x="1230.0" y="2135.3" width="290.0" height="158.2" filter="url(#stl)"/>
<rect x="936.5" y="196.2" width="232.0999999999999" height="16.2" fill="#e0c038"/>
<rect x="1168.6" y="196.2" width="57.90000000000009" height="16.2" fill="#3a9a3f"/>
<rect x="1230.0" y="196.2" width="57.5" height="16.2" fill="#3a9a3f"/>
<rect x="1287.5" y="196.2" width="232.5" height="16.2" fill="#f55ffc"/>
<rect x="936.5" y="214.5" width="290.0" height="16.2" fill="url(#vr)"/>
<rect x="1230.0" y="214.5" width="290.0" height="16.2" fill="url(#vf)"/>
<rect x="1030.1" y="69.7" width="130" height="17.4" fill="url(#ve)"/>
<rect x="1266.7" y="69.7" width="129.3" height="17.4" fill="url(#vf)"/>
<line x1="1034.8" y1="82.5" x2="1034.8" y2="87.1" stroke="#fff" stroke-width="1.4"/>
<line x1="1063.6" y1="82.5" x2="1063.6" y2="87.1" stroke="#fff" stroke-width="1.4"/>
<line x1="1093.1" y1="82.5" x2="1093.1" y2="87.1" stroke="#fff" stroke-width="1.4"/>
<line x1="1125.9" y1="82.5" x2="1125.9" y2="87.1" stroke="#fff" stroke-width="1.4"/>
<line x1="1153.4" y1="82.5" x2="1153.4" y2="87.1" stroke="#fff" stroke-width="1.4"/>
<line x1="1276" y1="82.5" x2="1276" y2="87.1" stroke="#fff" stroke-width="1.4"/>
<line x1="1333" y1="82.5" x2="1333" y2="87.1" stroke="#fff" stroke-width="1.4"/>
<line x1="1390.6" y1="82.5" x2="1390.6" y2="87.1" stroke="#fff" stroke-width="1.4"/>
<text x="1028.8" y="64.3" font-size="20.1" font-weight="bold">Expression</text>
<text x="1269.3" y="40.2" font-size="20.2" font-weight="bold">Normalised</text>
<text x="1269.3" y="63.6" font-size="20.4" font-weight="bold">pseudotime</text>
<text x="1031.5" y="110.4" font-size="17.5" text-anchor="middle">−4</text>
<text x="1060.5" y="110.4" font-size="17.5" text-anchor="middle">−2</text>
<text x="1093.1" y="110.4" font-size="17.5" text-anchor="middle">0</text>
<text x="1125.9" y="110.4" font-size="17.5" text-anchor="middle">2</text>
<text x="1153.4" y="110.4" font-size="17.5" text-anchor="middle">4</text>
<text x="1276.0" y="110.4" font-size="17.5" text-anchor="middle">0</text>
<text x="1333.0" y="110.4" font-size="17.5" text-anchor="middle">0.5</text>
<text x="1390.6" y="110.4" font-size="17.5" text-anchor="middle">1</text>
<text x="935.0" y="168.9" font-size="20.1">Basal trajectory</text>
<text x="1178.2" y="168.9" font-size="20.2">Committed</text>
<text x="1356.4" y="168.9" font-size="20.3">Tumour trajectory</text>
<line x1="1139.3" y1="164.2" x2="1109.4" y2="164.2" stroke="#000" stroke-width="2.2"/><polygon points="1099,164.2 1112,157.7 1112,170.7" fill="#000"/>
<line x1="1304.9" y1="164.2" x2="1334.6" y2="164.2" stroke="#000" stroke-width="2.2"/><polygon points="1345,164.2 1332,157.7 1332,170.7" fill="#000"/>
<text x="1524.6" y="208.6" font-size="16.5">Branch</text>
<text x="1524.6" y="226.0" font-size="16.7">Pseudotime</text>
<text x="1665.4" y="108.6" font-size="23.7">Normalised Pseudotime</text>
<text x="1617.8" y="162.8" font-size="20.1">Basal trajectory</text>
<text x="1810.8" y="162.8" font-size="20.3">Tumour trajectory</text>
<rect x="1611.1" y="176.9" width="111.9" height="19.4" fill="#e6b833"/><rect x="1723" y="176.9" width="44.2" height="19.4" fill="#3d9941"/>
<rect x="1810.8" y="176.9" width="44.2" height="19.4" fill="#3d9941"/><rect x="1855" y="176.9" width="111.2" height="19.4" fill="#fb76f9"/>
<line x1="1677.4" y1="210.4" x2="1647.6" y2="210.4" stroke="#000" stroke-width="2.2"/><polygon points="1637.2,210.4 1650.2,203.9 1650.2,216.9" fill="#000"/>
<line x1="1893.2" y1="210.4" x2="1923.0" y2="210.4" stroke="#000" stroke-width="2.2"/><polygon points="1933.4,210.4 1920.4,203.9 1920.4,216.9" fill="#000"/>
<text x="1708.9" y="213.8" font-size="16.6">Avgerage expression</text>
<path d="M1720.9 216V2323M1854.7 216V2323" stroke="#333" stroke-width="1.1" stroke-dasharray="6 4" fill="none"/>
<path d="M1596.7 337.9H1768.0V228.39999999999998M1979.6 337.9H1807.3V228.39999999999998M1604.7 337.9v3.5M1816.0 337.9v3.5M1643.4 337.9v2.5M1854.7 337.9v2.5M1682.2 337.9v3.5M1893.5 337.9v3.5M1720.9 337.9v2.5M1932.2 337.9v2.5M1759.6 337.9v3.5M1970.9 337.9v3.5M1768.0 337.1h2.5M1807.3 337.1h-2.5M1768.0 320.2h2.5M1807.3 320.2h-2.5M1768.0 303.3h2.5M1807.3 303.3h-2.5M1768.0 286.3h2.5M1807.3 286.3h-2.5M1768.0 269.4h2.5M1807.3 269.4h-2.5M1768.0 252.5h2.5M1807.3 252.5h-2.5M1768.0 235.6h2.5M1807.3 235.6h-2.5" stroke="#000" stroke-width="1.7" fill="none"/>
<path d="M1604.7 301.2L1611.4 302.6L1618.2 303.6L1624.9 304.4L1631.6 304.8L1638.4 305.0L1645.1 304.7L1651.8 304.2L1658.6 303.2L1665.3 301.9L1672.0 300.3L1678.8 298.3L1685.5 296.0L1692.3 293.3L1699.0 290.3L1705.7 287.0L1712.5 283.4L1719.2 279.6L1725.9 275.5L1732.7 271.2L1739.4 266.8L1746.1 262.3L1752.9 257.7L1759.6 253.0" stroke="#000" stroke-width="1.5" fill="none"/>
<path d="M1816.0 253.9L1822.7 260.8L1829.5 267.0L1836.2 272.5L1842.9 277.3L1849.7 281.5L1856.4 285.0L1863.1 287.8L1869.9 290.0L1876.6 291.6L1883.3 292.5L1890.1 292.9L1896.8 292.6L1903.6 291.8L1910.3 290.4L1917.0 288.4L1923.8 285.8L1930.5 282.6L1937.2 278.9L1944.0 274.6L1950.7 269.7L1957.4 264.3L1964.2 258.3L1970.9 251.7" stroke="#000" stroke-width="1.5" fill="none"/>
<text x="1610.3" y="361.6" font-size="16.5" text-anchor="middle">1.0</text>
<text x="1819.2" y="361.6" font-size="16.5" text-anchor="middle">1.0</text>
<text x="1690.6" y="361.6" font-size="16.5" text-anchor="middle">0.5</text>
<text x="1899.1" y="361.6" font-size="16.5" text-anchor="middle">0.5</text>
<text x="1761.9" y="361.6" font-size="16.5" text-anchor="middle">0.0</text>
<text x="1970.1" y="361.6" font-size="16.5" text-anchor="middle">0.0</text>
<text x="1792.8" y="241.4" font-size="16.5" text-anchor="end">3</text>
<text x="1792.8" y="292.1" font-size="16.5" text-anchor="end">0</text>
<text x="1792.8" y="342.9" font-size="16.5" text-anchor="end">−3</text>
<text x="1566.6" y="286.1" font-size="19.5" text-anchor="middle">14</text>
<path d="M1596.7 484.1H1768.0V374.6M1979.6 484.1H1807.3V374.6M1604.7 484.1v3.5M1816.0 484.1v3.5M1643.4 484.1v2.5M1854.7 484.1v2.5M1682.2 484.1v3.5M1893.5 484.1v3.5M1720.9 484.1v2.5M1932.2 484.1v2.5M1759.6 484.1v3.5M1970.9 484.1v3.5M1768.0 478.7h2.5M1807.3 478.7h-2.5M1768.0 461.8h2.5M1807.3 461.8h-2.5M1768.0 444.9h2.5M1807.3 444.9h-2.5M1768.0 427.9h2.5M1807.3 427.9h-2.5M1768.0 411.0h2.5M1807.3 411.0h-2.5M1768.0 394.1h2.5M1807.3 394.1h-2.5M1768.0 377.2h2.5M1807.3 377.2h-2.5" stroke="#000" stroke-width="1.7" fill="none"/>
<path d="M1604.7 409.3L1611.4 412.1L1618.2 415.7L1624.9 419.7L1631.6 423.9L1638.4 428.0L1645.1 431.9L1651.8 435.4L1658.6 438.3L1665.3 440.4L1672.0 441.7L1678.8 442.2L1685.5 441.6L1692.3 440.1L1699.0 437.6L1705.7 434.2L1712.5 429.8L1719.2 424.6L1725.9 418.7L1732.7 412.2L1739.4 405.2L1746.1 398.0L1752.9 390.7L1759.6 383.6" stroke="#000" stroke-width="1.5" fill="none"/>
<path d="M1816.0 389.0L1822.7 398.8L1829.5 407.9L1836.2 416.1L1842.9 423.4L1849.7 429.9L1856.4 435.5L1863.1 440.2L1869.9 444.0L1876.6 446.9L1883.3 448.9L1890.1 450.0L1896.8 450.3L1903.6 449.7L1910.3 448.3L1917.0 446.2L1923.8 443.3L1930.5 439.8L1937.2 435.6L1944.0 430.8L1950.7 425.6L1957.4 419.9L1964.2 413.9L1970.9 407.6" stroke="#000" stroke-width="1.5" fill="none"/>
<text x="1610.3" y="507.8" font-size="16.5" text-anchor="middle">1.0</text>
<text x="1819.2" y="507.8" font-size="16.5" text-anchor="middle">1.0</text>
<text x="1690.6" y="507.8" font-size="16.5" text-anchor="middle">0.5</text>
<text x="1899.1" y="507.8" font-size="16.5" text-anchor="middle">0.5</text>
<text x="1761.9" y="507.8" font-size="16.5" text-anchor="middle">0.0</text>
<text x="1970.1" y="507.8" font-size="16.5" text-anchor="middle">0.0</text>
<text x="1792.8" y="383.0" font-size="16.5" text-anchor="end">3</text>
<text x="1792.8" y="433.7" font-size="16.5" text-anchor="end">0</text>
<text x="1792.8" y="484.5" font-size="16.5" text-anchor="end">−3</text>
<text x="1566.6" y="425.6" font-size="19.5" text-anchor="middle">7</text>
<path d="M1596.7 629.7H1768.0V520.2M1979.6 629.7H1807.3V520.2M1604.7 629.7v3.5M1816.0 629.7v3.5M1643.4 629.7v2.5M1854.7 629.7v2.5M1682.2 629.7v3.5M1893.5 629.7v3.5M1720.9 629.7v2.5M1932.2 629.7v2.5M1759.6 629.7v3.5M1970.9 629.7v3.5M1768.0 624.6h2.5M1807.3 624.6h-2.5M1768.0 607.7h2.5M1807.3 607.7h-2.5M1768.0 590.8h2.5M1807.3 590.8h-2.5M1768.0 573.8h2.5M1807.3 573.8h-2.5M1768.0 556.9h2.5M1807.3 556.9h-2.5M1768.0 540.0h2.5M1807.3 540.0h-2.5M1768.0 523.1h2.5M1807.3 523.1h-2.5" stroke="#000" stroke-width="1.7" fill="none"/>
<path d="M1604.7 536.1L1611.4 540.5L1618.2 545.9L1624.9 551.9L1631.6 558.2L1638.4 564.6L1645.1 570.8L1651.8 576.5L1658.6 581.6L1665.3 585.9L1672.0 589.3L1678.8 591.7L1685.5 593.0L1692.3 593.1L1699.0 592.2L1705.7 590.1L1712.5 586.9L1719.2 582.8L1725.9 577.8L1732.7 572.1L1739.4 565.8L1746.1 559.2L1752.9 552.5L1759.6 545.9" stroke="#000" stroke-width="1.5" fill="none"/>
<path d="M1816.0 553.7L1822.7 561.4L1829.5 568.4L1836.2 574.6L1842.9 580.1L1849.7 584.7L1856.4 588.6L1863.1 591.6L1869.9 593.9L1876.6 595.2L1883.3 595.8L1890.1 595.6L1896.8 594.6L1903.6 592.7L1910.3 590.2L1917.0 586.9L1923.8 582.8L1930.5 578.2L1937.2 572.8L1944.0 566.9L1950.7 560.5L1957.4 553.5L1964.2 546.1L1970.9 538.3" stroke="#000" stroke-width="1.5" fill="none"/>
<text x="1610.3" y="653.4" font-size="16.5" text-anchor="middle">1.0</text>
<text x="1819.2" y="653.4" font-size="16.5" text-anchor="middle">1.0</text>
<text x="1690.6" y="653.4" font-size="16.5" text-anchor="middle">0.5</text>
<text x="1899.1" y="653.4" font-size="16.5" text-anchor="middle">0.5</text>
<text x="1761.9" y="653.4" font-size="16.5" text-anchor="middle">0.0</text>
<text x="1970.1" y="653.4" font-size="16.5" text-anchor="middle">0.0</text>
<text x="1792.8" y="528.9" font-size="16.5" text-anchor="end">3</text>
<text x="1792.8" y="579.6" font-size="16.5" text-anchor="end">0</text>
<text x="1792.8" y="630.4" font-size="16.5" text-anchor="end">−3</text>
<text x="1566.6" y="564.1" font-size="19.5" text-anchor="middle">6</text>
<path d="M1596.7 779H1768.0V669.5M1979.6 779H1807.3V669.5M1604.7 779v3.5M1816.0 779v3.5M1643.4 779v2.5M1854.7 779v2.5M1682.2 779v3.5M1893.5 779v3.5M1720.9 779v2.5M1932.2 779v2.5M1759.6 779v3.5M1970.9 779v3.5M1768.0 773.1h2.5M1807.3 773.1h-2.5M1768.0 756.2h2.5M1807.3 756.2h-2.5M1768.0 739.3h2.5M1807.3 739.3h-2.5M1768.0 722.3h2.5M1807.3 722.3h-2.5M1768.0 705.4h2.5M1807.3 705.4h-2.5M1768.0 688.5h2.5M1807.3 688.5h-2.5M1768.0 671.6h2.5M1807.3 671.6h-2.5" stroke="#000" stroke-width="1.7" fill="none"/>
<path d="M1604.7 702.2L1611.4 706.4L1618.2 711.2L1624.9 716.4L1631.6 721.6L1638.4 726.6L1645.1 731.2L1651.8 735.2L1658.6 738.5L1665.3 740.9L1672.0 742.2L1678.8 742.6L1685.5 741.8L1692.3 739.9L1699.0 737.0L1705.7 733.0L1712.5 728.1L1719.2 722.4L1725.9 716.0L1732.7 709.1L1739.4 701.9L1746.1 694.6L1752.9 687.6L1759.6 681.1" stroke="#000" stroke-width="1.5" fill="none"/>
<path d="M1816.0 691.4L1822.7 699.1L1829.5 706.7L1836.2 713.8L1842.9 720.4L1849.7 726.2L1856.4 731.3L1863.1 735.5L1869.9 738.7L1876.6 740.8L1883.3 741.9L1890.1 741.9L1896.8 740.9L1903.6 738.9L1910.3 735.9L1917.0 732.1L1923.8 727.5L1930.5 722.2L1937.2 716.5L1944.0 710.4L1950.7 704.1L1957.4 698.0L1964.2 692.1L1970.9 686.8" stroke="#000" stroke-width="1.5" fill="none"/>
<text x="1610.3" y="802.7" font-size="16.5" text-anchor="middle">1.0</text>
<text x="1819.2" y="802.7" font-size="16.5" text-anchor="middle">1.0</text>
<text x="1690.6" y="802.7" font-size="16.5" text-anchor="middle">0.5</text>
<text x="1899.1" y="802.7" font-size="16.5" text-anchor="middle">0.5</text>
<text x="1761.9" y="802.7" font-size="16.5" text-anchor="middle">0.0</text>
<text x="1970.1" y="802.7" font-size="16.5" text-anchor="middle">0.0</text>
<text x="1792.8" y="677.4" font-size="16.5" text-anchor="end">3</text>
<text x="1792.8" y="728.1" font-size="16.5" text-anchor="end">0</text>
<text x="1792.8" y="778.9" font-size="16.5" text-anchor="end">−3</text>
<text x="1566.6" y="703.5" font-size="19.5" text-anchor="middle">9</text>
<path d="M1596.7 928.1H1768.0V818.6M1979.6 928.1H1807.3V818.6M1604.7 928.1v3.5M1816.0 928.1v3.5M1643.4 928.1v2.5M1854.7 928.1v2.5M1682.2 928.1v3.5M1893.5 928.1v3.5M1720.9 928.1v2.5M1932.2 928.1v2.5M1759.6 928.1v3.5M1970.9 928.1v3.5M1768.0 922.5h2.5M1807.3 922.5h-2.5M1768.0 905.6h2.5M1807.3 905.6h-2.5M1768.0 888.7h2.5M1807.3 888.7h-2.5M1768.0 871.7h2.5M1807.3 871.7h-2.5M1768.0 854.8h2.5M1807.3 854.8h-2.5M1768.0 837.9h2.5M1807.3 837.9h-2.5M1768.0 821.0h2.5M1807.3 821.0h-2.5" stroke="#000" stroke-width="1.7" fill="none"/>
<path d="M1604.7 848.4L1611.4 854.1L1618.2 860.0L1624.9 865.8L1631.6 871.4L1638.4 876.6L1645.1 881.3L1651.8 885.5L1658.6 888.9L1665.3 891.5L1672.0 893.3L1678.8 894.2L1685.5 894.1L1692.3 893.1L1699.0 891.2L1705.7 888.3L1712.5 884.5L1719.2 879.8L1725.9 874.3L1732.7 868.1L1739.4 861.3L1746.1 854.0L1752.9 846.2L1759.6 838.2" stroke="#000" stroke-width="1.5" fill="none"/>
<path d="M1816.0 851.3L1822.7 857.7L1829.5 863.8L1836.2 869.5L1842.9 874.5L1849.7 878.9L1856.4 882.6L1863.1 885.4L1869.9 887.3L1876.6 888.4L1883.3 888.5L1890.1 887.8L1896.8 886.1L1903.6 883.6L1910.3 880.3L1917.0 876.2L1923.8 871.4L1930.5 866.0L1937.2 860.2L1944.0 854.1L1950.7 847.7L1957.4 841.2L1964.2 834.9L1970.9 828.9" stroke="#000" stroke-width="1.5" fill="none"/>
<text x="1610.3" y="951.8" font-size="16.5" text-anchor="middle">1.0</text>
<text x="1819.2" y="951.8" font-size="16.5" text-anchor="middle">1.0</text>
<text x="1690.6" y="951.8" font-size="16.5" text-anchor="middle">0.5</text>
<text x="1899.1" y="951.8" font-size="16.5" text-anchor="middle">0.5</text>
<text x="1761.9" y="951.8" font-size="16.5" text-anchor="middle">0.0</text>
<text x="1970.1" y="951.8" font-size="16.5" text-anchor="middle">0.0</text>
<text x="1792.8" y="826.8" font-size="16.5" text-anchor="end">3</text>
<text x="1792.8" y="877.5" font-size="16.5" text-anchor="end">0</text>
<text x="1792.8" y="928.3" font-size="16.5" text-anchor="end">−3</text>
<text x="1566.6" y="843.7" font-size="19.5" text-anchor="middle">2</text>
<path d="M1596.7 1062.8H1768.0V953.3M1979.6 1062.8H1807.3V953.3M1604.7 1062.8v3.5M1816.0 1062.8v3.5M1643.4 1062.8v2.5M1854.7 1062.8v2.5M1682.2 1062.8v3.5M1893.5 1062.8v3.5M1720.9 1062.8v2.5M1932.2 1062.8v2.5M1759.6 1062.8v3.5M1970.9 1062.8v3.5M1768.0 1057.3h2.5M1807.3 1057.3h-2.5M1768.0 1040.4h2.5M1807.3 1040.4h-2.5M1768.0 1023.5h2.5M1807.3 1023.5h-2.5M1768.0 1006.5h2.5M1807.3 1006.5h-2.5M1768.0 989.6h2.5M1807.3 989.6h-2.5M1768.0 972.7h2.5M1807.3 972.7h-2.5M1768.0 955.8h2.5M1807.3 955.8h-2.5" stroke="#000" stroke-width="1.7" fill="none"/>
<path d="M1604.7 975.2L1611.4 978.9L1618.2 982.6L1624.9 986.3L1631.6 990.0L1638.4 993.7L1645.1 997.3L1651.8 1000.8L1658.6 1004.1L1665.3 1007.3L1672.0 1010.3L1678.8 1013.0L1685.5 1015.5L1692.3 1017.7L1699.0 1019.6L1705.7 1021.1L1712.5 1022.3L1719.2 1023.0L1725.9 1023.3L1732.7 1023.1L1739.4 1022.4L1746.1 1021.2L1752.9 1019.4L1759.6 1017.0" stroke="#000" stroke-width="1.5" fill="none"/>
<path d="M1816.0 1018.0L1822.7 1019.5L1829.5 1020.7L1836.2 1021.7L1842.9 1022.3L1849.7 1022.6L1856.4 1022.6L1863.1 1022.1L1869.9 1021.3L1876.6 1020.0L1883.3 1018.3L1890.1 1016.2L1896.8 1013.7L1903.6 1010.8L1910.3 1007.5L1917.0 1003.9L1923.8 1000.0L1930.5 995.8L1937.2 991.4L1944.0 986.8L1950.7 982.0L1957.4 977.2L1964.2 972.5L1970.9 967.8" stroke="#000" stroke-width="1.5" fill="none"/>
<text x="1610.3" y="1086.5" font-size="16.5" text-anchor="middle">1.0</text>
<text x="1819.2" y="1086.5" font-size="16.5" text-anchor="middle">1.0</text>
<text x="1690.6" y="1086.5" font-size="16.5" text-anchor="middle">0.5</text>
<text x="1899.1" y="1086.5" font-size="16.5" text-anchor="middle">0.5</text>
<text x="1761.9" y="1086.5" font-size="16.5" text-anchor="middle">0.0</text>
<text x="1970.1" y="1086.5" font-size="16.5" text-anchor="middle">0.0</text>
<text x="1792.8" y="961.6" font-size="16.5" text-anchor="end">3</text>
<text x="1792.8" y="1012.3" font-size="16.5" text-anchor="end">0</text>
<text x="1792.8" y="1063.1" font-size="16.5" text-anchor="end">−3</text>
<text x="1566.6" y="975.4" font-size="19.5" text-anchor="middle">11</text>
<path d="M1596.7 1207.5H1768.0V1098.0M1979.6 1207.5H1807.3V1098.0M1604.7 1207.5v3.5M1816.0 1207.5v3.5M1643.4 1207.5v2.5M1854.7 1207.5v2.5M1682.2 1207.5v3.5M1893.5 1207.5v3.5M1720.9 1207.5v2.5M1932.2 1207.5v2.5M1759.6 1207.5v3.5M1970.9 1207.5v3.5M1768.0 1203.0h2.5M1807.3 1203.0h-2.5M1768.0 1186.1h2.5M1807.3 1186.1h-2.5M1768.0 1169.2h2.5M1807.3 1169.2h-2.5M1768.0 1152.2h2.5M1807.3 1152.2h-2.5M1768.0 1135.3h2.5M1807.3 1135.3h-2.5M1768.0 1118.4h2.5M1807.3 1118.4h-2.5M1768.0 1101.5h2.5M1807.3 1101.5h-2.5" stroke="#000" stroke-width="1.7" fill="none"/>
<path d="M1604.7 1159.0L1611.4 1159.3L1618.2 1159.6L1624.9 1159.9L1631.6 1160.2L1638.4 1160.5L1645.1 1160.8L1651.8 1161.0L1658.6 1161.3L1665.3 1161.5L1672.0 1161.8L1678.8 1162.0L1685.5 1162.1L1692.3 1162.3L1699.0 1162.4L1705.7 1162.5L1712.5 1162.6L1719.2 1162.7L1725.9 1162.8L1732.7 1162.8L1739.4 1162.9L1746.1 1162.9L1752.9 1163.0L1759.6 1163.1" stroke="#000" stroke-width="1.5" fill="none"/>
<path d="M1816.0 1165.8L1822.7 1166.2L1829.5 1166.1L1836.2 1165.4L1842.9 1164.2L1849.7 1162.6L1856.4 1160.7L1863.1 1158.4L1869.9 1155.8L1876.6 1153.0L1883.3 1150.0L1890.1 1146.8L1896.8 1143.5L1903.6 1140.0L1910.3 1136.6L1917.0 1133.1L1923.8 1129.5L1930.5 1126.0L1937.2 1122.6L1944.0 1119.2L1950.7 1115.9L1957.4 1112.6L1964.2 1109.5L1970.9 1106.6" stroke="#000" stroke-width="1.5" fill="none"/>
<text x="1610.3" y="1231.2" font-size="16.5" text-anchor="middle">1.0</text>
<text x="1819.2" y="1231.2" font-size="16.5" text-anchor="middle">1.0</text>
<text x="1690.6" y="1231.2" font-size="16.5" text-anchor="middle">0.5</text>
<text x="1899.1" y="1231.2" font-size="16.5" text-anchor="middle">0.5</text>
<text x="1761.9" y="1231.2" font-size="16.5" text-anchor="middle">0.0</text>
<text x="1970.1" y="1231.2" font-size="16.5" text-anchor="middle">0.0</text>
<text x="1792.8" y="1107.3" font-size="16.5" text-anchor="end">3</text>
<text x="1792.8" y="1158.0" font-size="16.5" text-anchor="end">0</text>
<text x="1792.8" y="1208.8" font-size="16.5" text-anchor="end">−3</text>
<text x="1566.6" y="1131.9" font-size="19.5" text-anchor="middle">12</text>
<path d="M1596.7 1349.4H1768.0V1239.9M1979.6 1349.4H1807.3V1239.9M1604.7 1349.4v3.5M1816.0 1349.4v3.5M1643.4 1349.4v2.5M1854.7 1349.4v2.5M1682.2 1349.4v3.5M1893.5 1349.4v3.5M1720.9 1349.4v2.5M1932.2 1349.4v2.5M1759.6 1349.4v3.5M1970.9 1349.4v3.5M1768.0 1344.0h2.5M1807.3 1344.0h-2.5M1768.0 1327.1h2.5M1807.3 1327.1h-2.5M1768.0 1310.2h2.5M1807.3 1310.2h-2.5M1768.0 1293.2h2.5M1807.3 1293.2h-2.5M1768.0 1276.3h2.5M1807.3 1276.3h-2.5M1768.0 1259.4h2.5M1807.3 1259.4h-2.5M1768.0 1242.5h2.5M1807.3 1242.5h-2.5" stroke="#000" stroke-width="1.7" fill="none"/>
<path d="M1604.7 1273.4L1611.4 1277.4L1618.2 1281.8L1624.9 1286.4L1631.6 1291.0L1638.4 1295.6L1645.1 1299.9L1651.8 1303.8L1658.6 1307.2L1665.3 1310.0L1672.0 1312.1L1678.8 1313.6L1685.5 1314.2L1692.3 1314.1L1699.0 1313.2L1705.7 1311.5L1712.5 1309.0L1719.2 1305.8L1725.9 1302.0L1732.7 1297.6L1739.4 1292.7L1746.1 1287.4L1752.9 1281.9L1759.6 1276.3" stroke="#000" stroke-width="1.5" fill="none"/>
<path d="M1816.0 1288.0L1822.7 1292.4L1829.5 1296.2L1836.2 1299.5L1842.9 1302.1L1849.7 1304.2L1856.4 1305.6L1863.1 1306.4L1869.9 1306.5L1876.6 1306.0L1883.3 1304.9L1890.1 1303.2L1896.8 1300.9L1903.6 1298.0L1910.3 1294.6L1917.0 1290.7L1923.8 1286.3L1930.5 1281.4L1937.2 1276.2L1944.0 1270.6L1950.7 1264.8L1957.4 1258.7L1964.2 1252.5L1970.9 1246.2" stroke="#000" stroke-width="1.5" fill="none"/>
<text x="1610.3" y="1373.1" font-size="16.5" text-anchor="middle">1.0</text>
<text x="1819.2" y="1373.1" font-size="16.5" text-anchor="middle">1.0</text>
<text x="1690.6" y="1373.1" font-size="16.5" text-anchor="middle">0.5</text>
<text x="1899.1" y="1373.1" font-size="16.5" text-anchor="middle">0.5</text>
<text x="1761.9" y="1373.1" font-size="16.5" text-anchor="middle">0.0</text>
<text x="1970.1" y="1373.1" font-size="16.5" text-anchor="middle">0.0</text>
<text x="1792.8" y="1248.3" font-size="16.5" text-anchor="end">3</text>
<text x="1792.8" y="1299.0" font-size="16.5" text-anchor="end">0</text>
<text x="1792.8" y="1349.8" font-size="16.5" text-anchor="end">−3</text>
<text x="1566.6" y="1292.1" font-size="19.5" text-anchor="middle">1</text>
<path d="M1596.7 1486.4H1768.0V1376.9M1979.6 1486.4H1807.3V1376.9M1604.7 1486.4v3.5M1816.0 1486.4v3.5M1643.4 1486.4v2.5M1854.7 1486.4v2.5M1682.2 1486.4v3.5M1893.5 1486.4v3.5M1720.9 1486.4v2.5M1932.2 1486.4v2.5M1759.6 1486.4v3.5M1970.9 1486.4v3.5M1768.0 1481.8h2.5M1807.3 1481.8h-2.5M1768.0 1464.9h2.5M1807.3 1464.9h-2.5M1768.0 1448.0h2.5M1807.3 1448.0h-2.5M1768.0 1431.0h2.5M1807.3 1431.0h-2.5M1768.0 1414.1h2.5M1807.3 1414.1h-2.5M1768.0 1397.2h2.5M1807.3 1397.2h-2.5M1768.0 1380.3h2.5M1807.3 1380.3h-2.5" stroke="#000" stroke-width="1.7" fill="none"/>
<path d="M1604.7 1380.6L1611.4 1386.3L1618.2 1391.8L1624.9 1397.1L1631.6 1402.3L1638.4 1407.3L1645.1 1412.1L1651.8 1416.6L1658.6 1420.9L1665.3 1424.9L1672.0 1428.6L1678.8 1432.0L1685.5 1435.1L1692.3 1437.7L1699.0 1440.0L1705.7 1441.9L1712.5 1443.4L1719.2 1444.4L1725.9 1444.9L1732.7 1445.0L1739.4 1444.5L1746.1 1443.5L1752.9 1441.9L1759.6 1439.7" stroke="#000" stroke-width="1.5" fill="none"/>
<path d="M1816.0 1439.3L1822.7 1440.8L1829.5 1442.1L1836.2 1443.1L1842.9 1444.0L1849.7 1444.6L1856.4 1445.0L1863.1 1445.3L1869.9 1445.3L1876.6 1445.2L1883.3 1444.9L1890.1 1444.4L1896.8 1443.7L1903.6 1442.7L1910.3 1441.5L1917.0 1440.1L1923.8 1438.3L1930.5 1436.2L1937.2 1433.7L1944.0 1430.8L1950.7 1427.5L1957.4 1423.6L1964.2 1419.2L1970.9 1414.1" stroke="#000" stroke-width="1.5" fill="none"/>
<text x="1610.3" y="1510.1" font-size="16.5" text-anchor="middle">1.0</text>
<text x="1819.2" y="1510.1" font-size="16.5" text-anchor="middle">1.0</text>
<text x="1690.6" y="1510.1" font-size="16.5" text-anchor="middle">0.5</text>
<text x="1899.1" y="1510.1" font-size="16.5" text-anchor="middle">0.5</text>
<text x="1761.9" y="1510.1" font-size="16.5" text-anchor="middle">0.0</text>
<text x="1970.1" y="1510.1" font-size="16.5" text-anchor="middle">0.0</text>
<text x="1792.8" y="1386.1" font-size="16.5" text-anchor="end">3</text>
<text x="1792.8" y="1436.8" font-size="16.5" text-anchor="end">0</text>
<text x="1792.8" y="1487.6" font-size="16.5" text-anchor="end">−3</text>
<text x="1566.6" y="1444.0" font-size="19.5" text-anchor="middle">15</text>
<path d="M1596.7 1624.3H1768.0V1514.8M1977.3999999999999 1624.3H1805.1V1514.8M1604.7 1624.3v3.5M1813.8 1624.3v3.5M1643.4 1624.3v2.5M1852.5 1624.3v2.5M1682.2 1624.3v3.5M1891.2 1624.3v3.5M1720.9 1624.3v2.5M1930.0 1624.3v2.5M1759.6 1624.3v3.5M1968.7 1624.3v3.5M1768.0 1617.2h2.5M1805.1 1617.2h-2.5M1768.0 1600.3h2.5M1805.1 1600.3h-2.5M1768.0 1583.4h2.5M1805.1 1583.4h-2.5M1768.0 1566.4h2.5M1805.1 1566.4h-2.5M1768.0 1549.5h2.5M1805.1 1549.5h-2.5M1768.0 1532.6h2.5M1805.1 1532.6h-2.5M1768.0 1515.7h2.5M1805.1 1515.7h-2.5" stroke="#000" stroke-width="1.7" fill="none"/>
<path d="M1604.7 1543.1L1611.4 1541.7L1618.2 1540.9L1624.9 1540.6L1631.6 1540.9L1638.4 1541.7L1645.1 1543.0L1651.8 1544.7L1658.6 1546.9L1665.3 1549.4L1672.0 1552.2L1678.8 1555.3L1685.5 1558.7L1692.3 1562.2L1699.0 1565.9L1705.7 1569.6L1712.5 1573.4L1719.2 1577.1L1725.9 1580.7L1732.7 1584.2L1739.4 1587.4L1746.1 1590.3L1752.9 1592.9L1759.6 1595.0" stroke="#000" stroke-width="1.5" fill="none"/>
<path d="M1813.8 1583.4L1820.5 1583.5L1827.3 1583.5L1834.0 1583.4L1840.7 1583.1L1847.5 1582.8L1854.2 1582.4L1860.9 1582.0L1867.7 1581.5L1874.4 1580.9L1881.1 1580.4L1887.9 1579.8L1894.6 1579.1L1901.4 1578.4L1908.1 1577.6L1914.8 1576.7L1921.6 1575.7L1928.3 1574.5L1935.0 1573.2L1941.8 1571.6L1948.5 1569.6L1955.2 1567.4L1962.0 1564.8L1968.7 1561.7" stroke="#000" stroke-width="1.5" fill="none"/>
<text x="1610.3" y="1648.0" font-size="16.5" text-anchor="middle">1.0</text>
<text x="1817.0" y="1648.0" font-size="16.5" text-anchor="middle">1.0</text>
<text x="1690.6" y="1648.0" font-size="16.5" text-anchor="middle">0.5</text>
<text x="1896.9" y="1648.0" font-size="16.5" text-anchor="middle">0.5</text>
<text x="1761.9" y="1648.0" font-size="16.5" text-anchor="middle">0.0</text>
<text x="1967.9" y="1648.0" font-size="16.5" text-anchor="middle">0.0</text>
<text x="1792.8" y="1521.5" font-size="16.5" text-anchor="end">3</text>
<text x="1792.8" y="1572.2" font-size="16.5" text-anchor="end">0</text>
<text x="1792.8" y="1623.0" font-size="16.5" text-anchor="end">−3</text>
<text x="1566.6" y="1577.1" font-size="19.5" text-anchor="middle">5</text>
<path d="M1596.7 1761.9H1768.0V1652.4M1977.3999999999999 1761.9H1805.1V1652.4M1604.7 1761.9v3.5M1813.8 1761.9v3.5M1643.4 1761.9v2.5M1852.5 1761.9v2.5M1682.2 1761.9v3.5M1891.2 1761.9v3.5M1720.9 1761.9v2.5M1930.0 1761.9v2.5M1759.6 1761.9v3.5M1968.7 1761.9v3.5M1768.0 1755.1h2.5M1805.1 1755.1h-2.5M1768.0 1738.2h2.5M1805.1 1738.2h-2.5M1768.0 1721.3h2.5M1805.1 1721.3h-2.5M1768.0 1704.3h2.5M1805.1 1704.3h-2.5M1768.0 1687.4h2.5M1805.1 1687.4h-2.5M1768.0 1670.5h2.5M1805.1 1670.5h-2.5M1768.0 1653.6h2.5M1805.1 1653.6h-2.5" stroke="#000" stroke-width="1.7" fill="none"/>
<path d="M1604.7 1701.0L1611.4 1700.8L1618.2 1700.8L1624.9 1701.1L1631.6 1701.5L1638.4 1702.2L1645.1 1703.1L1651.8 1704.1L1658.6 1705.4L1665.3 1706.8L1672.0 1708.4L1678.8 1710.2L1685.5 1712.1L1692.3 1714.1L1699.0 1716.2L1705.7 1718.4L1712.5 1720.6L1719.2 1722.9L1725.9 1725.2L1732.7 1727.4L1739.4 1729.6L1746.1 1731.6L1752.9 1733.5L1759.6 1735.3" stroke="#000" stroke-width="1.5" fill="none"/>
<path d="M1813.8 1742.1L1820.5 1736.2L1827.3 1730.4L1834.0 1724.9L1840.7 1719.6L1847.5 1714.6L1854.2 1710.0L1860.9 1705.6L1867.7 1701.7L1874.4 1698.1L1881.1 1694.9L1887.9 1692.2L1894.6 1689.9L1901.4 1688.0L1908.1 1686.6L1914.8 1685.6L1921.6 1685.0L1928.3 1684.9L1935.0 1685.2L1941.8 1685.9L1948.5 1687.1L1955.2 1688.6L1962.0 1690.5L1968.7 1692.7" stroke="#000" stroke-width="1.5" fill="none"/>
<text x="1610.3" y="1785.6" font-size="16.5" text-anchor="middle">1.0</text>
<text x="1817.0" y="1785.6" font-size="16.5" text-anchor="middle">1.0</text>
<text x="1690.6" y="1785.6" font-size="16.5" text-anchor="middle">0.5</text>
<text x="1896.9" y="1785.6" font-size="16.5" text-anchor="middle">0.5</text>
<text x="1761.9" y="1785.6" font-size="16.5" text-anchor="middle">0.0</text>
<text x="1967.9" y="1785.6" font-size="16.5" text-anchor="middle">0.0</text>
<text x="1792.8" y="1659.4" font-size="16.5" text-anchor="end">3</text>
<text x="1792.8" y="1710.1" font-size="16.5" text-anchor="end">0</text>
<text x="1792.8" y="1760.9" font-size="16.5" text-anchor="end">−3</text>
<text x="1566.6" y="1719.3" font-size="19.5" text-anchor="middle">13</text>
<path d="M1596.7 1902.9H1768.0V1793.4M1977.3999999999999 1902.9H1805.1V1793.4M1604.7 1902.9v3.5M1813.8 1902.9v3.5M1643.4 1902.9v2.5M1852.5 1902.9v2.5M1682.2 1902.9v3.5M1891.2 1902.9v3.5M1720.9 1902.9v2.5M1930.0 1902.9v2.5M1759.6 1902.9v3.5M1968.7 1902.9v3.5M1768.0 1897.6h2.5M1805.1 1897.6h-2.5M1768.0 1880.7h2.5M1805.1 1880.7h-2.5M1768.0 1863.8h2.5M1805.1 1863.8h-2.5M1768.0 1846.8h2.5M1805.1 1846.8h-2.5M1768.0 1829.9h2.5M1805.1 1829.9h-2.5M1768.0 1813.0h2.5M1805.1 1813.0h-2.5M1768.0 1796.1h2.5M1805.1 1796.1h-2.5" stroke="#000" stroke-width="1.7" fill="none"/>
<path d="M1604.7 1855.5L1611.4 1853.7L1618.2 1851.3L1624.9 1848.6L1631.6 1845.8L1638.4 1843.1L1645.1 1840.7L1651.8 1838.6L1658.6 1836.9L1665.3 1835.9L1672.0 1835.5L1678.8 1835.9L1685.5 1836.9L1692.3 1838.7L1699.0 1841.3L1705.7 1844.5L1712.5 1848.4L1719.2 1852.9L1725.9 1857.8L1732.7 1863.1L1739.4 1868.7L1746.1 1874.3L1752.9 1879.7L1759.6 1884.9" stroke="#000" stroke-width="1.5" fill="none"/>
<path d="M1813.8 1884.1L1820.5 1874.3L1827.3 1865.5L1834.0 1857.8L1840.7 1851.0L1847.5 1845.3L1854.2 1840.5L1860.9 1836.7L1867.7 1833.8L1874.4 1831.9L1881.1 1830.9L1887.9 1830.8L1894.6 1831.5L1901.4 1833.0L1908.1 1835.3L1914.8 1838.4L1921.6 1842.1L1928.3 1846.5L1935.0 1851.5L1941.8 1857.0L1948.5 1863.0L1955.2 1869.5L1962.0 1876.3L1968.7 1883.4" stroke="#000" stroke-width="1.5" fill="none"/>
<text x="1610.3" y="1926.6" font-size="16.5" text-anchor="middle">1.0</text>
<text x="1817.0" y="1926.6" font-size="16.5" text-anchor="middle">1.0</text>
<text x="1690.6" y="1926.6" font-size="16.5" text-anchor="middle">0.5</text>
<text x="1896.9" y="1926.6" font-size="16.5" text-anchor="middle">0.5</text>
<text x="1761.9" y="1926.6" font-size="16.5" text-anchor="middle">0.0</text>
<text x="1967.9" y="1926.6" font-size="16.5" text-anchor="middle">0.0</text>
<text x="1792.8" y="1801.9" font-size="16.5" text-anchor="end">3</text>
<text x="1792.8" y="1852.6" font-size="16.5" text-anchor="end">0</text>
<text x="1792.8" y="1903.4" font-size="16.5" text-anchor="end">−3</text>
<text x="1566.6" y="1855.7" font-size="19.5" text-anchor="middle">4</text>
<path d="M1596.7 2033H1768.0V1923.5M1977.3999999999999 2033H1805.1V1923.5M1604.7 2033v3.5M1813.8 2033v3.5M1643.4 2033v2.5M1852.5 2033v2.5M1682.2 2033v3.5M1891.2 2033v3.5M1720.9 2033v2.5M1930.0 2033v2.5M1759.6 2033v3.5M1968.7 2033v3.5M1768.0 2025.3h2.5M1805.1 2025.3h-2.5M1768.0 2008.4h2.5M1805.1 2008.4h-2.5M1768.0 1991.5h2.5M1805.1 1991.5h-2.5M1768.0 1974.5h2.5M1805.1 1974.5h-2.5M1768.0 1957.6h2.5M1805.1 1957.6h-2.5M1768.0 1940.7h2.5M1805.1 1940.7h-2.5M1768.0 1923.8h2.5M1805.1 1923.8h-2.5" stroke="#000" stroke-width="1.7" fill="none"/>
<path d="M1604.7 1988.6L1611.4 1984.5L1618.2 1980.7L1624.9 1977.3L1631.6 1974.3L1638.4 1971.6L1645.1 1969.2L1651.8 1967.2L1658.6 1965.5L1665.3 1964.2L1672.0 1963.2L1678.8 1962.5L1685.5 1962.2L1692.3 1962.2L1699.0 1962.6L1705.7 1963.4L1712.5 1964.6L1719.2 1966.3L1725.9 1968.4L1732.7 1970.9L1739.4 1974.0L1746.1 1977.5L1752.9 1981.7L1759.6 1986.4" stroke="#000" stroke-width="1.5" fill="none"/>
<path d="M1813.8 1977.1L1820.5 1974.5L1827.3 1972.5L1834.0 1971.0L1840.7 1970.0L1847.5 1969.6L1854.2 1969.7L1860.9 1970.3L1867.7 1971.5L1874.4 1973.1L1881.1 1975.3L1887.9 1977.8L1894.6 1980.8L1901.4 1984.2L1908.1 1987.9L1914.8 1991.9L1921.6 1996.1L1928.3 2000.5L1935.0 2005.0L1941.8 2009.5L1948.5 2014.0L1955.2 2018.3L1962.0 2022.5L1968.7 2026.3" stroke="#000" stroke-width="1.5" fill="none"/>
<text x="1610.3" y="2056.7" font-size="16.5" text-anchor="middle">1.0</text>
<text x="1817.0" y="2056.7" font-size="16.5" text-anchor="middle">1.0</text>
<text x="1690.6" y="2056.7" font-size="16.5" text-anchor="middle">0.5</text>
<text x="1896.9" y="2056.7" font-size="16.5" text-anchor="middle">0.5</text>
<text x="1761.9" y="2056.7" font-size="16.5" text-anchor="middle">0.0</text>
<text x="1967.9" y="2056.7" font-size="16.5" text-anchor="middle">0.0</text>
<text x="1792.8" y="1929.6" font-size="16.5" text-anchor="end">3</text>
<text x="1792.8" y="1980.3" font-size="16.5" text-anchor="end">0</text>
<text x="1792.8" y="2031.1" font-size="16.5" text-anchor="end">−3</text>
<text x="1566.6" y="1980.6" font-size="19.5" text-anchor="middle">10</text>
<path d="M1596.7 2166.9H1768.0V2057.4M1977.3999999999999 2166.9H1805.1V2057.4M1604.7 2166.9v3.5M1813.8 2166.9v3.5M1643.4 2166.9v2.5M1852.5 2166.9v2.5M1682.2 2166.9v3.5M1891.2 2166.9v3.5M1720.9 2166.9v2.5M1930.0 2166.9v2.5M1759.6 2166.9v3.5M1968.7 2166.9v3.5M1768.0 2159.5h2.5M1805.1 2159.5h-2.5M1768.0 2142.6h2.5M1805.1 2142.6h-2.5M1768.0 2125.7h2.5M1805.1 2125.7h-2.5M1768.0 2108.7h2.5M1805.1 2108.7h-2.5M1768.0 2091.8h2.5M1805.1 2091.8h-2.5M1768.0 2074.9h2.5M1805.1 2074.9h-2.5M1768.0 2058.0h2.5M1805.1 2058.0h-2.5" stroke="#000" stroke-width="1.7" fill="none"/>
<path d="M1604.7 2117.0L1611.4 2118.5L1618.2 2119.5L1624.9 2120.0L1631.6 2120.1L1638.4 2119.7L1645.1 2119.1L1651.8 2118.1L1658.6 2116.9L1665.3 2115.5L1672.0 2113.9L1678.8 2112.1L1685.5 2110.1L1692.3 2107.9L1699.0 2105.6L1705.7 2103.2L1712.5 2100.5L1719.2 2097.6L1725.9 2094.6L1732.7 2091.3L1739.4 2087.7L1746.1 2083.8L1752.9 2079.5L1759.6 2074.9" stroke="#000" stroke-width="1.5" fill="none"/>
<path d="M1813.8 2072.4L1820.5 2079.9L1827.3 2087.0L1834.0 2093.5L1840.7 2099.5L1847.5 2105.0L1854.2 2109.9L1860.9 2114.4L1867.7 2118.3L1874.4 2121.7L1881.1 2124.6L1887.9 2127.0L1894.6 2128.9L1901.4 2130.3L1908.1 2131.2L1914.8 2131.7L1921.6 2131.7L1928.3 2131.2L1935.0 2130.3L1941.8 2129.0L1948.5 2127.3L1955.2 2125.2L1962.0 2122.7L1968.7 2119.9" stroke="#000" stroke-width="1.5" fill="none"/>
<text x="1610.3" y="2190.6" font-size="16.5" text-anchor="middle">1.0</text>
<text x="1817.0" y="2190.6" font-size="16.5" text-anchor="middle">1.0</text>
<text x="1690.6" y="2190.6" font-size="16.5" text-anchor="middle">0.5</text>
<text x="1896.9" y="2190.6" font-size="16.5" text-anchor="middle">0.5</text>
<text x="1761.9" y="2190.6" font-size="16.5" text-anchor="middle">0.0</text>
<text x="1967.9" y="2190.6" font-size="16.5" text-anchor="middle">0.0</text>
<text x="1792.8" y="2063.8" font-size="16.5" text-anchor="end">3</text>
<text x="1792.8" y="2114.5" font-size="16.5" text-anchor="end">0</text>
<text x="1792.8" y="2165.3" font-size="16.5" text-anchor="end">−3</text>
<text x="1566.6" y="2106.7" font-size="19.5" text-anchor="middle">8</text>
<path d="M1596.7 2301.6H1768.0V2192.1M1977.3999999999999 2301.6H1805.1V2192.1M1604.7 2301.6v3.5M1813.8 2301.6v3.5M1643.4 2301.6v2.5M1852.5 2301.6v2.5M1682.2 2301.6v3.5M1891.2 2301.6v3.5M1720.9 2301.6v2.5M1930.0 2301.6v2.5M1759.6 2301.6v3.5M1968.7 2301.6v3.5M1768.0 2297.5h2.5M1805.1 2297.5h-2.5M1768.0 2280.6h2.5M1805.1 2280.6h-2.5M1768.0 2263.7h2.5M1805.1 2263.7h-2.5M1768.0 2246.7h2.5M1805.1 2246.7h-2.5M1768.0 2229.8h2.5M1805.1 2229.8h-2.5M1768.0 2212.9h2.5M1805.1 2212.9h-2.5M1768.0 2196.0h2.5M1805.1 2196.0h-2.5" stroke="#000" stroke-width="1.7" fill="none"/>
<path d="M1604.7 2266.7L1611.4 2264.3L1618.2 2261.7L1624.9 2258.8L1631.6 2255.9L1638.4 2252.9L1645.1 2249.9L1651.8 2247.0L1658.6 2244.2L1665.3 2241.6L1672.0 2239.1L1678.8 2236.9L1685.5 2235.0L1692.3 2233.3L1699.0 2231.9L1705.7 2230.8L1712.5 2230.0L1719.2 2229.6L1725.9 2229.4L1732.7 2229.4L1739.4 2229.8L1746.1 2230.3L1752.9 2231.1L1759.6 2232.0" stroke="#000" stroke-width="1.5" fill="none"/>
<path d="M1813.8 2221.4L1820.5 2224.1L1827.3 2227.0L1834.0 2230.0L1840.7 2233.2L1847.5 2236.4L1854.2 2239.6L1860.9 2242.8L1867.7 2246.0L1874.4 2249.1L1881.1 2252.1L1887.9 2255.0L1894.6 2257.7L1901.4 2260.3L1908.1 2262.7L1914.8 2264.9L1921.6 2266.9L1928.3 2268.7L1935.0 2270.2L1941.8 2271.4L1948.5 2272.4L1955.2 2273.2L1962.0 2273.6L1968.7 2273.8" stroke="#000" stroke-width="1.5" fill="none"/>
<text x="1610.3" y="2325.3" font-size="16.5" text-anchor="middle">1.0</text>
<text x="1817.0" y="2325.3" font-size="16.5" text-anchor="middle">1.0</text>
<text x="1690.6" y="2325.3" font-size="16.5" text-anchor="middle">0.5</text>
<text x="1896.9" y="2325.3" font-size="16.5" text-anchor="middle">0.5</text>
<text x="1761.9" y="2325.3" font-size="16.5" text-anchor="middle">0.0</text>
<text x="1967.9" y="2325.3" font-size="16.5" text-anchor="middle">0.0</text>
<text x="1792.8" y="2201.8" font-size="16.5" text-anchor="end">3</text>
<text x="1792.8" y="2252.5" font-size="16.5" text-anchor="end">0</text>
<text x="1792.8" y="2303.3" font-size="16.5" text-anchor="end">−3</text>
<text x="1566.6" y="2246.1" font-size="19.5" text-anchor="middle">3</text>
<path d="M921.0 239.9H916.5V254.1H921.0M925.5 237.0H921.0V243.0H925.5M925.5 249.7H921.0V257.9H925.5M930.0 247.9H925.5V251.7H930.0M930.0 255.8H925.5V260.3H930.0M921.0 282.7H916.5V330.2H921.0M925.5 271.4H921.0V288.9H925.5M930.0 268.9H925.5V275.1H930.0M930.0 282.5H925.5V293.8H930.0M925.5 312.9H921.0V342.8H925.5M930.0 308.4H925.5V321.0H930.0M930.0 333.9H925.5V351.3H930.0M921.0 402.1H916.5V466.6H921.0M925.5 382.4H921.0V421.2H925.5M930.0 373.6H925.5V392.8H930.0M930.0 409.3H925.5V428.9H930.0M925.5 454.7H921.0V480.5H925.5M930.0 449.3H925.5V463.2H930.0M930.0 474.6H925.5V486.5H930.0M921.0 536.0H916.5V606.8H921.0M925.5 517.8H921.0V558.4H925.5M930.0 503.8H925.5V526.1H930.0M930.0 550.7H925.5V568.9H930.0M925.5 592.5H921.0V622.8H925.5M930.0 583.6H925.5V599.5H930.0M930.0 613.6H925.5V627.9H930.0M921.0 680.1H916.5V745.4H921.0M925.5 659.9H921.0V699.7H925.5M930.0 651.4H925.5V671.0H930.0M930.0 691.9H925.5V712.1H930.0M925.5 734.3H921.0V759.8H925.5M930.0 728.9H925.5V743.3H930.0M930.0 753.9H925.5V765.0H930.0M921.0 793.0H916.5V824.9H921.0M925.5 783.2H921.0V802.1H925.5M930.0 779.8H925.5V789.0H930.0M930.0 798.3H925.5V808.1H930.0M925.5 816.8H921.0V829.9H925.5M930.0 813.8H925.5V818.7H930.0M930.0 825.1H925.5V833.2H930.0M921.0 979.5H916.5V1195.5H921.0M925.5 907.8H921.0V1045.9H925.5M930.0 877.1H925.5V943.5H930.0M930.0 1005.8H925.5V1077.5H930.0M925.5 1156.8H921.0V1234.6H925.5M930.0 1135.9H925.5V1175.0H930.0M930.0 1213.5H925.5V1252.3H930.0M921.0 1314.4H916.5V1384.5H921.0M925.5 1296.9H921.0V1333.7H925.5M930.0 1289.5H925.5V1308.9H930.0M930.0 1325.9H925.5V1343.4H930.0M925.5 1372.2H921.0V1405.4H925.5M930.0 1363.9H925.5V1384.9H930.0M930.0 1401.1H925.5V1413.4H930.0M921.0 1476.9H916.5V1576.7H921.0M925.5 1443.8H921.0V1498.8H925.5M930.0 1435.2H925.5V1457.2H930.0M930.0 1486.9H925.5V1520.0H930.0M925.5 1559.7H921.0V1604.5H925.5M930.0 1546.4H925.5V1574.2H930.0M930.0 1597.1H925.5V1614.0H930.0M921.0 1641.8H916.5V1681.1H921.0M925.5 1635.3H921.0V1651.5H925.5M930.0 1630.6H925.5V1640.3H930.0M930.0 1647.8H925.5V1654.4H930.0M925.5 1666.5H921.0V1689.6H925.5M930.0 1663.2H925.5V1671.7H930.0M930.0 1684.5H925.5V1699.1H930.0M921.0 1733.1H916.5V1799.2H921.0M925.5 1722.9H921.0V1747.8H925.5M930.0 1715.2H925.5V1729.8H930.0M930.0 1741.6H925.5V1751.8H930.0M925.5 1776.0H921.0V1817.2H925.5M930.0 1768.5H925.5V1786.5H930.0M930.0 1808.3H925.5V1831.4H930.0M921.0 1856.1H916.5V1889.2H921.0M925.5 1850.5H921.0V1862.5H925.5M930.0 1846.4H925.5V1852.8H930.0M930.0 1860.1H925.5V1865.7H930.0M925.5 1877.6H921.0V1898.6H925.5M930.0 1873.9H925.5V1883.4H930.0M930.0 1894.5H925.5V1906.1H930.0M921.0 1947.3H916.5V2013.9H921.0M925.5 1935.6H921.0V1969.0H925.5M930.0 1923.5H925.5V1945.2H930.0M930.0 1961.7H925.5V1973.4H930.0M925.5 1998.3H921.0V2031.5H925.5M930.0 1987.0H925.5V2004.6H930.0M930.0 2022.3H925.5V2037.9H930.0M921.0 2070.0H916.5V2110.1H921.0M925.5 2061.2H921.0V2080.1H925.5M930.0 2055.1H925.5V2065.2H930.0M930.0 2074.5H925.5V2083.3H930.0M925.5 2101.9H921.0V2123.1H925.5M930.0 2094.7H925.5V2107.6H930.0M930.0 2120.1H925.5V2128.3H930.0M921.0 2184.3H916.5V2263.4H921.0M925.5 2158.0H921.0V2206.9H925.5M930.0 2146.4H925.5V2169.1H930.0M930.0 2194.0H925.5V2220.2H930.0M925.5 2249.6H921.0V2279.7H925.5M930.0 2241.9H925.5V2258.2H930.0M930.0 2273.1H925.5V2286.9H930.0" stroke="#000" stroke-width="0.8" fill="none"/>
<path d="M930.3 234.9V261.3M932.6 234.9V261.3M934.9 234.9V261.3M930.3 266.2V359.1M932.6 266.2V359.1M934.9 266.2V359.1M930.3 364.3V491.3M932.6 364.3V491.3M934.9 364.3V491.3M930.3 496.5V636.1M932.6 496.5V636.1M934.9 496.5V636.1M930.3 641.3V769.9M932.6 641.3V769.9M934.9 641.3V769.9M930.3 775.1V837.0M932.6 775.1V837.0M934.9 775.1V837.0M930.3 842.3V1272.4M932.6 842.3V1272.4M934.9 842.3V1272.4M930.3 1278.5V1416.8M932.6 1278.5V1416.8M934.9 1278.5V1416.8M930.3 1422.9V1620.4M932.6 1422.9V1620.4M934.9 1422.9V1620.4M930.3 1626.5V1703.2M932.6 1626.5V1703.2M934.9 1626.5V1703.2M930.3 1709.2V1839.4M932.6 1709.2V1839.4M934.9 1709.2V1839.4M930.3 1845.1V1909.2M932.6 1845.1V1909.2M934.9 1845.1V1909.2M930.3 1914.9V2046.1M932.6 1914.9V2046.1M934.9 1914.9V2046.1M930.3 2052.1V2130.3M932.6 2052.1V2130.3M934.9 2052.1V2130.3M930.3 2136.3V2292.5M932.6 2136.3V2292.5M934.9 2136.3V2292.5" stroke="#111" stroke-width="1.2" stroke-dasharray="1.3 1.5" fill="none"/>
<path d="M916.5 248.1h-4M916.5 312.6h-4M916.5 427.8h-4M916.5 566.3h-4M916.5 705.6h-4M916.5 806.0h-4M916.5 1057.3h-4M916.5 1347.7h-4M916.5 1521.7h-4M916.5 1664.8h-4M916.5 1774.3h-4M916.5 1877.2h-4M916.5 1980.5h-4M916.5 2091.2h-4M916.5 2214.4h-4M912.5 248.1H906V566.3M912.5 312.6H909.5V427.8H912.5M909.5 370.2H906M912.5 566.3H906M912.5 705.6H908V806.0H912.5M908 755.8H903.5V407.2H906M912.5 1057.3H908.5V1347.7H912.5M908.5 1202.5H901.5V715.8H903.5M912.5 1521.7H907V1664.8H912.5M912.5 1774.3H905.5V1877.2H912.5M907 1593.2H903V1825.7H905.5M912.5 1980.5H907V2214.4H912.5M912.5 2091.2H907M907 2061.2H898.5V1699.4H903M898.5 1774.3H895.5V1057.3H901.5" stroke="#000" stroke-width="0.8" fill="none"/>
</g>
<g id="g-umap">
<g transform="translate(50.0 53.0) scale(0.5261 0.5159)" stroke-linecap="round" stroke-width="6.3" fill="none"><g fill="#4ccd3f" fill-opacity="0.5" stroke="none"><use href="#c0"/><use href="#c1"/><use href="#c2"/><use href="#c3"/><use href="#c4"/><use href="#c5"/><use href="#c6"/><use href="#c7"/><use href="#c8"/><use href="#c9"/><use href="#c10"/><use href="#c11"/><use href="#c12"/></g><g fill="#ea6b69" fill-opacity="0.5" stroke="none"><use href="#c13"/><use href="#c14"/><use href="#c15"/><use href="#c16"/><use href="#c17"/><use href="#c18"/><use href="#c19"/><use href="#c20"/><use href="#c21"/><use href="#c22"/><use href="#c23"/><use href="#c24"/><use href="#c25"/><use href="#c26"/><use href="#c27"/><use href="#c28"/><use href="#c29"/><use href="#c30"/><use href="#c31"/><use href="#c32"/><use href="#c33"/><use href="#c34"/><use href="#c35"/><use href="#c36"/><use href="#c37"/></g><g stroke="#4ccd3f"><use href="#p0_0"/><use href="#p0_1"/><use href="#p1_0"/><use href="#p1_1"/><use href="#p2_0"/><use href="#p2_1"/><use href="#p2_2"/><use href="#p3_0"/><use href="#p3_1"/><use href="#p4_0"/><use href="#p4_1"/><use href="#p4_2"/><use href="#p5_0"/><use href="#p5_1"/><use href="#p5_2"/><use href="#p6_0"/><use href="#p6_1"/><use href="#p7_0"/><use href="#p8_0"/><use href="#p8_1"/><use href="#p8_2"/><use href="#p9_0"/><use href="#p10_0"/><use href="#p10_2"/><use href="#p11_0"/><use href="#p11_2"/><use href="#p12_0"/><use href="#p12_1"/><use href="#p20_1"/><use href="#p21_1"/><use href="#p22_1"/><use href="#p23_1"/><use href="#p24_1"/><use href="#p25_1"/></g><g stroke="#74a3f3"><use href="#p0_2"/><use href="#p1_2"/><use href="#p3_2"/><use href="#p6_2"/><use href="#p7_2"/><use href="#p9_2"/><use href="#p12_2"/><use href="#p13_2"/><use href="#p14_2"/><use href="#p15_2"/><use href="#p16_2"/><use href="#p17_2"/><use href="#p18_2"/><use href="#p20_2"/><use href="#p22_2"/><use href="#p24_2"/><use href="#p26_2"/><use href="#p28_2"/><use href="#p30_2"/><use href="#p32_2"/><use href="#p37_2"/></g><g stroke="#ea6b69"><use href="#p7_1"/><use href="#p9_1"/><use href="#p10_1"/><use href="#p11_1"/><use href="#p13_0"/><use href="#p13_1"/><use href="#p14_0"/><use href="#p14_1"/><use href="#p15_0"/><use href="#p15_1"/><use href="#p16_0"/><use href="#p16_1"/><use href="#p17_0"/><use href="#p17_1"/><use href="#p18_0"/><use href="#p18_1"/><use href="#p19_0"/><use href="#p19_1"/><use href="#p19_2"/><use href="#p20_0"/><use href="#p21_0"/><use href="#p21_2"/><use href="#p22_0"/><use href="#p23_0"/><use href="#p23_2"/><use href="#p24_0"/><use href="#p25_0"/><use href="#p25_2"/><use href="#p26_0"/><use href="#p26_1"/><use href="#p27_0"/><use href="#p27_1"/><use href="#p27_2"/><use href="#p28_0"/><use href="#p28_1"/><use href="#p29_0"/><use href="#p29_1"/><use href="#p29_2"/><use href="#p30_0"/><use href="#p30_1"/><use href="#p31_0"/><use href="#p31_1"/><use href="#p31_2"/><use href="#p32_0"/><use href="#p32_1"/><use href="#p33_0"/><use href="#p33_1"/><use href="#p33_2"/><use href="#p34_0"/><use href="#p34_1"/><use href="#p34_2"/><use href="#p35_0"/><use href="#p35_1"/><use href="#p35_2"/><use href="#p36_0"/><use href="#p36_1"/><use href="#p36_2"/><use href="#p37_0"/><use href="#p37_1"/></g></g>
<g transform="translate(46.3 320.3) scale(0.4952 0.4916)" stroke-linecap="round" stroke-width="6.3" fill="none"><g fill="#4ccd3f" fill-opacity="0.7" stroke="none"><use href="#c0"/><use href="#c1"/><use href="#c2"/><use href="#c3"/><use href="#c4"/><use href="#c5"/><use href="#c6"/><use href="#c7"/><use href="#c8"/><use href="#c9"/><use href="#c10"/><use href="#c11"/><use href="#c12"/><use href="#c20"/><use href="#c21"/><use href="#c22"/><use href="#c23"/><use href="#c24"/><use href="#c25"/></g><g fill="#e2e2e2" fill-opacity="0.7" stroke="none"><use href="#c13"/><use href="#c14"/><use href="#c15"/><use href="#c16"/><use href="#c17"/><use href="#c18"/><use href="#c19"/><use href="#c26"/><use href="#c27"/><use href="#c28"/><use href="#c29"/><use href="#c30"/><use href="#c31"/><use href="#c32"/><use href="#c33"/><use href="#c34"/><use href="#c35"/><use href="#c36"/><use href="#c37"/></g><g stroke="#4ccd3f"><use href="#p0_0"/><use href="#p0_1"/><use href="#p0_2"/><use href="#p1_0"/><use href="#p1_1"/><use href="#p1_2"/><use href="#p2_0"/><use href="#p2_1"/><use href="#p2_2"/><use href="#p3_0"/><use href="#p3_1"/><use href="#p3_2"/><use href="#p4_0"/><use href="#p4_1"/><use href="#p4_2"/><use href="#p5_0"/><use href="#p5_1"/><use href="#p5_2"/><use href="#p6_0"/><use href="#p6_1"/><use href="#p6_2"/><use href="#p7_0"/><use href="#p7_1"/><use href="#p7_2"/><use href="#p8_0"/><use href="#p8_1"/><use href="#p8_2"/><use href="#p9_0"/><use href="#p9_1"/><use href="#p9_2"/><use href="#p10_0"/><use href="#p10_1"/><use href="#p10_2"/><use href="#p11_0"/><use href="#p11_1"/><use href="#p11_2"/><use href="#p12_0"/><use href="#p12_1"/><use href="#p12_2"/><use href="#p20_0"/><use href="#p20_1"/><use href="#p21_0"/><use href="#p21_1"/><use href="#p22_0"/><use href="#p22_1"/><use href="#p23_0"/><use href="#p23_1"/><use href="#p24_0"/><use href="#p24_1"/><use href="#p25_0"/><use href="#p25_1"/></g><g stroke="#e2e2e2"><use href="#p13_0"/><use href="#p13_1"/><use href="#p13_2"/><use href="#p14_0"/><use href="#p14_1"/><use href="#p14_2"/><use href="#p15_0"/><use href="#p15_1"/><use href="#p15_2"/><use href="#p16_0"/><use href="#p16_1"/><use href="#p16_2"/><use href="#p17_0"/><use href="#p17_1"/><use href="#p17_2"/><use href="#p18_0"/><use href="#p18_1"/><use href="#p18_2"/><use href="#p19_0"/><use href="#p19_1"/><use href="#p19_2"/><use href="#p20_2"/><use href="#p21_2"/><use href="#p22_2"/><use href="#p23_2"/><use href="#p24_2"/><use href="#p25_2"/><use href="#p26_0"/><use href="#p26_1"/><use href="#p26_2"/><use href="#p27_0"/><use href="#p27_1"/><use href="#p27_2"/><use href="#p28_0"/><use href="#p28_1"/><use href="#p28_2"/><use href="#p29_0"/><use href="#p29_1"/><use href="#p29_2"/><use href="#p30_0"/><use href="#p30_1"/><use href="#p30_2"/><use href="#p31_0"/><use href="#p31_1"/><use href="#p31_2"/><use href="#p32_0"/><use href="#p32_1"/><use href="#p32_2"/><use href="#p33_0"/><use href="#p33_1"/><use href="#p33_2"/><use href="#p34_0"/><use href="#p34_1"/><use href="#p34_2"/><use href="#p35_0"/><use href="#p35_1"/><use href="#p35_2"/><use href="#p36_0"/><use href="#p36_1"/><use href="#p36_2"/><use href="#p37_0"/><use href="#p37_1"/><use href="#p37_2"/></g></g>
<g transform="translate(329.6 311.6) scale(0.4891 0.4991)" stroke-linecap="round" stroke-width="6.3" fill="none"><g fill="#e2e2e2" fill-opacity="0.85" stroke="none"><use href="#c0"/><use href="#c1"/><use href="#c2"/><use href="#c3"/><use href="#c4"/><use href="#c5"/><use href="#c6"/><use href="#c7"/><use href="#c8"/><use href="#c9"/><use href="#c10"/><use href="#c11"/><use href="#c12"/><use href="#c13"/><use href="#c14"/><use href="#c15"/><use href="#c16"/><use href="#c17"/><use href="#c18"/><use href="#c19"/><use href="#c20"/><use href="#c21"/><use href="#c22"/><use href="#c23"/><use href="#c24"/><use href="#c25"/><use href="#c26"/><use href="#c27"/><use href="#c28"/><use href="#c29"/><use href="#c30"/><use href="#c31"/><use href="#c32"/><use href="#c33"/><use href="#c34"/><use href="#c35"/><use href="#c36"/><use href="#c37"/></g><g stroke="#e2e2e2"><use href="#p0_0"/><use href="#p0_1"/><use href="#p0_2"/><use href="#p1_2"/><use href="#p2_1"/><use href="#p2_2"/><use href="#p3_0"/><use href="#p3_1"/><use href="#p3_2"/><use href="#p4_1"/><use href="#p4_2"/><use href="#p5_2"/><use href="#p6_2"/><use href="#p7_1"/><use href="#p7_2"/><use href="#p8_1"/><use href="#p8_2"/><use href="#p9_1"/><use href="#p9_2"/><use href="#p10_1"/><use href="#p10_2"/><use href="#p11_1"/><use href="#p11_2"/><use href="#p12_0"/><use href="#p12_1"/><use href="#p12_2"/><use href="#p13_2"/><use href="#p14_2"/><use href="#p15_1"/><use href="#p15_2"/><use href="#p16_2"/><use href="#p17_2"/><use href="#p18_2"/><use href="#p19_1"/><use href="#p19_2"/><use href="#p20_1"/><use href="#p20_2"/><use href="#p21_1"/><use href="#p21_2"/><use href="#p22_1"/><use href="#p22_2"/><use href="#p23_1"/><use href="#p23_2"/><use href="#p24_1"/><use href="#p24_2"/><use href="#p25_1"/><use href="#p25_2"/><use href="#p26_1"/><use href="#p26_2"/><use href="#p27_0"/><use href="#p27_1"/><use href="#p27_2"/><use href="#p28_1"/><use href="#p28_2"/><use href="#p29_0"/><use href="#p29_1"/><use href="#p29_2"/><use href="#p30_1"/><use href="#p30_2"/><use href="#p31_0"/><use href="#p31_1"/><use href="#p31_2"/><use href="#p32_1"/><use href="#p32_2"/><use href="#p33_0"/><use href="#p33_1"/><use href="#p33_2"/><use href="#p34_0"/><use href="#p34_1"/><use href="#p34_2"/><use href="#p35_0"/><use href="#p35_1"/><use href="#p35_2"/><use href="#p36_0"/><use href="#p36_1"/><use href="#p36_2"/><use href="#p37_2"/></g><g stroke="#74a3f3"><use href="#p1_0"/><use href="#p1_1"/><use href="#p2_0"/><use href="#p4_0"/><use href="#p5_0"/><use href="#p5_1"/><use href="#p6_0"/><use href="#p6_1"/><use href="#p7_0"/><use href="#p8_0"/><use href="#p9_0"/><use href="#p10_0"/><use href="#p11_0"/><use href="#p13_0"/><use href="#p13_1"/><use href="#p14_0"/><use href="#p14_1"/><use href="#p15_0"/><use href="#p16_0"/><use href="#p16_1"/><use href="#p17_0"/><use href="#p17_1"/><use href="#p18_0"/><use href="#p18_1"/><use href="#p19_0"/><use href="#p20_0"/><use href="#p21_0"/><use href="#p22_0"/><use href="#p23_0"/><use href="#p24_0"/><use href="#p25_0"/><use href="#p26_0"/><use href="#p28_0"/><use href="#p30_0"/><use href="#p32_0"/><use href="#p37_0"/><use href="#p37_1"/></g></g>
<g transform="translate(623.8 311.6) scale(0.4952 0.4991)" stroke-linecap="round" stroke-width="6.3" fill="none"><g fill="#e6e6e6" fill-opacity="0.6" stroke="none"><use href="#c0"/><use href="#c1"/><use href="#c2"/><use href="#c3"/><use href="#c4"/><use href="#c5"/><use href="#c6"/><use href="#c7"/><use href="#c8"/><use href="#c9"/><use href="#c10"/><use href="#c11"/><use href="#c12"/></g><g fill="#ea6b69" fill-opacity="0.6" stroke="none"><use href="#c13"/><use href="#c14"/><use href="#c15"/><use href="#c16"/><use href="#c17"/><use href="#c18"/><use href="#c19"/><use href="#c20"/><use href="#c21"/><use href="#c22"/><use href="#c23"/><use href="#c24"/><use href="#c25"/><use href="#c26"/><use href="#c27"/><use href="#c28"/><use href="#c29"/><use href="#c30"/><use href="#c31"/><use href="#c32"/><use href="#c33"/><use href="#c34"/><use href="#c35"/><use href="#c36"/><use href="#c37"/></g><g stroke="#e6e6e6"><use href="#p0_0"/><use href="#p0_1"/><use href="#p0_2"/><use href="#p1_0"/><use href="#p1_1"/><use href="#p1_2"/><use href="#p2_1"/><use href="#p2_2"/><use href="#p3_0"/><use href="#p3_1"/><use href="#p3_2"/><use href="#p4_0"/><use href="#p4_1"/><use href="#p4_2"/><use href="#p5_1"/><use href="#p5_2"/><use href="#p6_1"/><use href="#p6_2"/><use href="#p7_1"/><use href="#p7_2"/><use href="#p8_1"/><use href="#p8_2"/><use href="#p9_1"/><use href="#p9_2"/><use href="#p10_1"/><use href="#p10_2"/><use href="#p11_1"/><use href="#p11_2"/><use href="#p12_0"/><use href="#p12_1"/><use href="#p12_2"/></g><g stroke="#ea6b69"><use href="#p2_0"/><use href="#p5_0"/><use href="#p6_0"/><use href="#p7_0"/><use href="#p8_0"/><use href="#p9_0"/><use href="#p10_0"/><use href="#p11_0"/><use href="#p13_0"/><use href="#p13_1"/><use href="#p13_2"/><use href="#p14_0"/><use href="#p14_1"/><use href="#p14_2"/><use href="#p15_0"/><use href="#p15_1"/><use href="#p15_2"/><use href="#p16_0"/><use href="#p16_1"/><use href="#p16_2"/><use href="#p17_0"/><use href="#p17_1"/><use href="#p17_2"/><use href="#p18_0"/><use href="#p18_1"/><use href="#p18_2"/><use href="#p19_0"/><use href="#p19_1"/><use href="#p19_2"/><use href="#p20_0"/><use href="#p20_1"/><use href="#p21_0"/><use href="#p21_1"/><use href="#p22_0"/><use href="#p22_1"/><use href="#p23_0"/><use href="#p23_1"/><use href="#p24_0"/><use href="#p24_1"/><use href="#p25_0"/><use href="#p25_1"/><use href="#p26_0"/><use href="#p26_1"/><use href="#p26_2"/><use href="#p27_0"/><use href="#p27_1"/><use href="#p27_2"/><use href="#p28_0"/><use href="#p28_1"/><use href="#p28_2"/><use href="#p29_0"/><use href="#p29_1"/><use href="#p29_2"/><use href="#p30_0"/><use href="#p30_1"/><use href="#p30_2"/><use href="#p31_0"/><use href="#p31_1"/><use href="#p31_2"/><use href="#p32_0"/><use href="#p32_1"/><use href="#p32_2"/><use href="#p33_0"/><use href="#p33_1"/><use href="#p33_2"/><use href="#p34_0"/><use href="#p34_1"/><use href="#p34_2"/><use href="#p35_0"/><use href="#p35_1"/><use href="#p35_2"/><use href="#p36_0"/><use href="#p36_1"/><use href="#p36_2"/><use href="#p37_0"/><use href="#p37_1"/><use href="#p37_2"/></g><g stroke="#e2e2e2"><use href="#p20_2"/><use href="#p21_2"/><use href="#p22_2"/><use href="#p23_2"/><use href="#p24_2"/><use href="#p25_2"/></g></g>
<g transform="translate(33.8 575.4) scale(0.4866 0.5014)" stroke-linecap="round" stroke-width="6.3" fill="none"><g fill="#dedede" fill-opacity="0.5" stroke="none"><use href="#c0"/><use href="#c3"/><use href="#c12"/></g><g fill="#ffdf40" fill-opacity="0.5" stroke="none"><use href="#c1"/></g><g fill="#e9e9b3" fill-opacity="0.5" stroke="none"><use href="#c2"/></g><g fill="#efef9e" fill-opacity="0.5" stroke="none"><use href="#c4"/></g><g fill="#f5f180" fill-opacity="0.5" stroke="none"><use href="#c5"/></g><g fill="#ffc835" fill-opacity="0.5" stroke="none"><use href="#c6"/></g><g fill="#fee246" fill-opacity="0.5" stroke="none"><use href="#c7"/><use href="#c20"/><use href="#c22"/><use href="#c23"/><use href="#c25"/></g><g fill="#f9ec6c" fill-opacity="0.5" stroke="none"><use href="#c8"/></g><g fill="#ffba2f" fill-opacity="0.5" stroke="none"><use href="#c9"/></g><g fill="#ffbb2f" fill-opacity="0.5" stroke="none"><use href="#c10"/></g><g fill="#f8ed70" fill-opacity="0.5" stroke="none"><use href="#c11"/></g><g fill="#f9791f" fill-opacity="0.5" stroke="none"><use href="#c13"/><use href="#c14"/><use href="#c15"/><use href="#c16"/><use href="#c17"/><use href="#c18"/><use href="#c19"/></g><g fill="#ffc132" fill-opacity="0.5" stroke="none"><use href="#c21"/><use href="#c24"/><use href="#c34"/><use href="#c35"/><use href="#c36"/><use href="#c37"/></g><g fill="#ffa827" fill-opacity="0.5" stroke="none"><use href="#c26"/><use href="#c27"/><use href="#c29"/><use href="#c30"/><use href="#c31"/></g><g fill="#f86f1e" fill-opacity="0.5" stroke="none"><use href="#c28"/><use href="#c32"/><use href="#c33"/></g><g stroke="#dedede"><use href="#p0_0"/><use href="#p3_0"/><use href="#p12_0"/></g><g stroke="#e1e1d3"><use href="#p0_1"/></g><g stroke="#f2f291"><use href="#p0_2"/></g><g stroke="#ffdf40"><use href="#p1_0"/></g><g stroke="#ffb02b"><use href="#p1_1"/></g><g stroke="#f9761f"><use href="#p1_2"/></g><g stroke="#e9e9b3"><use href="#p2_0"/></g><g stroke="#f7ee74"><use href="#p2_1"/></g><g stroke="#ffdc3e"><use href="#p2_2"/></g><g stroke="#ededa4"><use href="#p3_1"/></g><g stroke="#f9ea67"><use href="#p3_2"/></g><g stroke="#efef9e"><use href="#p4_0"/></g><g stroke="#fae962"><use href="#p4_1"/></g><g stroke="#ffcd37"><use href="#p4_2"/></g><g stroke="#f5f180"><use href="#p5_0"/></g><g stroke="#fee247"><use href="#p5_1"/></g><g stroke="#ffb72d"><use href="#p5_2"/></g><g stroke="#ffc835"><use href="#p6_0"/></g><g stroke="#fd9523"><use href="#p6_1"/></g><g stroke="#f4571a"><use href="#p6_2"/></g><g stroke="#fee246"><use href="#p7_0"/><use href="#p20_0"/><use href="#p22_0"/><use href="#p23_0"/><use href="#p25_0"/></g><g stroke="#ffb62d"><use href="#p7_1"/><use href="#p20_1"/><use href="#p22_1"/><use href="#p23_1"/><use href="#p25_1"/></g><g stroke="#fa7e20"><use href="#p7_2"/><use href="#p20_2"/><use href="#p22_2"/><use href="#p23_2"/><use href="#p25_2"/></g><g stroke="#f9ec6c"><use href="#p8_0"/></g><g stroke="#ffd53b"><use href="#p8_1"/></g><g stroke="#ffa626"><use href="#p8_2"/></g><g stroke="#ffba2f"><use href="#p9_0"/></g><g stroke="#fa8320"><use href="#p9_1"/></g><g stroke="#ed4918"><use href="#p9_2"/></g><g stroke="#ffbb2f"><use href="#p10_0"/></g><g stroke="#fb8421"><use href="#p10_1"/></g><g stroke="#ee4a18"><use href="#p10_2"/></g><g stroke="#f8ed70"><use href="#p11_0"/></g><g stroke="#ffd83c"><use href="#p11_1"/></g><g stroke="#ffa927"><use href="#p11_2"/></g><g stroke="#eaeaaf"><use href="#p12_1"/></g><g stroke="#f8ed71"><use href="#p12_2"/></g><g stroke="#f9791f"><use href="#p13_0"/><use href="#p14_0"/><use href="#p15_0"/><use href="#p16_0"/><use href="#p17_0"/><use href="#p18_0"/><use href="#p19_0"/></g><g stroke="#e84217"><use href="#p13_1"/><use href="#p14_1"/><use href="#p15_1"/><use href="#p16_1"/><use href="#p17_1"/><use href="#p18_1"/><use href="#p19_1"/></g><g stroke="#c91b10"><use href="#p13_2"/><use href="#p14_2"/><use href="#p15_2"/><use href="#p16_2"/><use href="#p17_2"/><use href="#p18_2"/><use href="#p19_2"/></g><g stroke="#ffc132"><use href="#p21_0"/><use href="#p24_0"/><use href="#p34_0"/><use href="#p35_0"/><use href="#p36_0"/><use href="#p37_0"/></g><g stroke="#fc8c22"><use href="#p21_1"/><use href="#p24_1"/><use href="#p34_1"/><use href="#p35_1"/><use href="#p36_1"/><use href="#p37_1"/></g><g stroke="#f15019"><use href="#p21_2"/><use href="#p24_2"/><use href="#p34_2"/><use href="#p35_2"/><use href="#p36_2"/><use href="#p37_2"/></g><g stroke="#ffa827"><use href="#p26_0"/><use href="#p27_0"/><use href="#p29_0"/><use href="#p30_0"/><use href="#p31_0"/></g><g stroke="#f76a1d"><use href="#p26_1"/><use href="#p27_1"/><use href="#p29_1"/><use href="#p30_1"/><use href="#p31_1"/></g><g stroke="#e23815"><use href="#p26_2"/><use href="#p27_2"/><use href="#p29_2"/><use href="#p30_2"/><use href="#p31_2"/></g><g stroke="#f86f1e"><use href="#p28_0"/><use href="#p32_0"/><use href="#p33_0"/></g><g stroke="#e43b16"><use href="#p28_1"/><use href="#p32_1"/><use href="#p33_1"/></g><g stroke="#c11910"><use href="#p28_2"/><use href="#p32_2"/><use href="#p33_2"/></g></g>
<g transform="translate(311.6 575.4) scale(0.4991 0.5014)" stroke-linecap="round" stroke-width="6.3" fill="none"><g fill="#dedede" fill-opacity="0.5" stroke="none"><use href="#c0"/><use href="#c1"/><use href="#c2"/><use href="#c3"/><use href="#c4"/><use href="#c5"/><use href="#c6"/><use href="#c7"/><use href="#c8"/><use href="#c9"/><use href="#c10"/><use href="#c11"/><use href="#c12"/><use href="#c13"/><use href="#c14"/><use href="#c15"/><use href="#c16"/><use href="#c17"/><use href="#c18"/><use href="#c19"/><use href="#c26"/><use href="#c27"/><use href="#c28"/><use href="#c29"/><use href="#c30"/><use href="#c31"/><use href="#c32"/><use href="#c33"/></g><g fill="#e84217" fill-opacity="0.5" stroke="none"><use href="#c20"/><use href="#c23"/><use href="#c24"/><use href="#c36"/><use href="#c37"/></g><g fill="#d72712" fill-opacity="0.5" stroke="none"><use href="#c21"/><use href="#c22"/><use href="#c25"/></g><g fill="#faea65" fill-opacity="0.5" stroke="none"><use href="#c34"/><use href="#c35"/></g><g stroke="#dedede"><use href="#p0_0"/><use href="#p0_1"/><use href="#p1_0"/><use href="#p1_1"/><use href="#p2_0"/><use href="#p2_1"/><use href="#p3_0"/><use href="#p3_1"/><use href="#p4_0"/><use href="#p4_1"/><use href="#p5_0"/><use href="#p5_1"/><use href="#p6_0"/><use href="#p6_1"/><use href="#p7_0"/><use href="#p7_1"/><use href="#p8_0"/><use href="#p8_1"/><use href="#p9_0"/><use href="#p9_1"/><use href="#p10_0"/><use href="#p10_1"/><use href="#p11_0"/><use href="#p11_1"/><use href="#p12_0"/><use href="#p12_1"/><use href="#p13_0"/><use href="#p14_0"/><use href="#p15_0"/><use href="#p16_0"/><use href="#p17_0"/><use href="#p18_0"/><use href="#p19_0"/><use href="#p26_0"/><use href="#p27_0"/><use href="#p28_0"/><use href="#p29_0"/><use href="#p30_0"/><use href="#p31_0"/><use href="#p32_0"/><use href="#p33_0"/></g><g stroke="#f0f097"><use href="#p0_2"/><use href="#p1_2"/><use href="#p2_2"/><use href="#p3_2"/><use href="#p4_2"/><use href="#p5_2"/><use href="#p6_2"/><use href="#p7_2"/><use href="#p8_2"/><use href="#p9_2"/><use href="#p10_2"/><use href="#p11_2"/><use href="#p12_2"/></g><g stroke="#eaeab1"><use href="#p13_1"/><use href="#p14_1"/><use href="#p15_1"/><use href="#p16_1"/><use href="#p17_1"/><use href="#p18_1"/><use href="#p19_1"/></g><g stroke="#f5f284"><use href="#p13_2"/><use href="#p14_2"/><use href="#p15_2"/><use href="#p16_2"/><use href="#p17_2"/><use href="#p18_2"/><use href="#p19_2"/></g><g stroke="#e84217"><use href="#p20_0"/><use href="#p23_0"/><use href="#p24_0"/><use href="#p36_0"/><use href="#p37_0"/></g><g stroke="#f8741e"><use href="#p20_1"/><use href="#p23_1"/><use href="#p24_1"/></g><g stroke="#ffab28"><use href="#p20_2"/><use href="#p23_2"/><use href="#p24_2"/></g><g stroke="#d72712"><use href="#p21_0"/><use href="#p22_0"/><use href="#p25_0"/></g><g stroke="#f15019"><use href="#p21_1"/><use href="#p22_1"/><use href="#p25_1"/></g><g stroke="#fb8721"><use href="#p21_2"/><use href="#p22_2"/><use href="#p25_2"/></g><g stroke="#e8e8b8"><use href="#p26_1"/><use href="#p27_1"/><use href="#p28_1"/><use href="#p29_1"/><use href="#p30_1"/><use href="#p31_1"/><use href="#p32_1"/><use href="#p33_1"/></g><g stroke="#f2f292"><use href="#p26_2"/><use href="#p27_2"/><use href="#p28_2"/><use href="#p29_2"/><use href="#p30_2"/><use href="#p31_2"/><use href="#p32_2"/><use href="#p33_2"/></g><g stroke="#faea65"><use href="#p34_0"/><use href="#p35_0"/></g><g stroke="#ffda3d"><use href="#p34_1"/><use href="#p35_1"/></g><g stroke="#ffb62d"><use href="#p34_2"/><use href="#p35_2"/></g><g stroke="#f76a1d"><use href="#p36_1"/><use href="#p37_1"/></g><g stroke="#fe9a24"><use href="#p36_2"/><use href="#p37_2"/></g></g>
<g transform="translate(615.6 575.4) scale(0.5014 0.5014)" stroke-linecap="round" stroke-width="6.3" fill="none"><g fill="#c51a10" fill-opacity="0.5" stroke="none"><use href="#c0"/><use href="#c2"/><use href="#c3"/><use href="#c4"/><use href="#c5"/><use href="#c7"/><use href="#c8"/><use href="#c11"/><use href="#c12"/></g><g fill="#e43b16" fill-opacity="0.5" stroke="none"><use href="#c1"/><use href="#c6"/><use href="#c10"/></g><g fill="#fa7e20" fill-opacity="0.5" stroke="none"><use href="#c9"/></g><g fill="#ffd63c" fill-opacity="0.5" stroke="none"><use href="#c13"/><use href="#c14"/><use href="#c15"/><use href="#c16"/><use href="#c17"/><use href="#c18"/><use href="#c19"/></g><g fill="#f8ee72" fill-opacity="0.5" stroke="none"><use href="#c20"/><use href="#c25"/></g><g fill="#ffa425" fill-opacity="0.5" stroke="none"><use href="#c21"/><use href="#c22"/><use href="#c23"/><use href="#c24"/></g><g fill="#e7e7bb" fill-opacity="0.5" stroke="none"><use href="#c26"/><use href="#c27"/><use href="#c28"/><use href="#c29"/><use href="#c30"/><use href="#c31"/><use href="#c32"/><use href="#c33"/></g><g fill="#e5e5c5" fill-opacity="0.5" stroke="none"><use href="#c34"/><use href="#c35"/><use href="#c36"/><use href="#c37"/></g><g stroke="#c51a10"><use href="#p0_0"/><use href="#p2_0"/><use href="#p3_0"/><use href="#p4_0"/><use href="#p5_0"/><use href="#p7_0"/><use href="#p8_0"/><use href="#p11_0"/><use href="#p12_0"/></g><g stroke="#d92b13"><use href="#p0_1"/><use href="#p2_1"/><use href="#p3_1"/><use href="#p4_1"/><use href="#p5_1"/><use href="#p7_1"/><use href="#p8_1"/><use href="#p11_1"/><use href="#p12_1"/></g><g stroke="#e84217"><use href="#p0_2"/><use href="#p2_2"/><use href="#p3_2"/><use href="#p4_2"/><use href="#p5_2"/><use href="#p7_2"/><use href="#p8_2"/><use href="#p11_2"/><use href="#p12_2"/></g><g stroke="#e43b16"><use href="#p1_0"/><use href="#p6_0"/><use href="#p10_0"/></g><g stroke="#f3531a"><use href="#p1_1"/><use href="#p6_1"/><use href="#p10_1"/></g><g stroke="#f8741e"><use href="#p1_2"/><use href="#p6_2"/><use href="#p10_2"/></g><g stroke="#fa7e20"><use href="#p9_0"/><use href="#p21_1"/><use href="#p22_1"/><use href="#p23_1"/><use href="#p24_1"/></g><g stroke="#fe9f24"><use href="#p9_1"/></g><g stroke="#ffba2f"><use href="#p9_2"/></g><g stroke="#ffd63c"><use href="#p13_0"/><use href="#p14_0"/><use href="#p15_0"/><use href="#p16_0"/><use href="#p17_0"/><use href="#p18_0"/><use href="#p19_0"/></g><g stroke="#ffb22b"><use href="#p13_1"/><use href="#p14_1"/><use href="#p15_1"/><use href="#p16_1"/><use href="#p17_1"/><use href="#p18_1"/><use href="#p19_1"/></g><g stroke="#fb8721"><use href="#p13_2"/><use href="#p14_2"/><use href="#p15_2"/><use href="#p16_2"/><use href="#p17_2"/><use href="#p18_2"/><use href="#p19_2"/></g><g stroke="#f8ee72"><use href="#p20_0"/><use href="#p25_0"/></g><g stroke="#fde44f"><use href="#p20_1"/><use href="#p25_1"/></g><g stroke="#ffcf38"><use href="#p20_2"/><use href="#p25_2"/></g><g stroke="#ffa425"><use href="#p21_0"/><use href="#p22_0"/><use href="#p23_0"/><use href="#p24_0"/></g><g stroke="#f4571a"><use href="#p21_2"/><use href="#p22_2"/><use href="#p23_2"/><use href="#p24_2"/></g><g stroke="#e7e7bb"><use href="#p26_0"/><use href="#p27_0"/><use href="#p28_0"/><use href="#p29_0"/><use href="#p30_0"/><use href="#p31_0"/><use href="#p32_0"/><use href="#p33_0"/></g><g stroke="#f0f097"><use href="#p26_1"/><use href="#p27_1"/><use href="#p28_1"/><use href="#p29_1"/><use href="#p30_1"/><use href="#p31_1"/><use href="#p32_1"/><use href="#p33_1"/></g><g stroke="#f7ef77"><use href="#p26_2"/><use href="#p27_2"/><use href="#p28_2"/><use href="#p29_2"/><use href="#p30_2"/><use href="#p31_2"/><use href="#p32_2"/><use href="#p33_2"/></g><g stroke="#e5e5c5"><use href="#p34_0"/><use href="#p35_0"/><use href="#p36_0"/><use href="#p37_0"/></g><g stroke="#eeeea2"><use href="#p34_1"/><use href="#p35_1"/><use href="#p36_1"/><use href="#p37_1"/></g><g stroke="#f6f180"><use href="#p34_2"/><use href="#p35_2"/><use href="#p36_2"/><use href="#p37_2"/></g></g>
<g transform="translate(24.5 848.1) scale(0.5200 0.5139)" stroke-linecap="round" stroke-width="6.3" fill="none"><g fill="#55c832" fill-opacity="0.5" stroke="none"><use href="#c0"/><use href="#c2"/><use href="#c3"/><use href="#c12"/></g><g fill="#d39229" fill-opacity="0.5" stroke="none"><use href="#c1"/><use href="#c4"/><use href="#c5"/><use href="#c6"/><use href="#c13"/></g><g fill="#ee6c6c" fill-opacity="0.5" stroke="none"><use href="#c7"/><use href="#c11"/><use href="#c15"/><use href="#c16"/><use href="#c18"/></g><g fill="#9a8cf0" fill-opacity="0.5" stroke="none"><use href="#c8"/><use href="#c9"/><use href="#c10"/><use href="#c19"/></g><g fill="#ea76f0" fill-opacity="0.5" stroke="none"><use href="#c14"/><use href="#c17"/><use href="#c31"/></g><g fill="#42cc7e" fill-opacity="0.5" stroke="none"><use href="#c20"/><use href="#c22"/><use href="#c25"/></g><g fill="#44c9c4" fill-opacity="0.5" stroke="none"><use href="#c21"/><use href="#c23"/><use href="#c24"/></g><g fill="#a8a222" fill-opacity="0.5" stroke="none"><use href="#c26"/><use href="#c27"/><use href="#c29"/><use href="#c30"/></g><g fill="#f562c4" fill-opacity="0.5" stroke="none"><use href="#c28"/><use href="#c32"/><use href="#c33"/><use href="#c34"/></g><g fill="#52b4f2" fill-opacity="0.5" stroke="none"><use href="#c35"/><use href="#c36"/><use href="#c37"/></g><g stroke="#55c832"><use href="#p0_0"/><use href="#p0_1"/><use href="#p0_2"/><use href="#p2_0"/><use href="#p2_1"/><use href="#p2_2"/><use href="#p3_0"/><use href="#p3_1"/><use href="#p3_2"/><use href="#p12_0"/><use href="#p12_1"/><use href="#p12_2"/></g><g stroke="#d39229"><use href="#p1_0"/><use href="#p1_1"/><use href="#p1_2"/><use href="#p4_0"/><use href="#p4_1"/><use href="#p4_2"/><use href="#p5_0"/><use href="#p5_1"/><use href="#p5_2"/><use href="#p6_0"/><use href="#p6_1"/><use href="#p6_2"/><use href="#p13_0"/><use href="#p13_1"/><use href="#p13_2"/></g><g stroke="#ee6c6c"><use href="#p7_0"/><use href="#p7_1"/><use href="#p7_2"/><use href="#p11_0"/><use href="#p11_1"/><use href="#p11_2"/><use href="#p15_0"/><use href="#p15_1"/><use href="#p15_2"/><use href="#p16_0"/><use href="#p16_1"/><use href="#p16_2"/><use href="#p18_0"/><use href="#p18_1"/><use href="#p18_2"/></g><g stroke="#9a8cf0"><use href="#p8_0"/><use href="#p8_1"/><use href="#p8_2"/><use href="#p9_0"/><use href="#p9_1"/><use href="#p9_2"/><use href="#p10_0"/><use href="#p10_1"/><use href="#p10_2"/><use href="#p19_0"/><use href="#p19_1"/><use href="#p19_2"/></g><g stroke="#ea76f0"><use href="#p14_0"/><use href="#p14_1"/><use href="#p14_2"/><use href="#p17_0"/><use href="#p17_1"/><use href="#p17_2"/><use href="#p31_0"/><use href="#p31_1"/><use href="#p31_2"/></g><g stroke="#42cc7e"><use href="#p20_0"/><use href="#p20_1"/><use href="#p20_2"/><use href="#p22_0"/><use href="#p22_1"/><use href="#p22_2"/><use href="#p25_0"/><use href="#p25_1"/><use href="#p25_2"/></g><g stroke="#44c9c4"><use href="#p21_0"/><use href="#p21_1"/><use href="#p21_2"/><use href="#p23_0"/><use href="#p23_1"/><use href="#p23_2"/><use href="#p24_0"/><use href="#p24_1"/><use href="#p24_2"/></g><g stroke="#a8a222"><use href="#p26_0"/><use href="#p26_1"/><use href="#p26_2"/><use href="#p27_0"/><use href="#p27_1"/><use href="#p27_2"/><use href="#p29_0"/><use href="#p29_1"/><use href="#p29_2"/><use href="#p30_0"/><use href="#p30_1"/><use href="#p30_2"/></g><g stroke="#f562c4"><use href="#p28_0"/><use href="#p28_1"/><use href="#p28_2"/><use href="#p32_0"/><use href="#p32_1"/><use href="#p32_2"/><use href="#p33_0"/><use href="#p33_1"/><use href="#p33_2"/><use href="#p34_0"/><use href="#p34_1"/><use href="#p34_2"/></g><g stroke="#52b4f2"><use href="#p35_0"/><use href="#p35_1"/><use href="#p35_2"/><use href="#p36_0"/><use href="#p36_1"/><use href="#p36_2"/><use href="#p37_0"/><use href="#p37_1"/><use href="#p37_2"/></g></g>
<g transform="translate(302.4 856.3) scale(0.5075 0.5077)" stroke-linecap="round" stroke-width="6.3" fill="none"><g fill="#4ccd3f" fill-opacity="0.5" stroke="none"><use href="#c0"/><use href="#c1"/><use href="#c2"/><use href="#c3"/><use href="#c4"/><use href="#c5"/><use href="#c6"/><use href="#c7"/><use href="#c8"/><use href="#c9"/><use href="#c10"/><use href="#c11"/><use href="#c12"/></g><g fill="#ea6b69" fill-opacity="0.5" stroke="none"><use href="#c13"/><use href="#c14"/><use href="#c15"/><use href="#c16"/><use href="#c17"/><use href="#c18"/><use href="#c19"/><use href="#c20"/><use href="#c21"/><use href="#c22"/><use href="#c23"/><use href="#c24"/><use href="#c25"/><use href="#c26"/><use href="#c27"/><use href="#c28"/><use href="#c29"/><use href="#c30"/><use href="#c31"/><use href="#c32"/><use href="#c33"/><use href="#c34"/><use href="#c35"/><use href="#c36"/><use href="#c37"/></g><g stroke="#4ccd3f"><use href="#p0_0"/><use href="#p0_1"/><use href="#p1_0"/><use href="#p1_1"/><use href="#p2_0"/><use href="#p2_1"/><use href="#p2_2"/><use href="#p3_0"/><use href="#p3_1"/><use href="#p4_0"/><use href="#p4_1"/><use href="#p4_2"/><use href="#p5_0"/><use href="#p5_1"/><use href="#p5_2"/><use href="#p6_0"/><use href="#p6_1"/><use href="#p7_0"/><use href="#p8_0"/><use href="#p8_1"/><use href="#p8_2"/><use href="#p9_0"/><use href="#p10_0"/><use href="#p10_2"/><use href="#p11_0"/><use href="#p11_2"/><use href="#p12_0"/><use href="#p12_1"/><use href="#p20_1"/><use href="#p21_1"/><use href="#p22_1"/><use href="#p23_1"/><use href="#p24_1"/><use href="#p25_1"/></g><g stroke="#74a3f3"><use href="#p0_2"/><use href="#p1_2"/><use href="#p3_2"/><use href="#p6_2"/><use href="#p7_2"/><use href="#p9_2"/><use href="#p12_2"/><use href="#p13_2"/><use href="#p14_2"/><use href="#p15_2"/><use href="#p16_2"/><use href="#p17_2"/><use href="#p18_2"/><use href="#p20_2"/><use href="#p22_2"/><use href="#p24_2"/><use href="#p26_2"/><use href="#p28_2"/><use href="#p30_2"/><use href="#p32_2"/><use href="#p37_2"/></g><g stroke="#ea6b69"><use href="#p7_1"/><use href="#p9_1"/><use href="#p10_1"/><use href="#p11_1"/><use href="#p13_0"/><use href="#p13_1"/><use href="#p14_0"/><use href="#p14_1"/><use href="#p15_0"/><use href="#p15_1"/><use href="#p16_0"/><use href="#p16_1"/><use href="#p17_0"/><use href="#p17_1"/><use href="#p18_0"/><use href="#p18_1"/><use href="#p19_0"/><use href="#p19_1"/><use href="#p19_2"/><use href="#p20_0"/><use href="#p21_0"/><use href="#p21_2"/><use href="#p22_0"/><use href="#p23_0"/><use href="#p23_2"/><use href="#p24_0"/><use href="#p25_0"/><use href="#p25_2"/><use href="#p26_0"/><use href="#p26_1"/><use href="#p27_0"/><use href="#p27_1"/><use href="#p27_2"/><use href="#p28_0"/><use href="#p28_1"/><use href="#p29_0"/><use href="#p29_1"/><use href="#p29_2"/><use href="#p30_0"/><use href="#p30_1"/><use href="#p31_0"/><use href="#p31_1"/><use href="#p31_2"/><use href="#p32_0"/><use href="#p32_1"/><use href="#p33_0"/><use href="#p33_1"/><use href="#p33_2"/><use href="#p34_0"/><use href="#p34_1"/><use href="#p34_2"/><use href="#p35_0"/><use href="#p35_1"/><use href="#p35_2"/><use href="#p36_0"/><use href="#p36_1"/><use href="#p36_2"/><use href="#p37_0"/><use href="#p37_1"/></g></g>
<g transform="translate(610.2 856.3) scale(0.5261 0.4952)" stroke-linecap="round" stroke-width="6.3" fill="none"><g fill="#450d5f" fill-opacity="0.6" stroke="none"><use href="#c0"/></g><g fill="#3c4f89" fill-opacity="0.6" stroke="none"><use href="#c1"/><use href="#c10"/></g><g fill="#462c79" fill-opacity="0.6" stroke="none"><use href="#c2"/></g><g fill="#471c6d" fill-opacity="0.6" stroke="none"><use href="#c3"/></g><g fill="#45327d" fill-opacity="0.6" stroke="none"><use href="#c4"/></g><g fill="#433b82" fill-opacity="0.6" stroke="none"><use href="#c5"/></g><g fill="#39578b" fill-opacity="0.6" stroke="none"><use href="#c6"/></g><g fill="#3d4d89" fill-opacity="0.6" stroke="none"><use href="#c7"/></g><g fill="#45337d" fill-opacity="0.6" stroke="none"><use href="#c8"/></g><g fill="#365d8c" fill-opacity="0.6" stroke="none"><use href="#c9"/></g><g fill="#424085" fill-opacity="0.6" stroke="none"><use href="#c11"/></g><g fill="#47186a" fill-opacity="0.6" stroke="none"><use href="#c12"/></g><g fill="#31678d" fill-opacity="0.6" stroke="none"><use href="#c13"/></g><g fill="#2b768e" fill-opacity="0.6" stroke="none"><use href="#c14"/></g><g fill="#34628d" fill-opacity="0.6" stroke="none"><use href="#c15"/></g><g fill="#2d728e" fill-opacity="0.6" stroke="none"><use href="#c16"/><use href="#c19"/></g><g fill="#287c8e" fill-opacity="0.6" stroke="none"><use href="#c17"/></g><g fill="#33638d" fill-opacity="0.6" stroke="none"><use href="#c18"/></g><g fill="#2eb07d" fill-opacity="0.6" stroke="none"><use href="#c20"/></g><g fill="#21988a" fill-opacity="0.6" stroke="none"><use href="#c21"/></g><g fill="#22a286" fill-opacity="0.6" stroke="none"><use href="#c22"/><use href="#c23"/></g><g fill="#21968a" fill-opacity="0.6" stroke="none"><use href="#c24"/></g><g fill="#2bae7f" fill-opacity="0.6" stroke="none"><use href="#c25"/></g><g fill="#3cba75" fill-opacity="0.6" stroke="none"><use href="#c26"/></g><g fill="#80d24d" fill-opacity="0.6" stroke="none"><use href="#c27"/></g><g fill="#37b678" fill-opacity="0.6" stroke="none"><use href="#c28"/></g><g fill="#65ca5d" fill-opacity="0.6" stroke="none"><use href="#c29"/></g><g fill="#4fc369" fill-opacity="0.6" stroke="none"><use href="#c30"/></g><g fill="#2cae7e" fill-opacity="0.6" stroke="none"><use href="#c31"/></g><g fill="#4ec26a" fill-opacity="0.6" stroke="none"><use href="#c32"/></g><g fill="#6dcd59" fill-opacity="0.6" stroke="none"><use href="#c33"/></g><g fill="#d0e126" fill-opacity="0.6" stroke="none"><use href="#c34"/><use href="#c36"/><use href="#c37"/></g><g fill="#7ad151" fill-opacity="0.6" stroke="none"><use href="#c35"/></g><g stroke="#450d5f"><use href="#p0_0"/><use href="#p0_1"/><use href="#p0_2"/></g><g stroke="#3c4f89"><use href="#p1_0"/><use href="#p1_1"/><use href="#p1_2"/><use href="#p10_0"/><use href="#p10_1"/><use href="#p10_2"/></g><g stroke="#462c79"><use href="#p2_0"/><use href="#p2_1"/><use href="#p2_2"/></g><g stroke="#471c6d"><use href="#p3_0"/><use href="#p3_1"/><use href="#p3_2"/></g><g stroke="#45327d"><use href="#p4_0"/><use href="#p4_1"/><use href="#p4_2"/></g><g stroke="#433b82"><use href="#p5_0"/><use href="#p5_1"/><use href="#p5_2"/></g><g stroke="#39578b"><use href="#p6_0"/><use href="#p6_1"/><use href="#p6_2"/></g><g stroke="#3d4d89"><use href="#p7_0"/><use href="#p7_1"/><use href="#p7_2"/></g><g stroke="#45337d"><use href="#p8_0"/><use href="#p8_1"/><use href="#p8_2"/></g><g stroke="#365d8c"><use href="#p9_0"/><use href="#p9_1"/><use href="#p9_2"/></g><g stroke="#424085"><use href="#p11_0"/><use href="#p11_1"/><use href="#p11_2"/></g><g stroke="#47186a"><use href="#p12_0"/><use href="#p12_1"/><use href="#p12_2"/></g><g stroke="#31678d"><use href="#p13_0"/><use href="#p13_1"/><use href="#p13_2"/></g><g stroke="#2b768e"><use href="#p14_0"/><use href="#p14_1"/><use href="#p14_2"/></g><g stroke="#34628d"><use href="#p15_0"/><use href="#p15_1"/><use href="#p15_2"/></g><g stroke="#2d728e"><use href="#p16_0"/><use href="#p16_1"/><use href="#p16_2"/><use href="#p19_0"/><use href="#p19_1"/><use href="#p19_2"/></g><g stroke="#287c8e"><use href="#p17_0"/><use href="#p17_1"/><use href="#p17_2"/></g><g stroke="#33638d"><use href="#p18_0"/><use href="#p18_1"/><use href="#p18_2"/></g><g stroke="#2eb07d"><use href="#p20_0"/><use href="#p20_1"/><use href="#p20_2"/></g><g stroke="#21988a"><use href="#p21_0"/><use href="#p21_1"/><use href="#p21_2"/></g><g stroke="#22a286"><use href="#p22_0"/><use href="#p22_1"/><use href="#p22_2"/><use href="#p23_0"/><use href="#p23_1"/><use href="#p23_2"/></g><g stroke="#21968a"><use href="#p24_0"/><use href="#p24_1"/><use href="#p24_2"/></g><g stroke="#2bae7f"><use href="#p25_0"/><use href="#p25_1"/><use href="#p25_2"/></g><g stroke="#3cba75"><use href="#p26_0"/><use href="#p26_1"/><use href="#p26_2"/></g><g stroke="#80d24d"><use href="#p27_0"/><use href="#p27_1"/><use href="#p27_2"/></g><g stroke="#37b678"><use href="#p28_0"/><use href="#p28_1"/><use href="#p28_2"/></g><g stroke="#65ca5d"><use href="#p29_0"/><use href="#p29_1"/><use href="#p29_2"/></g><g stroke="#4fc369"><use href="#p30_0"/><use href="#p30_1"/><use href="#p30_2"/></g><g stroke="#2cae7e"><use href="#p31_0"/><use href="#p31_1"/><use href="#p31_2"/></g><g stroke="#4ec26a"><use href="#p32_0"/><use href="#p32_1"/><use href="#p32_2"/></g><g stroke="#6dcd59"><use href="#p33_0"/><use href="#p33_1"/><use href="#p33_2"/></g><g stroke="#d0e126"><use href="#p34_0"/><use href="#p34_1"/><use href="#p34_2"/><use href="#p36_0"/><use href="#p36_1"/><use href="#p36_2"/><use href="#p37_0"/><use href="#p37_1"/><use href="#p37_2"/></g><g stroke="#7ad151"><use href="#p35_0"/><use href="#p35_1"/><use href="#p35_2"/></g></g>
<g transform="translate(40.9 1131.8) scale(0.4889 0.4989)" stroke-linecap="round" stroke-width="6.3" fill="none"><g fill="#bebebe" fill-opacity="0.3" stroke="none"><use href="#c1"/><use href="#c6"/><use href="#c7"/><use href="#c10"/><use href="#c11"/><use href="#c20"/><use href="#c21"/><use href="#c22"/><use href="#c23"/><use href="#c24"/><use href="#c25"/><use href="#c31"/><use href="#c34"/><use href="#c35"/></g><g fill="#bebebe" fill-opacity="0.6" stroke="none"><use href="#c13"/><use href="#c14"/><use href="#c15"/><use href="#c16"/><use href="#c17"/><use href="#c18"/><use href="#c19"/></g><g fill="#6ff2f2" fill-opacity="0.3" stroke="none"><use href="#c26"/><use href="#c27"/><use href="#c28"/><use href="#c29"/><use href="#c30"/><use href="#c32"/><use href="#c33"/><use href="#c36"/><use href="#c37"/></g><g stroke="#bebebe"><use href="#p0_0"/><use href="#p1_0"/><use href="#p1_1"/><use href="#p2_0"/><use href="#p3_0"/><use href="#p4_0"/><use href="#p5_0"/><use href="#p6_0"/><use href="#p6_1"/><use href="#p7_0"/><use href="#p7_1"/><use href="#p8_0"/><use href="#p9_0"/><use href="#p10_0"/><use href="#p10_1"/><use href="#p11_0"/><use href="#p11_1"/><use href="#p12_0"/><use href="#p13_0"/><use href="#p13_1"/><use href="#p13_2"/><use href="#p14_0"/><use href="#p14_1"/><use href="#p14_2"/><use href="#p15_0"/><use href="#p15_1"/><use href="#p15_2"/><use href="#p16_0"/><use href="#p16_1"/><use href="#p16_2"/><use href="#p17_0"/><use href="#p17_1"/><use href="#p17_2"/><use href="#p18_0"/><use href="#p18_1"/><use href="#p18_2"/><use href="#p19_0"/><use href="#p19_1"/><use href="#p19_2"/><use href="#p20_0"/><use href="#p20_1"/><use href="#p21_0"/><use href="#p21_1"/><use href="#p22_0"/><use href="#p22_1"/><use href="#p23_0"/><use href="#p23_1"/><use href="#p24_0"/><use href="#p24_1"/><use href="#p25_0"/><use href="#p25_1"/><use href="#p26_1"/><use href="#p26_2"/><use href="#p27_2"/><use href="#p28_1"/><use href="#p28_2"/><use href="#p29_2"/><use href="#p30_2"/><use href="#p31_0"/><use href="#p31_1"/><use href="#p31_2"/><use href="#p32_2"/><use href="#p33_2"/><use href="#p34_0"/><use href="#p34_1"/><use href="#p35_0"/><use href="#p35_1"/><use href="#p36_1"/><use href="#p36_2"/><use href="#p37_1"/><use href="#p37_2"/></g><g stroke="#6ff2f2"><use href="#p26_0"/><use href="#p27_0"/><use href="#p27_1"/><use href="#p28_0"/><use href="#p29_0"/><use href="#p29_1"/><use href="#p30_0"/><use href="#p30_1"/><use href="#p32_0"/><use href="#p32_1"/><use href="#p33_0"/><use href="#p33_1"/><use href="#p36_0"/><use href="#p37_0"/></g></g>
<g transform="translate(321.4 1131.8) scale(0.4891 0.4989)" stroke-linecap="round" stroke-width="6.3" fill="none"><g fill="#bebebe" fill-opacity="0.3" stroke="none"><use href="#c1"/><use href="#c6"/><use href="#c7"/><use href="#c10"/><use href="#c11"/><use href="#c20"/><use href="#c21"/><use href="#c22"/><use href="#c23"/><use href="#c24"/><use href="#c25"/><use href="#c27"/></g><g fill="#bebebe" fill-opacity="0.6" stroke="none"><use href="#c13"/><use href="#c14"/><use href="#c15"/><use href="#c16"/><use href="#c17"/><use href="#c18"/><use href="#c19"/></g><g fill="#f0654e" fill-opacity="0.3" stroke="none"><use href="#c26"/><use href="#c28"/><use href="#c29"/><use href="#c30"/><use href="#c31"/><use href="#c32"/><use href="#c33"/><use href="#c34"/><use href="#c35"/><use href="#c36"/><use href="#c37"/></g><g stroke="#bebebe"><use href="#p0_0"/><use href="#p1_0"/><use href="#p1_1"/><use href="#p2_0"/><use href="#p3_0"/><use href="#p4_0"/><use href="#p5_0"/><use href="#p6_0"/><use href="#p6_1"/><use href="#p7_0"/><use href="#p7_1"/><use href="#p8_0"/><use href="#p9_0"/><use href="#p10_0"/><use href="#p10_1"/><use href="#p11_0"/><use href="#p11_1"/><use href="#p12_0"/><use href="#p13_0"/><use href="#p13_1"/><use href="#p13_2"/><use href="#p14_0"/><use href="#p14_1"/><use href="#p14_2"/><use href="#p15_0"/><use href="#p15_1"/><use href="#p15_2"/><use href="#p16_0"/><use href="#p16_1"/><use href="#p16_2"/><use href="#p17_0"/><use href="#p17_1"/><use href="#p17_2"/><use href="#p18_0"/><use href="#p18_1"/><use href="#p18_2"/><use href="#p19_0"/><use href="#p19_1"/><use href="#p19_2"/><use href="#p20_0"/><use href="#p20_1"/><use href="#p21_0"/><use href="#p21_1"/><use href="#p22_0"/><use href="#p22_1"/><use href="#p23_0"/><use href="#p23_1"/><use href="#p24_0"/><use href="#p24_1"/><use href="#p25_0"/><use href="#p25_1"/><use href="#p26_2"/><use href="#p27_0"/><use href="#p27_1"/><use href="#p27_2"/><use href="#p28_2"/><use href="#p29_2"/><use href="#p30_2"/><use href="#p31_2"/><use href="#p32_2"/><use href="#p33_2"/><use href="#p34_2"/><use href="#p35_2"/><use href="#p36_2"/><use href="#p37_2"/></g><g stroke="#f0654e"><use href="#p26_0"/><use href="#p26_1"/><use href="#p28_0"/><use href="#p28_1"/><use href="#p29_0"/><use href="#p29_1"/><use href="#p30_0"/><use href="#p30_1"/><use href="#p31_0"/><use href="#p31_1"/><use href="#p32_0"/><use href="#p32_1"/><use href="#p33_0"/><use href="#p33_1"/><use href="#p34_0"/><use href="#p34_1"/><use href="#p35_0"/><use href="#p35_1"/><use href="#p36_0"/><use href="#p36_1"/><use href="#p37_0"/><use href="#p37_1"/></g></g>
<g transform="translate(615.6 1123.6) scale(0.5014 0.4952)" stroke-linecap="round" stroke-width="6.3" fill="none"><g fill="#bebebe" fill-opacity="0.9" stroke="none"><use href="#c0"/><use href="#c1"/><use href="#c2"/><use href="#c3"/><use href="#c4"/><use href="#c5"/><use href="#c6"/><use href="#c7"/><use href="#c8"/><use href="#c9"/><use href="#c10"/><use href="#c11"/><use href="#c12"/><use href="#c13"/><use href="#c14"/><use href="#c15"/><use href="#c16"/><use href="#c17"/><use href="#c18"/><use href="#c19"/><use href="#c20"/><use href="#c21"/><use href="#c22"/><use href="#c23"/><use href="#c24"/><use href="#c25"/><use href="#c26"/><use href="#c27"/><use href="#c28"/><use href="#c29"/><use href="#c30"/><use href="#c31"/><use href="#c32"/><use href="#c33"/><use href="#c34"/><use href="#c35"/><use href="#c36"/><use href="#c37"/></g><g stroke="#bebebe"><use href="#p0_0"/><use href="#p0_1"/><use href="#p0_2"/><use href="#p1_0"/><use href="#p1_1"/><use href="#p1_2"/><use href="#p2_0"/><use href="#p2_1"/><use href="#p2_2"/><use href="#p3_0"/><use href="#p3_1"/><use href="#p3_2"/><use href="#p4_0"/><use href="#p4_1"/><use href="#p4_2"/><use href="#p5_0"/><use href="#p5_1"/><use href="#p5_2"/><use href="#p6_0"/><use href="#p6_1"/><use href="#p6_2"/><use href="#p7_0"/><use href="#p7_1"/><use href="#p7_2"/><use href="#p8_0"/><use href="#p8_1"/><use href="#p8_2"/><use href="#p9_0"/><use href="#p9_1"/><use href="#p9_2"/><use href="#p10_0"/><use href="#p10_1"/><use href="#p10_2"/><use href="#p11_0"/><use href="#p11_1"/><use href="#p11_2"/><use href="#p12_0"/><use href="#p12_1"/><use href="#p12_2"/><use href="#p13_0"/><use href="#p13_1"/><use href="#p13_2"/><use href="#p14_0"/><use href="#p14_1"/><use href="#p14_2"/><use href="#p15_0"/><use href="#p15_1"/><use href="#p15_2"/><use href="#p16_0"/><use href="#p16_1"/><use href="#p16_2"/><use href="#p17_0"/><use href="#p17_1"/><use href="#p17_2"/><use href="#p18_0"/><use href="#p18_1"/><use href="#p18_2"/><use href="#p19_0"/><use href="#p19_1"/><use href="#p19_2"/><use href="#p20_0"/><use href="#p20_1"/><use href="#p20_2"/><use href="#p21_0"/><use href="#p21_1"/><use href="#p21_2"/><use href="#p22_0"/><use href="#p22_1"/><use href="#p22_2"/><use href="#p23_0"/><use href="#p23_1"/><use href="#p23_2"/><use href="#p24_0"/><use href="#p24_1"/><use href="#p24_2"/><use href="#p25_0"/><use href="#p25_1"/><use href="#p25_2"/><use href="#p26_0"/><use href="#p26_1"/><use href="#p26_2"/><use href="#p27_0"/><use href="#p27_1"/><use href="#p27_2"/><use href="#p28_0"/><use href="#p28_1"/><use href="#p28_2"/><use href="#p29_0"/><use href="#p29_1"/><use href="#p29_2"/><use href="#p30_0"/><use href="#p30_1"/><use href="#p30_2"/><use href="#p31_0"/><use href="#p31_1"/><use href="#p31_2"/><use href="#p32_0"/><use href="#p32_1"/><use href="#p32_2"/><use href="#p33_0"/><use href="#p33_1"/><use href="#p33_2"/><use href="#p34_0"/><use href="#p34_1"/><use href="#p34_2"/><use href="#p35_0"/><use href="#p35_1"/><use href="#p35_2"/><use href="#p36_0"/><use href="#p36_1"/><use href="#p36_2"/><use href="#p37_0"/><use href="#p37_1"/><use href="#p37_2"/></g></g>
</g>
<g id="g-misc">
<polygon points="304,96 304,187 474,204 458,168" fill="url(#fan)"/>
<path d="M446.9 127.1C446.9 121.1 447.7 110.5 449.9 102.9C452.2 95.3 456.2 87.3 460.5 81.7C464.8 76.2 469.6 72.5 475.7 69.6C481.7 66.7 490.3 64.4 496.9 64.2C503.4 63.9 509.5 65.4 515.0 68.1C520.6 70.8 526.1 75.4 530.1 80.2C534.2 85.0 536.8 91.6 539.2 96.9C541.6 102.1 544.2 108.4 544.7 112.0C545.2 115.6 544.2 118.2 542.3 118.6C540.3 119.0 536.7 114.3 533.2 114.4C529.6 114.6 524.6 116.9 521.1 119.6C517.5 122.2 515.0 126.4 512.0 130.1C509.0 133.9 505.2 138.2 502.9 142.3C500.6 146.3 505.4 152.6 498.4 154.4C491.3 156.1 468.6 155.4 460.5 152.8C452.5 150.3 452.2 143.5 449.9 139.2C447.7 134.9 446.9 133.2 446.9 127.1Z" fill="#5badf7"/>
<path d="M455.1 147.7C456.6 146.7 461.1 151.5 465.1 151.3C469.0 151.2 474.4 147.3 478.7 146.8C483.0 146.3 487.3 149.3 490.8 148.3C494.3 147.3 498.8 138.2 499.9 140.7C501.0 143.3 498.2 156.6 497.5 163.4C496.7 170.2 494.9 175.5 495.3 181.6C495.7 187.7 498.9 193.2 499.9 199.8C500.9 206.3 502.9 217.0 501.4 220.9C499.9 224.9 494.0 223.4 490.8 223.4C487.6 223.4 484.6 223.4 482.3 220.9C480.1 218.5 479.6 212.4 477.2 208.8C474.8 205.3 471.9 202.5 468.1 199.8C464.3 197.0 456.9 195.2 454.5 192.2C452.1 189.2 453.1 185.1 453.9 181.6C454.6 178.1 458.7 175.0 459.0 171.0C459.4 167.0 456.6 161.3 456.0 157.4C455.3 153.5 453.6 148.7 455.1 147.7Z" fill="#fb37f8"/>
<path d="M581.6 18.2C584.1 13.6 588.7 8.6 593.7 6.1C598.7 3.5 605.8 2.5 611.9 3.0C617.9 3.5 625.5 5.0 630.0 9.1C634.6 13.1 637.1 21.2 639.1 27.2C641.1 33.3 640.1 39.9 642.1 45.4C644.1 50.9 649.3 54.5 651.2 60.5C653.1 66.6 654.1 75.2 653.6 81.7C653.1 88.3 650.6 95.9 648.2 99.9C645.8 103.8 643.1 106.8 639.1 105.3C635.1 103.8 629.0 95.2 624.0 90.8C618.9 86.4 614.9 82.7 608.8 78.7C602.8 74.7 592.4 71.1 587.7 66.6C582.9 62.0 581.6 57.0 580.1 51.5C578.6 45.9 578.3 38.8 578.6 33.3C578.8 27.7 579.1 22.7 581.6 18.2Z" fill="#4bd565"/>
<path d="M524.1 169.5C526.1 164.7 533.7 153.9 539.2 152.8C544.8 151.8 551.3 161.4 557.4 163.4C563.4 165.5 571.0 162.4 575.5 165.0C580.1 167.5 583.6 173.8 584.6 178.6C585.6 183.4 580.1 189.7 581.6 193.7C583.1 197.7 590.3 200.8 593.7 202.8C597.1 204.8 602.2 203.8 602.2 205.8C602.2 207.8 598.1 212.1 593.7 214.9C589.3 217.7 581.6 221.0 575.5 222.5C569.5 223.9 562.9 224.6 557.4 223.4C551.8 222.1 545.8 217.8 542.3 214.9C538.7 212.0 535.7 208.8 536.2 205.8C536.7 202.8 545.8 198.7 545.3 196.7C544.8 194.7 536.2 196.2 533.2 193.7C530.1 191.2 528.6 185.6 527.1 181.6C525.6 177.6 522.1 174.3 524.1 169.5Z" fill="#fb62c4"/>
<path d="M605.2 166.5C605.2 164.7 613.3 170.5 617.9 168.0C622.6 165.5 628.8 155.2 633.1 151.3C637.3 147.4 641.6 142.7 643.6 144.7C645.7 146.7 643.9 156.8 645.2 163.4C646.4 170.1 648.7 179.3 651.2 184.6C653.7 189.9 659.3 192.2 660.3 195.2C661.3 198.2 659.8 201.3 657.3 202.8C654.7 204.3 649.7 206.3 645.2 204.3C640.6 202.3 634.6 195.0 630.0 190.7C625.5 186.4 622.1 182.6 617.9 178.6C613.8 174.5 605.2 168.2 605.2 166.5Z" fill="#fb62c4"/>
<path d="M624.6 133.2C625.7 130.6 629.0 134.2 630.6 136.2C632.3 138.2 634.7 142.3 634.6 145.3C634.5 148.3 631.8 153.3 630.0 154.4C628.3 155.4 624.9 154.9 624.0 151.3C623.1 147.8 623.5 135.7 624.6 133.2Z" fill="#f5f53c"/>
<path d="M581.6 177.1C582.2 176.3 584.6 178.3 586.1 181.6C587.7 184.9 590.7 194.7 590.7 196.7C590.7 198.7 587.5 195.5 586.1 193.7C584.8 191.9 583.3 188.9 582.5 186.1C581.7 183.4 581.0 177.8 581.6 177.1Z" fill="#f5f53c"/>
<path d="M568.0 146.8C568.8 145.9 572.9 146.0 574.0 146.8C575.2 147.5 575.8 150.5 574.9 151.3C574.1 152.2 570.0 152.7 568.9 151.9C567.7 151.2 567.1 147.6 568.0 146.8Z" fill="#f5f53c"/><path d="M571.9 156.8C572.7 155.8 576.9 156.3 578.0 157.4C579.1 158.5 579.4 162.4 578.6 163.4C577.8 164.4 574.2 164.5 573.1 163.4C572.0 162.3 571.1 157.8 571.9 156.8Z" fill="#f5f53c"/><path d="M691.5 107.4C692.2 106.4 695.7 106.4 696.6 107.4C697.6 108.5 698.0 112.5 697.2 113.5C696.5 114.5 693.0 114.5 692.1 113.5C691.1 112.5 690.7 108.5 691.5 107.4Z" fill="#f5f53c"/><path d="M550.7 154.4C551.3 153.6 554.2 153.6 555.0 154.4C555.8 155.1 556.2 158.1 555.6 158.9C555.0 159.7 552.1 159.7 551.3 158.9C550.5 158.1 550.1 155.1 550.7 154.4Z" fill="#f5f53c"/>
<path d="M557.4 127.1C557.9 125.3 560.4 120.6 563.4 119.6C566.5 118.5 573.0 120.1 575.5 121.1C578.1 122.1 579.6 124.1 578.6 125.6C577.6 127.1 572.5 129.3 569.5 130.1C566.5 131.0 562.4 131.3 560.4 130.8C558.4 130.2 556.9 129.0 557.4 127.1Z" fill="#e1812d"/><path d="M586.1 124.1C587.4 121.8 593.6 120.1 596.7 119.6C599.9 119.0 603.7 119.3 605.2 121.1C606.7 122.8 607.2 127.9 605.8 130.1C604.4 132.4 599.5 134.2 596.7 134.7C594.0 135.2 590.9 134.9 589.2 133.2C587.4 131.4 584.9 126.4 586.1 124.1Z" fill="#e1812d"/>
<path d="M669.4 148.3C670.6 144.0 681.0 135.7 684.5 134.7C688.0 133.7 688.3 139.0 690.6 142.3C692.8 145.5 698.1 150.6 698.1 154.4C698.1 158.1 693.3 162.4 690.6 165.0C687.8 167.5 683.7 167.7 681.5 169.5C679.2 171.3 678.2 175.8 676.9 175.5C675.7 175.3 673.9 170.5 673.9 168.0C673.9 165.5 677.7 163.7 676.9 160.4C676.2 157.1 668.1 152.6 669.4 148.3Z" fill="#52d3c0"/>
<path d="M710.2 178.6C710.7 176.3 713.5 173.8 716.3 174.0C719.1 174.3 725.0 177.3 726.9 180.1C728.7 182.9 728.5 187.7 727.5 190.7C726.5 193.7 723.4 197.2 720.8 198.2C718.2 199.3 713.0 198.5 711.7 196.7C710.5 195.0 713.5 190.7 713.3 187.7C713.0 184.6 709.7 180.8 710.2 178.6Z" fill="#8c4a3f"/>
<path d="M639.1 257.3C639.6 253.3 645.2 240.9 648.2 236.1C651.2 231.3 654.5 229.5 657.3 228.5C660.0 227.5 663.3 227.8 664.8 230.0C666.3 232.3 662.8 239.1 666.3 242.1C669.9 245.2 682.5 246.2 686.0 248.2C689.5 250.2 689.8 252.7 687.5 254.2C685.3 255.8 677.4 257.0 672.4 257.3C667.4 257.5 661.8 255.3 657.3 255.8C652.7 256.2 648.2 259.4 645.2 259.7C642.1 259.9 638.6 261.2 639.1 257.3Z" fill="#7b8cf5"/>
<path d="M653.6 240.6C654.1 239.0 656.9 238.1 657.9 239.1C658.9 240.1 660.2 245.1 659.7 246.7C659.2 248.3 655.9 249.8 654.8 248.8C653.8 247.8 653.1 242.2 653.6 240.6Z" fill="#fff"/>
<path d="M545.3 272.4C545.8 270.9 553.3 281.5 557.4 281.5C561.4 281.5 564.4 275.4 569.5 272.4C574.5 269.4 581.6 266.8 587.7 263.3C593.7 259.8 600.9 253.7 605.8 251.2C610.8 248.7 615.5 247.2 617.3 248.2C619.1 249.2 618.3 253.2 616.4 257.3C614.5 261.3 608.8 267.9 605.8 272.4C602.8 276.9 599.0 280.7 598.2 284.5C597.5 288.3 598.5 293.7 601.3 295.1C604.0 296.5 610.9 292.5 614.9 293.0C618.9 293.5 623.2 294.5 625.5 298.1C627.8 301.8 628.8 311.0 628.5 314.8C628.3 318.6 627.2 320.3 624.0 320.8C620.7 321.3 612.6 320.3 608.8 317.8C605.1 315.3 605.8 306.7 601.3 305.7C596.7 304.7 587.9 312.2 581.6 311.7C575.3 311.2 568.0 306.2 563.4 302.7C558.9 299.1 557.4 295.6 554.4 290.6C551.3 285.5 544.8 273.9 545.3 272.4Z" fill="#c49c22"/>
<path d="M684.5 96.2C685.5 94.9 691.9 94.9 695.1 96.2C698.3 97.6 703.1 102.3 703.6 104.4C704.1 106.5 700.5 109.0 698.1 109.0C695.7 109.0 691.3 106.5 689.0 104.4C686.8 102.3 683.5 97.6 684.5 96.2Z" fill="#4bd565"/>
<path d="M581.0 88.4C582.0 86.5 587.6 84.9 589.2 86.3C590.8 87.6 591.7 94.4 590.7 96.2C589.7 98.1 584.7 98.8 583.1 97.5C581.5 96.1 580.0 90.2 581.0 88.4Z" fill="#7d7d7d"/><path d="M520.5 136.8C521.5 136.4 526.0 137.1 527.1 137.7C528.2 138.4 528.1 140.3 527.1 140.7C526.1 141.1 522.2 140.8 521.1 140.1C520.0 139.5 519.5 137.2 520.5 136.8Z" fill="#6f8f8f"/><path d="M559.8 85.7C560.7 85.1 564.9 86.2 565.9 87.2C566.9 88.1 566.8 90.9 565.9 91.4C565.0 91.9 561.4 91.2 560.4 90.2C559.4 89.2 558.9 86.2 559.8 85.7Z" fill="#7b8cf5"/>
<circle cx="608.6" cy="45.4" r="1.8" fill="#777"/><circle cx="465.4" cy="99" r="1.6" fill="#e85ad0"/><circle cx="506.5" cy="85" r="1.6" fill="#4bd565"/>
<text x="3.0" y="34.8" font-size="32.0" font-weight="bold">a</text>
<text x="2.4" y="322.3" font-size="32.0" font-weight="bold">b</text>
<text x="2.7" y="555.3" font-size="32.0" font-weight="bold">c</text>
<text x="2.7" y="849.2" font-size="32.0" font-weight="bold">d</text>
<text x="280.6" y="849.2" font-size="32.0" font-weight="bold">e</text>
<text x="565.5" y="849.2" font-size="32.0" font-weight="bold">f</text>
<text x="2.7" y="1118.1" font-size="32.0" font-weight="bold">h</text>
<text x="874.4" y="38.0" font-size="32.0" font-weight="bold">g</text>
<text x="55.1" y="39.3" font-size="23.5" font-weight="bold">Basal Krt UMAP</text>
<text x="434.2" y="40.9" font-size="23.4" font-weight="bold">Cell types</text>
<text x="245.8" y="223.4" font-size="20.0">Conditions</text>
<circle cx="215.5" cy="244.6" r="6.3" fill="#4ccd3f"/>
<text x="230.0" y="251.2" font-size="16.4">Control</text>
<circle cx="303.6" cy="244.6" r="6.3" fill="#74a3f3"/>
<text x="317.8" y="251.2" font-size="16.1">DEN</text>
<circle cx="373.8" cy="244.6" r="6.3" fill="#ea6b69"/>
<text x="388.9" y="251.2" font-size="16.0">Tumour</text>
<text x="83.2" y="320.2" font-size="23.0">Control</text>
<text x="379.7" y="322.5" font-size="23.5">DEN</text>
<text x="659.2" y="318.7" font-size="23.5">Tumour</text>
<text x="59.9" y="574.9" font-size="23.1" font-style="italic">Col17a1</text>
<text x="356.8" y="574.9" font-size="22.9" font-style="italic">Top2a</text>
<text x="663.5" y="578.1" font-size="23.8" font-style="italic">Krt4</text>
<rect x="227.7" y="728" width="15.5" height="75" fill="url(#fl)"/>
<text x="251.5" y="739.9" font-size="15.0" text-anchor="middle">3</text>
<text x="251.5" y="763.3" font-size="15.0" text-anchor="middle">2</text>
<text x="251.5" y="783.5" font-size="15.0" text-anchor="middle">1</text>
<text x="251.5" y="804.7" font-size="15.0" text-anchor="middle">0</text>
<rect x="505.6" y="728" width="15.5" height="75" fill="url(#fl)"/>
<text x="529.3" y="739.9" font-size="15.0" text-anchor="middle">3</text>
<text x="529.3" y="763.3" font-size="15.0" text-anchor="middle">2</text>
<text x="529.3" y="783.5" font-size="15.0" text-anchor="middle">1</text>
<text x="529.3" y="804.7" font-size="15.0" text-anchor="middle">0</text>
<rect x="810.1" y="728" width="15.5" height="75" fill="url(#fl)"/>
<text x="833.0" y="737.2" font-size="15.0" text-anchor="middle">5</text>
<text x="833.0" y="751.3" font-size="15.0" text-anchor="middle">4</text>
<text x="833.0" y="764.4" font-size="15.0" text-anchor="middle">3</text>
<text x="833.0" y="778.0" font-size="15.0" text-anchor="middle">2</text>
<text x="833.0" y="791.6" font-size="15.0" text-anchor="middle">1</text>
<text x="833.0" y="804.7" font-size="15.0" text-anchor="middle">0</text>
<text x="51.8" y="845.4" font-size="23.4" font-weight="bold">Clusters</text>
<text x="353.0" y="845.4" font-size="23.1" font-weight="bold">Velocity</text>
<text x="627.6" y="845.4" font-size="23.4" font-weight="bold">Pseudotime</text>
<text x="196.1" y="881.2" font-size="16.5" text-anchor="middle">1</text>
<text x="234.3" y="919.3" font-size="16.5" text-anchor="middle">3</text>
<text x="161.8" y="949.3" font-size="16.5" text-anchor="middle">0</text>
<text x="189.0" y="980.9" font-size="16.5" text-anchor="middle">7</text>
<text x="57.2" y="903.0" font-size="16.5" text-anchor="middle">2</text>
<text x="126.4" y="913.9" font-size="16.5" text-anchor="middle">8</text>
<text x="65.4" y="942.2" font-size="16.5" text-anchor="middle">9</text>
<text x="51.8" y="974.9" font-size="16.5" text-anchor="middle">6</text>
<text x="144.4" y="1036.4" font-size="16.5" text-anchor="middle">5</text>
<text x="100.8" y="1054.4" font-size="16.5" text-anchor="middle">4</text>
<circle cx="501.2" cy="1017" r="6.6" fill="#4ccd3f"/>
<text x="516.5" y="1023.6" font-size="23.1">Control</text>
<circle cx="501.2" cy="1047" r="6.6" fill="#74a3f3"/>
<text x="516.5" y="1053.5" font-size="23.7">DEN</text>
<circle cx="501.2" cy="1075.3" r="6.6" fill="#ea6b69"/>
<text x="516.5" y="1081.3" font-size="23.5">Tumour</text>
<rect x="818.8" y="1006.1" width="15.3" height="72" fill="url(#pl)"/>
<text x="847.5" y="1029.2" font-size="15.5" text-anchor="middle">30</text>
<text x="847.5" y="1052.6" font-size="15.5" text-anchor="middle">20</text>
<text x="847.5" y="1076.0" font-size="15.5" text-anchor="middle">10</text>
<text x="847.5" y="1098.9" font-size="15.5" text-anchor="middle">0</text>
<path d="M675.5 1071.5L637.4 1142.6M751.8 1044.3L806.3 1129" stroke="#444" stroke-width="1.2" stroke-dasharray="6 4" fill="none"/>
<text x="180.9" y="1120.9" font-size="23.6" font-weight="bold">Tumour populations</text>
<text x="627.6" y="1120.9" font-size="23.6" font-weight="bold">Trajectories</text>
<circle cx="204.3" cy="1296.8" r="6.5" fill="#6ff2f2"/><circle cx="204.3" cy="1325.2" r="6.5" fill="#98a4a4"/><circle cx="482.1" cy="1299" r="6.5" fill="#f0654e"/><circle cx="482.1" cy="1326.8" r="6.5" fill="#98a4a4"/>
<text x="229.9" y="1304.5" font-size="20.0">Tmr 12</text>
<text x="229.9" y="1332.2" font-size="19.6">Other</text>
<text x="507.7" y="1306.1" font-size="19.4">Tmr 1</text>
<text x="507.7" y="1333.5" font-size="19.6">Other</text>
<path d="M626.5 1229.8L634.7 1243.4L642.8 1247.8L640.1 1232.5L648.3 1213.5L653.7 1178.1L642.8 1175.3L651.0 1150.8L659.2 1159.0L678.3 1153.5L689.1 1191.7L713.7 1183.5L732.7 1213.5L740.9 1224.4L757.2 1238.0L749.1 1254.3L760.0 1270.7L754.5 1284.3L743.6 1287.0L740.9 1314.3L724.6 1336.0L702.8 1340.4L694.6 1331.7L683.7 1336.0L675.5 1314.3M773.6 1130.1L776.3 1145.4L770.9 1161.7L776.3 1178.1L770.9 1189.0L760.0 1205.3L765.4 1218.9L757.2 1238.0M776.3 1161.7L787.2 1164.4L795.4 1180.8L806.3 1191.7L817.2 1186.2L822.6 1194.4L832.4 1195.5M765.4 1218.9L784.5 1224.4L803.6 1227.1L809.0 1221.6L828.1 1222.7L832.4 1210.7L825.3 1197.1M749.1 1254.3L762.7 1243.4L773.6 1235.3L803.6 1232.5L811.7 1224.4M760.0 1270.7L776.3 1257.1L800.8 1253.2L806.3 1238.0" stroke="#0a0a1e" stroke-width="3" fill="none" stroke-linejoin="round"/>
<path d="M508.4 974.1C527.0 945.3 531.1 897.9 506.4 874.2M502.3 972.0C522.8 941.1 516.7 889.7 471.4 860.9M496.1 963.8C510.5 928.8 502.3 887.6 465.2 874.2M485.8 955.5C502.3 926.7 492.0 897.9 461.1 889.7M477.6 947.3C489.9 928.8 485.8 910.3 459.0 904.1M430.2 974.1C444.6 957.6 454.9 937.0 487.9 918.5M428.2 976.1C444.6 969.9 461.1 953.5 481.7 932.9M432.3 983.3C450.8 982.3 465.2 963.8 477.6 943.2M450.8 1004.9C454.9 978.2 471.4 961.7 492.0 963.8M450.8 1004.9C465.2 994.6 485.8 986.4 498.2 982.3M461.1 992.6C469.3 978.2 479.6 972.0 487.9 969.9M422.0 945.3C424.1 928.8 426.1 918.5 428.2 912.3M411.7 951.4C407.6 937.0 403.5 928.8 399.4 923.6M524.9 897.9C520.8 887.6 514.6 879.4 506.4 874.2M472.4 859.8C463.2 859.8 452.9 862.9 444.6 869.1M471.4 860.9C461.1 862.9 450.8 866.0 442.6 871.2M465.2 874.2C457.0 875.3 448.8 877.3 440.5 880.4M461.1 889.7C448.8 889.7 436.4 891.7 424.1 893.8M370.6 916.4C362.3 887.6 325.3 883.5 304.7 912.3M368.5 922.6C358.2 897.9 325.3 893.8 307.8 920.6M362.3 912.3C341.7 902.0 321.2 908.2 310.9 926.7M364.4 920.6C343.8 912.3 325.3 916.4 315.0 930.8M366.4 930.8C347.9 922.6 331.5 924.7 319.1 935.0M352.0 883.9C345.9 881.5 337.6 880.4 330.4 882.5M380.8 882.5C374.7 879.4 366.4 879.4 360.3 883.5M389.1 887.6C382.9 889.7 376.7 889.7 370.6 893.8M350.0 994.6C354.1 1009.0 358.2 1019.3 360.3 1027.6M372.6 1080.1C362.3 1066.7 360.3 1052.3 362.3 1035.8M380.8 1079.0C372.6 1062.6 372.6 1046.1 387.0 1011.1M391.1 1078.0C387.0 1062.6 389.1 1039.9 397.3 1015.2M401.4 1023.5C403.5 1039.9 407.6 1062.6 403.5 1080.1M403.5 1011.1C411.7 1031.7 415.8 1060.5 413.8 1077.0M411.7 1011.1C422.0 1031.7 424.1 1056.4 422.0 1070.8M430.2 1025.5C432.3 1035.8 432.3 1052.3 428.2 1064.6M318.1 969.9a14.4 24.7 0 1 0 28.8 0a14.4 24.7 0 1 0 -28.8 0M323.2 969.9a9.3 19.6 0 1 0 18.5 0a9.3 19.6 0 1 0 -18.5 0M328.4 969.9a4.1 14.4 0 1 0 8.2 0a4.1 14.4 0 1 0 -8.2 0" stroke="#000" stroke-width="1.5" fill="none"/>
<g fill="#000"><polygon points="3.5,0 -2.5,-2.6 -2.5,2.6" transform="translate(523.5 916.7) rotate(-93)"/><polygon points="3.5,0 -2.5,-2.6 -2.5,2.6" transform="translate(509.9 909.6) rotate(-107)"/><polygon points="3.5,0 -2.5,-2.6 -2.5,2.6" transform="translate(498.3 906.1) rotate(-111)"/><polygon points="3.5,0 -2.5,-2.6 -2.5,2.6" transform="translate(489.7 911.4) rotate(-116)"/><polygon points="3.5,0 -2.5,-2.6 -2.5,2.6" transform="translate(482.0 918.8) rotate(-117)"/><polygon points="3.5,0 -2.5,-2.6 -2.5,2.6" transform="translate(454.7 944.2) rotate(-47)"/><polygon points="3.5,0 -2.5,-2.6 -2.5,2.6" transform="translate(456.0 957.6) rotate(-41)"/><polygon points="3.5,0 -2.5,-2.6 -2.5,2.6" transform="translate(459.5 968.3) rotate(-47)"/><polygon points="3.5,0 -2.5,-2.6 -2.5,2.6" transform="translate(467.4 971.5) rotate(-40)"/><polygon points="3.5,0 -2.5,-2.6 -2.5,2.6" transform="translate(477.8 990.2) rotate(-24)"/><polygon points="3.5,0 -2.5,-2.6 -2.5,2.6" transform="translate(475.9 975.6) rotate(-35)"/><polygon points="3.5,0 -2.5,-2.6 -2.5,2.6" transform="translate(425.4 923.3) rotate(-79)"/><polygon points="3.5,0 -2.5,-2.6 -2.5,2.6" transform="translate(404.9 932.7) rotate(-116)"/><polygon points="3.5,0 -2.5,-2.6 -2.5,2.6" transform="translate(516.2 883.0) rotate(-130)"/><polygon points="3.5,0 -2.5,-2.6 -2.5,2.6" transform="translate(456.7 862.6) rotate(160)"/><polygon points="3.5,0 -2.5,-2.6 -2.5,2.6" transform="translate(454.8 865.4) rotate(160)"/><polygon points="3.5,0 -2.5,-2.6 -2.5,2.6" transform="translate(451.6 876.9) rotate(165)"/><polygon points="3.5,0 -2.5,-2.6 -2.5,2.6" transform="translate(440.7 891.2) rotate(172)"/><polygon points="3.5,0 -2.5,-2.6 -2.5,2.6" transform="translate(338.4 892.7) rotate(178)"/><polygon points="3.5,0 -2.5,-2.6 -2.5,2.6" transform="translate(337.3 902.3) rotate(177)"/><polygon points="3.5,0 -2.5,-2.6 -2.5,2.6" transform="translate(330.1 909.6) rotate(159)"/><polygon points="3.5,0 -2.5,-2.6 -2.5,2.6" transform="translate(333.3 917.8) rotate(164)"/><polygon points="3.5,0 -2.5,-2.6 -2.5,2.6" transform="translate(338.1 926.3) rotate(171)"/><polygon points="3.5,0 -2.5,-2.6 -2.5,2.6" transform="translate(340.5 881.4) rotate(-177)"/><polygon points="3.5,0 -2.5,-2.6 -2.5,2.6" transform="translate(369.5 880.4) rotate(175)"/><polygon points="3.5,0 -2.5,-2.6 -2.5,2.6" transform="translate(378.9 890.2) rotate(165)"/><polygon points="3.5,0 -2.5,-2.6 -2.5,2.6" transform="translate(356.4 1015.0) rotate(72)"/><polygon points="3.5,0 -2.5,-2.6 -2.5,2.6" transform="translate(362.4 1056.9) rotate(-99)"/><polygon points="3.5,0 -2.5,-2.6 -2.5,2.6" transform="translate(375.8 1048.8) rotate(-83)"/><polygon points="3.5,0 -2.5,-2.6 -2.5,2.6" transform="translate(389.9 1046.8) rotate(-83)"/><polygon points="3.5,0 -2.5,-2.6 -2.5,2.6" transform="translate(405.0 1054.3) rotate(87)"/><polygon points="3.5,0 -2.5,-2.6 -2.5,2.6" transform="translate(413.0 1049.1) rotate(83)"/><polygon points="3.5,0 -2.5,-2.6 -2.5,2.6" transform="translate(421.9 1046.4) rotate(83)"/><polygon points="3.5,0 -2.5,-2.6 -2.5,2.6" transform="translate(431.4 1046.4) rotate(93)"/></g>
</g>
<g id="g-violin">
<text x="3.0" y="1381.0" font-size="32.0" font-weight="bold">i</text>
<text x="107.1" y="1412.5" font-size="19.8" font-style="italic">Krt6a</text>
<path d="M96.8 1422.0C96.9 1433.4 96.9 1474.4 97.1 1490.4C97.3 1506.5 97.6 1511.5 98.0 1518.5C98.3 1525.6 98.1 1528.8 99.4 1532.6C100.6 1536.4 103.2 1539.1 105.3 1541.4C107.5 1543.6 111.2 1545.0 112.4 1545.9C113.5 1546.8 117.6 1546.5 112.4 1546.6L80.8 1546.6C75.5 1546.5 79.6 1546.8 80.8 1545.9C81.9 1545.0 85.6 1543.6 87.8 1541.4C89.9 1539.1 92.5 1536.4 93.8 1532.6C95.0 1528.8 94.8 1525.6 95.2 1518.5C95.5 1511.5 95.8 1506.5 96.0 1490.4C96.2 1474.4 96.2 1433.4 96.3 1422.0Z" fill="#9b80c4" stroke="#222" stroke-width="1" stroke-linejoin="round"/>
<path d="M134.5 1427.9C134.8 1430.2 134.8 1436.7 136.6 1441.3C138.3 1445.9 143.3 1450.1 145.0 1455.3C146.8 1460.6 146.7 1467.0 147.1 1472.9C147.5 1478.7 147.7 1484.6 147.5 1490.4C147.2 1496.3 146.6 1502.7 145.7 1508.0C144.8 1513.3 142.6 1517.4 142.2 1522.1C141.8 1526.7 142.9 1532.1 143.3 1536.1C143.6 1540.1 144.3 1544.2 144.3 1545.9C144.4 1547.7 147.7 1546.5 143.6 1546.6L119.7 1546.6C115.6 1546.5 119.0 1547.7 119.0 1545.9C119.1 1544.2 119.7 1540.1 120.1 1536.1C120.4 1532.1 121.5 1526.7 121.1 1522.1C120.7 1517.4 118.5 1513.3 117.6 1508.0C116.7 1502.7 116.1 1496.3 115.9 1490.4C115.6 1484.6 115.8 1478.7 116.2 1472.9C116.6 1467.0 116.6 1460.6 118.3 1455.3C120.1 1450.1 125.0 1445.9 126.8 1441.3C128.5 1436.7 128.5 1430.2 128.9 1427.9Z" fill="#ec6a55" stroke="#222" stroke-width="1" stroke-linejoin="round"/>
<path d="M168.2 1434.3C168.6 1437.2 169.7 1446.6 170.6 1451.8C171.6 1457.1 173.1 1460.6 174.2 1465.9C175.2 1471.1 176.1 1478.2 177.0 1483.4C177.8 1488.7 178.4 1492.2 179.1 1497.5C179.8 1502.7 180.6 1510.3 181.2 1515.0C181.8 1519.7 182.2 1521.5 182.6 1525.6C183.0 1529.7 183.5 1536.2 183.6 1539.6C183.8 1543.0 183.8 1544.8 183.6 1545.9C183.5 1547.1 188.1 1546.5 182.9 1546.6L152.7 1546.6C147.6 1546.5 152.2 1547.1 152.0 1545.9C151.9 1544.8 151.9 1543.0 152.0 1539.6C152.2 1536.2 152.7 1529.7 153.1 1525.6C153.5 1521.5 153.9 1519.7 154.5 1515.0C155.1 1510.3 155.9 1502.7 156.6 1497.5C157.3 1492.2 157.9 1488.7 158.7 1483.4C159.5 1478.2 160.5 1471.1 161.5 1465.9C162.6 1460.6 164.0 1457.1 165.0 1451.8C166.0 1446.6 167.1 1437.2 167.5 1434.3Z" fill="#80f8f8" stroke="#222" stroke-width="1" stroke-linejoin="round"/>
<path d="M74.8 1416.0V1551.9H189.6M74.8 1418.5h-3.5M74.8 1444.1h-3.5M74.8 1469.7h-3.5M74.8 1495.4h-3.5M74.8 1521.3h-3.5M74.8 1546.6h-3.5M96.6 1551.9v4M131.7 1551.9v4M167.8 1551.9v4" stroke="#000" stroke-width="1.6" fill="none"/>
<line x1="80.8" y1="1531.5" x2="112.4" y2="1531.5" stroke="#000" stroke-width="1.5"/>
<line x1="115.9" y1="1495.4" x2="147.5" y2="1495.4" stroke="#000" stroke-width="1.5"/>
<line x1="152.0" y1="1510.8" x2="183.6" y2="1510.8" stroke="#000" stroke-width="1.5"/>
<text x="68.8" y="1424.5" font-size="17.0" text-anchor="end">5</text>
<text x="68.8" y="1450.1" font-size="17.0" text-anchor="end">4</text>
<text x="68.8" y="1475.7" font-size="17.0" text-anchor="end">3</text>
<text x="68.8" y="1501.4" font-size="17.0" text-anchor="end">2</text>
<text x="68.8" y="1527.3" font-size="17.0" text-anchor="end">1</text>
<text x="68.8" y="1552.6" font-size="17.0" text-anchor="end">0</text>
<text x="102.6" y="1574.7" font-size="17.0" text-anchor="middle">Non-</text>
<text x="102.6" y="1596.8" font-size="17.0" text-anchor="middle">tmr</text>
<text x="140.7" y="1574.7" font-size="17.0" text-anchor="middle">Tmr</text>
<text x="140.7" y="1596.8" font-size="17.0" text-anchor="middle">1</text>
<text x="179.3" y="1574.7" font-size="17.0" text-anchor="middle">Tmr</text>
<text x="179.3" y="1596.8" font-size="17.0" text-anchor="middle">12</text>
<text transform="translate(49.4 1486.9) rotate(-90)" font-size="16.6" text-anchor="middle">Expression Level</text>
<text x="115.2" y="1619.7" font-size="19.7" font-style="italic">Krt17</text>
<path d="M96.8 1643.2C96.9 1652.8 96.9 1686.8 97.1 1701.1C97.3 1715.5 97.5 1722.8 98.0 1729.2C98.4 1735.7 98.3 1736.9 99.7 1739.7C101.1 1742.6 104.3 1744.4 106.4 1746.1C108.5 1747.7 111.4 1748.9 112.4 1749.6C113.4 1750.3 117.6 1750.2 112.4 1750.3L80.8 1750.3C75.5 1750.2 79.8 1750.3 80.8 1749.6C81.8 1748.9 84.6 1747.7 86.7 1746.1C88.8 1744.4 92.0 1742.6 93.4 1739.7C94.8 1736.9 94.7 1735.7 95.2 1729.2C95.6 1722.8 95.8 1715.5 96.0 1701.1C96.2 1686.8 96.2 1652.8 96.3 1643.2Z" fill="#9b80c4" stroke="#222" stroke-width="1" stroke-linejoin="round"/>
<path d="M132.4 1625.6C132.7 1627.1 133.1 1630.6 134.5 1634.4C135.8 1638.2 138.5 1643.8 140.4 1648.5C142.4 1653.1 145.1 1658.4 146.4 1662.5C147.8 1666.6 148.3 1668.9 148.5 1673.0C148.8 1677.1 148.3 1682.4 147.8 1687.1C147.4 1691.8 146.7 1696.4 145.7 1701.1C144.8 1705.8 143.1 1710.5 142.2 1715.2C141.3 1719.9 140.5 1725.1 140.4 1729.2C140.4 1733.3 141.3 1736.5 141.9 1739.7C142.4 1743.0 143.7 1746.8 144.0 1748.5C144.2 1750.3 147.2 1750.0 143.3 1750.3L120.1 1750.3C116.1 1750.0 119.1 1750.3 119.4 1748.5C119.6 1746.8 120.9 1743.0 121.5 1739.7C122.1 1736.5 123.0 1733.3 122.9 1729.2C122.8 1725.1 122.0 1719.9 121.1 1715.2C120.3 1710.5 118.6 1705.8 117.6 1701.1C116.7 1696.4 116.0 1691.8 115.5 1687.1C115.1 1682.4 114.6 1677.1 114.8 1673.0C115.1 1668.9 115.6 1666.6 116.9 1662.5C118.3 1658.4 120.9 1653.1 122.9 1648.5C124.9 1643.8 127.5 1638.2 128.9 1634.4C130.2 1630.6 130.6 1627.1 131.0 1625.6Z" fill="#ec6a55" stroke="#222" stroke-width="1" stroke-linejoin="round"/>
<path d="M168.5 1641.4C168.9 1642.6 169.9 1645.5 171.0 1648.5C172.1 1651.4 173.6 1655.5 174.9 1659.0C176.1 1662.5 177.5 1666.0 178.4 1669.5C179.2 1673.0 180.0 1676.5 180.1 1680.1C180.3 1683.6 179.7 1687.1 179.4 1690.6C179.1 1694.1 178.3 1697.6 178.4 1701.1C178.4 1704.6 179.2 1708.1 179.8 1711.7C180.4 1715.2 181.2 1718.1 181.9 1722.2C182.5 1726.3 183.4 1732.1 183.6 1736.2C183.9 1740.3 183.6 1744.4 183.3 1746.8C183.0 1749.1 186.8 1749.7 181.9 1750.3L153.8 1750.3C148.9 1749.7 152.7 1749.1 152.4 1746.8C152.1 1744.4 151.8 1740.3 152.0 1736.2C152.3 1732.1 153.1 1726.3 153.8 1722.2C154.4 1718.1 155.3 1715.2 155.9 1711.7C156.5 1708.1 157.2 1704.6 157.3 1701.1C157.4 1697.6 156.5 1694.1 156.2 1690.6C156.0 1687.1 155.4 1683.6 155.5 1680.1C155.7 1676.5 156.4 1673.0 157.3 1669.5C158.2 1666.0 159.6 1662.5 160.8 1659.0C162.0 1655.5 163.6 1651.4 164.7 1648.5C165.7 1645.5 166.7 1642.6 167.1 1641.4Z" fill="#80f8f8" stroke="#222" stroke-width="1" stroke-linejoin="round"/>
<path d="M74.8 1618.6V1757.3H189.6M74.8 1659.0h-3.5M74.8 1704.6h-3.5M74.8 1750.3h-3.5M96.6 1757.3v4M131.7 1757.3v4M167.8 1757.3v4" stroke="#000" stroke-width="1.6" fill="none"/>
<line x1="80.8" y1="1739.0" x2="112.4" y2="1739.0" stroke="#000" stroke-width="1.5"/>
<line x1="115.9" y1="1697.6" x2="147.5" y2="1697.6" stroke="#000" stroke-width="1.5"/>
<line x1="152.0" y1="1709.9" x2="183.6" y2="1709.9" stroke="#000" stroke-width="1.5"/>
<text x="68.8" y="1665.0" font-size="17.0" text-anchor="end">4</text>
<text x="68.8" y="1710.6" font-size="17.0" text-anchor="end">2</text>
<text x="68.8" y="1756.3" font-size="17.0" text-anchor="end">0</text>
<text x="102.6" y="1780.1" font-size="17.0" text-anchor="middle">Non-</text>
<text x="102.6" y="1801.2" font-size="17.0" text-anchor="middle">tmr</text>
<text x="140.7" y="1780.1" font-size="17.0" text-anchor="middle">Tmr</text>
<text x="140.7" y="1801.2" font-size="17.0" text-anchor="middle">1</text>
<text x="179.3" y="1780.1" font-size="17.0" text-anchor="middle">Tmr</text>
<text x="179.3" y="1801.2" font-size="17.0" text-anchor="middle">12</text>
<text transform="translate(49.4 1695.9) rotate(-90)" font-size="16.6" text-anchor="middle">Expression Level</text>
<text x="577.7" y="1381.0" font-size="32.0" font-weight="bold">l</text>
<text x="652.4" y="1381.0" font-size="21.5" font-weight="bold">ECM</text>
<text x="781.4" y="1381.0" font-size="22.1" font-weight="bold">STRESS</text>
<text x="651.9" y="1406.5" font-size="19.6" font-style="italic">Sox9</text>
<path d="M633.1 1428.6V1533.3M617.6 1533.3H648.6" stroke="#222" stroke-width="1.3" fill="none"/>
<path d="M668.7 1450.7C668.8 1456.1 669.1 1475.6 669.4 1482.8C669.7 1490.0 670.3 1490.2 670.7 1493.9C671.2 1497.6 671.5 1501.3 672.1 1505.0C672.6 1508.7 673.2 1512.7 674.1 1516.0C674.9 1519.4 676.0 1522.5 677.4 1524.9C678.7 1527.3 681.1 1529.1 682.2 1530.4C683.4 1531.8 684.1 1532.4 684.5 1532.9C684.8 1533.3 689.8 1533.2 684.5 1533.3L652.6 1533.3C647.3 1533.2 652.2 1533.3 652.6 1532.9C652.9 1532.4 653.6 1531.8 654.8 1530.4C656.0 1529.1 658.3 1527.3 659.7 1524.9C661.0 1522.5 662.1 1519.4 663.0 1516.0C663.9 1512.7 664.4 1508.7 665.0 1505.0C665.5 1501.3 665.9 1497.6 666.3 1493.9C666.7 1490.2 667.3 1490.0 667.6 1482.8C668.0 1475.6 668.2 1456.1 668.3 1450.7Z" fill="#ec6a55" stroke="#222" stroke-width="1" stroke-linejoin="round"/>
<path d="M704.1 1407.6C704.2 1413.5 704.6 1434.1 704.8 1443.0C705.1 1451.8 705.3 1455.5 705.7 1460.7C706.1 1465.9 706.7 1470.3 707.3 1474.0C707.8 1477.7 708.3 1479.5 708.8 1482.8C709.3 1486.2 709.9 1490.2 710.4 1493.9C710.8 1497.6 711.1 1501.3 711.7 1505.0C712.3 1508.7 713.1 1512.7 713.9 1516.0C714.7 1519.4 715.7 1522.3 716.8 1524.9C717.8 1527.5 719.5 1530.1 720.1 1531.5C720.7 1532.9 726.0 1533.0 720.5 1533.3L687.3 1533.3C681.9 1533.0 687.2 1532.9 687.8 1531.5C688.4 1530.1 690.1 1527.5 691.1 1524.9C692.1 1522.3 693.1 1519.4 694.0 1516.0C694.8 1512.7 695.6 1508.7 696.2 1505.0C696.8 1501.3 697.0 1497.6 697.5 1493.9C698.0 1490.2 698.6 1486.2 699.1 1482.8C699.6 1479.5 700.1 1477.7 700.6 1474.0C701.1 1470.3 701.8 1465.9 702.2 1460.7C702.6 1455.5 702.8 1451.8 703.1 1443.0C703.3 1434.1 703.6 1413.5 703.8 1407.6Z" fill="#80f8f8" stroke="#222" stroke-width="1" stroke-linejoin="round"/>
<path d="M612.1 1401.4V1539.3H726.1M612.1 1422.6h-3.5M612.1 1459.6h-3.5M612.1 1496.6h-3.5M612.1 1533.3h-3.5M633.1 1539.3v4M668.5 1539.3v4M703.9 1539.3v4" stroke="#000" stroke-width="1.6" fill="none"/>
<line x1="617.6" y1="1528.9" x2="648.6" y2="1528.9" stroke="#000" stroke-width="1.5"/>
<line x1="653.0" y1="1523.8" x2="684.0" y2="1523.8" stroke="#000" stroke-width="1.5"/>
<line x1="688.4" y1="1514.5" x2="719.4" y2="1514.5" stroke="#000" stroke-width="1.5"/>
<text x="606.1" y="1428.6" font-size="17.0" text-anchor="end">3</text>
<text x="606.1" y="1465.6" font-size="17.0" text-anchor="end">2</text>
<text x="606.1" y="1502.6" font-size="17.0" text-anchor="end">1</text>
<text x="606.1" y="1539.3" font-size="17.0" text-anchor="end">0</text>
<text x="630.1" y="1562.5" font-size="17.0" text-anchor="middle">Non-</text>
<text x="630.1" y="1581.3" font-size="17.0" text-anchor="middle">tmr</text>
<text x="670.5" y="1562.5" font-size="17.0" text-anchor="middle">Tmr</text>
<text x="670.5" y="1581.3" font-size="17.0" text-anchor="middle">1</text>
<text x="709.9" y="1562.5" font-size="17.0" text-anchor="middle">Tmr</text>
<text x="709.9" y="1581.3" font-size="17.0" text-anchor="middle">12</text>
<text transform="translate(594.3 1477.3) rotate(-90)" font-size="16.6" text-anchor="middle">Expression Level</text>
<text x="805.8" y="1406.5" font-size="20.3" font-style="italic">Atf3</text>
<path d="M776.0 1417.5C776.1 1432.1 776.1 1486.7 776.2 1505.0C776.3 1523.2 775.7 1523.0 776.8 1527.1C777.8 1531.2 780.1 1529.0 782.5 1529.8C785.0 1530.5 789.9 1531.1 791.4 1531.5C792.9 1531.9 796.6 1532.1 791.4 1532.2L760.4 1532.2C755.2 1532.1 758.9 1531.9 760.4 1531.5C761.9 1531.1 766.8 1530.5 769.2 1529.8C771.7 1529.0 774.0 1531.2 775.0 1527.1C776.1 1523.0 775.4 1523.2 775.6 1505.0C775.7 1486.7 775.7 1432.1 775.8 1417.5Z" fill="#9b80c4" stroke="#222" stroke-width="1" stroke-linejoin="round"/>
<path d="M811.5 1415.3C811.7 1418.4 812.1 1429.5 812.4 1434.1C812.7 1438.7 812.7 1439.7 813.5 1443.0C814.4 1446.3 816.2 1450.4 817.5 1454.1C818.8 1457.7 820.2 1461.4 821.3 1465.1C822.4 1468.8 823.3 1472.5 824.2 1476.2C825.0 1479.9 825.8 1483.2 826.4 1487.3C826.9 1491.3 827.3 1496.9 827.3 1500.5C827.2 1504.2 826.5 1506.4 825.9 1509.4C825.3 1512.3 824.1 1515.3 823.5 1518.3C822.9 1521.2 822.6 1524.9 822.4 1527.1C822.2 1529.3 822.5 1530.7 822.4 1531.5C822.3 1532.4 825.3 1532.1 821.7 1532.2L800.9 1532.2C797.3 1532.1 800.4 1532.4 800.2 1531.5C800.1 1530.7 800.4 1529.3 800.2 1527.1C800.1 1524.9 799.7 1521.2 799.1 1518.3C798.5 1515.3 797.3 1512.3 796.7 1509.4C796.1 1506.4 795.4 1504.2 795.4 1500.5C795.3 1496.9 795.7 1491.3 796.3 1487.3C796.8 1483.2 797.6 1479.9 798.5 1476.2C799.3 1472.5 800.2 1468.8 801.3 1465.1C802.5 1461.4 803.8 1457.7 805.1 1454.1C806.4 1450.4 808.2 1446.3 809.1 1443.0C809.9 1439.7 809.9 1438.7 810.2 1434.1C810.5 1429.5 810.9 1418.4 811.1 1415.3Z" fill="#ec6a55" stroke="#222" stroke-width="1" stroke-linejoin="round"/>
<path d="M847.0 1407.1C847.2 1408.7 848.0 1413.8 848.5 1416.4C849.0 1419.1 849.1 1420.1 850.1 1423.1C851.0 1426.0 852.7 1430.8 854.0 1434.1C855.3 1437.4 856.7 1440.0 857.8 1443.0C858.9 1445.9 860.1 1448.9 860.9 1451.8C861.7 1454.8 862.3 1457.7 862.7 1460.7C863.0 1463.6 863.3 1466.6 862.9 1469.5C862.5 1472.5 861.5 1475.5 860.5 1478.4C859.4 1481.4 858.0 1484.3 856.7 1487.3C855.4 1490.2 853.9 1493.2 852.7 1496.1C851.5 1499.1 850.2 1502.0 849.4 1505.0C848.6 1507.9 848.2 1509.3 847.8 1513.8C847.5 1518.4 847.4 1529.1 847.2 1532.2L846.3 1532.2C846.0 1529.1 846.0 1518.4 845.6 1513.8C845.3 1509.3 844.9 1507.9 844.1 1505.0C843.3 1502.0 842.0 1499.1 840.8 1496.1C839.5 1493.2 838.1 1490.2 836.8 1487.3C835.5 1484.3 834.0 1481.4 833.0 1478.4C832.0 1475.5 830.9 1472.5 830.6 1469.5C830.2 1466.6 830.5 1463.6 830.8 1460.7C831.1 1457.7 831.8 1454.8 832.6 1451.8C833.4 1448.9 834.5 1445.9 835.7 1443.0C836.8 1440.0 838.1 1437.4 839.4 1434.1C840.7 1430.8 842.5 1426.0 843.4 1423.1C844.3 1420.1 844.4 1419.1 845.0 1416.4C845.5 1413.8 846.3 1408.7 846.5 1407.1Z" fill="#80f8f8" stroke="#222" stroke-width="1" stroke-linejoin="round"/>
<path d="M754.9 1401.4V1538.2H868.9M754.9 1408.0h-3.5M754.9 1439.0h-3.5M754.9 1470.2h-3.5M754.9 1501.2h-3.5M754.9 1532.2h-3.5M775.9 1538.2v4M811.3 1538.2v4M846.7 1538.2v4" stroke="#000" stroke-width="1.6" fill="none"/>
<line x1="760.4" y1="1523.1" x2="791.4" y2="1523.1" stroke="#000" stroke-width="1.5"/>
<line x1="795.8" y1="1497.2" x2="826.8" y2="1497.2" stroke="#000" stroke-width="1.5"/>
<line x1="831.2" y1="1463.6" x2="862.2" y2="1463.6" stroke="#000" stroke-width="1.5"/>
<text x="748.9" y="1414.0" font-size="17.0" text-anchor="end">4</text>
<text x="748.9" y="1445.0" font-size="17.0" text-anchor="end">3</text>
<text x="748.9" y="1476.2" font-size="17.0" text-anchor="end">2</text>
<text x="748.9" y="1507.2" font-size="17.0" text-anchor="end">1</text>
<text x="748.9" y="1538.2" font-size="17.0" text-anchor="end">0</text>
<text x="775.9" y="1560.3" font-size="17.0" text-anchor="middle">Non-</text>
<text x="775.9" y="1580.2" font-size="17.0" text-anchor="middle">tmr</text>
<text x="816.8" y="1560.3" font-size="17.0" text-anchor="middle">Tmr</text>
<text x="816.8" y="1580.2" font-size="17.0" text-anchor="middle">1</text>
<text x="856.0" y="1560.3" font-size="17.0" text-anchor="middle">Tmr</text>
<text x="856.0" y="1580.2" font-size="17.0" text-anchor="middle">12</text>
<text x="647.5" y="1609.0" font-size="19.1" font-style="italic">Thbs1</text>
<path d="M634.2 1626.7V1733.0M618.7 1733.0H649.7" stroke="#222" stroke-width="1.3" fill="none"/>
<path d="M669.8 1646.7C669.9 1650.7 670.2 1665.1 670.5 1671.0C670.8 1676.9 671.0 1678.0 671.4 1682.1C671.8 1686.1 672.5 1691.7 673.2 1695.4C673.8 1699.1 674.4 1700.9 675.2 1704.2C675.9 1707.5 676.7 1712.0 677.6 1715.3C678.5 1718.6 679.6 1721.7 680.7 1724.1C681.8 1726.5 683.4 1728.3 684.2 1729.7C685.0 1731.1 685.3 1732.0 685.6 1732.6C685.8 1733.1 690.9 1732.9 685.6 1733.0L653.7 1733.0C648.4 1732.9 653.5 1733.1 653.7 1732.6C653.9 1732.0 654.2 1731.1 655.0 1729.7C655.8 1728.3 657.4 1726.5 658.6 1724.1C659.7 1721.7 660.7 1718.6 661.7 1715.3C662.6 1712.0 663.4 1707.5 664.1 1704.2C664.8 1700.9 665.5 1699.1 666.1 1695.4C666.7 1691.7 667.4 1686.1 667.9 1682.1C668.3 1678.0 668.5 1676.9 668.7 1671.0C669.0 1665.1 669.3 1650.7 669.4 1646.7Z" fill="#ec6a55" stroke="#222" stroke-width="1" stroke-linejoin="round"/>
<path d="M705.7 1607.9C705.9 1610.3 706.6 1617.3 707.3 1622.3C708.0 1627.3 709.0 1633.0 709.9 1637.8C710.8 1642.6 711.8 1647.4 712.6 1651.1C713.3 1654.8 713.8 1657.0 714.3 1659.9C714.9 1662.9 715.7 1665.8 716.1 1668.8C716.6 1671.7 716.9 1674.7 717.0 1677.7C717.1 1680.6 716.7 1683.9 716.6 1686.5C716.4 1689.1 716.0 1690.2 716.3 1693.1C716.7 1696.1 718.1 1700.5 718.8 1704.2C719.5 1707.9 720.1 1712.0 720.5 1715.3C721.0 1718.6 721.2 1721.4 721.4 1724.1C721.6 1726.9 721.7 1730.4 721.6 1731.9C721.6 1733.4 726.3 1732.8 721.0 1733.0L690.0 1733.0C684.7 1732.8 689.4 1733.4 689.3 1731.9C689.3 1730.4 689.4 1726.9 689.5 1724.1C689.7 1721.4 690.0 1718.6 690.4 1715.3C690.9 1712.0 691.5 1707.9 692.2 1704.2C692.9 1700.5 694.3 1696.1 694.6 1693.1C695.0 1690.2 694.5 1689.1 694.4 1686.5C694.3 1683.9 693.9 1680.6 694.0 1677.7C694.0 1674.7 694.4 1671.7 694.9 1668.8C695.3 1665.8 696.0 1662.9 696.6 1659.9C697.2 1657.0 697.7 1654.8 698.4 1651.1C699.1 1647.4 700.2 1642.6 701.1 1637.8C701.9 1633.0 703.0 1627.3 703.7 1622.3C704.4 1617.3 705.0 1610.3 705.3 1607.9Z" fill="#80f8f8" stroke="#222" stroke-width="1" stroke-linejoin="round"/>
<path d="M613.2 1601.3V1738.5H727.2M613.2 1626.7h-3.5M613.2 1662.2h-3.5M613.2 1697.6h-3.5M613.2 1733.0h-3.5M634.2 1738.5v4M669.6 1738.5v4M705.5 1738.5v4" stroke="#000" stroke-width="1.6" fill="none"/>
<line x1="618.7" y1="1728.1" x2="649.7" y2="1728.1" stroke="#000" stroke-width="1.5"/>
<line x1="654.1" y1="1721.5" x2="685.1" y2="1721.5" stroke="#000" stroke-width="1.5"/>
<line x1="690.0" y1="1697.1" x2="721.0" y2="1697.1" stroke="#000" stroke-width="1.5"/>
<text x="607.2" y="1632.7" font-size="17.0" text-anchor="end">3</text>
<text x="607.2" y="1668.2" font-size="17.0" text-anchor="end">2</text>
<text x="607.2" y="1703.6" font-size="17.0" text-anchor="end">1</text>
<text x="607.2" y="1739.0" font-size="17.0" text-anchor="end">0</text>
<text x="638.8" y="1761.8" font-size="17.0" text-anchor="middle">Non-</text>
<text x="638.8" y="1781.7" font-size="17.0" text-anchor="middle">tmr</text>
<text x="680.6" y="1761.8" font-size="17.0" text-anchor="middle">Tmr</text>
<text x="680.6" y="1781.7" font-size="17.0" text-anchor="middle">1</text>
<text x="720.0" y="1761.8" font-size="17.0" text-anchor="middle">Tmr</text>
<text x="720.0" y="1781.7" font-size="17.0" text-anchor="middle">12</text>
<text transform="translate(594.3 1671.0) rotate(-90)" font-size="16.6" text-anchor="middle">Expression Level</text>
<text x="808.0" y="1609.0" font-size="19.2" font-style="italic">Jun</text>
<path d="M780.9 1621.9C781.1 1626.4 781.5 1640.7 781.9 1648.9C782.2 1657.1 782.5 1663.6 783.0 1671.0C783.5 1678.4 784.3 1687.2 784.7 1693.1C785.2 1699.1 785.3 1702.7 785.6 1706.4C786.0 1710.1 786.2 1712.5 786.7 1715.3C787.3 1718.1 787.7 1720.9 788.7 1723.0C789.8 1725.2 791.8 1726.8 793.2 1728.1C794.5 1729.5 796.1 1730.6 796.7 1731.2C797.3 1731.9 802.0 1731.8 796.7 1731.9L764.8 1731.9C759.5 1731.8 764.2 1731.9 764.8 1731.2C765.4 1730.6 767.0 1729.5 768.4 1728.1C769.7 1726.8 771.7 1725.2 772.8 1723.0C773.9 1720.9 774.3 1718.1 774.8 1715.3C775.3 1712.5 775.6 1710.1 775.9 1706.4C776.2 1702.7 776.3 1699.1 776.8 1693.1C777.2 1687.2 778.1 1678.4 778.5 1671.0C779.0 1663.6 779.3 1657.1 779.7 1648.9C780.0 1640.7 780.4 1626.4 780.6 1621.9Z" fill="#9b80c4" stroke="#222" stroke-width="1" stroke-linejoin="round"/>
<path d="M818.0 1627.8C818.4 1629.1 819.2 1632.1 820.6 1635.6C822.0 1639.1 824.6 1645.2 826.1 1648.9C827.7 1652.6 829.0 1655.1 829.9 1657.7C830.8 1660.3 831.4 1661.8 831.7 1664.4C832.0 1667.0 832.0 1670.3 831.7 1673.2C831.3 1676.2 830.6 1678.4 829.5 1682.1C828.4 1685.8 826.3 1691.3 825.0 1695.4C823.8 1699.4 823.0 1703.1 822.2 1706.4C821.3 1709.8 820.6 1712.0 820.2 1715.3C819.7 1718.6 819.6 1723.6 819.5 1726.4C819.4 1729.1 820.6 1731.0 819.5 1731.9L812.9 1731.9C811.8 1731.0 813.0 1729.1 812.9 1726.4C812.7 1723.6 812.6 1718.6 812.2 1715.3C811.8 1712.0 811.0 1709.8 810.2 1706.4C809.4 1703.1 808.5 1699.4 807.3 1695.4C806.1 1691.3 804.0 1685.8 802.9 1682.1C801.8 1678.4 801.1 1676.2 800.7 1673.2C800.3 1670.3 800.4 1667.0 800.7 1664.4C801.0 1661.8 801.5 1660.3 802.5 1657.7C803.4 1655.1 804.7 1652.6 806.2 1648.9C807.8 1645.2 810.4 1639.1 811.8 1635.6C813.1 1632.1 814.0 1629.1 814.4 1627.8Z" fill="#ec6a55" stroke="#222" stroke-width="1" stroke-linejoin="round"/>
<path d="M851.8 1606.8C852.2 1608.3 853.0 1613.1 853.8 1615.7C854.6 1618.2 855.1 1619.7 856.5 1622.3C857.9 1624.9 860.6 1628.6 862.2 1631.2C863.9 1633.7 865.2 1635.6 866.2 1637.8C867.2 1640.0 867.9 1642.6 868.2 1644.4C868.5 1646.3 868.7 1647.0 868.2 1648.9C867.7 1650.7 866.6 1652.9 865.3 1655.5C864.0 1658.1 862.0 1661.4 860.5 1664.4C858.9 1667.3 857.3 1670.3 856.0 1673.2C854.8 1676.2 853.6 1679.5 852.9 1682.1C852.2 1684.7 852.1 1681.7 851.9 1688.7C851.8 1695.7 851.9 1718.2 851.8 1724.1L851.4 1724.1C851.3 1718.2 851.5 1695.7 851.3 1688.7C851.1 1681.7 851.0 1684.7 850.3 1682.1C849.6 1679.5 848.4 1676.2 847.2 1673.2C845.9 1670.3 844.3 1667.3 842.7 1664.4C841.2 1661.4 839.2 1658.1 837.9 1655.5C836.6 1652.9 835.5 1650.7 835.0 1648.9C834.5 1647.0 834.7 1646.3 835.0 1644.4C835.3 1642.6 836.0 1640.0 837.0 1637.8C838.0 1635.6 839.4 1633.7 841.0 1631.2C842.6 1628.6 845.3 1624.9 846.7 1622.3C848.1 1619.7 848.6 1618.2 849.4 1615.7C850.2 1613.1 851.0 1608.3 851.4 1606.8Z" fill="#80f8f8" stroke="#222" stroke-width="1" stroke-linejoin="round"/>
<path d="M759.9 1601.3V1737.9H873.3M759.9 1625.6h-3.5M759.9 1652.2h-3.5M759.9 1678.8h-3.5M759.9 1705.3h-3.5M759.9 1731.9h-3.5M780.8 1737.9v4M816.2 1737.9v4M851.6 1737.9v4" stroke="#000" stroke-width="1.6" fill="none"/>
<line x1="765.3" y1="1712.4" x2="796.3" y2="1712.4" stroke="#000" stroke-width="1.5"/>
<line x1="800.7" y1="1676.1" x2="831.7" y2="1676.1" stroke="#000" stroke-width="1.5"/>
<line x1="836.1" y1="1647.3" x2="867.1" y2="1647.3" stroke="#000" stroke-width="1.5"/>
<text x="753.9" y="1631.6" font-size="17.0" text-anchor="end">4</text>
<text x="753.9" y="1658.2" font-size="17.0" text-anchor="end">3</text>
<text x="753.9" y="1684.8" font-size="17.0" text-anchor="end">2</text>
<text x="753.9" y="1711.3" font-size="17.0" text-anchor="end">1</text>
<text x="753.9" y="1737.9" font-size="17.0" text-anchor="end">0</text>
<text x="780.8" y="1760.7" font-size="17.0" text-anchor="middle">Non-</text>
<text x="780.8" y="1780.6" font-size="17.0" text-anchor="middle">tmr</text>
<text x="821.7" y="1760.7" font-size="17.0" text-anchor="middle">Tmr</text>
<text x="821.7" y="1780.6" font-size="17.0" text-anchor="middle">1</text>
<text x="861.6" y="1760.7" font-size="17.0" text-anchor="middle">Tmr</text>
<text x="861.6" y="1780.6" font-size="17.0" text-anchor="middle">12</text>
<text x="651.5" y="1802.1" font-size="19.2" font-style="italic">Ccn1</text>
<path d="M634.2 1823.2V1918.4M618.7 1918.4H649.7" stroke="#222" stroke-width="1.3" fill="none"/>
<path d="M669.8 1823.2C670.0 1825.2 670.5 1832.2 670.7 1835.3C671.0 1838.5 671.0 1838.7 671.4 1842.0C671.8 1845.3 672.5 1850.8 673.2 1855.3C673.8 1859.7 674.5 1864.5 675.2 1868.6C675.8 1872.6 676.4 1875.9 677.2 1879.6C677.9 1883.3 678.8 1887.4 679.6 1890.7C680.3 1894.0 681.0 1897.0 681.6 1899.5C682.1 1902.1 682.4 1904.0 682.9 1906.2C683.4 1908.4 684.2 1910.9 684.7 1912.8C685.1 1914.8 685.4 1916.8 685.6 1917.7C685.7 1918.6 690.9 1918.3 685.6 1918.4L653.7 1918.4C648.4 1918.3 653.5 1918.6 653.7 1917.7C653.8 1916.8 654.1 1914.8 654.6 1912.8C655.0 1910.9 655.8 1908.4 656.3 1906.2C656.9 1904.0 657.1 1902.1 657.7 1899.5C658.2 1897.0 658.9 1894.0 659.7 1890.7C660.4 1887.4 661.4 1883.3 662.1 1879.6C662.8 1875.9 663.4 1872.6 664.1 1868.6C664.8 1864.5 665.5 1859.7 666.1 1855.3C666.7 1850.8 667.4 1845.3 667.9 1842.0C668.3 1838.7 668.3 1838.5 668.5 1835.3C668.8 1832.2 669.3 1825.2 669.4 1823.2Z" fill="#ec6a55" stroke="#222" stroke-width="1" stroke-linejoin="round"/>
<path d="M705.7 1793.3C706.0 1795.1 706.7 1801.0 707.3 1804.4C707.8 1807.7 708.2 1809.9 709.0 1813.2C709.8 1816.5 711.1 1820.6 712.1 1824.3C713.2 1828.0 714.5 1832.0 715.5 1835.3C716.4 1838.7 717.1 1841.3 717.9 1844.2C718.6 1847.2 719.3 1850.1 719.9 1853.1C720.4 1856.0 720.9 1859.3 721.2 1861.9C721.5 1864.5 721.6 1866.0 721.4 1868.6C721.2 1871.1 720.7 1874.5 720.1 1877.4C719.5 1880.4 718.5 1883.3 717.7 1886.3C716.8 1889.2 715.7 1892.2 715.0 1895.1C714.3 1898.1 713.6 1901.0 713.2 1904.0C712.8 1906.9 712.6 1910.5 712.6 1912.8C712.6 1915.1 713.2 1916.8 713.2 1917.7C713.3 1918.6 715.3 1918.3 712.8 1918.4L698.2 1918.4C695.7 1918.3 697.7 1918.6 697.7 1917.7C697.8 1916.8 698.4 1915.1 698.4 1912.8C698.4 1910.5 698.1 1906.9 697.7 1904.0C697.3 1901.0 696.7 1898.1 696.0 1895.1C695.2 1892.2 694.2 1889.2 693.3 1886.3C692.5 1883.3 691.5 1880.4 690.9 1877.4C690.2 1874.5 689.7 1871.1 689.5 1868.6C689.4 1866.0 689.5 1864.5 689.8 1861.9C690.0 1859.3 690.5 1856.0 691.1 1853.1C691.7 1850.1 692.4 1847.2 693.1 1844.2C693.8 1841.3 694.6 1838.7 695.5 1835.3C696.5 1832.0 697.8 1828.0 698.8 1824.3C699.9 1820.6 701.1 1816.5 701.9 1813.2C702.8 1809.9 703.2 1807.7 703.7 1804.4C704.3 1801.0 705.0 1795.1 705.3 1793.3Z" fill="#80f8f8" stroke="#222" stroke-width="1" stroke-linejoin="round"/>
<path d="M613.2 1786.6V1925.0H727.2M613.2 1792.8h-3.5M613.2 1824.3h-3.5M613.2 1855.7h-3.5M613.2 1887.2h-3.5M613.2 1918.4h-3.5M634.2 1925.0v4M669.6 1925.0v4M705.5 1925.0v4" stroke="#000" stroke-width="1.6" fill="none"/>
<line x1="618.7" y1="1912.8" x2="649.7" y2="1912.8" stroke="#000" stroke-width="1.5"/>
<line x1="654.1" y1="1895.8" x2="685.1" y2="1895.8" stroke="#000" stroke-width="1.5"/>
<line x1="690.0" y1="1869.0" x2="721.0" y2="1869.0" stroke="#000" stroke-width="1.5"/>
<text x="607.2" y="1798.8" font-size="17.0" text-anchor="end">4</text>
<text x="607.2" y="1830.3" font-size="17.0" text-anchor="end">3</text>
<text x="607.2" y="1861.7" font-size="17.0" text-anchor="end">2</text>
<text x="607.2" y="1893.2" font-size="17.0" text-anchor="end">1</text>
<text x="607.2" y="1924.4" font-size="17.0" text-anchor="end">0</text>
<text x="639.7" y="1947.1" font-size="17.0" text-anchor="middle">Non-</text>
<text x="639.7" y="1967.1" font-size="17.0" text-anchor="middle">tmr</text>
<text x="681.1" y="1947.1" font-size="17.0" text-anchor="middle">Tmr</text>
<text x="681.1" y="1967.1" font-size="17.0" text-anchor="middle">1</text>
<text x="721.0" y="1947.1" font-size="17.0" text-anchor="middle">Tmr</text>
<text x="721.0" y="1967.1" font-size="17.0" text-anchor="middle">12</text>
<text transform="translate(594.3 1859.7) rotate(-90)" font-size="16.6" text-anchor="middle">Expression Level</text>
<text x="806.9" y="1802.1" font-size="19.9" font-style="italic">Fos</text>
<path d="M784.2 1807.7C784.2 1821.5 784.2 1873.5 784.4 1890.7C784.6 1907.9 784.1 1906.7 785.2 1910.6C786.2 1914.5 788.3 1912.9 790.7 1913.9C793.1 1915.0 798.1 1916.2 799.6 1916.8C801.1 1917.4 804.7 1917.6 799.6 1917.7L768.6 1917.7C763.4 1917.6 767.1 1917.4 768.6 1916.8C770.1 1916.2 775.0 1915.0 777.4 1913.9C779.8 1912.9 781.9 1914.5 783.0 1910.6C784.0 1906.7 783.6 1907.9 783.7 1890.7C783.9 1873.5 783.9 1821.5 783.9 1807.7Z" fill="#9b80c4" stroke="#222" stroke-width="1" stroke-linejoin="round"/>
<path d="M819.9 1813.2C820.1 1815.1 820.5 1820.6 821.1 1824.3C821.6 1828.0 822.2 1831.7 823.0 1835.3C823.9 1839.0 825.1 1842.7 826.4 1846.4C827.7 1850.1 829.5 1854.2 830.8 1857.5C832.0 1860.8 833.1 1863.4 833.9 1866.3C834.7 1869.3 835.4 1872.2 835.7 1875.2C836.0 1878.1 835.7 1881.5 835.7 1884.1C835.6 1886.6 835.5 1888.5 835.2 1890.7C834.9 1892.9 834.2 1895.1 833.9 1897.3C833.6 1899.5 833.6 1901.4 833.4 1904.0C833.3 1906.6 833.2 1910.6 833.0 1912.8C832.9 1915.0 832.7 1916.4 832.6 1917.3C832.4 1918.1 836.1 1917.6 831.9 1917.7L807.5 1917.7C803.4 1917.6 807.1 1918.1 806.9 1917.3C806.7 1916.4 806.6 1915.0 806.4 1912.8C806.3 1910.6 806.1 1906.6 806.0 1904.0C805.8 1901.4 805.8 1899.5 805.6 1897.3C805.3 1895.1 804.5 1892.9 804.2 1890.7C803.9 1888.5 803.9 1886.6 803.8 1884.1C803.7 1881.5 803.5 1878.1 803.8 1875.2C804.1 1872.2 804.7 1869.3 805.6 1866.3C806.4 1863.4 807.4 1860.8 808.7 1857.5C809.9 1854.2 811.8 1850.1 813.1 1846.4C814.4 1842.7 815.5 1839.0 816.4 1835.3C817.3 1831.7 817.9 1828.0 818.4 1824.3C818.9 1820.6 819.3 1815.1 819.5 1813.2Z" fill="#ec6a55" stroke="#222" stroke-width="1" stroke-linejoin="round"/>
<path d="M855.4 1792.2C855.6 1794.2 856.1 1800.8 856.5 1804.4C856.9 1807.9 857.1 1809.9 857.8 1813.2C858.5 1816.5 859.6 1820.6 860.7 1824.3C861.7 1828.0 862.9 1832.0 864.0 1835.3C865.1 1838.7 866.5 1841.6 867.5 1844.2C868.6 1846.8 869.6 1848.8 870.2 1850.8C870.8 1852.9 871.3 1854.5 871.3 1856.4C871.3 1858.2 871.1 1859.1 870.2 1861.9C869.3 1864.7 867.2 1869.7 865.8 1873.0C864.4 1876.3 863.0 1878.9 861.8 1881.8C860.6 1884.8 859.4 1887.7 858.5 1890.7C857.6 1893.6 856.9 1896.6 856.5 1899.5C856.0 1902.5 856.0 1905.4 855.8 1908.4C855.7 1911.4 855.8 1916.2 855.6 1917.7L854.7 1917.7C854.5 1916.2 854.6 1911.4 854.5 1908.4C854.3 1905.4 854.3 1902.5 853.8 1899.5C853.4 1896.6 852.7 1893.6 851.8 1890.7C850.9 1887.7 849.7 1884.8 848.5 1881.8C847.3 1878.9 845.9 1876.3 844.5 1873.0C843.1 1869.7 841.0 1864.7 840.1 1861.9C839.2 1859.1 839.0 1858.2 839.0 1856.4C839.0 1854.5 839.5 1852.9 840.1 1850.8C840.7 1848.8 841.7 1846.8 842.7 1844.2C843.8 1841.6 845.1 1838.7 846.3 1835.3C847.4 1832.0 848.6 1828.0 849.6 1824.3C850.6 1820.6 851.8 1816.5 852.5 1813.2C853.2 1809.9 853.4 1807.9 853.8 1804.4C854.2 1800.8 854.7 1794.2 854.9 1792.2Z" fill="#80f8f8" stroke="#222" stroke-width="1" stroke-linejoin="round"/>
<path d="M762.6 1786.6V1923.9H876.6M762.6 1807.7h-3.5M762.6 1835.3h-3.5M762.6 1862.6h-3.5M762.6 1890.0h-3.5M762.6 1917.7h-3.5M784.1 1923.9v4M819.7 1923.9v4M855.1 1923.9v4" stroke="#000" stroke-width="1.6" fill="none"/>
<line x1="768.6" y1="1907.7" x2="799.6" y2="1907.7" stroke="#000" stroke-width="1.5"/>
<line x1="804.2" y1="1884.7" x2="835.2" y2="1884.7" stroke="#000" stroke-width="1.5"/>
<line x1="839.6" y1="1855.3" x2="870.6" y2="1855.3" stroke="#000" stroke-width="1.5"/>
<text x="756.6" y="1813.7" font-size="17.0" text-anchor="end">4</text>
<text x="756.6" y="1841.3" font-size="17.0" text-anchor="end">3</text>
<text x="756.6" y="1868.6" font-size="17.0" text-anchor="end">2</text>
<text x="756.6" y="1896.0" font-size="17.0" text-anchor="end">1</text>
<text x="756.6" y="1923.7" font-size="17.0" text-anchor="end">0</text>
<text x="784.8" y="1946.0" font-size="17.0" text-anchor="middle">Non-</text>
<text x="784.8" y="1966.0" font-size="17.0" text-anchor="middle">tmr</text>
<text x="826.1" y="1946.0" font-size="17.0" text-anchor="middle">Tmr</text>
<text x="826.1" y="1966.0" font-size="17.0" text-anchor="middle">1</text>
<text x="865.9" y="1946.0" font-size="17.0" text-anchor="middle">Tmr</text>
<text x="865.9" y="1966.0" font-size="17.0" text-anchor="middle">12</text>
<text x="645.3" y="1988.1" font-size="19.5" font-style="italic">Runx1</text>
<path d="M635.9 1989.2C636.0 1998.6 636.2 2032.6 636.4 2045.7C636.6 2058.8 636.9 2061.2 637.1 2067.8C637.3 2074.4 637.4 2081.1 637.5 2085.5C637.7 2089.9 637.5 2091.4 638.0 2094.4C638.4 2097.3 639.1 2100.8 640.2 2103.2C641.2 2105.6 642.7 2107.3 644.2 2108.8C645.6 2110.2 647.8 2111.2 649.0 2112.1C650.3 2112.9 651.2 2113.5 651.7 2113.8C652.1 2114.2 657.0 2114.2 651.7 2114.3L619.8 2114.3C614.5 2114.2 619.4 2114.2 619.8 2113.8C620.3 2113.5 621.2 2112.9 622.5 2112.1C623.7 2111.2 625.9 2110.2 627.3 2108.8C628.8 2107.3 630.3 2105.6 631.3 2103.2C632.4 2100.8 633.1 2097.3 633.5 2094.4C634.0 2091.4 633.8 2089.9 634.0 2085.5C634.1 2081.1 634.2 2074.4 634.4 2067.8C634.6 2061.2 634.9 2058.8 635.1 2045.7C635.3 2032.6 635.5 1998.6 635.6 1989.2Z" fill="#9b80c4" stroke="#222" stroke-width="1" stroke-linejoin="round"/>
<path d="M671.4 2017.3C671.6 2018.7 672.1 2022.9 672.5 2025.7C672.9 2028.6 673.0 2031.3 673.8 2034.6C674.6 2037.9 676.2 2042.0 677.4 2045.7C678.6 2049.4 680.0 2053.4 681.1 2056.7C682.2 2060.1 683.2 2062.6 684.0 2065.6C684.9 2068.5 685.7 2071.5 686.2 2074.4C686.7 2077.4 687.0 2080.7 687.1 2083.3C687.3 2085.9 687.3 2087.7 687.1 2089.9C686.9 2092.2 686.4 2094.4 686.0 2096.6C685.6 2098.8 685.2 2101.0 684.9 2103.2C684.6 2105.4 684.5 2108.1 684.5 2109.9C684.4 2111.6 684.6 2113.1 684.5 2113.8C684.3 2114.6 688.1 2114.2 683.8 2114.3L658.6 2114.3C654.2 2114.2 658.0 2114.6 657.9 2113.8C657.8 2113.1 658.0 2111.6 657.9 2109.9C657.8 2108.1 657.7 2105.4 657.4 2103.2C657.2 2101.0 656.7 2098.8 656.3 2096.6C656.0 2094.4 655.4 2092.2 655.2 2089.9C655.0 2087.7 655.1 2085.9 655.2 2083.3C655.4 2080.7 655.6 2077.4 656.1 2074.4C656.6 2071.5 657.5 2068.5 658.3 2065.6C659.2 2062.6 660.1 2060.1 661.2 2056.7C662.3 2053.4 663.8 2049.4 665.0 2045.7C666.2 2042.0 667.7 2037.9 668.5 2034.6C669.3 2031.3 669.4 2028.6 669.8 2025.7C670.3 2022.9 670.8 2018.7 671.0 2017.3Z" fill="#ec6a55" stroke="#222" stroke-width="1" stroke-linejoin="round"/>
<path d="M707.0 1989.9C707.1 1991.8 707.4 1997.6 707.7 2001.4C708.0 2005.1 708.1 2008.8 708.6 2012.5C709.1 2016.1 710.0 2019.8 710.8 2023.5C711.6 2027.2 712.5 2030.9 713.5 2034.6C714.5 2038.3 715.7 2042.0 716.8 2045.7C717.9 2049.4 719.2 2053.4 720.1 2056.7C721.0 2060.1 721.6 2063.0 722.1 2065.6C722.5 2068.2 722.8 2069.6 722.8 2072.2C722.7 2074.8 722.3 2078.1 721.9 2081.1C721.4 2084.0 720.6 2087.0 720.1 2089.9C719.6 2092.9 719.2 2096.2 719.0 2098.8C718.8 2101.4 718.9 2103.2 719.0 2105.4C719.1 2107.7 719.6 2110.6 719.7 2112.1C719.7 2113.6 723.4 2113.9 719.2 2114.3L694.4 2114.3C690.2 2113.9 693.9 2113.6 694.0 2112.1C694.0 2110.6 694.5 2107.7 694.6 2105.4C694.8 2103.2 694.8 2101.4 694.6 2098.8C694.5 2096.2 694.0 2092.9 693.5 2089.9C693.1 2087.0 692.2 2084.0 691.8 2081.1C691.3 2078.1 690.9 2074.8 690.9 2072.2C690.8 2069.6 691.1 2068.2 691.5 2065.6C692.0 2063.0 692.6 2060.1 693.5 2056.7C694.4 2053.4 695.7 2049.4 696.9 2045.7C698.0 2042.0 699.2 2038.3 700.2 2034.6C701.2 2030.9 702.0 2027.2 702.8 2023.5C703.6 2019.8 704.5 2016.1 705.0 2012.5C705.6 2008.8 705.7 2005.1 705.9 2001.4C706.2 1997.6 706.5 1991.8 706.6 1989.9Z" fill="#80f8f8" stroke="#222" stroke-width="1" stroke-linejoin="round"/>
<path d="M614.7 1982.6V2121.6H728.3M614.7 2027.5h-3.5M614.7 2071.1h-3.5M614.7 2114.3h-3.5M635.8 2121.6v4M671.2 2121.6v4M706.8 2121.6v4" stroke="#000" stroke-width="1.6" fill="none"/>
<line x1="620.3" y1="2100.6" x2="651.2" y2="2100.6" stroke="#000" stroke-width="1.5"/>
<line x1="655.7" y1="2082.6" x2="686.7" y2="2082.6" stroke="#000" stroke-width="1.5"/>
<line x1="691.3" y1="2076.7" x2="722.3" y2="2076.7" stroke="#000" stroke-width="1.5"/>
<text x="608.7" y="2033.5" font-size="17.0" text-anchor="end">2</text>
<text x="608.7" y="2077.1" font-size="17.0" text-anchor="end">1</text>
<text x="608.7" y="2120.3" font-size="17.0" text-anchor="end">0</text>
<text x="643.1" y="2143.1" font-size="17.0" text-anchor="middle">Non-</text>
<text x="643.1" y="2163.4" font-size="17.0" text-anchor="middle">tmr</text>
<text x="685.6" y="2143.1" font-size="17.0" text-anchor="middle">Tmr</text>
<text x="685.6" y="2163.4" font-size="17.0" text-anchor="middle">1</text>
<text x="724.3" y="2143.1" font-size="17.0" text-anchor="middle">Tmr</text>
<text x="724.3" y="2163.4" font-size="17.0" text-anchor="middle">12</text>
<text transform="translate(594.3 2057.8) rotate(-90)" font-size="16.6" text-anchor="middle">Expression Level</text>
<text x="802.5" y="1988.1" font-size="18.9" font-style="italic">Egr1</text>
<path d="M782.3 2000.3C782.4 2007.8 782.7 2034.4 783.0 2045.7C783.2 2056.9 783.6 2061.2 783.9 2067.8C784.1 2074.4 784.1 2080.7 784.3 2085.5C784.5 2090.3 784.5 2093.6 785.0 2096.6C785.4 2099.5 786.0 2101.2 787.0 2103.2C788.0 2105.3 789.4 2107.3 790.9 2108.8C792.5 2110.2 795.1 2111.3 796.3 2112.1C797.4 2112.9 797.7 2113.1 798.0 2113.4C798.3 2113.7 803.3 2113.8 798.0 2113.8L766.1 2113.8C760.8 2113.8 765.9 2113.7 766.1 2113.4C766.4 2113.1 766.7 2112.9 767.9 2112.1C769.1 2111.3 771.7 2110.2 773.2 2108.8C774.8 2107.3 776.2 2105.3 777.2 2103.2C778.2 2101.2 778.8 2099.5 779.2 2096.6C779.7 2093.6 779.7 2090.3 779.9 2085.5C780.1 2080.7 780.1 2074.4 780.3 2067.8C780.5 2061.2 780.9 2056.9 781.2 2045.7C781.5 2034.4 781.8 2007.8 781.9 2000.3Z" fill="#9b80c4" stroke="#222" stroke-width="1" stroke-linejoin="round"/>
<path d="M818.0 2004.7C818.2 2006.0 818.9 2009.3 819.7 2012.5C820.6 2015.6 821.9 2020.2 823.0 2023.5C824.2 2026.8 825.5 2029.4 826.8 2032.4C828.1 2035.3 829.8 2038.5 830.8 2041.2C831.8 2044.0 832.6 2046.6 833.0 2049.0C833.4 2051.4 833.6 2053.2 833.4 2055.6C833.3 2058.0 832.8 2060.6 832.1 2063.4C831.5 2066.1 830.3 2069.3 829.5 2072.2C828.6 2075.2 827.6 2078.1 826.8 2081.1C826.0 2084.0 825.3 2086.6 824.6 2089.9C823.9 2093.3 823.3 2097.3 822.8 2101.0C822.3 2104.7 821.8 2109.9 821.5 2112.1C821.2 2114.2 822.6 2113.6 821.3 2113.8L813.7 2113.8C812.5 2113.6 813.8 2114.2 813.5 2112.1C813.3 2109.9 812.7 2104.7 812.2 2101.0C811.7 2097.3 811.1 2093.3 810.4 2089.9C809.8 2086.6 809.0 2084.0 808.2 2081.1C807.4 2078.1 806.4 2075.2 805.6 2072.2C804.7 2069.3 803.6 2066.1 802.9 2063.4C802.2 2060.6 801.7 2058.0 801.6 2055.6C801.4 2053.2 801.6 2051.4 802.0 2049.0C802.5 2046.6 803.2 2044.0 804.2 2041.2C805.3 2038.5 806.9 2035.3 808.2 2032.4C809.5 2029.4 810.8 2026.8 812.0 2023.5C813.2 2020.2 814.4 2015.6 815.3 2012.5C816.1 2009.3 816.8 2006.0 817.1 2004.7Z" fill="#ec6a55" stroke="#222" stroke-width="1" stroke-linejoin="round"/>
<path d="M853.6 1988.5C853.9 1989.6 854.6 1992.6 855.1 1994.7C855.7 1996.9 855.9 1998.8 856.9 2001.4C857.9 2004.0 859.9 2007.3 861.3 2010.2C862.8 2013.2 864.6 2016.5 865.8 2019.1C867.0 2021.7 867.8 2023.7 868.4 2025.7C869.0 2027.8 869.3 2029.4 869.3 2031.3C869.3 2033.1 869.1 2034.8 868.4 2036.8C867.8 2038.8 866.6 2041.2 865.6 2043.4C864.5 2045.7 863.3 2047.9 862.2 2050.1C861.1 2052.3 859.9 2054.3 858.9 2056.7C857.9 2059.1 856.8 2061.9 856.0 2064.5C855.2 2067.1 854.4 2067.8 854.0 2072.2C853.6 2076.7 853.7 2087.9 853.6 2091.0L853.2 2091.0C853.0 2087.9 853.1 2076.7 852.7 2072.2C852.3 2067.8 851.5 2067.1 850.7 2064.5C849.9 2061.9 848.9 2059.1 847.8 2056.7C846.8 2054.3 845.6 2052.3 844.5 2050.1C843.4 2047.9 842.2 2045.7 841.2 2043.4C840.2 2041.2 838.9 2038.8 838.3 2036.8C837.7 2034.8 837.4 2033.1 837.4 2031.3C837.4 2029.4 837.7 2027.8 838.3 2025.7C838.9 2023.7 839.8 2021.7 841.0 2019.1C842.2 2016.5 843.9 2013.2 845.4 2010.2C846.9 2007.3 848.8 2004.0 849.8 2001.4C850.9 1998.8 851.0 1996.9 851.6 1994.7C852.2 1992.6 852.9 1989.6 853.2 1988.5Z" fill="#80f8f8" stroke="#222" stroke-width="1" stroke-linejoin="round"/>
<path d="M760.8 1982.6V2119.8H875.5M760.8 2000.3h-3.5M760.8 2026.2h-3.5M760.8 2055.6h-3.5M760.8 2085.1h-3.5M760.8 2113.8h-3.5M782.1 2119.8v4M817.5 2119.8v4M853.4 2119.8v4" stroke="#000" stroke-width="1.6" fill="none"/>
<line x1="766.6" y1="2098.1" x2="797.6" y2="2098.1" stroke="#000" stroke-width="1.5"/>
<line x1="802.0" y1="2063.8" x2="833.0" y2="2063.8" stroke="#000" stroke-width="1.5"/>
<line x1="837.9" y1="2031.9" x2="868.9" y2="2031.9" stroke="#000" stroke-width="1.5"/>
<text x="754.8" y="2006.3" font-size="17.0" text-anchor="end">4</text>
<text x="754.8" y="2032.2" font-size="17.0" text-anchor="end">3</text>
<text x="754.8" y="2061.6" font-size="17.0" text-anchor="end">2</text>
<text x="754.8" y="2091.1" font-size="17.0" text-anchor="end">1</text>
<text x="754.8" y="2119.8" font-size="17.0" text-anchor="end">0</text>
<text x="784.7" y="2140.9" font-size="17.0" text-anchor="middle">Non-</text>
<text x="784.7" y="2161.2" font-size="17.0" text-anchor="middle">tmr</text>
<text x="826.8" y="2140.9" font-size="17.0" text-anchor="middle">Tmr</text>
<text x="826.8" y="2161.2" font-size="17.0" text-anchor="middle">1</text>
<text x="866.0" y="2140.9" font-size="17.0" text-anchor="middle">Tmr</text>
<text x="866.0" y="2161.2" font-size="17.0" text-anchor="middle">12</text>
<text x="634.6" y="2184.7" font-size="19.6" font-style="italic">Adamts1</text>
<path d="M637.8 2219.4V2314.7M621.7 2314.7H653.9" stroke="#222" stroke-width="1.3" fill="none"/>
<path d="M673.3 2240.2C673.5 2242.3 673.7 2249.4 674.0 2252.9C674.4 2256.4 674.7 2258.5 675.3 2261.4C675.9 2264.2 676.7 2267.0 677.4 2269.8C678.1 2272.7 678.9 2275.5 679.5 2278.3C680.2 2281.1 680.7 2284.0 681.2 2286.8C681.8 2289.6 682.4 2292.8 682.9 2295.3C683.5 2297.7 684.0 2299.5 684.6 2301.6C685.3 2303.7 686.0 2306.1 686.7 2308.0C687.5 2309.8 688.8 2311.5 689.3 2312.6C689.8 2313.8 695.1 2314.4 689.7 2314.7L656.7 2314.7C651.2 2314.4 656.6 2313.8 657.1 2312.6C657.6 2311.5 658.8 2309.8 659.6 2308.0C660.4 2306.1 661.1 2303.7 661.7 2301.6C662.4 2299.5 662.9 2297.7 663.4 2295.3C664.0 2292.8 664.6 2289.6 665.1 2286.8C665.7 2284.0 666.2 2281.1 666.8 2278.3C667.5 2275.5 668.2 2272.7 668.9 2269.8C669.6 2267.0 670.5 2264.2 671.1 2261.4C671.6 2258.5 672.0 2256.4 672.3 2252.9C672.7 2249.4 672.9 2242.3 673.0 2240.2Z" fill="#ec6a55" stroke="#222" stroke-width="1" stroke-linejoin="round"/>
<path d="M708.9 2189.3C709.1 2193.6 709.4 2208.7 709.6 2214.7C709.9 2220.7 710.0 2221.8 710.5 2225.3C710.9 2228.9 711.6 2232.0 712.4 2235.9C713.1 2239.8 714.2 2244.8 715.1 2248.6C716.0 2252.5 717.0 2256.1 717.7 2259.2C718.4 2262.4 718.9 2264.9 719.4 2267.7C719.9 2270.5 720.4 2273.7 720.6 2276.2C720.9 2278.7 721.2 2280.4 721.1 2282.5C721.0 2284.7 720.4 2286.8 720.0 2288.9C719.6 2291.0 719.0 2293.3 718.9 2295.3C718.8 2297.2 719.0 2298.8 719.4 2300.6C719.7 2302.3 720.3 2304.1 721.1 2305.8C721.8 2307.6 723.3 2309.7 724.0 2311.1C724.7 2312.6 730.6 2314.1 725.3 2314.7L692.2 2314.7C686.9 2314.1 692.8 2312.6 693.5 2311.1C694.2 2309.7 695.7 2307.6 696.5 2305.8C697.3 2304.1 697.8 2302.3 698.2 2300.6C698.5 2298.8 698.7 2297.2 698.6 2295.3C698.5 2293.3 697.9 2291.0 697.5 2288.9C697.2 2286.8 696.6 2284.7 696.5 2282.5C696.4 2280.4 696.6 2278.7 696.9 2276.2C697.2 2273.7 697.7 2270.5 698.2 2267.7C698.7 2264.9 699.2 2262.4 699.9 2259.2C700.6 2256.1 701.5 2252.5 702.4 2248.6C703.3 2244.8 704.4 2239.8 705.2 2235.9C705.9 2232.0 706.6 2228.9 707.1 2225.3C707.5 2221.8 707.7 2220.7 707.9 2214.7C708.2 2208.7 708.5 2193.6 708.6 2189.3Z" fill="#80f8f8" stroke="#222" stroke-width="1" stroke-linejoin="round"/>
<path d="M616.6 2183.0V2321.3H730.0M616.6 2190.4h-3.5M616.6 2221.5h-3.5M616.6 2252.9h-3.5M616.6 2284.0h-3.5M616.6 2314.7h-3.5M637.8 2321.3v4M673.2 2321.3v4M708.8 2321.3v4" stroke="#000" stroke-width="1.6" fill="none"/>
<line x1="621.9" y1="2309.0" x2="653.7" y2="2309.0" stroke="#000" stroke-width="1.5"/>
<line x1="657.3" y1="2298.0" x2="689.1" y2="2298.0" stroke="#000" stroke-width="1.5"/>
<line x1="692.9" y1="2285.9" x2="724.7" y2="2285.9" stroke="#000" stroke-width="1.5"/>
<text x="610.6" y="2196.4" font-size="17.0" text-anchor="end">4</text>
<text x="610.6" y="2227.5" font-size="17.0" text-anchor="end">3</text>
<text x="610.6" y="2258.9" font-size="17.0" text-anchor="end">2</text>
<text x="610.6" y="2290.0" font-size="17.0" text-anchor="end">1</text>
<text x="610.6" y="2320.7" font-size="17.0" text-anchor="end">0</text>
<text x="639.3" y="2342.9" font-size="17.0" text-anchor="middle">Non-</text>
<text x="639.3" y="2363.1" font-size="17.0" text-anchor="middle">tmr</text>
<text x="680.6" y="2342.9" font-size="17.0" text-anchor="middle">Tmr</text>
<text x="680.6" y="2363.1" font-size="17.0" text-anchor="middle">1</text>
<text x="720.4" y="2342.9" font-size="17.0" text-anchor="middle">Tmr</text>
<text x="720.4" y="2363.1" font-size="17.0" text-anchor="middle">12</text>
<text transform="translate(594.6 2245.5) rotate(-90)" font-size="16.6" text-anchor="middle">Expression Level</text>
<text x="803.1" y="2184.7" font-size="19.6" font-style="italic">Areg</text>
<path d="M784.0 2189.7V2313.3M767.9 2313.3H800.1" stroke="#222" stroke-width="1.3" fill="none"/>
<path d="M819.7 2209.4C819.9 2213.9 820.4 2229.8 820.6 2235.9C820.9 2242.1 820.9 2242.3 821.3 2246.5C821.6 2250.8 822.2 2256.1 822.8 2261.4C823.4 2266.7 824.2 2273.4 824.9 2278.3C825.6 2283.2 826.3 2287.5 827.0 2291.0C827.7 2294.5 828.3 2297.0 829.1 2299.5C829.9 2302.0 830.9 2304.0 831.9 2305.8C832.8 2307.7 834.1 2309.3 834.8 2310.5C835.5 2311.7 841.4 2312.8 836.1 2313.3L803.1 2313.3C797.8 2312.8 803.6 2311.7 804.3 2310.5C805.0 2309.3 806.3 2307.7 807.3 2305.8C808.2 2304.0 809.2 2302.0 810.0 2299.5C810.9 2297.0 811.5 2294.5 812.2 2291.0C812.9 2287.5 813.6 2283.2 814.3 2278.3C815.0 2273.4 815.8 2266.7 816.4 2261.4C817.0 2256.1 817.5 2250.8 817.9 2246.5C818.2 2242.3 818.3 2242.1 818.5 2235.9C818.8 2229.8 819.3 2213.9 819.4 2209.4Z" fill="#ec6a55" stroke="#222" stroke-width="1" stroke-linejoin="round"/>
<path d="M855.1 2188.3C855.3 2190.9 855.7 2199.7 856.0 2204.2C856.3 2208.6 856.5 2210.2 857.1 2214.7C857.7 2219.3 858.7 2226.4 859.6 2231.7C860.5 2237.0 861.5 2241.6 862.4 2246.5C863.2 2251.5 864.0 2256.8 864.7 2261.4C865.4 2265.9 866.4 2270.5 866.6 2274.1C866.8 2277.6 866.3 2279.7 866.0 2282.5C865.6 2285.4 864.6 2288.5 864.5 2291.0C864.4 2293.5 864.7 2295.4 865.1 2297.4C865.5 2299.3 866.1 2300.9 866.8 2302.7C867.5 2304.4 868.6 2306.4 869.4 2308.0C870.1 2309.5 871.1 2310.9 871.5 2311.8C871.8 2312.7 877.0 2313.0 871.5 2313.3L838.4 2313.3C832.9 2313.0 838.1 2312.7 838.4 2311.8C838.8 2310.9 839.8 2309.5 840.6 2308.0C841.3 2306.4 842.4 2304.4 843.1 2302.7C843.8 2300.9 844.4 2299.3 844.8 2297.4C845.2 2295.4 845.6 2293.5 845.4 2291.0C845.3 2288.5 844.3 2285.4 843.9 2282.5C843.6 2279.7 843.1 2277.6 843.3 2274.1C843.5 2270.5 844.5 2265.9 845.2 2261.4C845.9 2256.8 846.7 2251.5 847.5 2246.5C848.4 2241.6 849.4 2237.0 850.3 2231.7C851.2 2226.4 852.2 2219.3 852.8 2214.7C853.4 2210.2 853.6 2208.6 853.9 2204.2C854.2 2199.7 854.6 2190.9 854.8 2188.3Z" fill="#80f8f8" stroke="#222" stroke-width="1" stroke-linejoin="round"/>
<path d="M762.4 2183.0V2320.3H876.1M762.4 2195.7h-3.5M762.4 2234.9h-3.5M762.4 2274.1h-3.5M762.4 2313.3h-3.5M784.0 2320.3v4M819.6 2320.3v4M855.0 2320.3v4" stroke="#000" stroke-width="1.6" fill="none"/>
<line x1="768.1" y1="2311.1" x2="799.9" y2="2311.1" stroke="#000" stroke-width="1.5"/>
<line x1="803.7" y1="2296.7" x2="835.5" y2="2296.7" stroke="#000" stroke-width="1.5"/>
<line x1="839.1" y1="2283.0" x2="870.8" y2="2283.0" stroke="#000" stroke-width="1.5"/>
<text x="756.4" y="2201.7" font-size="17.0" text-anchor="end">3</text>
<text x="756.4" y="2240.9" font-size="17.0" text-anchor="end">2</text>
<text x="756.4" y="2280.1" font-size="17.0" text-anchor="end">1</text>
<text x="756.4" y="2319.3" font-size="17.0" text-anchor="end">0</text>
<text x="787.6" y="2341.2" font-size="17.0" text-anchor="middle">Non-</text>
<text x="787.6" y="2361.4" font-size="17.0" text-anchor="middle">tmr</text>
<text x="829.6" y="2341.2" font-size="17.0" text-anchor="middle">Tmr</text>
<text x="829.6" y="2361.4" font-size="17.0" text-anchor="middle">1</text>
<text x="868.8" y="2341.2" font-size="17.0" text-anchor="middle">Tmr</text>
<text x="868.8" y="2361.4" font-size="17.0" text-anchor="middle">12</text>
</g>
<g id="g-volcano">
<text x="214.2" y="1381.0" font-size="32.0" font-weight="bold">j</text>
<text x="280.9" y="1395.6" font-size="23.6" font-weight="bold">Tumour 12 vs Tumour 1</text>
<path d="M272 667h0M346 663h0M366 672h0M268 658h0M374 663h0M330 670h0M325 681h0M338 680h0M345 658h0M397 660h0M249 666h0M229 674h0M218 662h0M262 680h0M330 670h0M271 669h0M331 668h0M269 668h0M265 666h0M263 682h0M329 674h0M204 665h0M221 663h0M357 663h0M448 675h0M326 667h0M270 662h0M327 673h0M254 682h0M249 656h0M347 677h0M339 658h0M257 680h0M325 661h0M241 676h0M266 664h0M231 680h0M361 655h0M239 666h0M259 657h0M326 682h0M350 676h0M243 665h0M269 668h0M265 677h0M271 672h0M268 681h0M241 658h0M261 676h0M328 672h0M264 679h0M237 665h0M368 676h0M337 676h0M354 668h0M245 671h0M244 659h0M346 663h0M351 665h0M373 679h0M253 661h0M240 661h0M337 668h0M267 658h0M265 663h0M257 671h0M336 673h0M328 675h0M250 678h0M343 670h0M261 667h0M205 657h0M402 662h0M376 678h0M251 677h0M349 656h0M243 670h0M266 658h0M268 674h0M336 667h0M364 674h0M327 664h0M440 680h0M261 662h0M262 681h0M256 661h0M331 663h0M358 671h0M260 657h0M234 658h0M246 674h0M325 679h0M237 657h0M391 673h0M255 663h0M215 659h0M413 670h0M256 672h0M344 674h0M387 672h0M241 658h0M327 659h0M334 664h0M339 676h0M261 664h0M359 676h0M203 681h0M325 677h0M356 667h0M261 669h0M269 672h0M336 680h0M327 677h0M324 669h0M326 664h0M329 665h0M361 665h0M336 673h0M260 675h0M252 676h0M255 672h0M249 659h0M269 677h0M267 675h0M358 680h0M349 658h0M255 660h0" transform="translate(270 1420) scale(.5)" stroke="#3fae49" stroke-opacity="0.6" stroke-width="7.6" stroke-linecap="round" fill="none"/>
<path d="M326 674h0M335 667h0M328 655h0M407 678h0M346 670h0M252 659h0M351 679h0M265 665h0M258 668h0M328 663h0M248 674h0M250 675h0M334 677h0M251 660h0M266 662h0M332 662h0M324 657h0M394 670h0M357 662h0M232 682h0M271 665h0M270 666h0M332 664h0M330 661h0M328 680h0M329 665h0M324 668h0M343 668h0M327 667h0M262 659h0M195 664h0M354 678h0M339 656h0M260 676h0M271 678h0M268 681h0M269 666h0M333 656h0M325 675h0M269 661h0M244 666h0M340 671h0M250 661h0M250 659h0M246 656h0M259 673h0M270 676h0M238 673h0M344 680h0M352 665h0M338 677h0M252 667h0M365 674h0M217 658h0M341 669h0M269 674h0M187 669h0M228 680h0M237 680h0M338 681h0M182 675h0M334 675h0M258 668h0M270 658h0M327 676h0M264 680h0M339 664h0M334 674h0M328 677h0M328 667h0M255 679h0M272 662h0M236 662h0M264 671h0M238 661h0M329 673h0M334 674h0M360 674h0M325 656h0M267 659h0M330 661h0M336 669h0M343 667h0M230 678h0M336 657h0M239 666h0M326 666h0M269 678h0M233 657h0M328 674h0M269 680h0M258 657h0M252 677h0M228 661h0M328 662h0M334 666h0M260 661h0M342 681h0M330 671h0M349 671h0M270 656h0M331 663h0M422 668h0M271 662h0M264 665h0M339 675h0M372 679h0M372 678h0M348 663h0M345 672h0M239 665h0M265 664h0M325 664h0M176 672h0M339 660h0M231 667h0M243 666h0M248 674h0M349 667h0M331 665h0M266 662h0M363 664h0M236 674h0M265 660h0M263 674h0M388 662h0" transform="translate(270 1420) scale(.5)" stroke="#3fae49" stroke-opacity="0.6" stroke-width="7.6" stroke-linecap="round" fill="none"/>
<path d="M266 663h0M257 677h0M269 680h0M249 671h0M342 670h0M244 675h0M397 680h0M246 667h0M343 673h0M353 667h0M264 680h0M324 679h0M257 660h0M355 671h0M325 675h0M261 663h0M335 673h0M333 675h0M255 664h0M255 663h0M209 664h0M348 658h0M249 657h0M358 672h0M251 677h0M352 679h0M211 664h0M338 671h0M333 674h0M326 670h0M351 658h0M271 655h0M400 681h0M387 658h0M257 657h0M362 679h0M270 676h0M263 656h0M328 672h0M358 682h0M336 660h0M251 681h0M336 667h0M258 665h0M339 678h0M325 662h0M344 673h0M266 671h0M327 657h0M329 678h0M329 674h0M270 659h0M354 675h0M412 681h0M258 675h0M271 664h0M225 671h0M341 674h0M354 680h0M328 667h0M248 662h0M331 680h0M337 672h0M395 680h0M264 656h0M231 668h0M338 667h0M268 674h0M268 679h0M247 656h0M260 668h0M347 674h0M333 679h0M259 679h0M271 667h0M218 672h0M332 670h0M353 671h0M326 671h0M342 681h0M265 656h0M271 661h0M346 669h0M268 669h0M325 674h0M254 658h0M272 668h0M232 660h0M333 663h0M266 659h0M270 661h0M270 664h0M324 678h0M256 680h0M190 679h0M349 679h0M327 679h0M339 672h0M329 680h0M269 671h0M329 659h0M356 660h0M239 679h0M256 681h0M247 668h0M361 667h0M332 672h0M327 663h0M338 659h0M332 681h0M326 673h0M218 680h0M343 658h0M333 679h0M328 674h0M331 674h0M331 667h0M337 667h0M250 668h0M385 662h0M366 671h0M350 676h0M342 670h0M249 681h0M220 671h0M266 667h0" transform="translate(270 1420) scale(.5)" stroke="#3fae49" stroke-opacity="0.6" stroke-width="7.6" stroke-linecap="round" fill="none"/>
<path d="M262 653h0M266 652h0M269 596h0M240 627h0M264 416h0M260 651h0M262 624h0M270 568h0M253 556h0M251 629h0M264 634h0M271 589h0M272 570h0M266 452h0M268 587h0M272 628h0M271 610h0M269 519h0M219 585h0M269 638h0M269 581h0M255 640h0M230 647h0M266 633h0M253 642h0M269 553h0M237 597h0M270 441h0M250 636h0M270 571h0M271 614h0M267 643h0M255 631h0M269 593h0M253 648h0M258 601h0M254 597h0M249 639h0M270 479h0M256 523h0M269 543h0M268 523h0M244 646h0M259 629h0M272 483h0M261 628h0M267 631h0M268 602h0M266 638h0M262 627h0M269 612h0M265 636h0M270 446h0M261 364h0M254 602h0M257 606h0M264 644h0M266 639h0M267 654h0M269 638h0M266 645h0M270 614h0M258 537h0M261 562h0M263 638h0M271 653h0M260 589h0M257 626h0M271 441h0M264 611h0M250 636h0M269 549h0M271 570h0M271 638h0M258 628h0M264 560h0M268 647h0M235 601h0M265 616h0M271 589h0M257 593h0M226 630h0M270 649h0M260 614h0M261 497h0M268 646h0M271 617h0M261 634h0M263 588h0M268 576h0M268 423h0M270 625h0M266 575h0M264 648h0M259 607h0M246 608h0M265 541h0M264 603h0M257 651h0M232 609h0M264 614h0M268 577h0M259 560h0M271 588h0M268 623h0M251 591h0M272 547h0M262 618h0M263 598h0M260 564h0M262 626h0M262 500h0M268 564h0M254 635h0M239 644h0M272 604h0M272 512h0M268 620h0M270 614h0M266 647h0M242 527h0M270 646h0M256 636h0M251 628h0M269 642h0M270 651h0M271 608h0M239 650h0M271 593h0M264 614h0M259 638h0M266 582h0M271 566h0M267 582h0M261 638h0M255 592h0M260 630h0M262 652h0M257 599h0M261 611h0M260 610h0M269 645h0M260 609h0M246 524h0M268 548h0M263 605h0M271 607h0M270 640h0M258 560h0M262 644h0M268 615h0M265 613h0M268 612h0M265 642h0M268 620h0M260 632h0M270 626h0M267 551h0M261 618h0M269 645h0M271 627h0M255 642h0M258 615h0M266 632h0M269 587h0M257 633h0M267 653h0M245 534h0M270 574h0M259 605h0M266 647h0M266 591h0M264 608h0M269 653h0M268 651h0M262 544h0M271 476h0M267 554h0M249 622h0M259 649h0M268 594h0M271 587h0M257 652h0M260 459h0M269 646h0M266 284h0M249 616h0M264 508h0M271 640h0M264 592h0M236 587h0M270 431h0M268 573h0M264 645h0M261 570h0M262 598h0M268 448h0M266 611h0M235 645h0M271 632h0M263 630h0M243 608h0M261 612h0M267 621h0M269 357h0M244 562h0M265 614h0M258 631h0M267 581h0M265 430h0M262 591h0M272 629h0M258 650h0M270 494h0M262 640h0M269 574h0M261 623h0M259 626h0M260 645h0M271 619h0M267 474h0M248 648h0M267 609h0M268 357h0M271 643h0M258 642h0M270 644h0M272 584h0M249 574h0M270 643h0M261 638h0M271 600h0M264 646h0M265 614h0M258 597h0M245 652h0M251 498h0M270 604h0M261 603h0M259 646h0M271 652h0M269 523h0M263 581h0M271 459h0M243 581h0M265 530h0M264 645h0M259 640h0M259 600h0M239 646h0M267 604h0M265 534h0M269 475h0M265 584h0M270 570h0M261 559h0M267 591h0M272 605h0M248 647h0M267 624h0M261 526h0M270 609h0M271 639h0M249 600h0M259 621h0M268 562h0M266 534h0M330 393h0M343 646h0M324 620h0M332 652h0M331 646h0M325 602h0M337 634h0M330 617h0M327 620h0M331 498h0M336 372h0M348 606h0M331 589h0M335 561h0M385 550h0M335 587h0M334 615h0M326 620h0M330 621h0M386 629h0M327 560h0M342 633h0M330 598h0M337 615h0M325 641h0M326 610h0M329 599h0M334 591h0M345 622h0M336 643h0M343 581h0M332 183h0M327 640h0M330 542h0M347 423h0M350 522h0M339 459h0M330 654h0M325 584h0M337 577h0M333 642h0M326 558h0M359 638h0M324 595h0M390 604h0M356 641h0M343 563h0M345 572h0M336 570h0M335 589h0M326 590h0M331 548h0M324 649h0M325 583h0M335 609h0M352 649h0M344 643h0M343 637h0M348 625h0M334 577h0M334 650h0M353 580h0M329 647h0M325 597h0M336 621h0M358 523h0M355 376h0M328 592h0M342 611h0M336 602h0M344 619h0M326 596h0M326 638h0M325 628h0M332 599h0M350 611h0M325 440h0M333 637h0M327 635h0M332 581h0M339 505h0M334 609h0M395 585h0M408 631h0M337 503h0M336 635h0M328 632h0M361 483h0M353 356h0M326 381h0M363 512h0M343 380h0M375 631h0M342 560h0M326 654h0M354 557h0M369 647h0M337 567h0M325 633h0M328 650h0M340 570h0M329 608h0M331 600h0M340 646h0M349 604h0M359 539h0M345 637h0M351 627h0M333 464h0M337 523h0M334 568h0M357 617h0M329 592h0M350 625h0M345 468h0M352 459h0M361 542h0M331 571h0M345 547h0M339 550h0M360 558h0M339 603h0M331 644h0M329 644h0M329 639h0M341 537h0M343 631h0M351 461h0M327 549h0M330 626h0M325 451h0M326 634h0M346 593h0M327 521h0M374 610h0M327 550h0M337 637h0M359 613h0M326 532h0M328 584h0M331 581h0M340 625h0M326 644h0M329 651h0M359 488h0M328 630h0M329 505h0M340 637h0M327 607h0M348 643h0M348 550h0M378 641h0M342 550h0M335 543h0M351 579h0M354 647h0M332 630h0M334 557h0M338 621h0M328 598h0M345 631h0M325 638h0M364 608h0M351 572h0M335 650h0M337 533h0M329 349h0M329 543h0M329 615h0M326 614h0M329 481h0M345 638h0M324 499h0M328 513h0M380 620h0M350 431h0M374 622h0M332 579h0M326 618h0M330 513h0M335 645h0M335 130h0M338 360h0M331 505h0M327 366h0M332 644h0M344 639h0M337 630h0M335 560h0M325 512h0M333 584h0M341 428h0M326 654h0M330 605h0M327 506h0M343 593h0M330 599h0M332 654h0M344 460h0M351 474h0M324 589h0M346 612h0M331 590h0M333 636h0M328 593h0M333 598h0M327 557h0M335 614h0M327 647h0M328 501h0M324 650h0M328 636h0M329 646h0M350 636h0M328 609h0M325 595h0M326 569h0M324 585h0M345 544h0M355 606h0M340 547h0M332 612h0M331 580h0M340 527h0M336 544h0M363 602h0M335 540h0M340 504h0M324 629h0M337 587h0M330 350h0M332 644h0M349 575h0M333 597h0M328 619h0M341 496h0M368 548h0M327 628h0M338 521h0M354 592h0M334 583h0M333 547h0M336 629h0M331 477h0M329 629h0M327 590h0M336 577h0M333 617h0M354 350h0M341 593h0M327 502h0M328 619h0M331 573h0M366 543h0M324 608h0M329 628h0M353 618h0M342 636h0M329 615h0M324 499h0M329 630h0M344 609h0M349 548h0M329 561h0M335 635h0M334 616h0M325 517h0M326 520h0M346 586h0M324 399h0M327 643h0M324 650h0M325 565h0M328 286h0M326 443h0M330 533h0M329 626h0M353 516h0M334 580h0M351 641h0M340 586h0M327 592h0M332 612h0M367 356h0M327 527h0M356 637h0M395 618h0M327 521h0M385 571h0M329 580h0M331 574h0M343 509h0M329 533h0M332 468h0M331 621h0M344 608h0M326 646h0M326 641h0M328 647h0M330 619h0M326 650h0M325 380h0M333 652h0M343 640h0M329 511h0M352 555h0M380 645h0M363 652h0M330 564h0M357 499h0M325 610h0M336 633h0M335 641h0M356 535h0M357 405h0M328 577h0M334 569h0M324 521h0M325 413h0M332 650h0M335 462h0M336 587h0M333 604h0M343 643h0M327 572h0M348 537h0M347 588h0M340 639h0M333 564h0M353 582h0M325 570h0M326 557h0M325 605h0M327 598h0M325 603h0M335 545h0M341 404h0M335 562h0M324 564h0M327 624h0M330 535h0M361 507h0M347 605h0M327 548h0M385 563h0M342 619h0M327 621h0M334 590h0M355 495h0M335 654h0M335 555h0M329 619h0M335 633h0M325 567h0M325 603h0M329 498h0M326 500h0M328 631h0M347 457h0M346 569h0M347 584h0M330 499h0M340 647h0M350 636h0M334 555h0M326 639h0M336 429h0M326 622h0M193 556h0M259 239h0M368 108h0M363 187h0M360 233h0M410 348h0M423 490h0" transform="translate(270 1420) scale(.5)" stroke="#ef2a2e" stroke-opacity="0.55" stroke-width="7.6" stroke-linecap="round" fill="none"/>
<path d="M269 638h0M269 608h0M255 654h0M271 648h0M267 601h0M269 632h0M267 639h0M270 623h0M269 652h0M261 621h0M263 504h0M256 618h0M260 604h0M251 634h0M262 643h0M272 480h0M271 560h0M266 639h0M266 606h0M271 589h0M269 645h0M271 617h0M267 627h0M269 485h0M265 638h0M266 618h0M264 564h0M271 641h0M263 591h0M269 621h0M271 638h0M254 574h0M261 470h0M259 639h0M266 633h0M266 654h0M270 645h0M269 647h0M255 514h0M255 634h0M266 630h0M238 633h0M237 641h0M262 607h0M264 571h0M268 530h0M270 618h0M272 632h0M265 502h0M255 563h0M253 649h0M261 654h0M265 651h0M263 457h0M249 565h0M262 633h0M269 576h0M266 499h0M267 562h0M266 652h0M262 652h0M271 623h0M269 649h0M242 640h0M260 558h0M268 580h0M271 557h0M266 624h0M262 538h0M266 568h0M266 592h0M268 515h0M265 561h0M260 630h0M260 633h0M270 638h0M270 637h0M260 645h0M270 651h0M271 644h0M256 637h0M262 592h0M272 615h0M256 590h0M254 649h0M260 575h0M268 635h0M271 561h0M265 648h0M268 463h0M267 607h0M258 590h0M271 416h0M223 494h0M269 536h0M251 523h0M268 631h0M266 629h0M258 574h0M271 608h0M259 620h0M261 529h0M251 652h0M251 616h0M270 604h0M269 494h0M249 580h0M269 531h0M223 631h0M271 593h0M262 590h0M261 630h0M270 645h0M254 611h0M238 525h0M266 581h0M264 492h0M270 462h0M261 565h0M265 620h0M271 578h0M253 614h0M270 600h0M270 502h0M261 653h0M258 605h0M243 651h0M265 620h0M271 633h0M263 647h0M266 637h0M267 643h0M255 601h0M258 521h0M271 531h0M262 653h0M268 654h0M258 638h0M271 651h0M266 633h0M261 651h0M269 628h0M254 546h0M263 598h0M262 537h0M267 630h0M248 626h0M263 560h0M266 484h0M271 616h0M271 537h0M264 551h0M270 650h0M269 616h0M268 594h0M259 584h0M237 575h0M255 581h0M267 625h0M271 532h0M257 645h0M266 619h0M264 630h0M267 605h0M251 601h0M248 644h0M271 608h0M261 551h0M266 654h0M271 632h0M248 594h0M269 619h0M227 601h0M256 626h0M264 544h0M271 556h0M265 357h0M252 628h0M235 609h0M263 541h0M266 577h0M267 548h0M271 555h0M267 559h0M258 609h0M268 491h0M271 579h0M253 572h0M270 551h0M271 630h0M266 579h0M266 495h0M268 468h0M268 604h0M263 533h0M261 558h0M265 547h0M270 593h0M267 600h0M267 591h0M257 609h0M238 638h0M264 531h0M263 640h0M260 646h0M270 607h0M262 607h0M268 538h0M233 597h0M257 556h0M253 644h0M270 577h0M270 639h0M268 625h0M269 601h0M268 626h0M233 542h0M266 635h0M262 596h0M259 647h0M251 612h0M263 604h0M246 516h0M264 609h0M266 635h0M252 505h0M268 636h0M260 650h0M268 646h0M258 593h0M269 562h0M271 602h0M270 597h0M271 613h0M271 626h0M267 558h0M267 579h0M264 569h0M264 540h0M255 619h0M263 574h0M271 608h0M268 631h0M251 495h0M256 629h0M268 573h0M269 639h0M269 581h0M265 520h0M269 593h0M267 634h0M247 624h0M263 619h0M260 635h0M265 490h0M266 533h0M261 591h0M269 405h0M271 644h0M267 599h0M258 648h0M266 553h0M252 510h0M271 480h0M271 643h0M270 360h0M268 558h0M332 549h0M326 540h0M330 625h0M330 645h0M337 637h0M332 593h0M325 621h0M349 473h0M374 335h0M331 643h0M333 541h0M334 562h0M362 546h0M325 519h0M331 526h0M337 575h0M324 644h0M333 633h0M349 643h0M327 638h0M332 652h0M345 502h0M328 471h0M352 566h0M326 621h0M327 561h0M325 613h0M341 605h0M329 583h0M326 517h0M393 644h0M328 501h0M327 633h0M329 626h0M397 468h0M341 592h0M325 587h0M346 533h0M327 603h0M334 615h0M353 601h0M326 405h0M331 621h0M326 631h0M326 648h0M346 525h0M326 605h0M331 350h0M338 515h0M344 622h0M337 585h0M345 370h0M347 589h0M338 624h0M339 488h0M325 602h0M342 543h0M326 514h0M325 539h0M331 627h0M354 628h0M361 530h0M331 590h0M329 483h0M338 597h0M328 654h0M324 556h0M325 120h0M379 646h0M374 629h0M329 647h0M332 584h0M341 493h0M330 588h0M344 628h0M339 559h0M333 642h0M337 495h0M329 456h0M325 624h0M348 235h0M327 619h0M325 556h0M352 507h0M342 428h0M390 458h0M335 654h0M330 652h0M331 392h0M347 356h0M328 572h0M368 608h0M336 400h0M356 600h0M331 533h0M341 638h0M327 611h0M334 651h0M327 544h0M337 485h0M327 652h0M334 555h0M328 597h0M330 582h0M335 468h0M334 442h0M326 604h0M360 428h0M347 564h0M325 623h0M324 625h0M328 528h0M342 645h0M332 559h0M350 588h0M324 635h0M329 494h0M327 466h0M329 609h0M329 606h0M338 653h0M331 615h0M335 554h0M325 244h0M346 442h0M332 609h0M335 513h0M327 645h0M330 646h0M329 479h0M334 468h0M332 577h0M339 636h0M334 521h0M324 634h0M339 628h0M350 622h0M327 382h0M337 637h0M325 172h0M333 639h0M338 641h0M327 634h0M334 633h0M340 639h0M391 622h0M329 531h0M330 601h0M373 625h0M342 649h0M327 610h0M362 643h0M346 575h0M325 554h0M390 649h0M334 629h0M333 505h0M325 605h0M334 633h0M336 565h0M330 491h0M326 538h0M333 514h0M346 599h0M365 486h0M326 609h0M377 599h0M353 540h0M341 287h0M334 576h0M349 586h0M329 628h0M325 468h0M348 623h0M336 653h0M342 558h0M327 548h0M326 573h0M325 406h0M330 631h0M328 632h0M383 653h0M341 619h0M333 650h0M335 654h0M335 542h0M333 617h0M328 609h0M338 524h0M329 646h0M326 609h0M348 534h0M337 583h0M339 588h0M352 479h0M330 642h0M338 621h0M328 631h0M333 613h0M326 583h0M324 574h0M328 518h0M340 481h0M368 555h0M325 612h0M342 586h0M331 557h0M354 593h0M339 632h0M343 594h0M337 638h0M371 570h0M333 200h0M340 626h0M326 633h0M338 651h0M350 445h0M328 505h0M325 641h0M327 540h0M329 613h0M329 549h0M328 621h0M333 544h0M342 638h0M325 631h0M337 386h0M329 651h0M324 638h0M344 648h0M329 568h0M325 622h0M342 342h0M337 652h0M370 587h0M325 407h0M360 591h0M338 639h0M335 650h0M386 426h0M334 608h0M324 632h0M333 567h0M329 636h0M332 610h0M405 480h0M331 546h0M331 579h0M327 575h0M344 451h0M330 562h0M329 626h0M374 605h0M325 637h0M346 646h0M329 564h0M333 314h0M337 562h0M335 504h0M352 615h0M324 611h0M331 626h0M329 529h0M338 625h0M325 625h0M329 506h0M325 596h0M328 518h0M384 595h0M335 627h0M339 618h0M347 595h0M364 120h0M345 503h0M334 601h0M329 490h0M331 654h0M328 537h0M338 618h0M355 633h0M342 627h0M357 647h0M342 494h0M343 584h0M332 644h0M327 607h0M331 521h0M363 627h0M329 631h0M336 414h0M328 501h0M327 493h0M337 647h0M354 631h0M324 583h0M333 571h0M337 650h0M336 593h0M346 618h0M337 652h0M349 634h0M363 467h0M327 583h0M342 653h0M338 649h0M354 653h0M329 468h0M328 585h0M328 301h0M324 580h0M372 567h0M326 582h0M405 311h0M346 459h0M329 515h0M328 630h0M342 611h0M324 625h0M387 468h0M344 610h0M347 587h0M339 650h0M338 649h0M346 398h0M343 633h0M326 643h0M369 610h0M354 636h0M326 641h0M324 457h0M328 581h0M324 477h0M327 552h0M337 407h0M336 622h0M338 644h0M388 623h0M334 636h0M326 481h0M347 620h0M338 652h0M339 594h0M344 488h0M348 452h0M352 576h0M324 605h0M326 513h0M327 417h0M366 550h0M364 547h0M329 575h0M333 643h0M330 619h0M330 600h0M327 571h0M343 552h0M362 596h0M353 566h0M333 651h0M326 644h0M331 605h0M337 513h0M364 576h0M371 648h0M325 498h0M335 609h0M329 390h0M331 581h0M205 602h0M263 259h0M380 111h0M353 200h0M388 236h0M398 365h0" transform="translate(270 1420) scale(.5)" stroke="#ef2a2e" stroke-opacity="0.55" stroke-width="7.6" stroke-linecap="round" fill="none"/>
<path d="M258 580h0M272 640h0M255 575h0M253 593h0M254 591h0M271 637h0M269 473h0M226 587h0M268 634h0M247 614h0M267 638h0M271 623h0M269 587h0M265 641h0M257 603h0M251 537h0M257 645h0M264 568h0M271 638h0M269 499h0M244 599h0M266 613h0M252 635h0M266 524h0M267 650h0M264 571h0M271 597h0M263 580h0M266 597h0M261 631h0M269 476h0M262 367h0M270 646h0M262 634h0M272 557h0M271 513h0M268 503h0M257 512h0M272 566h0M256 647h0M256 637h0M262 621h0M239 634h0M267 598h0M258 581h0M259 631h0M244 580h0M266 597h0M256 642h0M261 638h0M266 589h0M258 558h0M269 530h0M250 592h0M265 635h0M271 632h0M260 650h0M263 576h0M266 564h0M268 579h0M267 600h0M269 628h0M272 603h0M272 643h0M270 593h0M240 621h0M253 594h0M265 627h0M260 617h0M269 529h0M267 652h0M260 633h0M260 586h0M263 612h0M269 646h0M265 569h0M270 653h0M252 610h0M243 612h0M264 630h0M264 615h0M269 639h0M263 632h0M261 476h0M270 630h0M243 609h0M271 439h0M265 585h0M268 628h0M255 602h0M227 584h0M258 639h0M262 636h0M266 646h0M233 636h0M269 552h0M265 644h0M270 576h0M255 622h0M263 520h0M261 643h0M253 525h0M271 589h0M260 500h0M263 551h0M270 614h0M270 616h0M270 622h0M234 584h0M265 500h0M260 570h0M266 597h0M264 420h0M255 564h0M238 547h0M261 596h0M269 650h0M268 610h0M243 619h0M242 652h0M264 403h0M261 587h0M271 559h0M272 526h0M272 552h0M258 612h0M257 521h0M260 610h0M262 602h0M260 528h0M268 614h0M246 650h0M263 600h0M263 626h0M267 560h0M245 538h0M251 599h0M266 627h0M270 591h0M258 646h0M267 594h0M272 564h0M271 524h0M259 619h0M247 648h0M268 628h0M259 542h0M261 641h0M263 588h0M268 633h0M271 523h0M249 615h0M271 503h0M266 606h0M256 586h0M248 518h0M267 595h0M254 566h0M270 638h0M271 557h0M267 643h0M261 636h0M255 613h0M238 543h0M271 531h0M266 462h0M269 311h0M270 632h0M271 635h0M268 651h0M272 607h0M261 648h0M267 612h0M259 589h0M270 555h0M266 631h0M264 635h0M270 624h0M265 484h0M264 629h0M267 651h0M260 453h0M267 623h0M263 605h0M267 600h0M265 646h0M253 629h0M246 587h0M272 601h0M264 558h0M268 516h0M271 646h0M249 531h0M265 642h0M264 539h0M266 587h0M260 631h0M268 571h0M268 613h0M269 522h0M265 609h0M267 651h0M266 513h0M264 649h0M235 621h0M265 651h0M268 592h0M264 573h0M256 569h0M263 570h0M260 652h0M267 556h0M268 583h0M257 570h0M269 417h0M245 550h0M241 547h0M265 639h0M269 581h0M257 654h0M270 436h0M247 642h0M272 599h0M244 529h0M270 566h0M254 607h0M269 637h0M271 630h0M247 631h0M266 602h0M251 649h0M265 598h0M271 607h0M255 570h0M271 316h0M261 618h0M261 603h0M269 654h0M269 626h0M257 513h0M271 565h0M268 543h0M270 583h0M262 618h0M266 644h0M255 492h0M261 486h0M263 518h0M268 447h0M270 492h0M265 609h0M266 600h0M270 628h0M262 610h0M264 587h0M269 573h0M265 610h0M272 544h0M270 605h0M226 637h0M267 601h0M263 526h0M265 651h0M268 440h0M269 536h0M259 609h0M241 621h0M340 646h0M339 530h0M326 635h0M337 618h0M331 641h0M325 628h0M368 617h0M379 641h0M342 592h0M336 572h0M332 623h0M328 555h0M336 510h0M340 614h0M374 602h0M333 609h0M332 354h0M334 595h0M352 558h0M336 361h0M338 634h0M325 644h0M335 560h0M349 541h0M327 545h0M342 559h0M324 641h0M351 592h0M327 598h0M350 612h0M350 526h0M337 614h0M325 614h0M353 264h0M326 469h0M337 625h0M329 400h0M343 598h0M327 625h0M341 650h0M324 362h0M329 556h0M342 630h0M341 653h0M331 533h0M335 653h0M341 473h0M329 640h0M341 481h0M325 444h0M381 255h0M346 653h0M339 590h0M329 588h0M341 648h0M333 568h0M326 372h0M328 454h0M337 647h0M325 576h0M333 610h0M332 618h0M359 636h0M330 580h0M337 592h0M332 630h0M352 535h0M325 420h0M325 641h0M328 619h0M327 515h0M374 633h0M342 650h0M341 627h0M333 504h0M337 627h0M359 491h0M331 652h0M324 565h0M326 634h0M330 582h0M328 446h0M328 498h0M330 486h0M324 543h0M334 620h0M361 634h0M337 425h0M331 644h0M340 637h0M327 621h0M401 345h0M326 528h0M328 628h0M331 581h0M325 482h0M344 581h0M367 638h0M343 534h0M326 613h0M327 622h0M325 582h0M328 625h0M377 572h0M333 458h0M348 550h0M390 602h0M331 608h0M335 604h0M335 615h0M326 568h0M362 445h0M354 641h0M327 632h0M326 620h0M351 487h0M334 561h0M337 615h0M326 576h0M324 515h0M328 504h0M328 596h0M352 611h0M353 626h0M348 505h0M324 541h0M359 552h0M326 627h0M330 529h0M333 469h0M331 622h0M359 598h0M339 654h0M325 566h0M331 653h0M342 615h0M329 534h0M361 607h0M331 557h0M340 652h0M342 563h0M350 644h0M328 586h0M364 617h0M325 588h0M333 645h0M325 523h0M338 460h0M331 479h0M367 638h0M330 652h0M332 650h0M336 303h0M328 615h0M339 639h0M376 650h0M333 475h0M336 654h0M340 377h0M333 556h0M374 622h0M343 644h0M343 644h0M340 366h0M334 589h0M338 457h0M326 605h0M365 562h0M371 590h0M340 604h0M324 640h0M351 546h0M344 470h0M340 414h0M328 565h0M345 581h0M327 637h0M328 617h0M338 554h0M327 648h0M330 613h0M340 600h0M335 624h0M358 635h0M325 552h0M380 517h0M325 649h0M339 602h0M337 543h0M346 601h0M348 582h0M331 379h0M368 621h0M326 631h0M336 623h0M340 645h0M337 577h0M344 601h0M329 580h0M328 454h0M332 572h0M344 623h0M348 567h0M375 532h0M324 633h0M350 488h0M351 587h0M334 569h0M327 613h0M334 632h0M339 651h0M336 653h0M327 491h0M343 616h0M353 590h0M347 590h0M346 558h0M347 610h0M334 630h0M347 575h0M326 557h0M345 605h0M330 542h0M326 632h0M374 654h0M325 651h0M350 560h0M338 587h0M410 515h0M325 623h0M327 410h0M368 505h0M336 519h0M326 648h0M324 490h0M334 614h0M327 532h0M325 421h0M334 565h0M328 575h0M341 637h0M337 618h0M331 591h0M326 575h0M326 360h0M335 537h0M325 499h0M364 627h0M340 637h0M331 623h0M337 480h0M339 625h0M327 652h0M325 648h0M328 639h0M326 486h0M335 625h0M339 578h0M333 612h0M333 654h0M332 578h0M332 629h0M349 605h0M338 635h0M343 535h0M347 617h0M327 484h0M333 531h0M341 620h0M339 634h0M327 624h0M337 611h0M339 543h0M332 635h0M329 544h0M361 580h0M339 610h0M340 583h0M339 643h0M334 645h0M331 568h0M348 649h0M328 650h0M327 585h0M339 613h0M330 638h0M332 535h0M373 600h0M353 652h0M326 651h0M325 607h0M341 575h0M325 518h0M340 569h0M326 590h0M334 631h0M331 646h0M340 634h0M362 646h0M329 249h0M331 524h0M350 653h0M327 586h0M337 554h0M340 654h0M354 558h0M335 635h0M330 608h0M334 500h0M329 639h0M339 630h0M348 471h0M336 381h0M332 605h0M325 635h0M341 613h0M352 592h0M332 529h0M334 618h0M329 567h0M333 493h0M329 607h0M335 640h0M342 641h0M333 628h0M333 613h0M331 520h0M342 604h0M327 564h0M328 572h0M338 579h0M340 486h0M338 546h0M325 621h0M326 545h0M343 563h0M338 619h0M338 541h0M330 579h0M334 618h0M327 617h0M339 449h0M329 535h0M330 332h0M331 571h0M334 629h0M346 429h0M344 586h0M326 535h0M337 646h0M329 449h0M326 625h0M326 542h0M326 596h0M337 488h0M335 319h0M333 548h0M360 608h0M333 614h0M349 507h0M338 581h0M332 512h0M334 572h0M326 499h0M357 439h0M337 634h0M325 654h0M108 588h0M218 588h0M387 62h0M395 111h0M373 203h0M358 272h0M418 394h0" transform="translate(270 1420) scale(.5)" stroke="#ef2a2e" stroke-opacity="0.55" stroke-width="7.6" stroke-linecap="round" fill="none"/>
<path d="M250 648h0M261 602h0M268 643h0M255 568h0M252 598h0M271 633h0M261 592h0M264 578h0M269 466h0M269 636h0M271 651h0M236 524h0M271 617h0M247 520h0M257 605h0M268 650h0M265 602h0M270 630h0M268 596h0M252 649h0M265 553h0M259 581h0M270 615h0M264 651h0M267 376h0M270 631h0M265 528h0M269 646h0M264 475h0M268 563h0M251 515h0M261 654h0M271 601h0M265 499h0M262 634h0M248 602h0M256 524h0M267 590h0M268 478h0M251 525h0M272 640h0M232 604h0M271 617h0M269 573h0M267 650h0M268 620h0M248 591h0M261 613h0M271 607h0M270 653h0M270 576h0M271 618h0M266 548h0M259 608h0M269 587h0M269 629h0M267 603h0M252 559h0M264 593h0M267 642h0M272 587h0M257 623h0M261 554h0M270 581h0M258 646h0M259 649h0M271 383h0M253 541h0M269 546h0M254 648h0M253 641h0M272 460h0M265 551h0M264 618h0M270 646h0M234 605h0M264 633h0M251 598h0M255 621h0M221 646h0M266 525h0M261 643h0M269 573h0M266 602h0M258 599h0M265 649h0M254 598h0M247 641h0M261 526h0M266 629h0M264 619h0M264 481h0M270 602h0M254 609h0M264 622h0M266 475h0M264 626h0M263 637h0M261 541h0M251 616h0M265 425h0M267 629h0M258 617h0M271 550h0M270 649h0M269 635h0M268 596h0M265 636h0M269 599h0M268 549h0M261 534h0M259 648h0M264 493h0M268 646h0M267 551h0M271 637h0M254 496h0M271 511h0M258 643h0M267 616h0M267 621h0M263 653h0M269 638h0M270 645h0M269 629h0M257 607h0M264 614h0M248 649h0M268 310h0M261 558h0M266 648h0M254 648h0M268 646h0M263 639h0M263 546h0M269 641h0M267 644h0M267 570h0M261 633h0M266 632h0M272 631h0M270 623h0M271 653h0M271 653h0M253 636h0M270 607h0M255 637h0M257 609h0M262 523h0M271 608h0M252 591h0M255 585h0M268 572h0M270 624h0M271 648h0M268 597h0M244 630h0M260 605h0M242 610h0M254 513h0M254 557h0M266 632h0M254 624h0M256 644h0M253 632h0M269 615h0M267 652h0M254 576h0M254 602h0M266 550h0M269 644h0M235 650h0M262 393h0M257 567h0M266 576h0M271 640h0M258 640h0M250 565h0M264 548h0M271 583h0M251 626h0M270 593h0M263 593h0M267 585h0M269 634h0M253 615h0M268 650h0M256 607h0M267 547h0M254 649h0M257 587h0M270 642h0M269 588h0M243 643h0M272 651h0M265 589h0M271 650h0M259 524h0M269 636h0M270 628h0M268 653h0M265 513h0M259 559h0M265 559h0M256 627h0M270 628h0M270 347h0M268 543h0M260 653h0M263 642h0M242 647h0M246 519h0M264 629h0M261 576h0M268 632h0M269 646h0M268 632h0M264 476h0M264 587h0M264 480h0M268 586h0M250 642h0M271 386h0M265 640h0M256 599h0M271 581h0M268 570h0M267 608h0M262 638h0M265 604h0M266 574h0M270 628h0M255 615h0M267 543h0M245 650h0M222 623h0M261 626h0M272 631h0M269 472h0M272 639h0M267 637h0M259 629h0M269 631h0M265 418h0M267 562h0M264 428h0M253 648h0M270 560h0M272 472h0M264 556h0M271 392h0M269 644h0M267 536h0M270 550h0M271 652h0M272 608h0M272 601h0M261 546h0M255 634h0M260 530h0M271 654h0M271 605h0M271 483h0M263 562h0M267 505h0M235 651h0M346 652h0M338 507h0M330 644h0M333 580h0M331 622h0M329 592h0M328 564h0M338 504h0M330 383h0M337 629h0M336 549h0M342 497h0M343 511h0M330 446h0M339 650h0M324 627h0M346 572h0M326 394h0M332 544h0M341 638h0M328 606h0M337 609h0M355 635h0M337 567h0M329 566h0M335 604h0M334 640h0M349 348h0M325 651h0M344 520h0M350 650h0M330 498h0M342 562h0M329 583h0M325 351h0M328 540h0M332 599h0M331 378h0M340 613h0M350 616h0M325 513h0M327 547h0M328 611h0M340 542h0M342 498h0M325 620h0M340 601h0M325 645h0M329 646h0M340 621h0M370 591h0M353 577h0M325 626h0M332 543h0M327 502h0M342 534h0M329 530h0M335 513h0M346 652h0M333 613h0M343 630h0M326 408h0M332 537h0M348 287h0M324 634h0M346 634h0M330 486h0M325 585h0M358 587h0M350 647h0M348 543h0M337 639h0M329 626h0M351 618h0M394 651h0M326 653h0M349 652h0M330 650h0M341 637h0M328 622h0M356 586h0M334 430h0M346 649h0M361 649h0M352 636h0M368 578h0M334 646h0M326 538h0M346 482h0M329 641h0M376 545h0M341 642h0M338 420h0M356 646h0M325 627h0M325 594h0M329 619h0M358 645h0M357 639h0M328 624h0M332 622h0M325 483h0M327 455h0M325 526h0M336 485h0M334 647h0M338 642h0M412 563h0M330 624h0M332 639h0M332 610h0M342 651h0M349 621h0M379 600h0M350 530h0M334 641h0M328 598h0M326 651h0M326 447h0M374 475h0M346 653h0M329 340h0M341 494h0M339 568h0M342 449h0M338 555h0M337 635h0M334 482h0M349 522h0M329 511h0M337 388h0M325 477h0M330 538h0M329 522h0M339 607h0M330 489h0M326 610h0M337 616h0M328 535h0M324 461h0M341 605h0M329 554h0M343 643h0M327 542h0M324 552h0M343 644h0M327 651h0M325 478h0M325 499h0M348 558h0M332 572h0M341 486h0M328 620h0M340 616h0M341 609h0M352 478h0M328 559h0M333 643h0M325 569h0M331 649h0M343 643h0M335 543h0M338 635h0M332 413h0M326 591h0M362 636h0M334 610h0M342 527h0M327 564h0M342 618h0M344 485h0M340 634h0M329 525h0M344 578h0M331 365h0M347 466h0M338 516h0M335 611h0M342 639h0M334 576h0M334 605h0M327 526h0M359 567h0M360 495h0M335 381h0M346 470h0M339 395h0M348 579h0M324 551h0M325 412h0M331 555h0M372 640h0M336 580h0M344 439h0M351 634h0M325 645h0M338 442h0M331 619h0M351 641h0M327 568h0M325 647h0M359 580h0M333 588h0M327 588h0M334 613h0M360 613h0M328 582h0M331 435h0M334 640h0M343 643h0M326 489h0M337 649h0M343 554h0M338 508h0M333 572h0M332 639h0M326 594h0M335 612h0M337 530h0M353 624h0M326 654h0M328 476h0M347 594h0M344 476h0M331 616h0M325 640h0M331 270h0M332 634h0M328 637h0M330 608h0M350 427h0M337 626h0M371 462h0M345 355h0M339 180h0M328 645h0M358 625h0M355 633h0M341 554h0M334 265h0M325 506h0M380 544h0M338 627h0M327 543h0M328 645h0M326 503h0M347 621h0M334 563h0M324 642h0M347 614h0M339 640h0M325 638h0M333 471h0M343 554h0M355 581h0M340 455h0M324 554h0M333 332h0M335 560h0M328 621h0M324 602h0M331 638h0M345 432h0M353 636h0M324 650h0M328 639h0M352 375h0M349 492h0M324 597h0M330 563h0M357 471h0M326 511h0M325 638h0M347 642h0M341 613h0M327 635h0M325 639h0M327 653h0M331 586h0M335 648h0M336 487h0M325 409h0M336 398h0M325 621h0M328 564h0M333 553h0M330 619h0M338 578h0M331 535h0M350 546h0M330 641h0M361 532h0M360 571h0M330 498h0M324 516h0M328 650h0M329 608h0M334 517h0M338 532h0M341 604h0M393 600h0M353 643h0M342 643h0M328 593h0M324 637h0M331 625h0M328 610h0M334 598h0M326 615h0M339 460h0M358 556h0M328 639h0M329 542h0M326 619h0M333 404h0M345 567h0M341 595h0M326 634h0M390 524h0M333 628h0M344 571h0M331 532h0M329 492h0M350 599h0M332 599h0M341 435h0M335 610h0M360 577h0M329 519h0M328 598h0M333 606h0M350 650h0M329 421h0M337 512h0M331 610h0M329 585h0M389 593h0M326 578h0M382 654h0M339 653h0M324 548h0M330 551h0M335 617h0M329 584h0M329 651h0M354 526h0M333 377h0M333 652h0M346 640h0M333 539h0M333 650h0M330 635h0M324 564h0M329 628h0M341 644h0M342 566h0M345 597h0M342 597h0M342 553h0M333 637h0M330 558h0M378 610h0M336 629h0M333 580h0M346 610h0M339 654h0M341 619h0M388 607h0M170 641h0M238 286h0M363 101h0M405 180h0M378 207h0M403 305h0M393 444h0" transform="translate(270 1420) scale(.5)" stroke="#ef2a2e" stroke-opacity="0.55" stroke-width="7.6" stroke-linecap="round" fill="none"/>
<path d="M273.9 1427.2V1780.1H547M273.9 1434.3h-3.5M273.9 1515.7h-3.5M273.9 1598.2h-3.5M273.9 1680.8h-3.5M273.9 1763.6h-3.5M294.2 1780.1v4M356.4 1780.1v4M418.9 1780.1v4M481.7 1780.1v4M544.2 1780.1v4" stroke="#000" stroke-width="1.5" fill="none"/>
<path d="M406.2 1424.4V1747.5M431.9 1424.4V1747.5M273.9 1747.5H547" stroke="#000" stroke-width="1.4" stroke-dasharray="11 6" fill="none"/>
<path d="M406.2 1747.5V1780M431.9 1747.5V1780" stroke="#000" stroke-width="1.4" fill="none"/>
<text x="268.5" y="1440.3" font-size="17.0" text-anchor="end">100</text>
<text x="268.5" y="1521.7" font-size="17.0" text-anchor="end">75</text>
<text x="268.5" y="1604.2" font-size="17.0" text-anchor="end">50</text>
<text x="268.5" y="1686.8" font-size="17.0" text-anchor="end">25</text>
<text x="268.5" y="1769.6" font-size="17.0" text-anchor="end">0</text>
<text x="294.2" y="1800.3" font-size="17.0" text-anchor="middle">−5.0</text>
<text x="356.4" y="1800.3" font-size="17.0" text-anchor="middle">−2.5</text>
<text x="418.9" y="1800.3" font-size="17.0" text-anchor="middle">0.0</text>
<text x="481.7" y="1800.3" font-size="17.0" text-anchor="middle">2.5</text>
<text x="539.2" y="1800.3" font-size="17.0" text-anchor="middle">5.0</text>
<text x="372.2" y="1822.3" font-size="16.5">Log<tspan font-size="10" dy="4">2</tspan><tspan dy="-4">fold change</tspan></text>
<text transform="translate(239.5 1573) rotate(-90)" font-size="18" text-anchor="middle">− Log<tspan font-size="10.5" dy="4"> 10 </tspan><tspan dy="-4" font-style="italic">P</tspan></text>
<text x="468.8" y="1475.4" font-size="16.6" font-style="italic">Fosb</text>
<text x="455.8" y="1496.8" font-size="15.8" font-style="italic">Egr1</text>
<text x="460.0" y="1536.1" font-size="16.9" font-style="italic">Fos</text>
<text x="470.5" y="1590.5" font-size="16.6" font-style="italic">Egr3</text>
<text x="480.3" y="1605.6" font-size="16.1" font-style="italic">Ccn1</text>
<text x="480.3" y="1627.4" font-size="16.3" font-style="italic">Thbs1</text>
<text x="474.0" y="1642.5" font-size="17.0" font-style="italic">Egr2</text>
<text x="468.8" y="1659.7" font-size="17.0" font-style="italic">Ets2</text>
<text x="469.8" y="1675.8" font-size="16.8" font-style="italic">Serpine1</text>
<text x="467.7" y="1689.5" font-size="16.1" font-style="italic">Tead1</text>
<text x="462.8" y="1705.7" font-size="16.9" font-style="italic">Adamts1</text>
<text x="459.3" y="1722.9" font-size="16.9" font-style="italic">Arid5a</text>
<text x="515.4" y="1722.9" font-size="16.5" font-style="italic">Ccn2</text>
<text x="467.0" y="1736.2" font-size="17.0" font-style="italic">Itga2</text>
<text x="504.9" y="1736.2" font-size="16.5" font-style="italic">Sox9</text>
<text x="330.8" y="1722.2" font-size="16.6" font-style="italic">Krt17</text>
<text x="310.0" y="1739.0" font-size="16.7" font-style="italic">Krt6a</text>
</g>
<g id="g-kpanel">
<rect x="2.8" y="1933.1" width="574.8" height="313.6" fill="url(#kbg)"/>
<text x="2.8" y="1841.8" font-size="32.0" font-weight="bold">k</text>
<text x="4.2" y="1885.0" font-size="23.6" font-weight="bold">Tumour 12 vs Tumour 1</text>
<text x="325.8" y="1873.4" font-size="22.7">Tmr12</text>
<text x="468.8" y="1889.5" font-size="23.2">Stroma</text>
<path d="M382.7 1912.0C403.8 1904.3 421.3 1895.5 437.1 1900.1C452.9 1906.0 467.0 1899.0 488.8 1903.6C470.5 1912.0 460.0 1920.1 438.9 1923.6C421.3 1925.3 407.3 1928.8 393.3 1933.1C403.8 1923.6 400.3 1916.6 382.7 1912.0Z" fill="#cfe3f1" stroke="#8fbbd9" stroke-width="1"/>
<ellipse cx="414.3" cy="1907.8" rx="7" ry="4.5" fill="#a9c8de"/><ellipse cx="438.9" cy="1914.1" rx="9" ry="5" fill="#a9c8de"/>
<path d="M410.8 1865.6C412.6 1853.4 426.6 1850.9 440.7 1855.1C451.2 1872.7 451.2 1890.2 443.1 1897.2C431.9 1900.1 421.3 1896.5 414.3 1888.5C410.8 1879.7 409.4 1872.7 410.8 1865.6Z" fill="#6edcc0"/>
<ellipse cx="429.1" cy="1872.7" rx="7.5" ry="11" fill="#52cdb0"/>
<path d="M405.5 1874.4C396.8 1883.2 396.1 1893.7 399.6 1902.5" stroke="#000" stroke-width="1.6" fill="none"/><polygon points="400.3,1907.8 394.0,1895.5 404.5,1894.4" fill="#000"/>
<rect x="4.2" y="1978.7" width="178.4" height="17.9" fill="#7fe9e8"/>
<rect x="4.2" y="2020.1" width="166.1" height="17.6" fill="#7fe9e8"/>
<rect x="4.2" y="2061.2" width="122.9" height="17.9" fill="#7fe9e8"/>
<rect x="4.2" y="2102.0" width="101.8" height="18.3" fill="#7fe9e8"/>
<rect x="4.2" y="2143.0" width="63.2" height="18.3" fill="#7fe9e8"/>
<rect x="4.2" y="2183.4" width="42.5" height="19.3" fill="#7fe9e8"/>
<rect x="4.2" y="2224.5" width="32.7" height="19.7" fill="#7fe9e8"/>
<rect x="275.6" y="1978.7" width="49.2" height="16.9" fill="#7fe9e8"/>
<rect x="275.6" y="2018.4" width="46.7" height="17.6" fill="#7fe9e8"/>
<rect x="275.6" y="2059.8" width="45.6" height="18.3" fill="#7fe9e8"/>
<rect x="275.6" y="2100.9" width="24.6" height="17.6" fill="#7fe9e8"/>
<rect x="275.6" y="2143.0" width="19.3" height="16.9" fill="#7fe9e8"/>
<rect x="275.6" y="2184.1" width="25.3" height="18.6" fill="#7fe9e8"/>
<rect x="275.6" y="2224.5" width="11.6" height="18.6" fill="#7fe9e8"/>
<text x="4.2" y="1955.2" font-size="19.8" font-weight="bold">GO:BP</text>
<text x="275.6" y="1955.2" font-size="19.7" font-weight="bold">KEGG</text>
<text x="4.2" y="1974.5" font-size="16.9">Tissue development</text>
<text x="163.3" y="1974.5" font-size="16.1" font-style="italic" fill="#5a6060">Sox9,</text>
<text x="4.2" y="2015.6" font-size="16.8">Regulation of cell communication</text>
<text x="4.2" y="2056.0" font-size="16.9">Tube morphogenesis</text>
<text x="167.8" y="2056.0" font-size="16.5" font-style="italic" fill="#5a6060">Ephb3, Sox4,</text>
<text x="4.2" y="2098.1" font-size="16.8">Response to stress</text>
<text x="154.5" y="2098.1" font-size="16.8" font-style="italic" fill="#5a6060">Atf3, Atf6,</text>
<text x="4.2" y="2140.2" font-size="16.8">Cellular response to hypoxia</text>
<text x="4.2" y="2179.9" font-size="16.7">Cell adhesion</text>
<text x="111.7" y="2179.9" font-size="16.1" font-style="italic" fill="#5a6060">Thbs1,</text>
<text x="4.2" y="2221.0" font-size="16.8">Response to wounding</text>
<text x="275.6" y="1974.5" font-size="17.2">TNF signaling pathway</text>
<text x="457.5" y="1974.5" font-size="16.5" font-style="italic" fill="#5a6060">Tnfaip3, Nfkbia,</text>
<text x="275.6" y="2014.2" font-size="17.2">Hippo signaling pathway</text>
<text x="467.7" y="2014.2" font-size="16.5" font-style="italic" fill="#5a6060">Ccnd2, Cdh1,</text>
<text x="275.6" y="2056.0" font-size="17.2">ErbB signaling pathway</text>
<text x="463.5" y="2056.0" font-size="16.5" font-style="italic" fill="#5a6060">Egfr, Hbegf,</text>
<text x="275.6" y="2097.4" font-size="17.2">HIF-1 signaling pathway</text>
<text x="275.6" y="2140.2" font-size="17.2">p53 signaling pathway</text>
<text x="275.6" y="2179.9" font-size="17.2">TGF-beta signaling pathway</text>
<text x="275.6" y="2221.0" font-size="17.2">ECM-receptor interaction</text>
<text x="474.7" y="2221.0" font-size="15.1" font-style="italic" fill="#5a6060">Lama3,</text>
<text x="5.3" y="1993.8" font-size="16.7" font-style="italic" fill="#5a6060">Ccn2, Egfr, Fos, Edn1, Cdh1</text>
<text x="5.3" y="2034.9" font-size="16.9" font-style="italic" fill="#5a6060">Hmox1, Timp1, Timp3, Ern1, Egfr</text>
<text x="5.3" y="2076.3" font-size="16.7" font-style="italic" fill="#5a6060">Epha2, Smoc2, Adamts1</text>
<text x="5.3" y="2117.8" font-size="16.7" font-style="italic" fill="#5a6060">Fos, Myc, Dusp6, Fosl1</text>
<text x="5.3" y="2157.8" font-size="16.8" font-style="italic" fill="#5a6060">Jun, Jund, Sirt1, Vegfa, Cited2</text>
<text x="7.7" y="2201.0" font-size="16.9" font-style="italic" fill="#5a6060">Lamc2, Cdh1, Cdh4, Vcl</text>
<text x="7.7" y="2240.6" font-size="16.7" font-style="italic" fill="#5a6060">Ccn1, Jak, Egfr, Id3, Pak1</text>
<text x="277.4" y="1993.8" font-size="16.8" font-style="italic" fill="#5a6060">Nfkb1, Ptgs2, Cxcl10, Icam1, Atf4</text>
<text x="277.4" y="2034.2" font-size="16.8" font-style="italic" fill="#5a6060">Ccn2, Serpine1, Tead1, Fzd5, Fzd8</text>
<text x="277.4" y="2075.6" font-size="16.9" font-style="italic" fill="#5a6060">Areg, Nrg1, Jun, Nrg2, Myc</text>
<text x="279.1" y="2116.7" font-size="16.8" font-style="italic" fill="#5a6060">Hmox1, Edn1, Vegfa, Stat3</text>
<text x="279.1" y="2157.8" font-size="16.9" font-style="italic" fill="#5a6060">Cdkn1a, Gadd45a, Ccng2</text>
<text x="279.1" y="2201.0" font-size="16.9" font-style="italic" fill="#5a6060">Id1, Id2, Id3, Id4, Tgif1, Bmp2</text>
<text x="279.1" y="2240.6" font-size="16.8" font-style="italic" fill="#5a6060">Lamac2, Itgav, Thbs1, Itga2, Itgb6</text>
<path d="M4.2 2247.7H224.0M276.7 2247.7H493.3M4.2 2247.7v4.5M77.9 2247.7v4.5M151.0 2247.7v4.5M224.0 2247.7v4.5M277.4 2247.7v4.5M348.7 2247.7v4.5M421.3 2247.7v4.5M493.3 2247.7v4.5" stroke="#000" stroke-width="1.5" fill="none"/>
<text x="7.7" y="2272.2" font-size="17.0" text-anchor="middle">0</text>
<text x="77.9" y="2272.2" font-size="17.0" text-anchor="middle">10</text>
<text x="151.0" y="2272.2" font-size="17.0" text-anchor="middle">20</text>
<text x="219.5" y="2272.2" font-size="17.0" text-anchor="middle">30</text>
<text x="280.9" y="2272.2" font-size="17.0" text-anchor="middle">0</text>
<text x="348.7" y="2272.2" font-size="17.0" text-anchor="middle">10</text>
<text x="421.3" y="2272.2" font-size="17.0" text-anchor="middle">20</text>
<text x="493.3" y="2272.2" font-size="17.0" text-anchor="middle">30</text>
<text x="73.7" y="2298.2" font-size="16.7">-10logFDR</text>
<text x="341.3" y="2298.2" font-size="16.8">-10logFDR</text>
<text x="2.8" y="2311.6" font-size="32.0" font-weight="bold">m</text>
</g>
<g id="g-micro">
<text x="20.2" y="2345.5" font-size="23.7" font-weight="bold">Tumour 12 markers</text>
<text x="20.2" y="2374.5" font-size="23.6" font-weight="bold">in nascent tumours and control tissue</text>
<rect x="16.1" y="2381.3" width="145.8" height="141.7" fill="#000"/>
<circle cx="77.6" cy="2422.5" r="21.6" fill="#f21a1a" stroke="#c01010" stroke-width="1.2"/>
<circle cx="119.4" cy="2432.6" r="24.5" fill="#ea1616" stroke="#c01010" stroke-width="1.2"/>
<circle cx="53.2" cy="2444.1" r="18.7" fill="#f41e1c" stroke="#c01010" stroke-width="1.2"/>
<circle cx="135.2" cy="2461.3" r="14.4" fill="#f21a1a" stroke="#c01010" stroke-width="1.2"/>
<circle cx="35.9" cy="2481.5" r="14.4" fill="#ea1616" stroke="#c01010" stroke-width="1.2"/>
<circle cx="113.6" cy="2478.6" r="23.7" fill="#f41e1c" stroke="#c01010" stroke-width="1.2"/>
<circle cx="73.3" cy="2484.4" r="23.7" fill="#f21a1a" stroke="#c01010" stroke-width="1.2"/>
<circle cx="90.6" cy="2452.7" r="21.6" fill="#ea1616" stroke="#c01010" stroke-width="1.2"/>
<circle cx="35.9" cy="2481.5" r="8" fill="#5a1010"/>
<path d="M61.1 2411.0C65.2 2407.1 82.8 2404.7 87.7 2406.7C92.6 2408.6 92.3 2417.9 90.6 2422.5C88.9 2427.0 82.2 2432.8 77.6 2434.0C73.1 2435.2 66.0 2433.5 63.2 2429.7C60.5 2425.8 57.0 2414.8 61.1 2411.0Z" fill="#80f0e2"/>
<path d="M79.1 2436.9C81.9 2432.3 91.3 2428.2 96.3 2428.2C101.4 2428.2 108.1 2432.3 109.3 2436.9C110.5 2441.4 106.6 2451.3 103.5 2455.6C100.4 2459.9 94.7 2462.8 90.6 2462.8C86.5 2462.8 81.0 2459.9 79.1 2455.6C77.1 2451.3 76.2 2441.4 79.1 2436.9Z" fill="#80f0e2"/>
<path d="M102.1 2422.5C103.3 2419.8 112.2 2415.3 116.5 2416.7C120.8 2418.2 129.2 2428.5 128.0 2431.1C126.8 2433.8 113.6 2434.0 109.3 2432.6C105.0 2431.1 100.9 2425.1 102.1 2422.5Z" fill="#80f0e2"/>
<path d="M51.7 2449.8C52.7 2446.9 59.9 2443.1 61.8 2444.1C63.7 2445.0 64.2 2452.7 63.2 2455.6C62.3 2458.5 58.0 2462.3 56.0 2461.3C54.1 2460.4 50.8 2452.7 51.7 2449.8Z" fill="#4fb8ac"/>
<path d="M99.2 2474.3C102.1 2470.4 113.4 2464.7 116.5 2467.1C119.6 2469.5 119.4 2483.2 117.9 2488.7C116.5 2494.2 111.0 2499.9 107.8 2500.2C104.7 2500.4 100.6 2494.4 99.2 2490.1C97.8 2485.8 96.3 2478.1 99.2 2474.3Z" fill="#80f0e2"/>
<path d="M117.2 2405.9C117.2 2405.1 120.2 2403.9 120.8 2404.5C121.3 2405.1 121.1 2409.3 120.5 2409.5C119.9 2409.8 117.1 2406.8 117.2 2405.9Z" fill="#80f0e2"/>
<text x="120.5" y="2408.9" font-size="22.2" font-weight="bold" fill="#fff">10d</text>
<rect x="109.5" y="2511" width="49.2" height="7.0" fill="#fff"/>
<rect x="173" y="2381.3" width="137.5" height="141.7" fill="#020606"/>
<rect x="173" y="2381.3" width="137.5" height="141.7" filter="url(#z0)"/>
<rect x="310.5" y="2381.3" width="136.7" height="141.7" fill="#2222e6"/>
<rect x="310.5" y="2381.3" width="136.7" height="141.7" filter="url(#z1)"/>
<rect x="310.5" y="2381.3" width="136.7" height="141.7" filter="url(#z2)"/>
<text x="312.8" y="2408.9" font-size="23.3" font-weight="bold" fill="#fff">CTRL</text>
<rect x="423.2" y="2511.5" width="20.7" height="6.5" fill="#fff"/>
<rect x="453.1" y="2381.3" width="145.9" height="141.7" fill="#010303"/>
<rect x="453.1" y="2381.3" width="145.9" height="141.7" filter="url(#z3)"/>
<rect x="599" y="2381.3" width="145.4" height="141.7" fill="#2222e6"/>
<rect x="599" y="2381.3" width="145.4" height="141.7" filter="url(#z4)"/>
<rect x="599" y="2381.3" width="145.4" height="141.7" filter="url(#z5)"/>
<text x="605.0" y="2408.9" font-size="22.9" font-weight="bold" fill="#fff">DEN</text>
<text x="701.6" y="2408.9" font-size="22.7" font-weight="bold" fill="#fff">10d</text>
<rect x="717.7" y="2511.5" width="23.0" height="6.5" fill="#fff"/>
<rect x="757.5" y="2381.3" width="145.8" height="141.7" fill="#06100f"/>
<rect x="757.5" y="2381.3" width="145.8" height="141.7" filter="url(#z6)"/>
<path d="M875 2455C875 2462 872 2469 868 2475C865 2480 858 2484 852 2488C846 2492 839 2499 832 2499C825 2499 819 2491 813 2487C806 2483 799 2481 795 2475C790 2470 785 2462 786 2455C786 2448 794 2442 798 2436C802 2430 805 2423 810 2419C816 2415 825 2413 832 2413C839 2414 845 2419 852 2423C858 2427 864 2430 868 2435C872 2440 875 2448 875 2455Z" fill="#e6e034"/>
<g clip-path="url(#cy1)"><rect x="789" y="2412" width="86" height="86" filter="url(#z7)"/><rect x="789" y="2412" width="86" height="86" filter="url(#z8)"/></g>
<text x="860.5" y="2408.9" font-size="22.7" font-weight="bold" fill="#fff">10d</text>
<rect x="870.2" y="2511.5" width="25.3" height="6.5" fill="#fff"/>
<rect x="917.1" y="2381.3" width="137.1" height="141.7" fill="#050005"/>
<rect x="917.1" y="2381.3" width="137.1" height="141.7" filter="url(#z9)"/>
<rect x="1054.2" y="2381.3" width="137.6" height="141.7" fill="#2222e6"/>
<rect x="1054.2" y="2381.3" width="137.6" height="141.7" filter="url(#z10)"/>
<rect x="1054.2" y="2381.3" width="137.6" height="141.7" filter="url(#z11)"/>
<text x="1060.7" y="2408.9" font-size="22.9" font-weight="bold" fill="#fff">CTRL</text>
<rect x="1168.8" y="2511.5" width="17.4" height="6.5" fill="#fff"/>
<rect x="1197.7" y="2381.3" width="145.0" height="141.7" fill="#060006"/>
<rect x="1197.7" y="2381.3" width="145.0" height="141.7" filter="url(#z12)"/>
<rect x="1197.7" y="2381.3" width="145.0" height="141.7" filter="url(#z13)"/>
<rect x="1342.7" y="2381.3" width="146.3" height="141.7" fill="#2222e6"/>
<rect x="1342.7" y="2381.3" width="146.3" height="141.7" filter="url(#z14)"/>
<rect x="1342.7" y="2381.3" width="146.3" height="141.7" filter="url(#z15)"/>
<text x="1349.6" y="2408.9" font-size="22.9" font-weight="bold" fill="#fff">DEN</text>
<text x="1445.2" y="2408.9" font-size="22.7" font-weight="bold" fill="#fff">10d</text>
<rect x="1460" y="2511.5" width="24.4" height="6.5" fill="#fff"/>
<rect x="16.1" y="2552.4" width="145.8" height="141.7" fill="#08000a"/>
<rect x="16.1" y="2552.4" width="145.8" height="141.7" filter="url(#z16)"/>
<ellipse cx="139.5" cy="2641.2" rx="10" ry="24" fill="#6a1c78" fill-opacity="0.55"/>
<circle cx="77.6" cy="2587.9" r="21.6" fill="#ee1a1c" stroke="#c41216" stroke-width="1"/>
<circle cx="103.5" cy="2590.8" r="21.6" fill="#e61618" stroke="#c41216" stroke-width="1"/>
<circle cx="64.7" cy="2616.7" r="21.6" fill="#f01e20" stroke="#c41216" stroke-width="1"/>
<circle cx="96.3" cy="2626.8" r="33.1" fill="#ee1a1c" stroke="#c41216" stroke-width="1"/>
<circle cx="84.8" cy="2655.6" r="24.5" fill="#e61618" stroke="#c41216" stroke-width="1"/>
<circle cx="110.7" cy="2648.4" r="21.6" fill="#f01e20" stroke="#c41216" stroke-width="1"/>
<ellipse cx="90.6" cy="2599.5" rx="14" ry="9" fill="#a01018" fill-opacity="0.6"/>
<ellipse cx="90.6" cy="2641.2" rx="17" ry="13" fill="#f23a8c" fill-opacity="0.55"/>
<text x="120.5" y="2579.1" font-size="22.2" font-weight="bold" fill="#fff">10d</text>
<rect x="127.9" y="2683.6" width="30.8" height="6.9" fill="#fff"/>
<rect x="173" y="2552.4" width="137.5" height="141.7" fill="#020004"/>
<rect x="310.5" y="2552.4" width="136.7" height="141.7" fill="#2626ea"/>
<rect x="310.5" y="2552.4" width="136.7" height="141.7" filter="url(#z17)"/>
<text x="312.8" y="2579.1" font-size="22.8" font-weight="bold" fill="#fff">CTRL</text>
<rect x="425.5" y="2684" width="18.4" height="6.5" fill="#fff"/>
<rect x="453.1" y="2552.4" width="145.9" height="141.7" fill="#0c0210"/>
<rect x="453.1" y="2552.4" width="145.9" height="141.7" filter="url(#z18)"/>
<rect x="599" y="2552.4" width="145.4" height="141.7" fill="#2626ea"/>
<rect x="599" y="2552.4" width="145.4" height="141.7" filter="url(#z19)"/>
<text x="601.7" y="2579.1" font-size="22.7" font-weight="bold" fill="#fff">DEN</text>
<text x="698.3" y="2579.1" font-size="22.5" font-weight="bold" fill="#fff">10d</text>
<rect x="717.7" y="2684" width="23.0" height="6.5" fill="#fff"/>
<rect x="757.5" y="2552.4" width="145.8" height="141.7" fill="#0a020a"/>
<rect x="757.5" y="2552.4" width="145.8" height="141.7" filter="url(#z20)"/>
<path d="M866 2632C866 2638 862 2645 858 2651C855 2657 851 2664 845 2667C839 2669 831 2668 824 2667C817 2666 810 2666 805 2663C800 2660 796 2654 793 2649C789 2644 785 2638 784 2632C783 2626 783 2617 786 2611C789 2605 797 2602 804 2598C810 2595 817 2591 824 2591C831 2592 837 2597 843 2600C850 2603 857 2607 861 2612C864 2617 866 2626 866 2632Z" fill="#e8e234"/>
<g clip-path="url(#cy2)"><rect x="784" y="2592" width="80" height="80" filter="url(#z21)"/></g>
<text x="860.5" y="2579.1" font-size="22.7" font-weight="bold" fill="#fff">10d</text>
<rect x="870.2" y="2684" width="25.3" height="6.5" fill="#fff"/>
<rect x="917.1" y="2552.4" width="142.9" height="141.7" fill="#010404"/>
<rect x="917.1" y="2552.4" width="142.9" height="141.7" filter="url(#z22)"/>
<rect x="1060" y="2552.4" width="131.8" height="141.7" fill="#2626ea"/>
<rect x="1060" y="2552.4" width="131.8" height="141.7" filter="url(#z23)"/>
<text x="1060.7" y="2579.1" font-size="22.9" font-weight="bold" fill="#fff">CTRL</text>
<rect x="1168.8" y="2684" width="17.4" height="6.5" fill="#fff"/>
<rect x="1197.7" y="2552.4" width="145.0" height="141.7" fill="#010505"/>
<rect x="1197.7" y="2552.4" width="145.0" height="141.7" filter="url(#z24)"/>
<rect x="1342.7" y="2552.4" width="146.3" height="141.7" fill="#2020da"/>
<rect x="1342.7" y="2552.4" width="146.3" height="141.7" filter="url(#z25)"/>
<rect x="1342.7" y="2552.4" width="146.3" height="141.7" filter="url(#z26)"/>
<text x="1349.6" y="2579.1" font-size="22.9" font-weight="bold" fill="#fff">DEN</text>
<text x="1445.2" y="2579.1" font-size="22.7" font-weight="bold" fill="#fff">10d</text>
<rect x="1460" y="2684" width="24.4" height="6.5" fill="#fff"/>
<path d="M310.5 2381.3V2523.0M310.5 2552.4V2694.1M599 2552.4V2694.1M1054.2 2381.3V2523.0M1342.7 2552.4V2694.1" stroke="#9a9ab8" stroke-width="0.8"/>
<text x="19.3" y="2541.0" font-size="19.5" font-weight="bold" fill="#7fecec">SOX9</text><text x="79.1" y="2541.0" font-size="19.7" font-weight="bold" fill="#ee2a22">KRT6A</text><text x="174.8" y="2541.0" font-size="19.8" font-weight="bold" fill="#7fecec">SOX9</text><text x="234.6" y="2541.0" font-size="20.0" font-weight="bold" fill="#ee2a22">KRT6A</text><text x="318.4" y="2541" font-size="20.1" font-weight="bold"><tspan fill="#7fecec">MER</tspan><tspan fill="#ee2a22">GE</tspan></text><text x="399.3" y="2541.0" font-size="19.6" font-weight="bold" fill="#2424d8">DAPI</text><text x="456.8" y="2541.0" font-size="19.7" font-weight="bold" fill="#7fecec">SOX9</text><text x="516.6" y="2541.0" font-size="19.9" font-weight="bold" fill="#ee2a22">KRT6A</text><text x="615.5" y="2541" font-size="20.0" font-weight="bold"><tspan fill="#7fecec">MER</tspan><tspan fill="#ee2a22">GE</tspan></text><text x="695.6" y="2541.0" font-size="19.4" font-weight="bold" fill="#2424d8">DAPI</text><text x="757.5" y="2541.0" font-size="19.2" font-weight="bold" fill="#7fecec">EGR1</text><text x="817.3" y="2541.0" font-size="19.9" font-weight="bold" fill="#ece63c">KRT17</text><text x="919.4" y="2541.0" font-size="19.7" font-weight="bold" fill="#f24fe0">RUNX1</text><text x="993.9" y="2541.0" font-size="19.8" font-weight="bold" fill="#ece63c">KRT17</text><text x="1066.6" y="2541" font-size="20.1" font-weight="bold"><tspan fill="#f24fe0">MER</tspan><tspan fill="#ece63c">GE</tspan></text><text x="1147.1" y="2541.0" font-size="19.3" font-weight="bold" fill="#2424d8">DAPI</text><text x="1201.0" y="2541.0" font-size="19.7" font-weight="bold" fill="#f24fe0">RUNX1</text><text x="1276.0" y="2541.0" font-size="19.6" font-weight="bold" fill="#ece63c">KRT17</text><text x="1362.0" y="2541" font-size="20.1" font-weight="bold"><tspan fill="#f24fe0">MER</tspan><tspan fill="#ece63c">GE</tspan></text><text x="1442.9" y="2541.0" font-size="19.3" font-weight="bold" fill="#2424d8">DAPI</text>
<text x="16.1" y="2712.0" font-size="19.1" font-weight="bold" fill="#f24fe0">AREG</text><text x="79.1" y="2712.0" font-size="19.7" font-weight="bold" fill="#ee2a22">KRT6A</text><text x="177.1" y="2712.0" font-size="19.9" font-weight="bold" fill="#f24fe0">AREG</text><text x="242.4" y="2712.0" font-size="19.5" font-weight="bold" fill="#ee2a22">KRT6A</text><text x="324.3" y="2712" font-size="19.7" font-weight="bold"><tspan fill="#f24fe0">MER</tspan><tspan fill="#ee2a22">GE</tspan></text><text x="404.8" y="2712.0" font-size="19.7" font-weight="bold" fill="#2424d8">DAPI</text><text x="458.7" y="2712.0" font-size="19.6" font-weight="bold" fill="#f24fe0">AREG</text><text x="523.5" y="2712.0" font-size="19.6" font-weight="bold" fill="#ee2a22">KRT6A</text><text x="618.8" y="2712" font-size="19.4" font-weight="bold"><tspan fill="#f24fe0">MER</tspan><tspan fill="#ee2a22">GE</tspan></text><text x="698.3" y="2712.0" font-size="19.7" font-weight="bold" fill="#2424d8">DAPI</text><text x="756.1" y="2712.0" font-size="19.7" font-weight="bold" fill="#f24fe0">RUNX1</text><text x="829.7" y="2712.0" font-size="19.9" font-weight="bold" fill="#ece63c">KRT17</text><text x="919.4" y="2712.0" font-size="19.4" font-weight="bold" fill="#7fecec">EGR1</text><text x="980.1" y="2712.0" font-size="19.8" font-weight="bold" fill="#ece63c">KRT17</text><text x="1064.3" y="2712" font-size="19.7" font-weight="bold"><tspan fill="#7fecec">MER</tspan><tspan fill="#ece63c">GE</tspan></text><text x="1143.9" y="2712.0" font-size="19.6" font-weight="bold" fill="#2424d8">DAPI</text><text x="1201.0" y="2712.0" font-size="19.4" font-weight="bold" fill="#7fecec">EGR1</text><text x="1262.2" y="2712.0" font-size="19.6" font-weight="bold" fill="#ece63c">KRT17</text><text x="1359.7" y="2712" font-size="19.6" font-weight="bold"><tspan fill="#7fecec">MER</tspan><tspan fill="#ece63c">GE</tspan></text><text x="1439.3" y="2712.0" font-size="19.3" font-weight="bold" fill="#2424d8">DAPI</text>
</g>
<g id="g-npanel">
<text x="1515.3" y="2366.8" font-size="32.0" font-weight="bold">n</text>
<text x="1515.3" y="2587.8" font-size="32.0" font-weight="bold">o</text>
<text x="1622.7" y="2377.6" font-size="23.6" font-weight="bold">Tumour 12 heterogeneity</text>
<text x="1712.3" y="2412.2" font-size="20.3">SOX9+ cells</text>
<polygon points="1662.6,2529.5 1669.4,2491.7 1675.8,2510.5 1689.6,2450.6 1716.6,2435.9 1770.9,2462.0 1879.0,2536.2 1879.0,2551.0 1662.6,2551.0" fill="#8feae0"/>
<polyline points="1662.6,2529.5 1669.4,2491.7 1675.8,2510.5 1689.6,2450.6 1716.6,2435.9 1770.9,2462.0 1879.0,2536.2" fill="none" stroke="#000" stroke-width="1.5"/>
<g fill="#000"><circle cx="1662.6" cy="2529.5" r="4.3"/><circle cx="1669.4" cy="2491.7" r="4.3"/><circle cx="1675.8" cy="2510.5" r="4.3"/><circle cx="1689.6" cy="2450.6" r="4.3"/><circle cx="1716.6" cy="2435.9" r="4.3"/><circle cx="1770.9" cy="2462.0" r="4.3"/><circle cx="1879.0" cy="2536.2" r="4.3"/></g>
<path d="M1662.6 2401.2V2551.0H1900.5M1662.6 2402.7h-6.5M1662.6 2439.6h-6.5M1662.6 2476.7h-6.5M1662.6 2513.8h-6.5M1662.6 2551.0h-6.5M1662.6 2551.0v7.5M1696.4 2551.0v7.5M1730.1 2551.0v7.5M1764.5 2551.0v7.5M1798.3 2551.0v7.5M1832.0 2551.0v7.5M1866.1 2551.0v7.5M1900.1 2551.0v7.5" stroke="#000" stroke-width="1.6" fill="none"/>
<text x="1648.5" y="2409.5" font-size="19.5" text-anchor="end">40</text>
<text x="1648.5" y="2446.4" font-size="19.5" text-anchor="end">30</text>
<text x="1648.5" y="2483.5" font-size="19.5" text-anchor="end">20</text>
<text x="1648.5" y="2520.6" font-size="19.5" text-anchor="end">10</text>
<text x="1648.5" y="2557.8" font-size="19.5" text-anchor="end">0</text>
<text x="1665.1" y="2582.3" font-size="19.5" text-anchor="middle">0</text>
<text x="1696.4" y="2582.3" font-size="19.5" text-anchor="middle">5</text>
<text x="1730.1" y="2582.3" font-size="19.5" text-anchor="middle">10</text>
<text x="1764.5" y="2582.3" font-size="19.5" text-anchor="middle">15</text>
<text x="1798.3" y="2582.3" font-size="19.5" text-anchor="middle">20</text>
<text x="1832.0" y="2582.3" font-size="19.5" text-anchor="middle">25</text>
<text x="1866.1" y="2582.3" font-size="19.5" text-anchor="middle">30</text>
<text x="1901.1" y="2582.3" font-size="19.5" text-anchor="middle">35</text>
<text transform="translate(1579.5 2479.8) rotate(-90)" font-size="19.5" text-anchor="middle">Relative</text>
<text transform="translate(1604.5 2474.5) rotate(-90)" font-size="19.5" text-anchor="middle">frequency (%)</text>
<rect x="1531.6" y="2614.5" width="209.9" height="79.2" fill="#030303"/>
<g clip-path="url(#co1)"><rect x="1531.6" y="2614.5" width="209.9" height="79.2" fill="#8e8e8e"/><rect x="1531.6" y="2614.5" width="209.9" height="79.2" filter="url(#fo1)"/></g>
<path d="M1606 2644C1605 2646 1604 2648 1602 2649C1601 2650 1598 2652 1596 2652C1594 2651 1592 2649 1592 2647C1591 2645 1591 2643 1592 2641C1593 2639 1594 2637 1596 2636C1598 2635 1603 2634 1605 2636C1607 2637 1606 2642 1606 2644Z" fill="#6fe0d8"/>
<path d="M1624 2652C1624 2654 1622 2659 1619 2661C1617 2662 1613 2660 1610 2660C1607 2659 1604 2658 1603 2656C1602 2654 1603 2650 1604 2648C1605 2646 1608 2645 1610 2645C1612 2644 1614 2645 1617 2646C1619 2648 1623 2650 1624 2652Z" fill="#6fe0d8"/>
<path d="M1637 2650C1637 2652 1638 2656 1636 2657C1635 2659 1630 2659 1628 2659C1625 2658 1623 2656 1621 2654C1620 2652 1620 2648 1621 2646C1623 2644 1626 2644 1629 2644C1631 2644 1633 2644 1634 2645C1636 2646 1636 2648 1637 2650Z" fill="#6fe0d8"/>
<path d="M1656 2648C1656 2650 1655 2653 1653 2654C1651 2655 1648 2656 1646 2656C1644 2655 1641 2653 1640 2652C1640 2650 1642 2648 1643 2646C1644 2644 1645 2642 1646 2641C1648 2641 1651 2641 1653 2642C1654 2643 1656 2646 1656 2648Z" fill="#6fe0d8"/>
<path d="M1670 2650C1670 2651 1668 2653 1667 2654C1666 2655 1664 2656 1663 2655C1662 2655 1661 2653 1660 2652C1659 2650 1657 2648 1657 2647C1658 2645 1661 2643 1662 2643C1664 2643 1667 2644 1668 2645C1669 2647 1670 2649 1670 2650Z" fill="#6fe0d8"/>
<path d="M1684 2647C1685 2648 1685 2651 1684 2652C1683 2652 1680 2652 1679 2652C1677 2651 1675 2651 1674 2650C1674 2648 1674 2646 1675 2645C1675 2643 1677 2643 1679 2642C1680 2642 1682 2643 1683 2643C1684 2644 1684 2646 1684 2647Z" fill="#6fe0d8"/>
<path d="M1595 2636C1595 2637 1594 2639 1593 2640C1592 2640 1590 2640 1589 2640C1588 2639 1587 2639 1586 2638C1585 2637 1584 2634 1585 2634C1585 2633 1588 2633 1589 2633C1590 2633 1591 2633 1592 2633C1593 2634 1595 2635 1595 2636Z" fill="#6fe0d8"/>
<path d="M1645 2640C1645 2641 1644 2642 1643 2643C1642 2644 1640 2645 1639 2645C1638 2645 1636 2643 1636 2642C1635 2641 1635 2639 1636 2638C1636 2637 1637 2634 1639 2634C1640 2634 1641 2636 1643 2637C1644 2638 1645 2639 1645 2640Z" fill="#6fe0d8"/>
<polygon points="1616.7,2624.3 1625.7,2624.3 1621.2,2640.3" fill="#fff"/>
<polygon points="1636.6,2619.1 1645.6,2619.1 1641.1,2635.1" fill="#fff"/>
<polygon points="1671.0,2622.8 1680.0,2622.8 1675.5,2638.8" fill="#fff"/>
<rect x="1747.9" y="2614.5" width="209.9" height="79.2" fill="#2020c8"/>
<rect x="1747.9" y="2614.5" width="209.9" height="79.2" filter="url(#fo3)"/>
<rect x="1775" y="2614.5" width="150" height="55" filter="url(#fo2)"/>
<g clip-path="url(#co1)" transform="translate(216.3 0)" opacity="0.8"><rect x="1531.6" y="2636.5" width="209.9" height="57.2" fill="#b4b4c4"/><rect x="1531.6" y="2614.5" width="209.9" height="79.2" filter="url(#fo1)"/></g>
<path d="M1826 2658C1826 2660 1824 2662 1822 2663C1821 2664 1818 2666 1816 2666C1814 2666 1813 2663 1812 2661C1811 2659 1811 2657 1811 2655C1812 2653 1814 2650 1816 2649C1818 2649 1821 2651 1822 2653C1824 2654 1826 2656 1826 2658Z" fill="#8ae6e0"/>
<path d="M1813 2645C1813 2646 1813 2649 1812 2650C1811 2650 1808 2649 1807 2649C1806 2648 1805 2647 1805 2647C1804 2646 1804 2644 1804 2643C1805 2642 1806 2640 1807 2640C1808 2639 1810 2640 1811 2641C1812 2642 1813 2644 1813 2645Z" fill="#8ae6e0"/>
<path d="M1810 2656C1810 2659 1809 2662 1808 2663C1806 2665 1803 2665 1800 2665C1797 2665 1793 2665 1792 2664C1790 2662 1791 2659 1791 2656C1791 2653 1789 2649 1791 2647C1792 2645 1797 2642 1800 2642C1803 2642 1809 2643 1811 2646C1812 2648 1811 2653 1810 2656Z" fill="#f02a2a"/>
<path d="M1864 2650C1864 2654 1863 2660 1861 2662C1858 2664 1852 2660 1848 2659C1844 2659 1842 2660 1839 2658C1836 2657 1831 2653 1830 2650C1830 2647 1833 2641 1836 2639C1839 2637 1844 2638 1848 2637C1852 2637 1858 2636 1861 2638C1863 2640 1864 2646 1864 2650Z" fill="#f02a2a"/>
<path d="M1824 2658C1825 2660 1824 2662 1822 2663C1821 2664 1818 2663 1817 2663C1815 2662 1814 2661 1814 2660C1813 2659 1812 2657 1813 2656C1813 2655 1816 2654 1817 2654C1818 2653 1820 2653 1821 2654C1823 2655 1824 2656 1824 2658Z" fill="#8ae6e0"/>
<text x="1926.5" y="2629.2" font-size="19.1" font-weight="bold" fill="#fff">2m</text>
<rect x="1927.5" y="2682.9" width="26.7" height="5.2" fill="#fff"/>
<text x="1532.8" y="2712.1" font-size="19.9" font-weight="bold" fill="#7fecec">SOX9</text>
<text x="1592.9" y="2712.1" font-size="20.2" font-weight="bold" fill="#bdbdbd">PDGFR<tspan font-weight="normal" font-style="italic">α</tspan></text>
<text x="1747.9" y="2712.1" font-size="19.7" font-weight="bold"><tspan fill="#7fecec">MER</tspan><tspan fill="#bdbdbd">GE</tspan></text>
<text x="1826.8" y="2712.1" font-size="19.8" font-weight="bold" fill="#ee2a22">KRT6A</text>
<text x="1899.8" y="2712.1" font-size="19.5" font-weight="bold" fill="#2424d8">DAPI</text>
</g>
</svg>
</body></html>
